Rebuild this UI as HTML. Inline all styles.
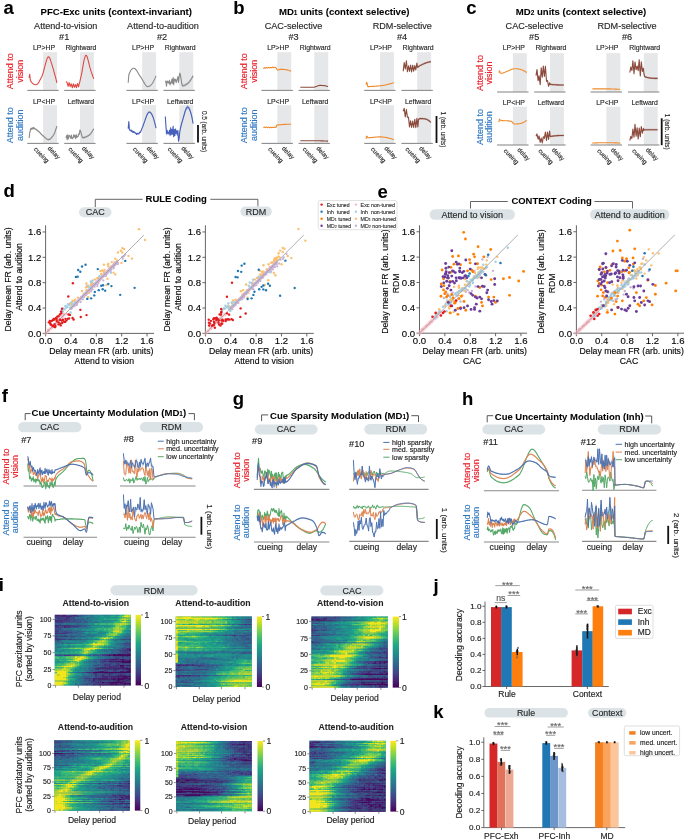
<!DOCTYPE html>
<html><head><meta charset="utf-8"><style>
html,body{margin:0;padding:0;background:#fff;width:685px;height:839px;overflow:hidden}
svg{display:block;font-family:"Liberation Sans", sans-serif;will-change:transform}

</style></head><body>
<svg width="685" height="839" viewBox="0 0 685 839">
<text x="3.6" y="13.5" font-size="18.5" font-weight="bold" fill="#000" stroke="#000" stroke-width="0.07">a</text>
<text x="116.2" y="15.2" font-size="9.6" text-anchor="middle" font-weight="bold" stroke="#1a1a1a" stroke-width="0.07">PFC-Exc units (context-invariant)</text>
<text x="65.7" y="29.3" font-size="9.1" text-anchor="middle" fill="#2a2a2a" stroke="#2a2a2a" stroke-width="0.15">Attend-to-vision</text>
<text x="64.2" y="40.2" font-size="9.2" text-anchor="middle" fill="#2a2a2a" stroke="#2a2a2a" stroke-width="0.15">#1</text>
<rect x="43.1" y="52.2" width="13.9" height="38.2" fill="#e6e7e9"/>
<line x1="27.3" y1="90.4" x2="58.7" y2="90.4" stroke="#8c8c8c" stroke-width="1.1"/>
<text x="44" y="50" font-size="6.9" text-anchor="middle" fill="#2a2a2a" stroke="#2a2a2a" stroke-width="0.15">LP&gt;HP</text>
<path d="M29.1 77.8l.6-3.4 .6 5.3 .6 1.7 .6 .8 .6 .7 .5 .5 .6 .4 .6 .4 .6 .2 .6 .2 .6 .1 .6 0 .6-.2 .6-.5 .6-.6 .6-.9 .6-.9 .5-1.1 .6-1.1 .6-1.1 .6-1.1 .6-1.3 .6-1.6 .6-2 .6-2.3 .6-2.3 .6-2.3 .6-2.3 .6-2 .5-1.8 .6-1.4 .6-.8 .6-.3 .6 .4 .6 1.1 .6 1.5 .6 1.8 .6 2.1 .6 2 .6 1.9 .6 1.8 .5 2 .6 2.1 .6 2.2 .6 2.2 .6 2.4 .6 2.5" fill="none" stroke="#e04a44" stroke-width="1.1" stroke-linejoin="round"/>
<rect x="43.1" y="105.2" width="13.9" height="38.2" fill="#e6e7e9"/>
<line x1="27.3" y1="143.4" x2="58.7" y2="143.4" stroke="#8c8c8c" stroke-width="1.1"/>
<text x="44" y="103.5" font-size="6.9" text-anchor="middle" fill="#2a2a2a" stroke="#2a2a2a" stroke-width="0.15">LP&lt;HP</text>
<path d="M29.1 137l.6-4.8 .6-2.8 .6-2.1 .6 1 .6-1.3 .6 .9 .6-1.5 .6 1.3 .6-.5 .6 .7 .7 .4 .7 .5 .6 .4 .7 .5 .7 .6 .7 .7 .7 .7 .7 .7 .6 .7 .7 .7 .7 .6 .7 .6 .7 .6 .6 .6 .7 .6 .7 .6 .7 .5 .7 .4 .6 .2 .7 .1 .7-.2 .7-.4 .7-.6 .7-.7 .6-.8 .7-.9 .7-1 .7-1.3 .7-1.5 .6-1.9 .7-2 .7-2.1 0 2 -.7 2.1 -.7 2 -.6 1.9 -.7 1.5 -.7 1.3 -.7 1 -.7 .9 -.6 .8 -.7 .7 -.7 .6 -.7 .4 -.7 .2 -.7-.1 -.6-.2 -.7-.4 -.7-.5 -.7-.6 -.7-.6 -.6-.6 -.7-.6 -.7-.6 -.7-.6 -.7-.7 -.6-.7 -.7-.7 -.7-.7 -.7-.7 -.7-.6 -.7-.5 -.6-.4 -.7-.5 -.7-.4 -.6-.7 -.6 .5 -.6-1.3 -.6 1.5 -.6-.9 -.6 1.3 -.6-1 -.6 2.1 -.6 2.8 -.6 4.8z" fill="#8a8a8a" fill-opacity="0.3"/>
<path d="M29.1 138l.6-4.8 .6-2.8 .6-2.1 .6 1 .6-1.3 .6 .9 .6-1.5 .6 1.3 .6-.5 .6 .7 .7 .4 .7 .5 .6 .4 .7 .5 .7 .6 .7 .7 .7 .7 .7 .7 .6 .7 .7 .7 .7 .6 .7 .6 .7 .6 .6 .6 .7 .6 .7 .6 .7 .5 .7 .4 .6 .2 .7 .1 .7-.2 .7-.4 .7-.6 .7-.7 .6-.8 .7-.9 .7-1 .7-1.3 .7-1.5 .6-1.9 .7-2 .7-2.1" fill="none" stroke="#8a8a8a" stroke-width="1.1" stroke-linejoin="round"/>
<text transform="translate(33.5 149.6) rotate(46)" font-size="6.3" fill="#2a2a2a" stroke="#2a2a2a" stroke-width="0.15">cueing</text>
<text transform="translate(47.2 148.7) rotate(46)" font-size="6.3" fill="#2a2a2a" stroke="#2a2a2a" stroke-width="0.15">delay</text>
<rect x="80" y="52.2" width="13.9" height="38.2" fill="#e6e7e9"/>
<line x1="64.2" y1="90.4" x2="95.6" y2="90.4" stroke="#8c8c8c" stroke-width="1.1"/>
<text x="80.9" y="50" font-size="6.9" text-anchor="middle" fill="#2a2a2a" stroke="#2a2a2a" stroke-width="0.15">Rightward</text>
<path d="M66 81.5l1 .9 1.1 3.9 1-3.8 1.1 4.2 1-3 1.1 4.1 1-4 1.1 3.5 1-2.8 1.1 3.2 1-4.2 1.1 3.4 .6-2.8 .7-2.7 .6-2.7 .7-2.9 .7-3.5 .6-3.7 .7-3.8 .6-3.4 .7-3 .7-2.1 .6-1 .7 .3 .7 1.3 .6 2.2 .7 2.6 .7 2.8 .6 2.7 .7 2.2 .6 2 .7 2 .7 1.9 .6 1.8 .7 1.8" fill="none" stroke="#e04a44" stroke-width="1.1" stroke-linejoin="round"/>
<rect x="80" y="105.2" width="13.9" height="38.2" fill="#e6e7e9"/>
<line x1="64.2" y1="143.4" x2="95.6" y2="143.4" stroke="#8c8c8c" stroke-width="1.1"/>
<text x="80.9" y="103.5" font-size="6.9" text-anchor="middle" fill="#2a2a2a" stroke="#2a2a2a" stroke-width="0.15">Leftward</text>
<path d="M66 136.8l.6-2.4 .6 4 .6-4.9 .6 4.2 .6-3.3 .6 .2 .6 .7 .6 1.7 .6-3.2 .6 3.7 .6-.5 .6-.4 .6-3.1 .6 2.2 .6-1.4 .6 3.2 .6-4 .6 2.7 .6-.8 .6-.1 .6-2.5 .6 .5 .7-4.4 .6 .9 .7 2.4 .7 2.6 .6 1.6 .7 0 .6 0 .7-.2 .7-.2 .6-.3 .7-.3 .7-.3 .6-.3 .7-.4 .7-.5 .6-.6 .7-.7 .6-.8 .7-1 .7-1 .6-1 .7-1.1 0 2.4 -.7 1.1 -.6 1 -.7 1 -.7 1 -.6 .8 -.7 .7 -.6 .6 -.7 .5 -.7 .4 -.6 .3 -.7 .3 -.7 .3 -.6 .3 -.7 .2 -.7 .2 -.6 0 -.7 0 -.6-1.6 -.7-2.6 -.7-2.4 -.6-.9 -.7 4.4 -.6-.5 -.6 2.5 -.6 .1 -.6 .8 -.6-2.7 -.6 4 -.6-3.2 -.6 1.4 -.6-2.2 -.6 3.1 -.6 .4 -.6 .5 -.6-3.7 -.6 3.2 -.6-1.7 -.6-.7 -.6-.2 -.6 3.3 -.6-4.2 -.6 4.9 -.6-4 -.6 2.4z" fill="#8a8a8a" fill-opacity="0.3"/>
<path d="M66 138l.6-2.4 .6 4 .6-4.9 .6 4.2 .6-3.3 .6 .2 .6 .7 .6 1.7 .6-3.2 .6 3.7 .6-.5 .6-.4 .6-3.1 .6 2.2 .6-1.4 .6 3.2 .6-4 .6 2.7 .6-.8 .6-.1 .6-2.5 .6 .5 .7-4.4 .6 .9 .7 2.4 .7 2.6 .6 1.6 .7 0 .6 0 .7-.2 .7-.2 .6-.3 .7-.3 .7-.3 .6-.3 .7-.4 .7-.5 .6-.6 .7-.7 .6-.8 .7-1 .7-1 .6-1 .7-1.1" fill="none" stroke="#8a8a8a" stroke-width="1.1" stroke-linejoin="round"/>
<text transform="translate(67.9 149.6) rotate(46)" font-size="6.3" fill="#2a2a2a" stroke="#2a2a2a" stroke-width="0.15">cueing</text>
<text transform="translate(81.6 148.7) rotate(46)" font-size="6.3" fill="#2a2a2a" stroke="#2a2a2a" stroke-width="0.15">delay</text>
<text x="163" y="29.3" font-size="9.1" text-anchor="middle" fill="#2a2a2a" stroke="#2a2a2a" stroke-width="0.15">Attend-to-audition</text>
<text x="162" y="40.2" font-size="9.2" text-anchor="middle" fill="#2a2a2a" stroke="#2a2a2a" stroke-width="0.15">#2</text>
<rect x="142.2" y="52.2" width="13.9" height="38.2" fill="#e6e7e9"/>
<line x1="126.4" y1="90.4" x2="157.8" y2="90.4" stroke="#8c8c8c" stroke-width="1.1"/>
<text x="143.1" y="50" font-size="6.9" text-anchor="middle" fill="#2a2a2a" stroke="#2a2a2a" stroke-width="0.15">LP&gt;HP</text>
<path d="M128.2 82.8l.6-7.8 .6-1.7 .6-1.4 .6-1.2 .6-.9 .5-.7 .6-.4 .6-.3 .6-.1 .6 0 .6 .2 .6 .5 .6 .6 .6 .8 .6 .8 .6 1 .6 1 .5 1 .6 .9 .6 1 .6 .8 .6 .8 .6 1 .6 1 .6 1.1 .6 1.1 .6 1 .6 1 .6 .9 .5 .7 .6 .6 .6 .4 .6 .1 .6-.1 .6-.1 .6-.3 .6-.3 .6-.5 .6-.6 .6-.7 .6-.8 .5-.9 .6-1 .6-1.2 .6-1.3 .6-1.4 .6-1.5" fill="none" stroke="#8a8a8a" stroke-width="1.1" stroke-linejoin="round"/>
<rect x="142.2" y="105.2" width="13.9" height="38.2" fill="#e6e7e9"/>
<line x1="126.4" y1="143.4" x2="157.8" y2="143.4" stroke="#8c8c8c" stroke-width="1.1"/>
<text x="143.1" y="103.5" font-size="6.9" text-anchor="middle" fill="#2a2a2a" stroke="#2a2a2a" stroke-width="0.15">LP&lt;HP</text>
<path d="M128.2 127.6l.6-7.1 .6 7.9 .6 1 .6 .4 .6-.7 .6 1.5 .6-.6 .6 1.5 .6-1 .6 1.1 .6-.3 .6 .9 .6 .1 .6 1.1 .6-1.1 .6 .6 .6-.3 .6 .1 .6-1.4 .6 .2 .6-1.2 .7-1.6 .6-1.6 .7-1.6 .6-1.7 .7-1.9 .7-2 .6-1.9 .7-1.8 .6-1.7 .7-1.4 .7-1.1 .6-.7 .7-.2 .7 .2 .6 .5 .7 .9 .6 1.1 .7 1.5 .7 1.8 .6 2.1 .7 2.4 .6 2.6 .7 2.9 0 2 -.7-2.9 -.6-2.6 -.7-2.4 -.6-2.1 -.7-1.8 -.7-1.5 -.6-1.1 -.7-.9 -.6-.5 -.7-.2 -.7 .2 -.6 .7 -.7 1.1 -.7 1.4 -.6 1.7 -.7 1.8 -.6 1.9 -.7 2 -.7 1.9 -.6 1.7 -.7 1.6 -.6 1.6 -.7 1.6 -.6 1.2 -.6-.2 -.6 1.4 -.6-.1 -.6 .3 -.6-.6 -.6 1.1 -.6-1.1 -.6-.1 -.6-.9 -.6 .3 -.6-1.1 -.6 1 -.6-1.5 -.6 .6 -.6-1.5 -.6 .7 -.6-.4 -.6-1 -.6-7.9 -.6 7.1z" fill="#4660bb" fill-opacity="0.3"/>
<path d="M128.2 128.6l.6-7.1 .6 7.9 .6 1 .6 .4 .6-.7 .6 1.5 .6-.6 .6 1.5 .6-1 .6 1.1 .6-.3 .6 .9 .6 .1 .6 1.1 .6-1.1 .6 .6 .6-.3 .6 .1 .6-1.4 .6 .2 .6-1.2 .7-1.6 .6-1.6 .7-1.6 .6-1.7 .7-1.9 .7-2 .6-1.9 .7-1.8 .6-1.7 .7-1.4 .7-1.1 .6-.7 .7-.2 .7 .2 .6 .5 .7 .9 .6 1.1 .7 1.5 .7 1.8 .6 2.1 .7 2.4 .6 2.6 .7 2.9" fill="none" stroke="#4660bb" stroke-width="1.1" stroke-linejoin="round"/>
<text transform="translate(132.6 149.6) rotate(46)" font-size="6.3" fill="#2a2a2a" stroke="#2a2a2a" stroke-width="0.15">cueing</text>
<text transform="translate(146.3 148.7) rotate(46)" font-size="6.3" fill="#2a2a2a" stroke="#2a2a2a" stroke-width="0.15">delay</text>
<rect x="179.3" y="52.2" width="13.9" height="38.2" fill="#e6e7e9"/>
<line x1="163.5" y1="90.4" x2="194.9" y2="90.4" stroke="#8c8c8c" stroke-width="1.1"/>
<text x="180.2" y="50" font-size="6.9" text-anchor="middle" fill="#2a2a2a" stroke="#2a2a2a" stroke-width="0.15">Rightward</text>
<path d="M165.3 80.8l.6-1.1 .6 4.9 .6-5.1 .6 1.5 .6-.7 .6 1.5 .6-2.9 .6 4.5 .6-2.7 .6 .7 .6-3.6 .6 4.1 .6-5.9 .6 7.3 .6-5.7 .6 1.5 .6-1.2 .6 3.1 .6-1.4 .6-2.3 .6-2 .6 5.6 .6-5.7 .7-3.5 .6 1.9 .7 4.1 .7 4.3 .6 2.3 .7 0 .7-.2 .6-.2 .7-.3 .7-.4 .6-.4 .7-.5 .7-.4 .6-.6 .7-.7 .7-.8 .6-.9 .7-1.1 .7-1 .6-1.2 .7-1.2 0 3 -.7 1.2 -.6 1.2 -.7 1 -.7 1.1 -.6 .9 -.7 .8 -.7 .7 -.6 .6 -.7 .4 -.7 .5 -.6 .4 -.7 .4 -.7 .3 -.6 .2 -.7 .2 -.7 0 -.6-2.3 -.7-4.3 -.7-4.1 -.6-1.9 -.7 3.5 -.6 5.7 -.6-5.6 -.6 2 -.6 2.3 -.6 1.4 -.6-3.1 -.6 1.2 -.6-1.5 -.6 5.7 -.6-7.3 -.6 5.9 -.6-4.1 -.6 3.6 -.6-.7 -.6 2.7 -.6-4.5 -.6 2.9 -.6-1.5 -.6 .7 -.6-1.5 -.6 5.1 -.6-4.9 -.6 1.1z" fill="#8a8a8a" fill-opacity="0.3"/>
<path d="M165.3 82.3l.6-1.1 .6 4.9 .6-5.1 .6 1.5 .6-.7 .6 1.5 .6-2.9 .6 4.5 .6-2.7 .6 .7 .6-3.6 .6 4.1 .6-5.9 .6 7.3 .6-5.7 .6 1.5 .6-1.2 .6 3.1 .6-1.4 .6-2.3 .6-2 .6 5.6 .6-5.7 .7-3.5 .6 1.9 .7 4.1 .7 4.3 .6 2.3 .7 0 .7-.2 .6-.2 .7-.3 .7-.4 .6-.4 .7-.5 .7-.4 .6-.6 .7-.7 .7-.8 .6-.9 .7-1.1 .7-1 .6-1.2 .7-1.2" fill="none" stroke="#8a8a8a" stroke-width="1.1" stroke-linejoin="round"/>
<rect x="179.3" y="105.2" width="13.9" height="38.2" fill="#e6e7e9"/>
<line x1="163.5" y1="143.4" x2="194.9" y2="143.4" stroke="#8c8c8c" stroke-width="1.1"/>
<text x="180.2" y="103.5" font-size="6.9" text-anchor="middle" fill="#2a2a2a" stroke="#2a2a2a" stroke-width="0.15">Leftward</text>
<path d="M165.3 114.5l.6 8.8 .6 8.7 .6-3.6 .6 3 .6-.8 .6 1.2 .6-3.6 .6 5.3 .6-7.7 .6 6.7 .6-5 .6 4.7 .6-7.8 .6 10.2 .6-7.1 .6 6.1 .6-6.6 .6 4.3 .6-2.5 .6 4.1 .6-4.3 .6 10.5 .7-3.2 .6-6.4 .7-3.4 .7-2.8 .6-2.4 .7-2.2 .6-2.3 .7-2.4 .7-2.4 .6-2.2 .7-1.9 .7-1.4 .6-.8 .7-.2 .7 .5 .6 .8 .7 1.4 .6 1.8 .7 2.3 .7 2.7 .6 3.2 .7 3.7 0 4 -.7-3.7 -.6-3.2 -.7-2.7 -.7-2.3 -.6-1.8 -.7-1.4 -.6-.8 -.7-.5 -.7 .2 -.6 .8 -.7 1.4 -.7 1.9 -.6 2.2 -.7 2.4 -.7 2.4 -.6 2.3 -.7 2.2 -.6 2.4 -.7 2.8 -.7 3.4 -.6 6.4 -.7 3.2 -.6-10.5 -.6 4.3 -.6-4.1 -.6 2.5 -.6-4.3 -.6 6.6 -.6-6.1 -.6 7.1 -.6-10.2 -.6 7.8 -.6-4.7 -.6 5 -.6-6.7 -.6 7.7 -.6-5.3 -.6 3.6 -.6-1.2 -.6 .8 -.6-3 -.6 3.6 -.6-8.7 -.6-8.8z" fill="#4660bb" fill-opacity="0.3"/>
<path d="M165.3 116.5l.6 8.8 .6 8.7 .6-3.6 .6 3 .6-.8 .6 1.2 .6-3.6 .6 5.3 .6-7.7 .6 6.7 .6-5 .6 4.7 .6-7.8 .6 10.2 .6-7.1 .6 6.1 .6-6.6 .6 4.3 .6-2.5 .6 4.1 .6-4.3 .6 10.5 .7-3.2 .6-6.4 .7-3.4 .7-2.8 .6-2.4 .7-2.2 .6-2.3 .7-2.4 .7-2.4 .6-2.2 .7-1.9 .7-1.4 .6-.8 .7-.2 .7 .5 .6 .8 .7 1.4 .6 1.8 .7 2.3 .7 2.7 .6 3.2 .7 3.7" fill="none" stroke="#4660bb" stroke-width="1.1" stroke-linejoin="round"/>
<text transform="translate(167.2 149.6) rotate(46)" font-size="6.3" fill="#2a2a2a" stroke="#2a2a2a" stroke-width="0.15">cueing</text>
<text transform="translate(180.9 148.7) rotate(46)" font-size="6.3" fill="#2a2a2a" stroke="#2a2a2a" stroke-width="0.15">delay</text>
<g fill="#e8212b" stroke="#e8212b" stroke-width="0.15" font-size="9" text-anchor="middle">
<text transform="translate(13.2 71.3) rotate(-90)"><tspan x="0" y="0">Attend to</tspan><tspan x="0" y="9.6">vision</tspan></text>
</g>
<g fill="#2f78c2" stroke="#2f78c2" stroke-width="0.15" font-size="9" text-anchor="middle">
<text transform="translate(13.2 125.3) rotate(-90)"><tspan x="0" y="0">Attend to</tspan><tspan x="0" y="9.6">audition</tspan></text>
</g>
<line x1="198" y1="125" x2="198" y2="142.6" stroke="#111" stroke-width="1.8"/>
<text transform="translate(202.4 131.5) rotate(90)" font-size="6.4" text-anchor="middle" fill="#2a2a2a" stroke="#2a2a2a" stroke-width="0.15">0.5 (arb. units)</text>
<text x="233.2" y="13.5" font-size="18.5" font-weight="bold" fill="#000" stroke="#000" stroke-width="0.07">b</text>
<text x="344.2" y="15.2" font-size="9.6" text-anchor="middle" font-weight="bold" stroke="#1a1a1a" stroke-width="0.07">MD<tspan font-size="6.5">1</tspan> units (context selective)</text>
<text x="293.5" y="29.3" font-size="9.1" text-anchor="middle" fill="#2a2a2a" stroke="#2a2a2a" stroke-width="0.15">CAC-selective</text>
<text x="293.6" y="40.2" font-size="9.2" text-anchor="middle" fill="#2a2a2a" stroke="#2a2a2a" stroke-width="0.15">#3</text>
<rect x="277.3" y="52.2" width="13.9" height="38.2" fill="#e6e7e9"/>
<line x1="261.5" y1="90.4" x2="292.9" y2="90.4" stroke="#8c8c8c" stroke-width="1.1"/>
<text x="278.2" y="50" font-size="6.9" text-anchor="middle" fill="#2a2a2a" stroke="#2a2a2a" stroke-width="0.15">LP&gt;HP</text>
<path d="M263.3 68.7l1.1-1.1 1 .7 1.1-.8 1 .4 1.1-.6 1 .6 1.1-.5 1 .3 1.1-.7 1 .9 1.1-.7 1 .6 1.1 1.6 .6 .7 .6-.2 .6-.2 .7-.2 .6-.1 .7 0 .6 0 .7 0 .6 0 .7 0 .6 .1 .6 0 .7 .1 .6 .1 .7 .1 .6 .1 .7 .2 .6 .2 .7 .2 .6 .2 .7 .3 .6 .3" fill="none" stroke="#f08a2a" stroke-width="1.1" stroke-linejoin="round"/>
<rect x="277.3" y="105.2" width="13.9" height="38.2" fill="#e6e7e9"/>
<line x1="261.5" y1="143.4" x2="292.9" y2="143.4" stroke="#8c8c8c" stroke-width="1.1"/>
<text x="278.2" y="103.5" font-size="6.9" text-anchor="middle" fill="#2a2a2a" stroke="#2a2a2a" stroke-width="0.15">LP&lt;HP</text>
<path d="M263.3 127.6l1.1-.5 1 .5 1.1-.5 1 .7 1.1-.7 1 .6 1.1-.6 1 .6 1.1-.5 1 .3 1.1-.5 1 .5 1.1-2.6 .6 .1 .6-.1 .6 0 .7-.1 .6-.1 .7 0 .6-.1 .7 0 .6-.1 .7 0 .6-.1 .6 0 .7 0 .6 0 .7-.1 .6 0 .7 0 .6 0 .7 0 .6 0 .7 0 .6 0" fill="none" stroke="#f08a2a" stroke-width="1.1" stroke-linejoin="round"/>
<text transform="translate(267.7 149.6) rotate(46)" font-size="6.3" fill="#2a2a2a" stroke="#2a2a2a" stroke-width="0.15">cueing</text>
<text transform="translate(281.4 148.7) rotate(46)" font-size="6.3" fill="#2a2a2a" stroke="#2a2a2a" stroke-width="0.15">delay</text>
<rect x="314.3" y="52.2" width="13.9" height="38.2" fill="#e6e7e9"/>
<line x1="298.5" y1="90.4" x2="329.9" y2="90.4" stroke="#8c8c8c" stroke-width="1.1"/>
<text x="315.2" y="50" font-size="6.9" text-anchor="middle" fill="#2a2a2a" stroke="#2a2a2a" stroke-width="0.15">Rightward</text>
<path d="M300.3 87.3l.6 0 .6 0 .6 0 .6 0 .6 0 .5 0 .6 0 .6 0 .6 0 .6 0 .6 0 .6 0 .6 0 .6 0 .6 0 .6 0 .6 0 .5 0 .6 0 .6 0 .6 0 .6 0 .6-.1 .6-.1 .6-.2 .6-.3 .6-.2 .6-.2 .6-.3 .5-.2 .6-.1 .6-.1 .6-.1 .6 0 .6 0 .6 .1 .6 0 .6 0 .6 .1 .6 0 .6 .1 .5 .1 .6 .1 .6 .1 .6 .2 .6 .2 .6 .2" fill="none" stroke="#8b4a3c" stroke-width="1.1" stroke-linejoin="round"/>
<rect x="314.3" y="105.2" width="13.9" height="38.2" fill="#e6e7e9"/>
<line x1="298.5" y1="143.4" x2="329.9" y2="143.4" stroke="#8c8c8c" stroke-width="1.1"/>
<text x="315.2" y="103.5" font-size="6.9" text-anchor="middle" fill="#2a2a2a" stroke="#2a2a2a" stroke-width="0.15">Leftward</text>
<path d="M300.3 140.7l.6 0 .6 0 .6 0 .6 0 .6 0 .5 0 .6 0 .6 0 .6 0 .6 0 .6 0 .6 0 .6 0 .6 0 .6 0 .6 0 .6 0 .5 0 .6 0 .6 0 .6 0 .6 0 .6 0 .6 0 .6 0 .6 0 .6 .1 .6 0 .6 0 .5 0 .6 0 .6 0 .6 0 .6 0 .6 .1 .6 0 .6 0 .6 0 .6 0 .6 .1 .6 0 .5 0 .6 0 .6 0 .6 .1 .6 0 .6 0" fill="none" stroke="#8b4a3c" stroke-width="1.1" stroke-linejoin="round"/>
<text transform="translate(302.2 149.6) rotate(46)" font-size="6.3" fill="#2a2a2a" stroke="#2a2a2a" stroke-width="0.15">cueing</text>
<text transform="translate(315.9 148.7) rotate(46)" font-size="6.3" fill="#2a2a2a" stroke="#2a2a2a" stroke-width="0.15">delay</text>
<text x="402.3" y="29.3" font-size="9.1" text-anchor="middle" fill="#2a2a2a" stroke="#2a2a2a" stroke-width="0.15">RDM-selective</text>
<text x="402" y="40.2" font-size="9.2" text-anchor="middle" fill="#2a2a2a" stroke="#2a2a2a" stroke-width="0.15">#4</text>
<rect x="380" y="52.2" width="13.9" height="38.2" fill="#e6e7e9"/>
<line x1="364.2" y1="90.4" x2="395.6" y2="90.4" stroke="#8c8c8c" stroke-width="1.1"/>
<text x="380.9" y="50" font-size="6.9" text-anchor="middle" fill="#2a2a2a" stroke="#2a2a2a" stroke-width="0.15">LP&gt;HP</text>
<path d="M366 84.7l.6-2.5 .6 1.5 .6 2.9 .6 0 .6 0 .5 0 .6-.1 .6 0 .6 0 .6 0 .6-.1 .6 0 .6 0 .6-.1 .6 0 .6-.1 .6 0 .5-.1 .6 0 .6-.1 .6 0 .6-.1 .6-.1 .6 0 .6-.1 .6-.1 .6 0 .6-.1 .6-.1 .5-.1 .6-.1 .6-.1 .6-.2 .6-.1 .6-.1 .6-.2 .6-.1 .6-.1 .6-.2 .6-.2 .6-.1 .5-.2 .6-.1 .6-.2 .6-.2 .6-.2 .6-.1" fill="none" stroke="#f08a2a" stroke-width="1.1" stroke-linejoin="round"/>
<rect x="380" y="105.2" width="13.9" height="38.2" fill="#e6e7e9"/>
<line x1="364.2" y1="143.4" x2="395.6" y2="143.4" stroke="#8c8c8c" stroke-width="1.1"/>
<text x="380.9" y="103.5" font-size="6.9" text-anchor="middle" fill="#2a2a2a" stroke="#2a2a2a" stroke-width="0.15">LP&lt;HP</text>
<path d="M366 138.8l.6-2.7 .6 .4 .6 1.2 .6 0 .6-.1 .5 0 .6 0 .6 0 .6-.1 .6 0 .6-.1 .6 0 .6-.1 .6-.1 .6 0 .6-.1 .6 0 .5-.1 .6 0 .6 0 .6-.1 .6 0 .6 0 .6 0 .6 0 .6 0 .6 .1 .6 0 .6 .1 .5 .1 .6 0 .6 .1 .6 .1 .6 .1 .6 .1 .6 .2 .6 .1 .6 .1 .6 .2 .6 .1 .6 .2 .5 .2 .6 .1 .6 .2 .6 .2 .6 .2 .6 .2" fill="none" stroke="#f08a2a" stroke-width="1.1" stroke-linejoin="round"/>
<text transform="translate(370.4 149.6) rotate(46)" font-size="6.3" fill="#2a2a2a" stroke="#2a2a2a" stroke-width="0.15">cueing</text>
<text transform="translate(384.1 148.7) rotate(46)" font-size="6.3" fill="#2a2a2a" stroke="#2a2a2a" stroke-width="0.15">delay</text>
<rect x="417.2" y="52.2" width="13.9" height="38.2" fill="#e6e7e9"/>
<line x1="401.4" y1="90.4" x2="432.8" y2="90.4" stroke="#8c8c8c" stroke-width="1.1"/>
<text x="418.1" y="50" font-size="6.9" text-anchor="middle" fill="#2a2a2a" stroke="#2a2a2a" stroke-width="0.15">Rightward</text>
<path d="M403.2 70.3l1-8.7 1.1 6.4 1.1-8.2 1 10.9 1.1-5.8 1 5.4 1.1-6.2 1 6.9 1.1-6.8 1 6 1.1-5.7 1 4.5 1.1-7 .6 4.4 .6-.4 .6-.5 .7-.6 .6-.4 .7-.3 .6-.3 .7-.3 .6-.3 .7-.3 .6-.3 .6-.3 .7-.2 .6-.3 .7-.2 .6-.2 .7-.2 .6-.1 .7-.2 .6-.1 .7-.1 .6 0 0 2 -.6 0 -.7 .1 -.6 .1 -.7 .2 -.6 .1 -.7 .2 -.6 .2 -.7 .2 -.6 .3 -.7 .2 -.6 .3 -.6 .3 -.7 .3 -.6 .3 -.7 .3 -.6 .3 -.7 .3 -.6 .4 -.7 .6 -.6 .5 -.6 .4 -.6-4.4 -1.1 7 -1-4.5 -1.1 5.7 -1-6 -1.1 6.8 -1-6.9 -1.1 6.2 -1-5.4 -1.1 5.8 -1-10.9 -1.1 8.2 -1.1-6.4 -1 8.7z" fill="#8b4a3c" fill-opacity="0.3"/>
<path d="M403.2 71.3l1-8.7 1.1 6.4 1.1-8.2 1 10.9 1.1-5.8 1 5.4 1.1-6.2 1 6.9 1.1-6.8 1 6 1.1-5.7 1 4.5 1.1-7 .6 4.4 .6-.4 .6-.5 .7-.6 .6-.4 .7-.3 .6-.3 .7-.3 .6-.3 .7-.3 .6-.3 .6-.3 .7-.2 .6-.3 .7-.2 .6-.2 .7-.2 .6-.1 .7-.2 .6-.1 .7-.1 .6 0" fill="none" stroke="#8b4a3c" stroke-width="1.1" stroke-linejoin="round"/>
<rect x="417.2" y="105.2" width="13.9" height="38.2" fill="#e6e7e9"/>
<line x1="401.4" y1="143.4" x2="432.8" y2="143.4" stroke="#8c8c8c" stroke-width="1.1"/>
<text x="418.1" y="103.5" font-size="6.9" text-anchor="middle" fill="#2a2a2a" stroke="#2a2a2a" stroke-width="0.15">Leftward</text>
<path d="M403.2 110.3l1-2.9 1.1 8.5 1.1-7.3 1 7.7 1.1 .1 1 9.5 1.1-6.1 1 6.7 1.1-6.4 1 6.4 1.1-8.2 1 8.4 1.1-9.3 1 8.5 .6-7.4 .7-.6 .6-.3 .7 0 .6 0 .7 0 .6 0 .7 .1 .7 0 .6 .1 .7 .2 .6 .1 .7 .2 .7 .3 .6 .3 .7 .4 .6 .4 .7 .5 .6 .6 .7 .6 0 2 -.7-.6 -.6-.6 -.7-.5 -.6-.4 -.7-.4 -.6-.3 -.7-.3 -.7-.2 -.6-.1 -.7-.2 -.6-.1 -.7 0 -.7-.1 -.6 0 -.7 0 -.6 0 -.7 0 -.6 .3 -.7 .6 -.6 7.4 -1-8.5 -1.1 9.3 -1-8.4 -1.1 8.2 -1-6.4 -1.1 6.4 -1-6.7 -1.1 6.1 -1-9.5 -1.1-.1 -1-7.7 -1.1 7.3 -1.1-8.5 -1 2.9z" fill="#8b4a3c" fill-opacity="0.3"/>
<path d="M403.2 111.3l1-2.9 1.1 8.5 1.1-7.3 1 7.7 1.1 .1 1 9.5 1.1-6.1 1 6.7 1.1-6.4 1 6.4 1.1-8.2 1 8.4 1.1-9.3 1 8.5 .6-7.4 .7-.6 .6-.3 .7 0 .6 0 .7 0 .6 0 .7 .1 .7 0 .6 .1 .7 .2 .6 .1 .7 .2 .7 .3 .6 .3 .7 .4 .6 .4 .7 .5 .6 .6 .7 .6" fill="none" stroke="#8b4a3c" stroke-width="1.1" stroke-linejoin="round"/>
<text transform="translate(405.1 149.6) rotate(46)" font-size="6.3" fill="#2a2a2a" stroke="#2a2a2a" stroke-width="0.15">cueing</text>
<text transform="translate(418.8 148.7) rotate(46)" font-size="6.3" fill="#2a2a2a" stroke="#2a2a2a" stroke-width="0.15">delay</text>
<g fill="#e8212b" stroke="#e8212b" stroke-width="0.15" font-size="9" text-anchor="middle">
<text transform="translate(247.2 71.3) rotate(-90)"><tspan x="0" y="0">Attend to</tspan><tspan x="0" y="9.6">vision</tspan></text>
</g>
<g fill="#2f78c2" stroke="#2f78c2" stroke-width="0.15" font-size="9" text-anchor="middle">
<text transform="translate(247.2 125.3) rotate(-90)"><tspan x="0" y="0">Attend to</tspan><tspan x="0" y="9.6">audition</tspan></text>
</g>
<line x1="436.5" y1="116" x2="436.5" y2="143" stroke="#111" stroke-width="1.8"/>
<text transform="translate(441.1 129.5) rotate(90)" font-size="6.4" text-anchor="middle" fill="#2a2a2a" stroke="#2a2a2a" stroke-width="0.15">1 (arb. units)</text>
<text x="466.3" y="13.5" font-size="18.5" font-weight="bold" fill="#000" stroke="#000" stroke-width="0.07">c</text>
<text x="581" y="15.2" font-size="9.6" text-anchor="middle" font-weight="bold" stroke="#1a1a1a" stroke-width="0.07">MD<tspan font-size="6.5">2</tspan> units (context selective)</text>
<text x="534.4" y="29.3" font-size="9.1" text-anchor="middle" fill="#2a2a2a" stroke="#2a2a2a" stroke-width="0.15">CAC-selective</text>
<text x="534.2" y="40.2" font-size="9.2" text-anchor="middle" fill="#2a2a2a" stroke="#2a2a2a" stroke-width="0.15">#5</text>
<rect x="512.9" y="53.16" width="13.9" height="38.84" fill="#e6e7e9"/>
<line x1="497.1" y1="92" x2="528.5" y2="92" stroke="#8c8c8c" stroke-width="1.1"/>
<text x="513.8" y="50" font-size="6.9" text-anchor="middle" fill="#2a2a2a" stroke="#2a2a2a" stroke-width="0.15">LP&gt;HP</text>
<path d="M498.9 72.6l.6-1.9 .6 2.2 .6 .4 .6 0 .6-.1 .5-.1 .6-.2 .6-.2 .6-.2 .6-.2 .6-.3 .6-.2 .6-.3 .6-.3 .6-.3 .6-.2 .6-.3 .5-.2 .6-.3 .6-.2 .6-.2 .6-.2 .6-.2 .6-.2 .6-.2 .6 0 .6 0 .6 0 .6 0 .5 .1 .6 0 .6 .1 .6 .1 .6 .1 .6 .1 .6 .1 .6 .2 .6 .2 .6 .2 .6 .2 .6 .3 .5 .3 .6 .3 .6 .3 .6 .4 .6 .4 .6 .5" fill="none" stroke="#f08a2a" stroke-width="1.1" stroke-linejoin="round"/>
<rect x="512.9" y="106.8" width="13.9" height="38.2" fill="#e6e7e9"/>
<line x1="497.1" y1="145" x2="528.5" y2="145" stroke="#8c8c8c" stroke-width="1.1"/>
<text x="513.8" y="105.1" font-size="6.9" text-anchor="middle" fill="#2a2a2a" stroke="#2a2a2a" stroke-width="0.15">LP&lt;HP</text>
<path d="M498.9 122.1l.6-3.1 .6 1 .6 .3 .6 .1 .6 .1 .5 .1 .6 0 .6 .1 .6 0 .6 0 .6 .1 .6 0 .6 0 .6 0 .6 .1 .6 0 .6 0 .5 .1 .6 .1 .6 .1 .6 .1 .6 .3 .6 .7 .6 .8 .6 .7 .6 .2 .6 0 .6 0 .6 0 .5 0 .6-.1 .6 0 .6-.1 .6 0 .6-.1 .6-.1 .6-.2 .6-.1 .6-.2 .6-.3 .6-.2 .5-.3 .6-.3 .6-.4 .6-.4 .6-.5 .6-.5" fill="none" stroke="#f08a2a" stroke-width="1.1" stroke-linejoin="round"/>
<text transform="translate(503.3 151.2) rotate(46)" font-size="6.3" fill="#2a2a2a" stroke="#2a2a2a" stroke-width="0.15">cueing</text>
<text transform="translate(517 150.3) rotate(46)" font-size="6.3" fill="#2a2a2a" stroke="#2a2a2a" stroke-width="0.15">delay</text>
<rect x="550" y="53.16" width="13.9" height="38.84" fill="#e6e7e9"/>
<line x1="534.2" y1="92" x2="565.6" y2="92" stroke="#8c8c8c" stroke-width="1.1"/>
<text x="550.9" y="50" font-size="6.9" text-anchor="middle" fill="#2a2a2a" stroke="#2a2a2a" stroke-width="0.15">Rightward</text>
<path d="M536 74.7l1-6.1 1.1 11 1-4.9 1.1 9 1-17 1.1 9.5 1-11.2 1.1 10.5 1-10.3 1.1 15.1 1-.8 1.1 5.8 1-3.4 .6 1.4 .7 .1 .6 .1 .7 0 .6 .1 .7 .1 .6 0 .7 .1 .6 0 .7 0 .6 .1 .6 0 .7 0 .6 0 .7 .1 .6 0 .7 0 .6 0 .7 0 .6 0 .7 0 .6 0 0 2 -.6 0 -.7 0 -.6 0 -.7 0 -.6 0 -.7 0 -.6 0 -.7-.1 -.6 0 -.7 0 -.6 0 -.6-.1 -.7 0 -.6 0 -.7-.1 -.6 0 -.7-.1 -.6-.1 -.7 0 -.6-.1 -.7-.1 -.6-1.4 -1 3.4 -1.1-5.8 -1 .8 -1.1-15.1 -1 10.3 -1.1-10.5 -1 11.2 -1.1-9.5 -1 17 -1.1-9 -1 4.9 -1.1-11 -1 6.1z" fill="#8b4a3c" fill-opacity="0.3"/>
<path d="M536 75.7l1-6.1 1.1 11 1-4.9 1.1 9 1-17 1.1 9.5 1-11.2 1.1 10.5 1-10.3 1.1 15.1 1-.8 1.1 5.8 1-3.4 .6 1.4 .7 .1 .6 .1 .7 0 .6 .1 .7 .1 .6 0 .7 .1 .6 0 .7 0 .6 .1 .6 0 .7 0 .6 0 .7 .1 .6 0 .7 0 .6 0 .7 0 .6 0 .7 0 .6 0" fill="none" stroke="#8b4a3c" stroke-width="1.1" stroke-linejoin="round"/>
<rect x="550" y="106.8" width="13.9" height="38.2" fill="#e6e7e9"/>
<line x1="534.2" y1="145" x2="565.6" y2="145" stroke="#8c8c8c" stroke-width="1.1"/>
<text x="550.9" y="105.1" font-size="6.9" text-anchor="middle" fill="#2a2a2a" stroke="#2a2a2a" stroke-width="0.15">Leftward</text>
<path d="M536 135.3l1-2.3 1.1 5.1 1-3.1 1.1 6.3 1-4.3 1.1 4.9 1-6.1 1.1 1.4 1-6.2 1.1 8.5 1-8.4 1.1 7.4 1-8.4 .6 5.4 .7-.1 .6-.1 .7-.1 .6-.1 .7-.1 .6-.1 .7 0 .6-.1 .7-.1 .6 0 .6-.1 .7 0 .6 0 .7-.1 .6 0 .7 0 .6 0 .7 0 .6 0 .7 0 .6-.1 0 2 -.6 .1 -.7 0 -.6 0 -.7 0 -.6 0 -.7 0 -.6 0 -.7 .1 -.6 0 -.7 0 -.6 .1 -.6 0 -.7 .1 -.6 .1 -.7 0 -.6 .1 -.7 .1 -.6 .1 -.7 .1 -.6 .1 -.7 .1 -.6-5.4 -1 8.4 -1.1-7.4 -1 8.4 -1.1-8.5 -1 6.2 -1.1-1.4 -1 6.1 -1.1-4.9 -1 4.3 -1.1-6.3 -1 3.1 -1.1-5.1 -1 2.3z" fill="#8b4a3c" fill-opacity="0.3"/>
<path d="M536 136.3l1-2.3 1.1 5.1 1-3.1 1.1 6.3 1-4.3 1.1 4.9 1-6.1 1.1 1.4 1-6.2 1.1 8.5 1-8.4 1.1 7.4 1-8.4 .6 5.4 .7-.1 .6-.1 .7-.1 .6-.1 .7-.1 .6-.1 .7 0 .6-.1 .7-.1 .6 0 .6-.1 .7 0 .6 0 .7-.1 .6 0 .7 0 .6 0 .7 0 .6 0 .7 0 .6-.1" fill="none" stroke="#8b4a3c" stroke-width="1.1" stroke-linejoin="round"/>
<text transform="translate(537.9 151.2) rotate(46)" font-size="6.3" fill="#2a2a2a" stroke="#2a2a2a" stroke-width="0.15">cueing</text>
<text transform="translate(551.6 150.3) rotate(46)" font-size="6.3" fill="#2a2a2a" stroke="#2a2a2a" stroke-width="0.15">delay</text>
<text x="627" y="29.3" font-size="9.1" text-anchor="middle" fill="#2a2a2a" stroke="#2a2a2a" stroke-width="0.15">RDM-selective</text>
<text x="627" y="40.2" font-size="9.2" text-anchor="middle" fill="#2a2a2a" stroke="#2a2a2a" stroke-width="0.15">#6</text>
<rect x="606.4" y="53.16" width="13.9" height="38.84" fill="#e6e7e9"/>
<line x1="590.6" y1="92" x2="622" y2="92" stroke="#8c8c8c" stroke-width="1.1"/>
<text x="607.3" y="50" font-size="6.9" text-anchor="middle" fill="#2a2a2a" stroke="#2a2a2a" stroke-width="0.15">LP&gt;HP</text>
<path d="M592.4 88.9l.6 0 .6 0 .6 0 .6 0 .6 0 .5 0 .6 0 .6 0 .6 0 .6 0 .6 0 .6 0 .6 0 .6 0 .6 0 .6 0 .6 0 .5 0 .6 0 .6 0 .6 0 .6 0 .6 0 .6 0 .6 0 .6 0 .6 0 .6 0 .6 0 .5 0 .6 0 .6 .1 .6 0 .6 0 .6 0 .6 0 .6 0 .6 .1 .6 0 .6 0 .6 0 .5 .1 .6 0 .6 0 .6 0 .6 .1 .6 0" fill="none" stroke="#f08a2a" stroke-width="1.1" stroke-linejoin="round"/>
<rect x="606.4" y="106.8" width="13.9" height="38.2" fill="#e6e7e9"/>
<line x1="590.6" y1="145" x2="622" y2="145" stroke="#8c8c8c" stroke-width="1.1"/>
<text x="607.3" y="105.1" font-size="6.9" text-anchor="middle" fill="#2a2a2a" stroke="#2a2a2a" stroke-width="0.15">LP&lt;HP</text>
<path d="M592.4 143.1l.6 0 .6-.1 .6 0 .6 0 .6-.1 .5 0 .6 0 .6 0 .6 0 .6-.1 .6 0 .6 0 .6 0 .6 0 .6 0 .6-.1 .6 0 .5 0 .6 0 .6 0 .6 0 .6 0 .6 0 .6 0 .6 0 .6 0 .6 0 .6 0 .6 0 .5 0 .6 0 .6 .1 .6 0 .6 0 .6 0 .6 0 .6 0 .6 .1 .6 0 .6 0 .6 0 .5 0 .6 .1 .6 0 .6 0 .6 .1 .6 0" fill="none" stroke="#f08a2a" stroke-width="1.1" stroke-linejoin="round"/>
<text transform="translate(596.8 151.2) rotate(46)" font-size="6.3" fill="#2a2a2a" stroke="#2a2a2a" stroke-width="0.15">cueing</text>
<text transform="translate(610.5 150.3) rotate(46)" font-size="6.3" fill="#2a2a2a" stroke="#2a2a2a" stroke-width="0.15">delay</text>
<rect x="643.8" y="53.16" width="13.9" height="38.84" fill="#e6e7e9"/>
<line x1="628" y1="92" x2="659.4" y2="92" stroke="#8c8c8c" stroke-width="1.1"/>
<text x="644.7" y="50" font-size="6.9" text-anchor="middle" fill="#2a2a2a" stroke="#2a2a2a" stroke-width="0.15">Rightward</text>
<path d="M629.8 71.5l1-5.4 1.1 3.3 1-9.7 1.1 13 1-11.6 1.1 7.6 1-3.6 1.1 4.5 1-10.7 1.1 16.1 1-14.1 1.1 9.5 1-3.2 .6 5.8 .7 2.6 .6 .3 .7 .2 .6 .2 .7 .2 .6 .1 .7 .2 .6 .1 .7 .1 .6 .1 .6 0 .7 .1 .6 .1 .7 0 .6 0 .7 .1 .6 0 .7 0 .6 0 .7 0 .6 0 0 2 -.6 0 -.7 0 -.6 0 -.7 0 -.6 0 -.7-.1 -.6 0 -.7 0 -.6-.1 -.7-.1 -.6 0 -.6-.1 -.7-.1 -.6-.1 -.7-.2 -.6-.1 -.7-.2 -.6-.2 -.7-.2 -.6-.3 -.7-2.6 -.6-5.8 -1 3.2 -1.1-9.5 -1 14.1 -1.1-16.1 -1 10.7 -1.1-4.5 -1 3.6 -1.1-7.6 -1 11.6 -1.1-13 -1 9.7 -1.1-3.3 -1 5.4z" fill="#8b4a3c" fill-opacity="0.3"/>
<path d="M629.8 72.5l1-5.4 1.1 3.3 1-9.7 1.1 13 1-11.6 1.1 7.6 1-3.6 1.1 4.5 1-10.7 1.1 16.1 1-14.1 1.1 9.5 1-3.2 .6 5.8 .7 2.6 .6 .3 .7 .2 .6 .2 .7 .2 .6 .1 .7 .2 .6 .1 .7 .1 .6 .1 .6 0 .7 .1 .6 .1 .7 0 .6 0 .7 .1 .6 0 .7 0 .6 0 .7 0 .6 0" fill="none" stroke="#8b4a3c" stroke-width="1.1" stroke-linejoin="round"/>
<rect x="643.8" y="106.8" width="13.9" height="38.2" fill="#e6e7e9"/>
<line x1="628" y1="145" x2="659.4" y2="145" stroke="#8c8c8c" stroke-width="1.1"/>
<text x="644.7" y="105.1" font-size="6.9" text-anchor="middle" fill="#2a2a2a" stroke="#2a2a2a" stroke-width="0.15">Leftward</text>
<path d="M629.8 139.5l1-3.9 1.1 1.8 1-9.4 1.1 8.1 1-12.8 1.1 11.8 1-8.4 1.1 11.3 1-10.9 1.1 8.5 1-10.1 1.1 6.7 1-4.8 .6 1.9 .7-.6 .6 0 .7 0 .6 0 .7 0 .6 0 .7 0 .6 0 .7 0 .6 0 .6 0 .7 0 .6 0 .7 0 .6 0 .7 0 .6 0 .7 0 .6 0 .7 0 .6 0 0 2 -.6 0 -.7 0 -.6 0 -.7 0 -.6 0 -.7 0 -.6 0 -.7 0 -.6 0 -.7 0 -.6 0 -.6 0 -.7 0 -.6 0 -.7 0 -.6 0 -.7 0 -.6 0 -.7 0 -.6 0 -.7 .6 -.6-1.9 -1 4.8 -1.1-6.7 -1 10.1 -1.1-8.5 -1 10.9 -1.1-11.3 -1 8.4 -1.1-11.8 -1 12.8 -1.1-8.1 -1 9.4 -1.1-1.8 -1 3.9z" fill="#8b4a3c" fill-opacity="0.3"/>
<path d="M629.8 140.5l1-3.9 1.1 1.8 1-9.4 1.1 8.1 1-12.8 1.1 11.8 1-8.4 1.1 11.3 1-10.9 1.1 8.5 1-10.1 1.1 6.7 1-4.8 .6 1.9 .7-.6 .6 0 .7 0 .6 0 .7 0 .6 0 .7 0 .6 0 .7 0 .6 0 .6 0 .7 0 .6 0 .7 0 .6 0 .7 0 .6 0 .7 0 .6 0 .7 0 .6 0" fill="none" stroke="#8b4a3c" stroke-width="1.1" stroke-linejoin="round"/>
<text transform="translate(631.7 151.2) rotate(46)" font-size="6.3" fill="#2a2a2a" stroke="#2a2a2a" stroke-width="0.15">cueing</text>
<text transform="translate(645.4 150.3) rotate(46)" font-size="6.3" fill="#2a2a2a" stroke="#2a2a2a" stroke-width="0.15">delay</text>
<g fill="#e8212b" stroke="#e8212b" stroke-width="0.15" font-size="9" text-anchor="middle">
<text transform="translate(482.8 72.9) rotate(-90)"><tspan x="0" y="0">Attend to</tspan><tspan x="0" y="9.6">vision</tspan></text>
</g>
<g fill="#2f78c2" stroke="#2f78c2" stroke-width="0.15" font-size="9" text-anchor="middle">
<text transform="translate(482.8 126.9) rotate(-90)"><tspan x="0" y="0">Attend to</tspan><tspan x="0" y="9.6">audition</tspan></text>
</g>
<line x1="661.7" y1="118.3" x2="661.7" y2="145.2" stroke="#111" stroke-width="1.8"/>
<text transform="translate(665.1 131.75) rotate(90)" font-size="6.4" text-anchor="middle" fill="#2a2a2a" stroke="#2a2a2a" stroke-width="0.15">1 (arb. units)</text>
<text x="3.4" y="196.9" font-size="18.5" font-weight="bold" fill="#000" stroke="#000" stroke-width="0.07">d</text>
<path d="M95.3 207.2V199.3H142.6M210.3 199.3H257.9V206.5" fill="none" stroke="#555" stroke-width="0.9"/>
<text x="145.5" y="202.2" font-size="9.6" font-weight="bold" stroke="#1a1a1a" stroke-width="0.07" textLength="61.4" lengthAdjust="spacingAndGlyphs">RULE Coding</text>
<rect x="79" y="207.2" width="32.5" height="10" rx="5" fill="#dce3e6"/>
<text x="95.3" y="215.4" font-size="9" text-anchor="middle" fill="#2a2a2a" stroke="#2a2a2a" stroke-width="0.15">CAC</text>
<rect x="240.4" y="206.5" width="31.4" height="10" rx="5" fill="#dce3e6"/>
<text x="256.1" y="214.7" font-size="9" text-anchor="middle" fill="#2a2a2a" stroke="#2a2a2a" stroke-width="0.15">RDM</text>
<line x1="45.6" y1="333.4" x2="45.6" y2="225.3" stroke="#555" stroke-width="0.9"/>
<line x1="45.6" y1="333.4" x2="154" y2="333.4" stroke="#555" stroke-width="0.9"/>
<line x1="42.6" y1="333.4" x2="45.6" y2="333.4" stroke="#555" stroke-width="0.9"/>
<line x1="45.6" y1="333.4" x2="45.6" y2="336.4" stroke="#555" stroke-width="0.9"/>
<text x="41.3" y="336.8" font-size="9.6" text-anchor="end" stroke="#1a1a1a" stroke-width="0.15">0.0</text>
<text x="45.6" y="344" font-size="9.6" text-anchor="middle" stroke="#1a1a1a" stroke-width="0.15">0.0</text>
<line x1="42.6" y1="308.04" x2="45.6" y2="308.04" stroke="#555" stroke-width="0.9"/>
<line x1="70.96" y1="333.4" x2="70.96" y2="336.4" stroke="#555" stroke-width="0.9"/>
<text x="41.3" y="311.44" font-size="9.6" text-anchor="end" stroke="#1a1a1a" stroke-width="0.15">0.4</text>
<text x="70.96" y="344" font-size="9.6" text-anchor="middle" stroke="#1a1a1a" stroke-width="0.15">0.4</text>
<line x1="42.6" y1="282.68" x2="45.6" y2="282.68" stroke="#555" stroke-width="0.9"/>
<line x1="96.32" y1="333.4" x2="96.32" y2="336.4" stroke="#555" stroke-width="0.9"/>
<text x="41.3" y="286.08" font-size="9.6" text-anchor="end" stroke="#1a1a1a" stroke-width="0.15">0.8</text>
<text x="96.32" y="344" font-size="9.6" text-anchor="middle" stroke="#1a1a1a" stroke-width="0.15">0.8</text>
<line x1="42.6" y1="257.32" x2="45.6" y2="257.32" stroke="#555" stroke-width="0.9"/>
<line x1="121.68" y1="333.4" x2="121.68" y2="336.4" stroke="#555" stroke-width="0.9"/>
<text x="41.3" y="260.72" font-size="9.6" text-anchor="end" stroke="#1a1a1a" stroke-width="0.15">1.2</text>
<text x="121.68" y="344" font-size="9.6" text-anchor="middle" stroke="#1a1a1a" stroke-width="0.15">1.2</text>
<line x1="42.6" y1="231.96" x2="45.6" y2="231.96" stroke="#555" stroke-width="0.9"/>
<line x1="147.04" y1="333.4" x2="147.04" y2="336.4" stroke="#555" stroke-width="0.9"/>
<text x="41.3" y="235.36" font-size="9.6" text-anchor="end" stroke="#1a1a1a" stroke-width="0.15">1.6</text>
<text x="147.04" y="344" font-size="9.6" text-anchor="middle" stroke="#1a1a1a" stroke-width="0.15">1.6</text>
<text x="101.3" y="354" font-size="8.7" text-anchor="middle" stroke="#1a1a1a" stroke-width="0.15">Delay mean FR (arb. units)</text>
<text x="104.3" y="363.6" font-size="8.7" text-anchor="middle" stroke="#1a1a1a" stroke-width="0.15">Attend to vision</text>
<text transform="translate(10.6 279.4) rotate(-90)" font-size="8.7" text-anchor="middle" stroke="#1a1a1a" stroke-width="0.15">Delay mean FR (arb. units)</text>
<text transform="translate(21.6 277) rotate(-90)" font-size="8.7" text-anchor="middle" stroke="#1a1a1a" stroke-width="0.15">Attend to audition</text>
<line x1="45.6" y1="333.4" x2="64.62" y2="314.38" stroke="#fbb4c0" stroke-width="3.5" stroke-opacity="0.5" stroke-linecap="round"/>
<g fill="#fbb4c0"><circle cx="54.37" cy="325.64" r="1"/><circle cx="51.71" cy="327.9" r="1"/><circle cx="48.7" cy="330.38" r="1"/><circle cx="60.86" cy="319.38" r="1"/><circle cx="55.35" cy="323.69" r="1"/><circle cx="66.88" cy="313.72" r="1"/><circle cx="63.95" cy="314.89" r="1"/><circle cx="61.34" cy="315.21" r="1"/><circle cx="48.31" cy="331.27" r="1"/><circle cx="57.35" cy="320.91" r="1"/><circle cx="58.92" cy="320.05" r="1"/><circle cx="47.94" cy="329.72" r="1"/><circle cx="57.28" cy="321.5" r="1"/><circle cx="54.23" cy="324.18" r="1"/><circle cx="52.88" cy="327.05" r="1"/><circle cx="62.74" cy="316.46" r="1"/><circle cx="55.61" cy="323.18" r="1"/><circle cx="48.26" cy="329.82" r="1"/><circle cx="54.61" cy="326.12" r="1"/><circle cx="63.36" cy="313.62" r="1"/></g>
<g fill="#fdbf6f"><circle cx="138.95" cy="229.19" r="1.2"/><circle cx="145.08" cy="239.88" r="1.2"/><circle cx="122.31" cy="248.11" r="1.2"/><circle cx="124.06" cy="248.98" r="1.2"/><circle cx="117.93" cy="252.49" r="1.2"/><circle cx="115.3" cy="258.62" r="1.2"/><circle cx="131.94" cy="258.62" r="1.2"/><circle cx="121.43" cy="262.99" r="1.2"/><circle cx="108.3" cy="263.87" r="1.2"/><circle cx="103.92" cy="264.75" r="1.2"/><circle cx="100.42" cy="270.88" r="1.2"/><circle cx="102.17" cy="270.53" r="1.2"/><circle cx="86.41" cy="283.49" r="1.2"/><circle cx="82.03" cy="291.02" r="1.2"/><circle cx="82.9" cy="297.15" r="1.2"/><circle cx="88.16" cy="297.15" r="1.2"/><circle cx="89.03" cy="292.77" r="1.2"/><circle cx="75.02" cy="299.77" r="1.2"/><circle cx="71.52" cy="303.28" r="1.2"/><circle cx="107.42" cy="278.76" r="1.2"/><circle cx="106.55" cy="284.89" r="1.2"/><circle cx="113.55" cy="272.63" r="1.2"/><circle cx="115.3" cy="274.38" r="1.2"/><circle cx="110.93" cy="266.5" r="1.2"/><circle cx="122.31" cy="252.49" r="1.2"/><circle cx="120.91" cy="250.73" r="1.2"/><circle cx="128.44" cy="255.99" r="1.2"/><circle cx="101.29" cy="274.38" r="1.2"/><circle cx="97.79" cy="277.88" r="1.2"/><circle cx="92.54" cy="283.14" r="1.2"/><circle cx="83.78" cy="293.64" r="1.2"/><circle cx="77.65" cy="302.4" r="1.2"/><circle cx="111.8" cy="262.12" r="1.2"/><circle cx="117.06" cy="260.37" r="1.2"/></g>
<g fill="#fdbf6f"><circle cx="86.12" cy="287.41" r="1.2"/><circle cx="91" cy="284.47" r="1.2"/><circle cx="97.67" cy="278.33" r="1.2"/><circle cx="94.93" cy="279.53" r="1.2"/><circle cx="97.56" cy="278.54" r="1.2"/><circle cx="100.74" cy="279.04" r="1.2"/><circle cx="113.98" cy="264.23" r="1.2"/><circle cx="73.76" cy="301.28" r="1.2"/><circle cx="108.94" cy="270.97" r="1.2"/><circle cx="107.94" cy="264.45" r="1.2"/><circle cx="108.03" cy="271.58" r="1.2"/><circle cx="90.84" cy="285.94" r="1.2"/><circle cx="114.65" cy="262.5" r="1.2"/><circle cx="71.17" cy="304.56" r="1.2"/><circle cx="108.4" cy="266.48" r="1.2"/><circle cx="99.17" cy="277.52" r="1.2"/><circle cx="70.06" cy="303.13" r="1.2"/><circle cx="86.57" cy="290.22" r="1.2"/><circle cx="88.23" cy="287.08" r="1.2"/><circle cx="77.94" cy="297.64" r="1.2"/><circle cx="101.24" cy="273.74" r="1.2"/><circle cx="91.53" cy="283.78" r="1.2"/><circle cx="103.87" cy="271.58" r="1.2"/><circle cx="86.83" cy="285.91" r="1.2"/><circle cx="71.55" cy="304.19" r="1.2"/><circle cx="103.61" cy="271.83" r="1.2"/><circle cx="104.49" cy="269.85" r="1.2"/><circle cx="72.45" cy="300.69" r="1.2"/><circle cx="92" cy="281.96" r="1.2"/><circle cx="92.46" cy="283.14" r="1.2"/></g>
<line x1="70.96" y1="308.04" x2="116.61" y2="262.39" stroke="#cab2d6" stroke-width="3.2" stroke-opacity="0.9" stroke-linecap="round"/>
<g fill="#cab2d6"><circle cx="110.54" cy="271.91" r="1.1"/><circle cx="105.37" cy="275.84" r="1.1"/><circle cx="74.47" cy="304.02" r="1.1"/><circle cx="77.11" cy="304.5" r="1.1"/><circle cx="104.42" cy="273.55" r="1.1"/><circle cx="117.06" cy="263.28" r="1.1"/><circle cx="81.24" cy="299.05" r="1.1"/><circle cx="82.86" cy="299.43" r="1.1"/><circle cx="109.8" cy="270.95" r="1.1"/><circle cx="97.32" cy="284.93" r="1.1"/><circle cx="94.66" cy="286.68" r="1.1"/><circle cx="91.01" cy="291.37" r="1.1"/><circle cx="74.62" cy="306.26" r="1.1"/><circle cx="94.33" cy="285.2" r="1.1"/><circle cx="86.72" cy="294.21" r="1.1"/><circle cx="91.3" cy="289.76" r="1.1"/><circle cx="99.88" cy="280" r="1.1"/><circle cx="107.54" cy="273.61" r="1.1"/><circle cx="105.75" cy="275.9" r="1.1"/><circle cx="111.44" cy="269.29" r="1.1"/><circle cx="71.03" cy="308.58" r="1.1"/><circle cx="106.12" cy="273.96" r="1.1"/><circle cx="99.2" cy="281.48" r="1.1"/><circle cx="117.1" cy="261.58" r="1.1"/><circle cx="122.39" cy="256.73" r="1.1"/><circle cx="71.52" cy="309" r="1.1"/><circle cx="115.68" cy="264.4" r="1.1"/><circle cx="85.86" cy="295.15" r="1.1"/><circle cx="104.41" cy="275.99" r="1.1"/><circle cx="113.68" cy="268.32" r="1.1"/><circle cx="117.91" cy="264.08" r="1.1"/><circle cx="122.84" cy="256.97" r="1.1"/><circle cx="106.13" cy="274.87" r="1.1"/><circle cx="117.96" cy="262.74" r="1.1"/><circle cx="97.89" cy="281.68" r="1.1"/><circle cx="84.25" cy="296.87" r="1.1"/><circle cx="78.28" cy="301.66" r="1.1"/><circle cx="98.15" cy="282.57" r="1.1"/><circle cx="110.48" cy="268.43" r="1.1"/><circle cx="97.31" cy="286.26" r="1.1"/><circle cx="108.08" cy="271.2" r="1.1"/><circle cx="77.03" cy="303.48" r="1.1"/><circle cx="124.19" cy="256.02" r="1.1"/><circle cx="96.26" cy="283.15" r="1.1"/><circle cx="114.54" cy="263.94" r="1.1"/><circle cx="110.95" cy="269.99" r="1.1"/><circle cx="113.82" cy="266.97" r="1.1"/><circle cx="92.66" cy="289.3" r="1.1"/><circle cx="76.52" cy="305.08" r="1.1"/><circle cx="94.67" cy="285.15" r="1.1"/><circle cx="87.48" cy="292.47" r="1.1"/><circle cx="91.38" cy="288.48" r="1.1"/><circle cx="125.29" cy="254.57" r="1.1"/><circle cx="85.95" cy="293.18" r="1.1"/><circle cx="114.31" cy="265.8" r="1.1"/><circle cx="80.75" cy="302.04" r="1.1"/><circle cx="102.79" cy="276.87" r="1.1"/><circle cx="90.33" cy="290.72" r="1.1"/><circle cx="84.03" cy="296.51" r="1.1"/><circle cx="91.5" cy="288.28" r="1.1"/><circle cx="122.64" cy="258.8" r="1.1"/><circle cx="103.29" cy="280.44" r="1.1"/><circle cx="98.77" cy="280.13" r="1.1"/><circle cx="115.48" cy="264.59" r="1.1"/><circle cx="98.35" cy="283.23" r="1.1"/><circle cx="76.26" cy="302.64" r="1.1"/><circle cx="76.22" cy="303.6" r="1.1"/><circle cx="108.71" cy="270.87" r="1.1"/><circle cx="95.86" cy="283.86" r="1.1"/><circle cx="81.31" cy="297.18" r="1.1"/></g>
<g fill="#a6cee3"><circle cx="62.76" cy="311.16" r="1.2"/><circle cx="66.27" cy="307.65" r="1.2"/><circle cx="68.89" cy="305.03" r="1.2"/><circle cx="70.64" cy="312.38" r="1.2"/><circle cx="64.51" cy="309.41" r="1.2"/><circle cx="67.14" cy="306.78" r="1.2"/><circle cx="91.66" cy="282.26" r="1.2"/><circle cx="110.93" cy="272.63" r="1.2"/><circle cx="89.91" cy="287.51" r="1.2"/><circle cx="75.02" cy="302.4" r="1.2"/><circle cx="72.4" cy="304.15" r="1.2"/><circle cx="99.54" cy="276.13" r="1.2"/><circle cx="63.64" cy="308.53" r="1.2"/><circle cx="65.39" cy="305.9" r="1.2"/><circle cx="68.02" cy="304.15" r="1.2"/><circle cx="69.77" cy="307.65" r="1.2"/><circle cx="71.52" cy="302.4" r="1.2"/><circle cx="61.89" cy="312.03" r="1.2"/><circle cx="90.79" cy="281.38" r="1.2"/><circle cx="92.54" cy="280.51" r="1.2"/><circle cx="88.16" cy="285.76" r="1.2"/></g>
<line x1="45.6" y1="333.4" x2="143.87" y2="235.13" stroke="#9a9a9a" stroke-width="0.8"/>
<g fill="#e31a1c"><circle cx="48.89" cy="322.33" r="1.2"/><circle cx="50.21" cy="323.21" r="1.2"/><circle cx="51.52" cy="321.02" r="1.2"/><circle cx="52.83" cy="320.14" r="1.2"/><circle cx="53.71" cy="318.83" r="1.2"/><circle cx="54.58" cy="319.44" r="1.2"/><circle cx="55.9" cy="317.95" r="1.2"/><circle cx="57.21" cy="316.64" r="1.2"/><circle cx="58.53" cy="316.2" r="1.2"/><circle cx="59.84" cy="314.45" r="1.2"/><circle cx="61.15" cy="313.14" r="1.2"/><circle cx="62.03" cy="308.76" r="1.2"/><circle cx="61.15" cy="311.39" r="1.2"/><circle cx="50.64" cy="324.52" r="1.2"/><circle cx="51.96" cy="325.4" r="1.2"/><circle cx="53.27" cy="326.27" r="1.2"/><circle cx="55.02" cy="327.15" r="1.2"/><circle cx="54.58" cy="324.52" r="1.2"/><circle cx="49.77" cy="321.02" r="1.2"/><circle cx="56.77" cy="318.83" r="1.2"/><circle cx="56.77" cy="321.02" r="1.2"/><circle cx="58.53" cy="322.33" r="1.2"/><circle cx="60.28" cy="323.64" r="1.2"/><circle cx="61.59" cy="320.58" r="1.2"/><circle cx="62.9" cy="319.7" r="1.2"/><circle cx="63.78" cy="321.46" r="1.2"/><circle cx="65.09" cy="321.89" r="1.2"/><circle cx="66.41" cy="320.58" r="1.2"/><circle cx="67.72" cy="318.83" r="1.2"/><circle cx="69.03" cy="318.39" r="1.2"/><circle cx="69.91" cy="314.89" r="1.2"/><circle cx="68.6" cy="314.45" r="1.2"/><circle cx="72.54" cy="317.95" r="1.2"/><circle cx="73.59" cy="319.44" r="1.2"/><circle cx="60.71" cy="325.4" r="1.2"/><circle cx="58.53" cy="324.35" r="1.2"/><circle cx="62.2" cy="322.94" r="1.2"/><circle cx="65.53" cy="318.83" r="1.2"/><circle cx="55.46" cy="326.1" r="1.2"/><circle cx="59.84" cy="319.7" r="1.2"/><circle cx="72.88" cy="283.18" r="1.2"/><circle cx="68.3" cy="296.44" r="1.2"/><circle cx="80.35" cy="309.86" r="1.2"/><circle cx="80.76" cy="316.93" r="1.2"/><circle cx="86.54" cy="315.08" r="1.2"/></g>
<g fill="#1f78b4"><circle cx="75.9" cy="277.01" r="1.2"/><circle cx="77.65" cy="276.66" r="1.2"/><circle cx="78.18" cy="270" r="1.2"/><circle cx="80.28" cy="271.75" r="1.2"/><circle cx="82.03" cy="266.5" r="1.2"/><circle cx="85.53" cy="264.75" r="1.2"/><circle cx="97.79" cy="269.12" r="1.2"/><circle cx="87.28" cy="298.9" r="1.2"/><circle cx="91.14" cy="298.37" r="1.2"/><circle cx="94.29" cy="295.4" r="1.2"/><circle cx="94.81" cy="291.89" r="1.2"/><circle cx="98.67" cy="290.14" r="1.2"/><circle cx="101.29" cy="285.76" r="1.2"/><circle cx="103.05" cy="285.24" r="1.2"/><circle cx="102.7" cy="289.27" r="1.2"/><circle cx="105.15" cy="290.67" r="1.2"/><circle cx="108.3" cy="284.01" r="1.2"/><circle cx="111.45" cy="286.11" r="1.2"/><circle cx="120.21" cy="294.87" r="1.2"/><circle cx="125.29" cy="260.89" r="1.2"/><circle cx="134.57" cy="287.86" r="1.2"/></g>
<line x1="205.4" y1="333.4" x2="205.4" y2="225.3" stroke="#555" stroke-width="0.9"/>
<line x1="205.4" y1="333.4" x2="313.8" y2="333.4" stroke="#555" stroke-width="0.9"/>
<line x1="202.4" y1="333.4" x2="205.4" y2="333.4" stroke="#555" stroke-width="0.9"/>
<line x1="205.4" y1="333.4" x2="205.4" y2="336.4" stroke="#555" stroke-width="0.9"/>
<text x="201.1" y="336.8" font-size="9.6" text-anchor="end" stroke="#1a1a1a" stroke-width="0.15">0.0</text>
<text x="205.4" y="344" font-size="9.6" text-anchor="middle" stroke="#1a1a1a" stroke-width="0.15">0.0</text>
<line x1="202.4" y1="308.04" x2="205.4" y2="308.04" stroke="#555" stroke-width="0.9"/>
<line x1="230.76" y1="333.4" x2="230.76" y2="336.4" stroke="#555" stroke-width="0.9"/>
<text x="201.1" y="311.44" font-size="9.6" text-anchor="end" stroke="#1a1a1a" stroke-width="0.15">0.4</text>
<text x="230.76" y="344" font-size="9.6" text-anchor="middle" stroke="#1a1a1a" stroke-width="0.15">0.4</text>
<line x1="202.4" y1="282.68" x2="205.4" y2="282.68" stroke="#555" stroke-width="0.9"/>
<line x1="256.12" y1="333.4" x2="256.12" y2="336.4" stroke="#555" stroke-width="0.9"/>
<text x="201.1" y="286.08" font-size="9.6" text-anchor="end" stroke="#1a1a1a" stroke-width="0.15">0.8</text>
<text x="256.12" y="344" font-size="9.6" text-anchor="middle" stroke="#1a1a1a" stroke-width="0.15">0.8</text>
<line x1="202.4" y1="257.32" x2="205.4" y2="257.32" stroke="#555" stroke-width="0.9"/>
<line x1="281.48" y1="333.4" x2="281.48" y2="336.4" stroke="#555" stroke-width="0.9"/>
<text x="201.1" y="260.72" font-size="9.6" text-anchor="end" stroke="#1a1a1a" stroke-width="0.15">1.2</text>
<text x="281.48" y="344" font-size="9.6" text-anchor="middle" stroke="#1a1a1a" stroke-width="0.15">1.2</text>
<line x1="202.4" y1="231.96" x2="205.4" y2="231.96" stroke="#555" stroke-width="0.9"/>
<line x1="306.84" y1="333.4" x2="306.84" y2="336.4" stroke="#555" stroke-width="0.9"/>
<text x="201.1" y="235.36" font-size="9.6" text-anchor="end" stroke="#1a1a1a" stroke-width="0.15">1.6</text>
<text x="306.84" y="344" font-size="9.6" text-anchor="middle" stroke="#1a1a1a" stroke-width="0.15">1.6</text>
<text x="261.1" y="354" font-size="8.7" text-anchor="middle" stroke="#1a1a1a" stroke-width="0.15">Delay mean FR (arb. units)</text>
<text x="264.1" y="363.6" font-size="8.7" text-anchor="middle" stroke="#1a1a1a" stroke-width="0.15">Attend to vision</text>
<text transform="translate(170.4 279.4) rotate(-90)" font-size="8.7" text-anchor="middle" stroke="#1a1a1a" stroke-width="0.15">Delay mean FR (arb. units)</text>
<text transform="translate(181.4 277) rotate(-90)" font-size="8.7" text-anchor="middle" stroke="#1a1a1a" stroke-width="0.15">Attend to audition</text>
<line x1="205.4" y1="333.4" x2="224.42" y2="314.38" stroke="#fbb4c0" stroke-width="3.5" stroke-opacity="0.5" stroke-linecap="round"/>
<g fill="#fbb4c0"><circle cx="211.1" cy="328.76" r="1"/><circle cx="217.9" cy="321.38" r="1"/><circle cx="213.87" cy="324.8" r="1"/><circle cx="213.68" cy="324.75" r="1"/><circle cx="220.29" cy="319.24" r="1"/><circle cx="227.04" cy="313.06" r="1"/><circle cx="225.71" cy="314.09" r="1"/><circle cx="219.48" cy="318.75" r="1"/><circle cx="221.41" cy="316.75" r="1"/><circle cx="216.02" cy="321.43" r="1"/><circle cx="213.41" cy="326.36" r="1"/><circle cx="216.47" cy="320.87" r="1"/><circle cx="217.82" cy="320.67" r="1"/><circle cx="225.4" cy="314.67" r="1"/><circle cx="214.57" cy="324.51" r="1"/><circle cx="218.31" cy="320.49" r="1"/><circle cx="214.4" cy="324.89" r="1"/><circle cx="210.02" cy="327.78" r="1"/><circle cx="208.35" cy="331.56" r="1"/><circle cx="211.81" cy="326.7" r="1"/></g>
<g fill="#fdbf6f"><circle cx="298.45" cy="228.99" r="1.2"/><circle cx="305.34" cy="240.62" r="1.2"/><circle cx="282.69" cy="247.91" r="1.2"/><circle cx="284.46" cy="248.78" r="1.2"/><circle cx="278.62" cy="253.2" r="1.2"/><circle cx="276.46" cy="257.7" r="1.2"/><circle cx="291.29" cy="258.11" r="1.2"/><circle cx="281.57" cy="264.32" r="1.2"/><circle cx="268.55" cy="264.32" r="1.2"/><circle cx="263.53" cy="265.2" r="1.2"/><circle cx="259.89" cy="270.82" r="1.2"/><circle cx="262.04" cy="271.71" r="1.2"/><circle cx="246" cy="284.51" r="1.2"/><circle cx="240.86" cy="291.28" r="1.2"/><circle cx="243.36" cy="296.67" r="1.2"/><circle cx="247.5" cy="297.69" r="1.2"/><circle cx="248.2" cy="292.66" r="1.2"/><circle cx="235.54" cy="299.76" r="1.2"/><circle cx="231.85" cy="303.04" r="1.2"/><circle cx="268.37" cy="280.28" r="1.2"/><circle cx="264.73" cy="285.04" r="1.2"/><circle cx="273.84" cy="272.94" r="1.2"/><circle cx="275.43" cy="275.27" r="1.2"/><circle cx="269.77" cy="267.04" r="1.2"/><circle cx="282.75" cy="251.96" r="1.2"/><circle cx="280.17" cy="250.6" r="1.2"/><circle cx="287.75" cy="255.97" r="1.2"/><circle cx="260.25" cy="274.41" r="1.2"/><circle cx="257.03" cy="277.91" r="1.2"/><circle cx="251.84" cy="283.76" r="1.2"/><circle cx="243.67" cy="293.9" r="1.2"/><circle cx="237.47" cy="302.72" r="1.2"/><circle cx="272.07" cy="262.74" r="1.2"/><circle cx="277.44" cy="259.35" r="1.2"/></g>
<g fill="#fdbf6f"><circle cx="229.05" cy="306.32" r="1.2"/><circle cx="275.07" cy="263.37" r="1.2"/><circle cx="242.53" cy="294.72" r="1.2"/><circle cx="261.87" cy="274.5" r="1.2"/><circle cx="252.61" cy="282.57" r="1.2"/><circle cx="269.99" cy="269.41" r="1.2"/><circle cx="273.63" cy="261.83" r="1.2"/><circle cx="274.6" cy="260.16" r="1.2"/><circle cx="254.84" cy="279.42" r="1.2"/><circle cx="279.45" cy="257.37" r="1.2"/><circle cx="274.72" cy="258.24" r="1.2"/><circle cx="263.52" cy="271.75" r="1.2"/><circle cx="266.77" cy="269.14" r="1.2"/><circle cx="239.04" cy="299.57" r="1.2"/><circle cx="274.1" cy="260.45" r="1.2"/><circle cx="278.28" cy="256.49" r="1.2"/><circle cx="276.78" cy="261.07" r="1.2"/><circle cx="236.45" cy="300.67" r="1.2"/><circle cx="246.89" cy="290.57" r="1.2"/><circle cx="276.03" cy="258.69" r="1.2"/><circle cx="232.96" cy="300.56" r="1.2"/><circle cx="243.15" cy="290.15" r="1.2"/><circle cx="263.24" cy="272.93" r="1.2"/><circle cx="260.79" cy="275.88" r="1.2"/><circle cx="243.85" cy="293.76" r="1.2"/><circle cx="267.22" cy="271.81" r="1.2"/><circle cx="230.64" cy="307.82" r="1.2"/><circle cx="271.07" cy="262.6" r="1.2"/><circle cx="259.48" cy="277.16" r="1.2"/><circle cx="232.75" cy="306.87" r="1.2"/></g>
<line x1="230.76" y1="308.04" x2="276.41" y2="262.39" stroke="#cab2d6" stroke-width="3.2" stroke-opacity="0.9" stroke-linecap="round"/>
<g fill="#cab2d6"><circle cx="254.33" cy="284.69" r="1.1"/><circle cx="261.77" cy="278.15" r="1.1"/><circle cx="280.41" cy="259.75" r="1.1"/><circle cx="244.13" cy="296.85" r="1.1"/><circle cx="263.17" cy="277.44" r="1.1"/><circle cx="248.48" cy="290.25" r="1.1"/><circle cx="272.75" cy="266.8" r="1.1"/><circle cx="259.13" cy="280.02" r="1.1"/><circle cx="241.85" cy="298.31" r="1.1"/><circle cx="258.17" cy="281.19" r="1.1"/><circle cx="243.27" cy="296.75" r="1.1"/><circle cx="232.56" cy="307.09" r="1.1"/><circle cx="236.17" cy="303.6" r="1.1"/><circle cx="249.1" cy="290.43" r="1.1"/><circle cx="232.45" cy="309.28" r="1.1"/><circle cx="272.29" cy="267.63" r="1.1"/><circle cx="274.16" cy="267.06" r="1.1"/><circle cx="231.41" cy="309.32" r="1.1"/><circle cx="260" cy="281.15" r="1.1"/><circle cx="254.82" cy="285.63" r="1.1"/><circle cx="251.98" cy="288.2" r="1.1"/><circle cx="233.8" cy="306.46" r="1.1"/><circle cx="282.76" cy="258.63" r="1.1"/><circle cx="246.29" cy="294.34" r="1.1"/><circle cx="282.79" cy="258.94" r="1.1"/><circle cx="252.38" cy="288.51" r="1.1"/><circle cx="241.99" cy="299.14" r="1.1"/><circle cx="243.56" cy="297.85" r="1.1"/><circle cx="242.58" cy="296.28" r="1.1"/><circle cx="275.24" cy="267.02" r="1.1"/><circle cx="276.11" cy="264.2" r="1.1"/><circle cx="277.26" cy="266.29" r="1.1"/><circle cx="244.39" cy="296.24" r="1.1"/><circle cx="247.21" cy="292.94" r="1.1"/><circle cx="259.68" cy="279.22" r="1.1"/><circle cx="271.18" cy="271.19" r="1.1"/><circle cx="269.65" cy="271.26" r="1.1"/><circle cx="276.2" cy="263.99" r="1.1"/><circle cx="272.24" cy="268.92" r="1.1"/><circle cx="258.55" cy="281.07" r="1.1"/><circle cx="267.7" cy="272.29" r="1.1"/><circle cx="271.67" cy="267.62" r="1.1"/><circle cx="240.78" cy="298.71" r="1.1"/><circle cx="283.94" cy="257.3" r="1.1"/><circle cx="260.39" cy="280.62" r="1.1"/><circle cx="266.21" cy="274.45" r="1.1"/><circle cx="265.17" cy="274.63" r="1.1"/><circle cx="269.32" cy="271.62" r="1.1"/><circle cx="233.27" cy="305.69" r="1.1"/><circle cx="235.48" cy="305.36" r="1.1"/><circle cx="246.05" cy="293.33" r="1.1"/><circle cx="238.37" cy="302.91" r="1.1"/><circle cx="272.86" cy="269.44" r="1.1"/><circle cx="258" cy="282.78" r="1.1"/><circle cx="240.7" cy="299.86" r="1.1"/><circle cx="252.51" cy="288.58" r="1.1"/><circle cx="241.89" cy="298.2" r="1.1"/><circle cx="272.14" cy="268.59" r="1.1"/><circle cx="252.44" cy="288.71" r="1.1"/><circle cx="276.73" cy="264.22" r="1.1"/><circle cx="269.78" cy="271.65" r="1.1"/><circle cx="256.53" cy="284.99" r="1.1"/><circle cx="263.06" cy="277.14" r="1.1"/><circle cx="286.56" cy="254.07" r="1.1"/><circle cx="269.72" cy="270.61" r="1.1"/><circle cx="253.1" cy="286.37" r="1.1"/><circle cx="253.37" cy="289.16" r="1.1"/><circle cx="279.16" cy="263.56" r="1.1"/><circle cx="264.04" cy="275.08" r="1.1"/><circle cx="269.41" cy="272.06" r="1.1"/></g>
<g fill="#a6cee3"><circle cx="222.36" cy="309.83" r="1.2"/><circle cx="227.61" cy="307.32" r="1.2"/><circle cx="227.66" cy="306.26" r="1.2"/><circle cx="230.31" cy="311.03" r="1.2"/><circle cx="224.75" cy="308.83" r="1.2"/><circle cx="226.75" cy="307.35" r="1.2"/><circle cx="251.74" cy="283.1" r="1.2"/><circle cx="270.58" cy="272.24" r="1.2"/><circle cx="249.74" cy="287.11" r="1.2"/><circle cx="234.48" cy="301.95" r="1.2"/><circle cx="232.5" cy="305.41" r="1.2"/><circle cx="258.55" cy="276.68" r="1.2"/><circle cx="223.94" cy="308.3" r="1.2"/><circle cx="225.41" cy="305.77" r="1.2"/><circle cx="228.3" cy="303.43" r="1.2"/><circle cx="229.15" cy="308.87" r="1.2"/><circle cx="231.83" cy="302.56" r="1.2"/><circle cx="221.72" cy="312.17" r="1.2"/><circle cx="249.74" cy="282.53" r="1.2"/><circle cx="253.07" cy="279.68" r="1.2"/><circle cx="248.67" cy="285.6" r="1.2"/></g>
<line x1="205.4" y1="333.4" x2="303.67" y2="235.13" stroke="#9a9a9a" stroke-width="0.8"/>
<g fill="#e31a1c"><circle cx="208.9" cy="322.65" r="1.2"/><circle cx="210.06" cy="323.51" r="1.2"/><circle cx="210.91" cy="320.86" r="1.2"/><circle cx="213.93" cy="321.58" r="1.2"/><circle cx="213.97" cy="318.31" r="1.2"/><circle cx="213.46" cy="319.2" r="1.2"/><circle cx="215.78" cy="318.31" r="1.2"/><circle cx="216.63" cy="317.71" r="1.2"/><circle cx="219.62" cy="314.42" r="1.2"/><circle cx="220.85" cy="314.67" r="1.2"/><circle cx="221.17" cy="312.85" r="1.2"/><circle cx="221.21" cy="308.95" r="1.2"/><circle cx="221.36" cy="311.71" r="1.2"/><circle cx="209.11" cy="325.49" r="1.2"/><circle cx="211.95" cy="325.65" r="1.2"/><circle cx="212.84" cy="325.24" r="1.2"/><circle cx="214.89" cy="327.69" r="1.2"/><circle cx="214.34" cy="322.88" r="1.2"/><circle cx="208.71" cy="319.66" r="1.2"/><circle cx="217.67" cy="318.95" r="1.2"/><circle cx="216.32" cy="319.94" r="1.2"/><circle cx="218.51" cy="322.74" r="1.2"/><circle cx="221.46" cy="323.51" r="1.2"/><circle cx="221.64" cy="320.55" r="1.2"/><circle cx="222.47" cy="319.61" r="1.2"/><circle cx="223.3" cy="321.07" r="1.2"/><circle cx="225.7" cy="321.07" r="1.2"/><circle cx="227.11" cy="319.44" r="1.2"/><circle cx="228.1" cy="319.29" r="1.2"/><circle cx="229.57" cy="319.65" r="1.2"/><circle cx="229.17" cy="314.67" r="1.2"/><circle cx="227.12" cy="313.33" r="1.2"/><circle cx="231.56" cy="319.09" r="1.2"/><circle cx="232.81" cy="320.02" r="1.2"/><circle cx="220.49" cy="325.52" r="1.2"/><circle cx="219.11" cy="324.47" r="1.2"/><circle cx="222.14" cy="323.7" r="1.2"/><circle cx="225.71" cy="319.42" r="1.2"/><circle cx="213.78" cy="325.1" r="1.2"/><circle cx="218.83" cy="320.53" r="1.2"/><circle cx="232.01" cy="282.68" r="1.2"/><circle cx="226.94" cy="296.74" r="1.2"/><circle cx="240.59" cy="308.41" r="1.2"/><circle cx="240.33" cy="316.88" r="1.2"/><circle cx="245.68" cy="313.57" r="1.2"/></g>
<g fill="#1f78b4"><circle cx="235.59" cy="277.05" r="1.2"/><circle cx="237.56" cy="277.35" r="1.2"/><circle cx="237.97" cy="270.96" r="1.2"/><circle cx="241.21" cy="271.87" r="1.2"/><circle cx="241.7" cy="265.61" r="1.2"/><circle cx="244.41" cy="263.68" r="1.2"/><circle cx="258.75" cy="269.71" r="1.2"/><circle cx="247.61" cy="298.97" r="1.2"/><circle cx="251.61" cy="298.34" r="1.2"/><circle cx="253.4" cy="294.92" r="1.2"/><circle cx="254.45" cy="291.76" r="1.2"/><circle cx="259.21" cy="289.22" r="1.2"/><circle cx="261.57" cy="286.84" r="1.2"/><circle cx="263.37" cy="285.47" r="1.2"/><circle cx="263.31" cy="289.41" r="1.2"/><circle cx="266.03" cy="290.28" r="1.2"/><circle cx="268.1" cy="283.79" r="1.2"/><circle cx="269.91" cy="285.68" r="1.2"/><circle cx="280.1" cy="295.7" r="1.2"/><circle cx="285.4" cy="260.65" r="1.2"/><circle cx="294.64" cy="287.95" r="1.2"/></g>
<text x="377.4" y="197.6" font-size="18.5" font-weight="bold" fill="#000" stroke="#000" stroke-width="0.07">e</text>
<path d="M470.5 208.5V201.5H507.8M594.4 201.5H632.5V208.5" fill="none" stroke="#555" stroke-width="0.9"/>
<text x="511.4" y="204.3" font-size="9.6" font-weight="bold" stroke="#1a1a1a" stroke-width="0.07" textLength="80.4" lengthAdjust="spacingAndGlyphs">CONTEXT Coding</text>
<rect x="429.6" y="209.2" width="85.3" height="10.5" rx="5.25" fill="#dce3e6"/>
<text x="472.3" y="217.6" font-size="9" text-anchor="middle" fill="#2a2a2a" stroke="#2a2a2a" stroke-width="0.15">Attend to vision</text>
<rect x="590" y="209.2" width="79.4" height="10.5" rx="5.25" fill="#dce3e6"/>
<text x="629.7" y="217.6" font-size="9" text-anchor="middle" fill="#2a2a2a" stroke="#2a2a2a" stroke-width="0.15">Attend to audition</text>
<line x1="419.5" y1="333.2" x2="419.5" y2="225.3" stroke="#555" stroke-width="0.9"/>
<line x1="419.5" y1="333.2" x2="527" y2="333.2" stroke="#555" stroke-width="0.9"/>
<line x1="416.5" y1="333.2" x2="419.5" y2="333.2" stroke="#555" stroke-width="0.9"/>
<line x1="419.5" y1="333.2" x2="419.5" y2="336.2" stroke="#555" stroke-width="0.9"/>
<text x="415.2" y="336.6" font-size="9.6" text-anchor="end" stroke="#1a1a1a" stroke-width="0.15">0.0</text>
<text x="419.5" y="344" font-size="9.6" text-anchor="middle" stroke="#1a1a1a" stroke-width="0.15">0.0</text>
<line x1="416.5" y1="307.84" x2="419.5" y2="307.84" stroke="#555" stroke-width="0.9"/>
<line x1="444.86" y1="333.2" x2="444.86" y2="336.2" stroke="#555" stroke-width="0.9"/>
<text x="415.2" y="311.24" font-size="9.6" text-anchor="end" stroke="#1a1a1a" stroke-width="0.15">0.4</text>
<text x="444.86" y="344" font-size="9.6" text-anchor="middle" stroke="#1a1a1a" stroke-width="0.15">0.4</text>
<line x1="416.5" y1="282.48" x2="419.5" y2="282.48" stroke="#555" stroke-width="0.9"/>
<line x1="470.22" y1="333.2" x2="470.22" y2="336.2" stroke="#555" stroke-width="0.9"/>
<text x="415.2" y="285.88" font-size="9.6" text-anchor="end" stroke="#1a1a1a" stroke-width="0.15">0.8</text>
<text x="470.22" y="344" font-size="9.6" text-anchor="middle" stroke="#1a1a1a" stroke-width="0.15">0.8</text>
<line x1="416.5" y1="257.12" x2="419.5" y2="257.12" stroke="#555" stroke-width="0.9"/>
<line x1="495.58" y1="333.2" x2="495.58" y2="336.2" stroke="#555" stroke-width="0.9"/>
<text x="415.2" y="260.52" font-size="9.6" text-anchor="end" stroke="#1a1a1a" stroke-width="0.15">1.2</text>
<text x="495.58" y="344" font-size="9.6" text-anchor="middle" stroke="#1a1a1a" stroke-width="0.15">1.2</text>
<line x1="416.5" y1="231.76" x2="419.5" y2="231.76" stroke="#555" stroke-width="0.9"/>
<line x1="520.94" y1="333.2" x2="520.94" y2="336.2" stroke="#555" stroke-width="0.9"/>
<text x="415.2" y="235.16" font-size="9.6" text-anchor="end" stroke="#1a1a1a" stroke-width="0.15">1.6</text>
<text x="520.94" y="344" font-size="9.6" text-anchor="middle" stroke="#1a1a1a" stroke-width="0.15">1.6</text>
<text x="474.75" y="354" font-size="8.7" text-anchor="middle" stroke="#1a1a1a" stroke-width="0.15">Delay mean FR (arb. units)</text>
<text x="472.05" y="363.6" font-size="8.7" text-anchor="middle" stroke="#1a1a1a" stroke-width="0.15">CAC</text>
<text transform="translate(387.6 281.6) rotate(-90)" font-size="8.7" text-anchor="middle" stroke="#1a1a1a" stroke-width="0.15">Delay mean FR (arb. units)</text>
<text transform="translate(398.6 283.4) rotate(-90)" font-size="8.7" text-anchor="middle" stroke="#1a1a1a" stroke-width="0.15">RDM</text>
<line x1="419.5" y1="333.2" x2="440.42" y2="312.28" stroke="#fbb4c0" stroke-width="4" stroke-opacity="0.6" stroke-linecap="round"/>
<g fill="#fbb4c0"><circle cx="436.11" cy="314.32" r="1.2"/><circle cx="437.19" cy="317.22" r="1.2"/><circle cx="431.74" cy="321.91" r="1.2"/><circle cx="427.18" cy="325.39" r="1.2"/><circle cx="422.99" cy="328.58" r="1.2"/><circle cx="429.42" cy="323.75" r="1.2"/><circle cx="430.28" cy="322.04" r="1.2"/><circle cx="422.02" cy="329.45" r="1.2"/><circle cx="422.67" cy="329.32" r="1.2"/><circle cx="439.26" cy="312.27" r="1.2"/><circle cx="434.22" cy="318.72" r="1.2"/><circle cx="425.9" cy="326.22" r="1.2"/></g>
<g fill="#cab2d6"><circle cx="443.9" cy="298" r="1.2"/><circle cx="447.4" cy="293.62" r="1.2"/><circle cx="450.03" cy="296.25" r="1.2"/><circle cx="455.28" cy="300.62" r="1.2"/><circle cx="460.53" cy="301.5" r="1.2"/><circle cx="465.79" cy="291.87" r="1.2"/><circle cx="467.54" cy="290.12" r="1.2"/><circle cx="474.55" cy="270.85" r="1.2"/><circle cx="482.43" cy="259.47" r="1.2"/><circle cx="492.94" cy="270.85" r="1.2"/><circle cx="487.68" cy="256.84" r="1.2"/><circle cx="448.43" cy="295.54" r="1.2"/><circle cx="452.59" cy="292.61" r="1.2"/><circle cx="458.1" cy="298.41" r="1.2"/><circle cx="469.19" cy="292.42" r="1.2"/><circle cx="471.9" cy="290.84" r="1.2"/><circle cx="475.51" cy="286.56" r="1.2"/></g>
<g fill="#fdbf6f"><circle cx="449.15" cy="308.51" r="1.2"/><circle cx="450.9" cy="312.88" r="1.2"/><circle cx="453.53" cy="312.01" r="1.2"/><circle cx="458.78" cy="286.61" r="1.2"/><circle cx="462.29" cy="288.36" r="1.2"/><circle cx="466.66" cy="281.36" r="1.2"/><circle cx="472.79" cy="278.73" r="1.2"/><circle cx="478.05" cy="267.35" r="1.2"/><circle cx="481.55" cy="267.35" r="1.2"/><circle cx="484.18" cy="269.1" r="1.2"/><circle cx="486.81" cy="260.34" r="1.2"/><circle cx="497.31" cy="256.84" r="1.2"/><circle cx="458.78" cy="295.37" r="1.2"/><circle cx="462.29" cy="295.37" r="1.2"/><circle cx="446.52" cy="302.38" r="1.2"/><circle cx="454.08" cy="286.89" r="1.2"/><circle cx="458.96" cy="285.79" r="1.2"/><circle cx="465.1" cy="279.13" r="1.2"/><circle cx="475.07" cy="273.03" r="1.2"/><circle cx="477.89" cy="269.12" r="1.2"/><circle cx="479.83" cy="267.78" r="1.2"/><circle cx="486.2" cy="264.6" r="1.2"/></g>
<g fill="#fdbf6f"><circle cx="464.89" cy="284.67" r="1.25"/><circle cx="478.81" cy="272.32" r="1.25"/><circle cx="476.65" cy="278.1" r="1.25"/><circle cx="448.54" cy="301.27" r="1.25"/><circle cx="451.12" cy="299.47" r="1.25"/><circle cx="479.62" cy="271.9" r="1.25"/><circle cx="435.96" cy="313.16" r="1.25"/><circle cx="479.35" cy="277.24" r="1.25"/><circle cx="477.31" cy="275.43" r="1.25"/><circle cx="459" cy="287.74" r="1.25"/><circle cx="453.65" cy="301.27" r="1.25"/><circle cx="451.26" cy="299.28" r="1.25"/><circle cx="449.67" cy="300.21" r="1.25"/><circle cx="458.93" cy="291.2" r="1.25"/><circle cx="464.43" cy="290.75" r="1.25"/><circle cx="464.57" cy="288.05" r="1.25"/><circle cx="485.45" cy="268.32" r="1.25"/><circle cx="474.55" cy="276.2" r="1.25"/><circle cx="469.07" cy="281.93" r="1.25"/><circle cx="482.56" cy="267.93" r="1.25"/><circle cx="449.27" cy="306.85" r="1.25"/><circle cx="444.68" cy="306.1" r="1.25"/><circle cx="469.24" cy="283.2" r="1.25"/><circle cx="439.39" cy="312.11" r="1.25"/><circle cx="439.14" cy="309.14" r="1.25"/><circle cx="461.61" cy="289.6" r="1.25"/><circle cx="460.68" cy="291.59" r="1.25"/><circle cx="481.15" cy="271.91" r="1.25"/><circle cx="467.79" cy="284.41" r="1.25"/><circle cx="464.4" cy="287.94" r="1.25"/></g>
<g fill="#a6cee3"><circle cx="436.02" cy="313.76" r="1.25"/><circle cx="439.52" cy="311.13" r="1.25"/><circle cx="443.02" cy="306.75" r="1.25"/><circle cx="445.65" cy="304.13" r="1.25"/><circle cx="447.4" cy="300.62" r="1.25"/><circle cx="450.03" cy="297.12" r="1.25"/><circle cx="452.65" cy="295.37" r="1.25"/><circle cx="457.91" cy="292.74" r="1.25"/><circle cx="461.41" cy="290.12" r="1.25"/><circle cx="465.79" cy="289.24" r="1.25"/><circle cx="469.29" cy="286.61" r="1.25"/><circle cx="472.79" cy="283.11" r="1.25"/><circle cx="476.3" cy="277.86" r="1.25"/><circle cx="481.55" cy="272.6" r="1.25"/><circle cx="483.3" cy="264.72" r="1.25"/><circle cx="486.81" cy="267.35" r="1.25"/><circle cx="495.56" cy="261.74" r="1.25"/><circle cx="507.82" cy="247.73" r="1.25"/><circle cx="459.66" cy="290.99" r="1.25"/><circle cx="450.9" cy="302.38" r="1.25"/><circle cx="446.52" cy="311.13" r="1.25"/><circle cx="452.59" cy="298.29" r="1.25"/><circle cx="455.58" cy="293.34" r="1.25"/><circle cx="457.5" cy="292.13" r="1.25"/><circle cx="462.08" cy="288.55" r="1.25"/><circle cx="465.19" cy="287.91" r="1.25"/><circle cx="466.71" cy="285.9" r="1.25"/><circle cx="472.04" cy="280.34" r="1.25"/><circle cx="473.83" cy="276.81" r="1.25"/><circle cx="479.76" cy="275.11" r="1.25"/><circle cx="480.14" cy="273.88" r="1.25"/><circle cx="486.03" cy="267.49" r="1.25"/></g>
<g fill="#a6cee3"><circle cx="477.58" cy="277.27" r="1.25"/><circle cx="449.59" cy="304.87" r="1.25"/><circle cx="461.99" cy="289.33" r="1.25"/><circle cx="470.7" cy="279.76" r="1.25"/><circle cx="469.42" cy="282.74" r="1.25"/><circle cx="478.98" cy="274.22" r="1.25"/><circle cx="476.29" cy="275.27" r="1.25"/><circle cx="478.81" cy="274.53" r="1.25"/><circle cx="435.54" cy="316.33" r="1.25"/><circle cx="455.31" cy="294.47" r="1.25"/><circle cx="457.1" cy="295.49" r="1.25"/><circle cx="438.11" cy="313.53" r="1.25"/><circle cx="435.32" cy="318.15" r="1.25"/><circle cx="473.95" cy="278.24" r="1.25"/><circle cx="483.19" cy="271.68" r="1.25"/><circle cx="472.56" cy="280.72" r="1.25"/><circle cx="450.72" cy="301.9" r="1.25"/><circle cx="467.26" cy="281.16" r="1.25"/><circle cx="449.79" cy="303.69" r="1.25"/><circle cx="469.58" cy="282.42" r="1.25"/><circle cx="448.69" cy="303.39" r="1.25"/><circle cx="472.57" cy="279.6" r="1.25"/><circle cx="480.53" cy="271.22" r="1.25"/><circle cx="481.13" cy="270.27" r="1.25"/><circle cx="477.84" cy="277" r="1.25"/><circle cx="478.57" cy="273.14" r="1.25"/><circle cx="470.04" cy="284.91" r="1.25"/><circle cx="462.34" cy="290.61" r="1.25"/></g>
<line x1="419.5" y1="333.2" x2="517.77" y2="234.93" stroke="#9a9a9a" stroke-width="0.8"/>
<g fill="#ff7f00"><circle cx="463.69" cy="232.32" r="1.4"/><circle cx="465.44" cy="238.98" r="1.4"/><circle cx="478.05" cy="246.68" r="1.4"/><circle cx="490.66" cy="249.48" r="1.4"/><circle cx="452.65" cy="256.49" r="1.4"/><circle cx="458.43" cy="255.96" r="1.4"/><circle cx="473.67" cy="254.21" r="1.4"/><circle cx="474.55" cy="256.84" r="1.4"/><circle cx="483.83" cy="256.84" r="1.4"/><circle cx="442.15" cy="269.98" r="1.4"/><circle cx="450.9" cy="267.35" r="1.4"/><circle cx="460.53" cy="264.72" r="1.4"/><circle cx="470.17" cy="262.97" r="1.4"/><circle cx="467.54" cy="270.85" r="1.4"/><circle cx="441.27" cy="283.99" r="1.4"/><circle cx="443.9" cy="285.74" r="1.4"/><circle cx="445.65" cy="291.87" r="1.4"/><circle cx="450.03" cy="281.36" r="1.4"/><circle cx="440.92" cy="296.25" r="1.4"/><circle cx="446.52" cy="297.12" r="1.4"/><circle cx="461.41" cy="296.25" r="1.4"/><circle cx="464.04" cy="301.5" r="1.4"/><circle cx="457.91" cy="308.51" r="1.4"/><circle cx="460.53" cy="307.63" r="1.4"/><circle cx="465.79" cy="310.26" r="1.4"/><circle cx="457.91" cy="314.29" r="1.4"/><circle cx="475.42" cy="296.25" r="1.4"/><circle cx="481.55" cy="302.38" r="1.4"/><circle cx="482.43" cy="305.88" r="1.4"/><circle cx="488.56" cy="297.12" r="1.4"/><circle cx="493.81" cy="297.12" r="1.4"/><circle cx="495.56" cy="302.38" r="1.4"/><circle cx="491.18" cy="279.61" r="1.4"/><circle cx="503.44" cy="278.73" r="1.4"/><circle cx="509.57" cy="277.51" r="1.4"/><circle cx="518.68" cy="281.01" r="1.4"/><circle cx="523.58" cy="271.38" r="1.4"/><circle cx="509.57" cy="295.37" r="1.4"/><circle cx="479.8" cy="287.49" r="1.4"/><circle cx="451.78" cy="294.49" r="1.4"/><circle cx="455.28" cy="302.38" r="1.4"/><circle cx="450.03" cy="312.88" r="1.4"/><circle cx="443.55" cy="278.82" r="1.4"/><circle cx="443.47" cy="289.9" r="1.4"/><circle cx="444.77" cy="293.66" r="1.4"/><circle cx="447.52" cy="295.74" r="1.4"/><circle cx="453.2" cy="297.99" r="1.4"/><circle cx="454.65" cy="303.21" r="1.4"/><circle cx="459.11" cy="298.6" r="1.4"/><circle cx="450.48" cy="272.36" r="1.4"/><circle cx="453.95" cy="264.17" r="1.4"/><circle cx="469.55" cy="259.54" r="1.4"/><circle cx="471.85" cy="270.14" r="1.4"/><circle cx="472.86" cy="271.74" r="1.4"/><circle cx="477.57" cy="263.75" r="1.4"/></g>
<g fill="#6a3d9a"><circle cx="451.78" cy="250.71" r="1.45"/><circle cx="445.65" cy="263.5" r="1.45"/><circle cx="446.17" cy="271.73" r="1.45"/><circle cx="444.77" cy="276.98" r="1.45"/><circle cx="447.4" cy="277.86" r="1.45"/><circle cx="449.15" cy="272.6" r="1.45"/><circle cx="451.78" cy="276.1" r="1.45"/><circle cx="450.03" cy="282.23" r="1.45"/><circle cx="441.27" cy="286.61" r="1.45"/><circle cx="447.4" cy="288.36" r="1.45"/><circle cx="450.9" cy="290.12" r="1.45"/><circle cx="456.16" cy="262.09" r="1.45"/><circle cx="458.78" cy="263.85" r="1.45"/><circle cx="459.66" cy="270.85" r="1.45"/><circle cx="462.29" cy="272.6" r="1.45"/><circle cx="465.79" cy="259.99" r="1.45"/><circle cx="464.91" cy="276.1" r="1.45"/><circle cx="460.53" cy="277.86" r="1.45"/><circle cx="463.16" cy="277.86" r="1.45"/><circle cx="470.17" cy="269.1" r="1.45"/><circle cx="475.42" cy="263.85" r="1.45"/><circle cx="471.04" cy="293.62" r="1.45"/><circle cx="472.79" cy="295.37" r="1.45"/><circle cx="475.42" cy="297.12" r="1.45"/><circle cx="477.17" cy="298" r="1.45"/><circle cx="479.8" cy="297.12" r="1.45"/><circle cx="481.55" cy="298.87" r="1.45"/><circle cx="478.05" cy="286.61" r="1.45"/><circle cx="482.43" cy="286.26" r="1.45"/><circle cx="484.18" cy="286.61" r="1.45"/><circle cx="486.81" cy="292.74" r="1.45"/><circle cx="488.56" cy="299.75" r="1.45"/><circle cx="491.18" cy="301.5" r="1.45"/><circle cx="493.81" cy="300.62" r="1.45"/><circle cx="497.31" cy="300.97" r="1.45"/><circle cx="494.69" cy="278.73" r="1.45"/><circle cx="494.69" cy="284.51" r="1.45"/><circle cx="467.54" cy="305.88" r="1.45"/><circle cx="471.04" cy="309.38" r="1.45"/><circle cx="474.55" cy="307.63" r="1.45"/><circle cx="476.3" cy="304.13" r="1.45"/><circle cx="474.55" cy="309.38" r="1.45"/><circle cx="479.8" cy="311.13" r="1.45"/><circle cx="464.04" cy="307.63" r="1.45"/><circle cx="460.53" cy="308.51" r="1.45"/><circle cx="455.28" cy="310.26" r="1.45"/><circle cx="451.78" cy="305.88" r="1.45"/><circle cx="448.28" cy="302.38" r="1.45"/><circle cx="487.68" cy="290.12" r="1.45"/><circle cx="492.06" cy="304.13" r="1.45"/><circle cx="485.05" cy="274.35" r="1.45"/><circle cx="481.55" cy="277.86" r="1.45"/><circle cx="455.28" cy="272.6" r="1.45"/><circle cx="452.65" cy="281.36" r="1.45"/><circle cx="456.16" cy="277.86" r="1.45"/><circle cx="445.33" cy="274.28" r="1.45"/><circle cx="443.06" cy="276.67" r="1.45"/><circle cx="445.71" cy="273.57" r="1.45"/><circle cx="446.76" cy="281.29" r="1.45"/><circle cx="447.8" cy="275.74" r="1.45"/><circle cx="448.41" cy="277.93" r="1.45"/><circle cx="452.51" cy="270.96" r="1.45"/><circle cx="453.45" cy="271.34" r="1.45"/><circle cx="448.79" cy="267.1" r="1.45"/><circle cx="445.98" cy="268.28" r="1.45"/><circle cx="457.35" cy="264.29" r="1.45"/><circle cx="459.86" cy="268.09" r="1.45"/><circle cx="459.71" cy="271.75" r="1.45"/><circle cx="463.8" cy="271.35" r="1.45"/><circle cx="465.58" cy="275.72" r="1.45"/><circle cx="459.01" cy="277.73" r="1.45"/><circle cx="459.63" cy="277.94" r="1.45"/><circle cx="461.18" cy="278.24" r="1.45"/><circle cx="466.8" cy="277.72" r="1.45"/><circle cx="443.8" cy="282.85" r="1.45"/><circle cx="449.16" cy="285.82" r="1.45"/><circle cx="454.46" cy="283.07" r="1.45"/><circle cx="456.35" cy="280.76" r="1.45"/></g>
<g fill="#1f78b4"><circle cx="488.21" cy="254.74" r="1.3"/><circle cx="500.47" cy="262.97" r="1.3"/><circle cx="468.42" cy="276.1" r="1.3"/><circle cx="469.64" cy="273.48" r="1.3"/><circle cx="485.93" cy="275.23" r="1.3"/></g>
<g fill="#e31a1c"><circle cx="432.51" cy="316.74" r="1.3"/><circle cx="435.67" cy="312.88" r="1.3"/><circle cx="440.92" cy="315.51" r="1.3"/><circle cx="443.02" cy="312.88" r="1.3"/><circle cx="444.42" cy="311.48" r="1.3"/><circle cx="450.9" cy="305.88" r="1.3"/><circle cx="456.16" cy="300.62" r="1.3"/></g>
<line x1="576.4" y1="333.2" x2="576.4" y2="225.3" stroke="#555" stroke-width="0.9"/>
<line x1="576.4" y1="333.2" x2="684" y2="333.2" stroke="#555" stroke-width="0.9"/>
<line x1="573.4" y1="333.2" x2="576.4" y2="333.2" stroke="#555" stroke-width="0.9"/>
<line x1="576.4" y1="333.2" x2="576.4" y2="336.2" stroke="#555" stroke-width="0.9"/>
<text x="572.1" y="336.6" font-size="9.6" text-anchor="end" stroke="#1a1a1a" stroke-width="0.15">0.0</text>
<text x="576.4" y="344" font-size="9.6" text-anchor="middle" stroke="#1a1a1a" stroke-width="0.15">0.0</text>
<line x1="573.4" y1="307.84" x2="576.4" y2="307.84" stroke="#555" stroke-width="0.9"/>
<line x1="601.76" y1="333.2" x2="601.76" y2="336.2" stroke="#555" stroke-width="0.9"/>
<text x="572.1" y="311.24" font-size="9.6" text-anchor="end" stroke="#1a1a1a" stroke-width="0.15">0.4</text>
<text x="601.76" y="344" font-size="9.6" text-anchor="middle" stroke="#1a1a1a" stroke-width="0.15">0.4</text>
<line x1="573.4" y1="282.48" x2="576.4" y2="282.48" stroke="#555" stroke-width="0.9"/>
<line x1="627.12" y1="333.2" x2="627.12" y2="336.2" stroke="#555" stroke-width="0.9"/>
<text x="572.1" y="285.88" font-size="9.6" text-anchor="end" stroke="#1a1a1a" stroke-width="0.15">0.8</text>
<text x="627.12" y="344" font-size="9.6" text-anchor="middle" stroke="#1a1a1a" stroke-width="0.15">0.8</text>
<line x1="573.4" y1="257.12" x2="576.4" y2="257.12" stroke="#555" stroke-width="0.9"/>
<line x1="652.48" y1="333.2" x2="652.48" y2="336.2" stroke="#555" stroke-width="0.9"/>
<text x="572.1" y="260.52" font-size="9.6" text-anchor="end" stroke="#1a1a1a" stroke-width="0.15">1.2</text>
<text x="652.48" y="344" font-size="9.6" text-anchor="middle" stroke="#1a1a1a" stroke-width="0.15">1.2</text>
<line x1="573.4" y1="231.76" x2="576.4" y2="231.76" stroke="#555" stroke-width="0.9"/>
<line x1="677.84" y1="333.2" x2="677.84" y2="336.2" stroke="#555" stroke-width="0.9"/>
<text x="572.1" y="235.16" font-size="9.6" text-anchor="end" stroke="#1a1a1a" stroke-width="0.15">1.6</text>
<text x="677.84" y="344" font-size="9.6" text-anchor="middle" stroke="#1a1a1a" stroke-width="0.15">1.6</text>
<text x="631.7" y="354" font-size="8.7" text-anchor="middle" stroke="#1a1a1a" stroke-width="0.15">Delay mean FR (arb. units)</text>
<text x="629" y="363.6" font-size="8.7" text-anchor="middle" stroke="#1a1a1a" stroke-width="0.15">CAC</text>
<text transform="translate(544.4 281.6) rotate(-90)" font-size="8.7" text-anchor="middle" stroke="#1a1a1a" stroke-width="0.15">Delay mean FR (arb. units)</text>
<text transform="translate(555.4 283.4) rotate(-90)" font-size="8.7" text-anchor="middle" stroke="#1a1a1a" stroke-width="0.15">RDM</text>
<line x1="576.4" y1="333.2" x2="597.32" y2="312.28" stroke="#fbb4c0" stroke-width="4" stroke-opacity="0.6" stroke-linecap="round"/>
<g fill="#fbb4c0"><circle cx="593.01" cy="314.32" r="1.2"/><circle cx="594.09" cy="317.22" r="1.2"/><circle cx="588.64" cy="321.91" r="1.2"/><circle cx="584.08" cy="325.39" r="1.2"/><circle cx="579.89" cy="328.58" r="1.2"/><circle cx="586.32" cy="323.75" r="1.2"/><circle cx="587.18" cy="322.04" r="1.2"/><circle cx="578.92" cy="329.45" r="1.2"/><circle cx="579.57" cy="329.32" r="1.2"/><circle cx="596.16" cy="312.27" r="1.2"/><circle cx="591.12" cy="318.72" r="1.2"/><circle cx="582.8" cy="326.22" r="1.2"/></g>
<g fill="#cab2d6"><circle cx="604.19" cy="299.19" r="1.2"/><circle cx="600.88" cy="301.67" r="1.2"/><circle cx="607.49" cy="300.01" r="1.2"/><circle cx="613.27" cy="300.84" r="1.2"/><circle cx="615.74" cy="299.19" r="1.2"/><circle cx="624.83" cy="290.93" r="1.2"/><circle cx="628.95" cy="278.55" r="1.2"/><circle cx="642.99" cy="258.74" r="1.2"/><circle cx="648.77" cy="271.12" r="1.2"/><circle cx="623.17" cy="280.2" r="1.2"/><circle cx="604.16" cy="297.05" r="1.2"/><circle cx="608.36" cy="292.21" r="1.2"/><circle cx="617.12" cy="298.73" r="1.2"/><circle cx="623.74" cy="294.61" r="1.2"/><circle cx="630.64" cy="287.17" r="1.2"/><circle cx="633.54" cy="288.18" r="1.2"/></g>
<g fill="#fdbf6f"><circle cx="648.77" cy="249.33" r="1.2"/><circle cx="652.89" cy="253.29" r="1.2"/><circle cx="658.67" cy="253.45" r="1.2"/><circle cx="643.81" cy="257.09" r="1.2"/><circle cx="646.29" cy="260.39" r="1.2"/><circle cx="641.34" cy="263.69" r="1.2"/><circle cx="651.24" cy="265.34" r="1.2"/><circle cx="644.64" cy="273.6" r="1.2"/><circle cx="636.38" cy="278.55" r="1.2"/><circle cx="628.13" cy="282.68" r="1.2"/><circle cx="621.52" cy="282.68" r="1.2"/><circle cx="617.4" cy="285.15" r="1.2"/><circle cx="612.44" cy="292.58" r="1.2"/><circle cx="607.49" cy="297.54" r="1.2"/><circle cx="606.66" cy="312.4" r="1.2"/><circle cx="601.71" cy="307.44" r="1.2"/><circle cx="607.49" cy="309.92" r="1.2"/><circle cx="614.09" cy="304.14" r="1.2"/><circle cx="612.72" cy="284.58" r="1.2"/><circle cx="617.69" cy="287.06" r="1.2"/><circle cx="622.58" cy="280.21" r="1.2"/><circle cx="630.65" cy="274.97" r="1.2"/><circle cx="634.04" cy="270.15" r="1.2"/><circle cx="637.5" cy="268.97" r="1.2"/><circle cx="642.47" cy="263.67" r="1.2"/></g>
<g fill="#fdbf6f"><circle cx="608.17" cy="302.73" r="1.25"/><circle cx="638.83" cy="270.93" r="1.25"/><circle cx="603.53" cy="304.98" r="1.25"/><circle cx="603.65" cy="305.97" r="1.25"/><circle cx="611.59" cy="293.68" r="1.25"/><circle cx="606.47" cy="303.6" r="1.25"/><circle cx="628.36" cy="281.89" r="1.25"/><circle cx="601.31" cy="306.99" r="1.25"/><circle cx="636.71" cy="274.35" r="1.25"/><circle cx="634.97" cy="271.76" r="1.25"/><circle cx="594.25" cy="312.63" r="1.25"/><circle cx="622.27" cy="288.77" r="1.25"/><circle cx="602.05" cy="305.59" r="1.25"/><circle cx="608.97" cy="299.21" r="1.25"/><circle cx="616.56" cy="289.72" r="1.25"/><circle cx="616.69" cy="291.97" r="1.25"/><circle cx="618.12" cy="292.9" r="1.25"/><circle cx="636.13" cy="271.01" r="1.25"/><circle cx="607.75" cy="300.4" r="1.25"/><circle cx="600.99" cy="307.96" r="1.25"/><circle cx="626.11" cy="282" r="1.25"/><circle cx="639.71" cy="267.34" r="1.25"/><circle cx="640.85" cy="269.26" r="1.25"/><circle cx="637.73" cy="273.63" r="1.25"/><circle cx="595.76" cy="310.07" r="1.25"/><circle cx="640.51" cy="267.72" r="1.25"/><circle cx="626.71" cy="281.28" r="1.25"/><circle cx="637.67" cy="275.21" r="1.25"/><circle cx="612.89" cy="293.33" r="1.25"/><circle cx="606.28" cy="305.8" r="1.25"/></g>
<g fill="#a6cee3"><circle cx="595.11" cy="309.92" r="1.25"/><circle cx="599.23" cy="307.44" r="1.25"/><circle cx="601.71" cy="304.97" r="1.25"/><circle cx="605.84" cy="301.67" r="1.25"/><circle cx="609.14" cy="297.54" r="1.25"/><circle cx="610.79" cy="295.06" r="1.25"/><circle cx="614.92" cy="290.93" r="1.25"/><circle cx="618.22" cy="288.46" r="1.25"/><circle cx="621.52" cy="285.15" r="1.25"/><circle cx="624.83" cy="282.68" r="1.25"/><circle cx="628.13" cy="284.33" r="1.25"/><circle cx="630.6" cy="279.38" r="1.25"/><circle cx="634.73" cy="276.07" r="1.25"/><circle cx="638.86" cy="272.77" r="1.25"/><circle cx="644.64" cy="264.52" r="1.25"/><circle cx="605.01" cy="306.62" r="1.25"/><circle cx="613.27" cy="293.41" r="1.25"/><circle cx="608.35" cy="297.45" r="1.25"/><circle cx="611.81" cy="293.84" r="1.25"/><circle cx="614.05" cy="291.84" r="1.25"/><circle cx="619.14" cy="289.63" r="1.25"/><circle cx="620.48" cy="288.87" r="1.25"/><circle cx="623.06" cy="287.46" r="1.25"/><circle cx="628.23" cy="283.64" r="1.25"/><circle cx="633.81" cy="277.82" r="1.25"/><circle cx="632.42" cy="275.76" r="1.25"/><circle cx="635.3" cy="273.44" r="1.25"/><circle cx="641.13" cy="272.5" r="1.25"/></g>
<g fill="#a6cee3"><circle cx="632.42" cy="278.58" r="1.25"/><circle cx="610.28" cy="300.21" r="1.25"/><circle cx="624.56" cy="284.01" r="1.25"/><circle cx="632.03" cy="275.33" r="1.25"/><circle cx="622.71" cy="285.91" r="1.25"/><circle cx="617.09" cy="289.48" r="1.25"/><circle cx="628.16" cy="279.59" r="1.25"/><circle cx="627.26" cy="284.51" r="1.25"/><circle cx="614.82" cy="295.74" r="1.25"/><circle cx="619.92" cy="288.54" r="1.25"/><circle cx="628.5" cy="280.68" r="1.25"/><circle cx="593.97" cy="314.1" r="1.25"/><circle cx="623.41" cy="285.38" r="1.25"/><circle cx="626.56" cy="281.72" r="1.25"/><circle cx="611.69" cy="300.08" r="1.25"/><circle cx="615.21" cy="292.74" r="1.25"/><circle cx="601.82" cy="307.84" r="1.25"/><circle cx="624.16" cy="286.12" r="1.25"/><circle cx="638.17" cy="271.05" r="1.25"/><circle cx="606" cy="303.74" r="1.25"/><circle cx="613.75" cy="294.91" r="1.25"/><circle cx="636.11" cy="275.48" r="1.25"/><circle cx="618.39" cy="291.37" r="1.25"/><circle cx="610.89" cy="297.03" r="1.25"/><circle cx="624.99" cy="286.51" r="1.25"/><circle cx="594.64" cy="316.52" r="1.25"/><circle cx="600.84" cy="308.69" r="1.25"/><circle cx="633.26" cy="278.14" r="1.25"/></g>
<line x1="576.4" y1="333.2" x2="674.67" y2="234.93" stroke="#9a9a9a" stroke-width="0.8"/>
<g fill="#ff7f00"><circle cx="629.78" cy="230.18" r="1.4"/><circle cx="617.4" cy="241.07" r="1.4"/><circle cx="612.94" cy="250.98" r="1.4"/><circle cx="620.2" cy="250.48" r="1.4"/><circle cx="634.73" cy="248.83" r="1.4"/><circle cx="622.35" cy="257.91" r="1.4"/><circle cx="626.48" cy="258.74" r="1.4"/><circle cx="633.08" cy="257.91" r="1.4"/><circle cx="599.23" cy="269.47" r="1.4"/><circle cx="600.06" cy="266.99" r="1.4"/><circle cx="605.84" cy="267.82" r="1.4"/><circle cx="609.97" cy="270.3" r="1.4"/><circle cx="599.23" cy="283.5" r="1.4"/><circle cx="601.71" cy="285.15" r="1.4"/><circle cx="607.49" cy="282.68" r="1.4"/><circle cx="603.36" cy="292.58" r="1.4"/><circle cx="597.58" cy="296.22" r="1.4"/><circle cx="614.92" cy="292.58" r="1.4"/><circle cx="621.52" cy="271.95" r="1.4"/><circle cx="624.83" cy="271.12" r="1.4"/><circle cx="628.95" cy="272.77" r="1.4"/><circle cx="622.35" cy="300.84" r="1.4"/><circle cx="617.4" cy="307.44" r="1.4"/><circle cx="614.92" cy="314.05" r="1.4"/><circle cx="638.03" cy="304.14" r="1.4"/><circle cx="639.68" cy="305.79" r="1.4"/><circle cx="643.81" cy="300.84" r="1.4"/><circle cx="646.29" cy="297.54" r="1.4"/><circle cx="652.07" cy="304.97" r="1.4"/><circle cx="655.37" cy="294.24" r="1.4"/><circle cx="655.37" cy="285.48" r="1.4"/><circle cx="666.1" cy="283.17" r="1.4"/><circle cx="676.01" cy="270.79" r="1.4"/><circle cx="677.33" cy="270.79" r="1.4"/><circle cx="675.68" cy="290.93" r="1.4"/><circle cx="647.94" cy="280.2" r="1.4"/><circle cx="636.38" cy="292.58" r="1.4"/><circle cx="607.49" cy="312.4" r="1.4"/><circle cx="597.87" cy="280.81" r="1.4"/><circle cx="601.14" cy="289.86" r="1.4"/><circle cx="602.61" cy="295.89" r="1.4"/><circle cx="605.63" cy="297.31" r="1.4"/><circle cx="611.39" cy="298.15" r="1.4"/><circle cx="616.14" cy="301.56" r="1.4"/><circle cx="617.63" cy="296.06" r="1.4"/><circle cx="604.41" cy="271.82" r="1.4"/><circle cx="612.14" cy="264.35" r="1.4"/><circle cx="624.68" cy="261.25" r="1.4"/><circle cx="628.72" cy="267.81" r="1.4"/><circle cx="629.5" cy="272.29" r="1.4"/><circle cx="633.33" cy="264.07" r="1.4"/></g>
<g fill="#6a3d9a"><circle cx="605.84" cy="253.78" r="1.45"/><circle cx="602.54" cy="263.69" r="1.45"/><circle cx="603.36" cy="263.2" r="1.45"/><circle cx="599.23" cy="269.47" r="1.45"/><circle cx="601.71" cy="272.77" r="1.45"/><circle cx="602.54" cy="276.9" r="1.45"/><circle cx="605.01" cy="274.42" r="1.45"/><circle cx="607.49" cy="271.12" r="1.45"/><circle cx="609.97" cy="274.42" r="1.45"/><circle cx="600.88" cy="279.38" r="1.45"/><circle cx="604.19" cy="281.03" r="1.45"/><circle cx="598.41" cy="285.98" r="1.45"/><circle cx="605.01" cy="287.63" r="1.45"/><circle cx="605.84" cy="290.93" r="1.45"/><circle cx="607.49" cy="291.76" r="1.45"/><circle cx="613.27" cy="263.69" r="1.45"/><circle cx="616.24" cy="264.52" r="1.45"/><circle cx="615.74" cy="272.77" r="1.45"/><circle cx="617.4" cy="276.9" r="1.45"/><circle cx="619.87" cy="277.72" r="1.45"/><circle cx="619.05" cy="271.12" r="1.45"/><circle cx="623.17" cy="270.3" r="1.45"/><circle cx="626.48" cy="270.3" r="1.45"/><circle cx="627.3" cy="261.21" r="1.45"/><circle cx="622.35" cy="260.39" r="1.45"/><circle cx="629.78" cy="265.34" r="1.45"/><circle cx="634.73" cy="262.87" r="1.45"/><circle cx="626.48" cy="294.24" r="1.45"/><circle cx="628.13" cy="296.71" r="1.45"/><circle cx="633.91" cy="297.54" r="1.45"/><circle cx="634.73" cy="300.84" r="1.45"/><circle cx="638.03" cy="285.98" r="1.45"/><circle cx="640.51" cy="285.98" r="1.45"/><circle cx="643.81" cy="290.93" r="1.45"/><circle cx="639.68" cy="297.54" r="1.45"/><circle cx="641.34" cy="302.49" r="1.45"/><circle cx="644.64" cy="304.97" r="1.45"/><circle cx="647.94" cy="300.84" r="1.45"/><circle cx="649.59" cy="301.67" r="1.45"/><circle cx="652.89" cy="284.33" r="1.45"/><circle cx="618.22" cy="307.44" r="1.45"/><circle cx="621.52" cy="309.09" r="1.45"/><circle cx="624.83" cy="309.92" r="1.45"/><circle cx="628.13" cy="308.27" r="1.45"/><circle cx="629.78" cy="305.79" r="1.45"/><circle cx="626.48" cy="310.75" r="1.45"/><circle cx="636.38" cy="311.57" r="1.45"/><circle cx="611.62" cy="309.92" r="1.45"/><circle cx="606.66" cy="295.89" r="1.45"/><circle cx="603.36" cy="305.79" r="1.45"/><circle cx="647.94" cy="279.71" r="1.45"/><circle cx="633.91" cy="286.81" r="1.45"/><circle cx="601.06" cy="274.25" r="1.45"/><circle cx="599.27" cy="279.48" r="1.45"/><circle cx="603.77" cy="276.56" r="1.45"/><circle cx="602.19" cy="281.92" r="1.45"/><circle cx="605.71" cy="275.69" r="1.45"/><circle cx="605.31" cy="277.95" r="1.45"/><circle cx="607.16" cy="273.01" r="1.45"/><circle cx="611.3" cy="274.04" r="1.45"/><circle cx="605.98" cy="267.4" r="1.45"/><circle cx="602.77" cy="268.94" r="1.45"/><circle cx="611.6" cy="265.86" r="1.45"/><circle cx="616.11" cy="267.01" r="1.45"/><circle cx="617.72" cy="270.58" r="1.45"/><circle cx="619.15" cy="273.26" r="1.45"/><circle cx="622.89" cy="274.84" r="1.45"/><circle cx="614.94" cy="273.69" r="1.45"/><circle cx="618.04" cy="280.73" r="1.45"/><circle cx="623.14" cy="278.29" r="1.45"/><circle cx="623.25" cy="276.71" r="1.45"/><circle cx="600.82" cy="283.89" r="1.45"/><circle cx="604.37" cy="286.12" r="1.45"/><circle cx="609.61" cy="282.63" r="1.45"/><circle cx="611.77" cy="281.7" r="1.45"/></g>
<g fill="#1f78b4"><circle cx="644.64" cy="253.29" r="1.3"/><circle cx="649.59" cy="269.47" r="1.3"/><circle cx="642.49" cy="276.07" r="1.3"/><circle cx="632.25" cy="270.79" r="1.3"/><circle cx="633.41" cy="266.66" r="1.3"/></g>
<g fill="#e31a1c"><circle cx="590.65" cy="315.7" r="1.3"/><circle cx="593.46" cy="312.4" r="1.3"/><circle cx="595.93" cy="309.92" r="1.3"/><circle cx="597.58" cy="309.09" r="1.3"/><circle cx="594.28" cy="319" r="1.3"/><circle cx="597.58" cy="315.7" r="1.3"/><circle cx="599.23" cy="314.05" r="1.3"/></g>
<rect x="318.2" y="200.5" width="78.8" height="29.2" rx="2" fill="#fff" stroke="#d6d6d6" stroke-width="0.7"/>
<circle cx="321.6" cy="204.6" r="1.2" fill="#e31a1c"/>
<circle cx="355.9" cy="204.6" r="1.2" fill="#fbb4c0"/>
<text x="326.7" y="206.6" font-size="5.6" fill="#333" stroke="#333" stroke-width="0.15" textLength="22.9" lengthAdjust="spacingAndGlyphs" xml:space="preserve">Exc tuned</text>
<text x="360.6" y="206.6" font-size="5.6" fill="#333" stroke="#333" stroke-width="0.15" textLength="34.3" lengthAdjust="spacingAndGlyphs" xml:space="preserve">Exc non-tuned</text>
<circle cx="321.6" cy="211.67" r="1.2" fill="#1f78b4"/>
<circle cx="355.9" cy="211.67" r="1.2" fill="#a6cee3"/>
<text x="326.7" y="213.67" font-size="5.6" fill="#333" stroke="#333" stroke-width="0.15" textLength="22.9" lengthAdjust="spacingAndGlyphs" xml:space="preserve">Inh  tuned</text>
<text x="360.6" y="213.67" font-size="5.6" fill="#333" stroke="#333" stroke-width="0.15" textLength="34.3" lengthAdjust="spacingAndGlyphs" xml:space="preserve">Inh  non-tuned</text>
<circle cx="321.6" cy="218.74" r="1.2" fill="#ff7f00"/>
<circle cx="355.9" cy="218.74" r="1.2" fill="#fdbf6f"/>
<text x="326.7" y="220.74" font-size="5.6" fill="#333" stroke="#333" stroke-width="0.15" textLength="24.3" lengthAdjust="spacingAndGlyphs" xml:space="preserve">MD<tspan font-size="4">1</tspan> tuned</text>
<text x="360.6" y="220.74" font-size="5.6" fill="#333" stroke="#333" stroke-width="0.15" textLength="35.4" lengthAdjust="spacingAndGlyphs" xml:space="preserve">MD<tspan font-size="4">1</tspan> non-tuned</text>
<circle cx="321.6" cy="225.81" r="1.2" fill="#6a3d9a"/>
<circle cx="355.9" cy="225.81" r="1.2" fill="#cab2d6"/>
<text x="326.7" y="227.81" font-size="5.6" fill="#333" stroke="#333" stroke-width="0.15" textLength="24.3" lengthAdjust="spacingAndGlyphs" xml:space="preserve">MD<tspan font-size="4">2</tspan> tuned</text>
<text x="360.6" y="227.81" font-size="5.6" fill="#333" stroke="#333" stroke-width="0.15" textLength="35.4" lengthAdjust="spacingAndGlyphs" xml:space="preserve">MD<tspan font-size="4">2</tspan> non-tuned</text>
<text x="1.8" y="401.5" font-size="18.5" font-weight="bold" fill="#000" stroke="#000" stroke-width="0.07">f</text>
<text x="31.6" y="416.2" font-size="9.6" font-weight="bold" stroke="#1a1a1a" stroke-width="0.07" textLength="154.5" lengthAdjust="spacingAndGlyphs">Cue Uncertainty Modulation (MD<tspan font-size="6.5">1</tspan>)</text>
<path d="M25.2 420.2V413.6H30.6" fill="none" stroke="#444" stroke-width="0.9"/>
<path d="M188.5 413.6H194.4V420.2" fill="none" stroke="#444" stroke-width="0.9"/>
<rect x="18.1" y="422" width="63.3" height="10.3" rx="5.15" fill="#dce3e6"/>
<text x="49.75" y="430" font-size="9" text-anchor="middle" fill="#2a2a2a" stroke="#2a2a2a" stroke-width="0.15">CAC</text>
<rect x="139.9" y="422" width="63.2" height="10.3" rx="5.15" fill="#dce3e6"/>
<text x="171.5" y="430" font-size="9" text-anchor="middle" fill="#2a2a2a" stroke="#2a2a2a" stroke-width="0.15">RDM</text>
<text x="21.2" y="443" font-size="9.2" fill="#222" stroke="#222" stroke-width="0.15">#7</text>
<text x="123.7" y="441.7" font-size="9.2" fill="#222" stroke="#222" stroke-width="0.15">#8</text>
<line x1="157.8" y1="441.2" x2="163.7" y2="441.2" stroke="#4c72b0" stroke-width="1"/>
<text x="166.2" y="443.7" font-size="7.1" fill="#222" stroke="#222" stroke-width="0.15">high uncertainty</text>
<line x1="157.8" y1="448.8" x2="163.7" y2="448.8" stroke="#dd8452" stroke-width="1"/>
<text x="166.2" y="451.3" font-size="7.1" fill="#222" stroke="#222" stroke-width="0.15">med. uncertainty</text>
<line x1="157.8" y1="456.7" x2="163.7" y2="456.7" stroke="#55a868" stroke-width="1"/>
<text x="166.2" y="459.2" font-size="7.1" fill="#222" stroke="#222" stroke-width="0.15">low uncertainty</text>
<line x1="23.5" y1="486" x2="97" y2="486" stroke="#8a8a8a" stroke-width="1.1"/>
<line x1="23.5" y1="537.2" x2="97" y2="537.2" stroke="#8a8a8a" stroke-width="1.1"/>
<line x1="120" y1="486" x2="195.6" y2="486" stroke="#8a8a8a" stroke-width="1.1"/>
<line x1="120" y1="537.2" x2="195.6" y2="537.2" stroke="#8a8a8a" stroke-width="1.1"/>
<g fill="#e8212b" stroke="#e8212b" stroke-width="0.15" font-size="9" text-anchor="middle">
<text transform="translate(8.8 466.6) rotate(-90)"><tspan x="0" y="0">Attend to</tspan><tspan x="0" y="9.6">vision</tspan></text>
</g>
<g fill="#2f78c2" stroke="#2f78c2" stroke-width="0.15" font-size="9" text-anchor="middle">
<text transform="translate(8.8 517.4) rotate(-90)"><tspan x="0" y="0">Attend to</tspan><tspan x="0" y="9.6">audition</tspan></text>
</g>
<line x1="201.4" y1="516.8" x2="201.4" y2="534.7" stroke="#111" stroke-width="1.8"/>
<text transform="translate(206.8 526.8) rotate(90)" font-size="8" text-anchor="middle" fill="#222" stroke="#222" stroke-width="0.15">1 (arb. units)</text>
<text x="26.5" y="544.8" font-size="8.6" fill="#222" stroke="#222" stroke-width="0.15">cueing</text>
<text x="62.7" y="544.8" font-size="8.6" fill="#222" stroke="#222" stroke-width="0.15">delay</text>
<text x="124" y="544.8" font-size="8.6" fill="#222" stroke="#222" stroke-width="0.15">cueing</text>
<text x="161.7" y="544.8" font-size="8.6" fill="#222" stroke="#222" stroke-width="0.15">delay</text>
<path d="M27.7 462.9l.6 7.6 .6-2.3 .7 10.2 .6-2.6 .6 1.4 .6 3.3 .6-2.8 .7 1.6 .6-3.2 .6 5.2 .6-1.4 .7-1.6 .6 3.9 .6-3.6 .6 1.5 .7-2.5 .6 2.9 .6-1.2 .6 .9 .6 3.8 .7-2.7 .6 1.7 .6 3.9 .6 0 .7-1.3 .6-1.3 .6-2.4 .6-1 .7 7.4 .6-4 .6-3.8 .6 4.8 .7 1.2 .6-1.5 .6 2.6 .6-6.4 .6 3.3 .7-.6 .6-3.8 .6 4.9 .6 1.9 .7-2.8 .6-2.7 .6 3.6 .6-5.7 .7-1.6 .6-.9 .6-.9 .6-.7 .6-.6 .7-.6 .6-.5 .6-.5 .6-.5 .7-.5 .6-.5 .6-.6 .6-.6 .7-.7 .6-.7 .6-.7 .6-.8 .6-.7 .7-.8 .6-.7 .6-.7 .6-.7 .7-.6 .6-.6 .6-.5 .6-.6 .7-.6 .6-.5 .6-.5 .6-.5 .6-.5 .7-.3 .6-.3 .6-.1 .6-.1 .7-.1 .6 0 .6 0 .6-.1 .7 0 .6 0 .6-.1 .6 0 .6 0 .7 0 .6 .2 .6 .9 .6 1.5 .7 4.7 .6 7.8 .6-1 .6-1.7 .7-.6 .6 .2 .6 .6 .6 1 .7 1.4 .6 2 .6 2.5 .6 3.2 0 1.2 -.6-3.2 -.6-2.5 -.6-2 -.7-1.4 -.6-1 -.6-.6 -.6-.2 -.7 .6 -.6 1.7 -.6 1 -.6-7.8 -.7-4.7 -.6-1.5 -.6-.9 -.6-.2 -.7 0 -.6 0 -.6 0 -.6 .1 -.6 0 -.7 0 -.6 .1 -.6 0 -.6 0 -.7 .1 -.6 .1 -.6 .1 -.6 .3 -.7 .3 -.6 .5 -.6 .5 -.6 .5 -.6 .5 -.7 .6 -.6 .6 -.6 .5 -.6 .6 -.7 .6 -.6 .7 -.6 .7 -.6 .7 -.7 .8 -.6 .7 -.6 .8 -.6 .7 -.6 .7 -.7 .7 -.6 .6 -.6 .6 -.6 .5 -.7 .5 -.6 .5 -.6 .5 -.6 .5 -.7 .6 -.6 .6 -.6 .7 -.6 .9 -.6 .9 -.7 1.6 -.6 5.7 -.6-3.6 -.6 2.7 -.7 2.8 -.6-1.9 -.6-4.9 -.6 3.8 -.7 .6 -.6-3.3 -.6 6.4 -.6-2.6 -.6 1.5 -.7-1.2 -.6-4.8 -.6 3.8 -.6 4 -.7-7.4 -.6 1 -.6 2.4 -.6 1.3 -.7 1.3 -.6 0 -.6-3.9 -.6-1.7 -.7 2.7 -.6-3.8 -.6-.9 -.6 1.2 -.6-2.9 -.7 2.5 -.6-1.5 -.6 3.6 -.6-3.9 -.7 1.6 -.6 1.4 -.6-5.2 -.6 3.2 -.7-1.6 -.6 2.8 -.6-3.3 -.6-1.4 -.6 2.6 -.7-10.2 -.6 2.3 -.6-7.6z" fill="#55a868" fill-opacity="0.35"/>
<path d="M27.7 463.5l.6 7.6 .6-2.3 .7 10.2 .6-2.6 .6 1.4 .6 3.3 .6-2.8 .7 1.6 .6-3.2 .6 5.2 .6-1.4 .7-1.6 .6 3.9 .6-3.6 .6 1.5 .7-2.5 .6 2.9 .6-1.2 .6 .9 .6 3.8 .7-2.7 .6 1.7 .6 3.9 .6 0 .7-1.3 .6-1.3 .6-2.4 .6-1 .7 7.4 .6-4 .6-3.8 .6 4.8 .7 1.2 .6-1.5 .6 2.6 .6-6.4 .6 3.3 .7-.6 .6-3.8 .6 4.9 .6 1.9 .7-2.8 .6-2.7 .6 3.6 .6-5.7 .7-1.6 .6-.9 .6-.9 .6-.7 .6-.6 .7-.6 .6-.5 .6-.5 .6-.5 .7-.5 .6-.5 .6-.6 .6-.6 .7-.7 .6-.7 .6-.7 .6-.8 .6-.7 .7-.8 .6-.7 .6-.7 .6-.7 .7-.6 .6-.6 .6-.5 .6-.6 .7-.6 .6-.5 .6-.5 .6-.5 .6-.5 .7-.3 .6-.3 .6-.1 .6-.1 .7-.1 .6 0 .6 0 .6-.1 .7 0 .6 0 .6-.1 .6 0 .6 0 .7 0 .6 .2 .6 .9 .6 1.5 .7 4.7 .6 7.8 .6-1 .6-1.7 .7-.6 .6 .2 .6 .6 .6 1 .7 1.4 .6 2 .6 2.5 .6 3.2" fill="none" stroke="#55a868" stroke-width="1.05" stroke-linejoin="round"/>
<path d="M27.7 458l.6 2.9 .6 6.8 .7-3.8 .6 6.3 .6 2.3 .6-3.4 .6-1 .7 2.1 .6 3.9 .6-.6 .6-2.6 .7 1.7 .6 2.3 .6-1.7 .6 1.6 .7 3.3 .6-2.3 .6-1.8 .6-1.5 .6 2.1 .7 2.2 .6 4.2 .6-.9 .6-3.4 .7 5.6 .6-3.8 .6 1.5 .6-5 .7 .4 .6 .5 .6 5.2 .6-1.2 .7 .9 .6-1.7 .6-1.6 .6 .6 .6 .6 .7 1.6 .6-3 .6 3.4 .6-2.1 .7 .9 .6-2.4 .6 1 .6-3.4 .7-1.1 .6-.7 .6-.7 .6-.5 .6-.5 .7-.5 .6-.4 .6-.4 .6-.4 .7-.4 .6-.4 .6-.4 .6-.5 .7-.5 .6-.6 .6-.6 .6-.6 .6-.6 .7-.6 .6-.6 .6-.6 .6-.5 .7-.5 .6-.4 .6-.3 .6-.2 .7-.1 .6-.2 .6-.1 .6-.1 .6-.1 .7-.1 .6 0 .6-.1 .6 0 .7-.1 .6 0 .6 0 .6 .2 .7 .1 .6 .3 .6 .4 .6 .4 .6 .5 .7 .5 .6 1.2 .6 2.3 .6 2.5 .7 1.8 .6 1.6 .6 1.4 .6 1.2 .7 1 .6 .9 .6 .9 .6 .8 .7 .8 .6 .6 .6 .5 .6 .3 0 1.2 -.6-.3 -.6-.5 -.6-.6 -.7-.8 -.6-.8 -.6-.9 -.6-.9 -.7-1 -.6-1.2 -.6-1.4 -.6-1.6 -.7-1.8 -.6-2.5 -.6-2.3 -.6-1.2 -.7-.5 -.6-.5 -.6-.4 -.6-.4 -.6-.3 -.7-.1 -.6-.2 -.6 0 -.6 0 -.7 .1 -.6 0 -.6 .1 -.6 0 -.7 .1 -.6 .1 -.6 .1 -.6 .1 -.6 .2 -.7 .1 -.6 .2 -.6 .3 -.6 .4 -.7 .5 -.6 .5 -.6 .6 -.6 .6 -.7 .6 -.6 .6 -.6 .6 -.6 .6 -.6 .6 -.7 .5 -.6 .5 -.6 .4 -.6 .4 -.7 .4 -.6 .4 -.6 .4 -.6 .4 -.7 .5 -.6 .5 -.6 .5 -.6 .7 -.6 .7 -.7 1.1 -.6 3.4 -.6-1 -.6 2.4 -.7-.9 -.6 2.1 -.6-3.4 -.6 3 -.7-1.6 -.6-.6 -.6-.6 -.6 1.6 -.6 1.7 -.7-.9 -.6 1.2 -.6-5.2 -.6-.5 -.7-.4 -.6 5 -.6-1.5 -.6 3.8 -.7-5.6 -.6 3.4 -.6 .9 -.6-4.2 -.7-2.2 -.6-2.1 -.6 1.5 -.6 1.8 -.6 2.3 -.7-3.3 -.6-1.6 -.6 1.7 -.6-2.3 -.7-1.7 -.6 2.6 -.6 .6 -.6-3.9 -.7-2.1 -.6 1 -.6 3.4 -.6-2.3 -.6-6.3 -.7 3.8 -.6-6.8 -.6-2.9z" fill="#dd8452" fill-opacity="0.35"/>
<path d="M27.7 458.6l.6 2.9 .6 6.8 .7-3.8 .6 6.3 .6 2.3 .6-3.4 .6-1 .7 2.1 .6 3.9 .6-.6 .6-2.6 .7 1.7 .6 2.3 .6-1.7 .6 1.6 .7 3.3 .6-2.3 .6-1.8 .6-1.5 .6 2.1 .7 2.2 .6 4.2 .6-.9 .6-3.4 .7 5.6 .6-3.8 .6 1.5 .6-5 .7 .4 .6 .5 .6 5.2 .6-1.2 .7 .9 .6-1.7 .6-1.6 .6 .6 .6 .6 .7 1.6 .6-3 .6 3.4 .6-2.1 .7 .9 .6-2.4 .6 1 .6-3.4 .7-1.1 .6-.7 .6-.7 .6-.5 .6-.5 .7-.5 .6-.4 .6-.4 .6-.4 .7-.4 .6-.4 .6-.4 .6-.5 .7-.5 .6-.6 .6-.6 .6-.6 .6-.6 .7-.6 .6-.6 .6-.6 .6-.5 .7-.5 .6-.4 .6-.3 .6-.2 .7-.1 .6-.2 .6-.1 .6-.1 .6-.1 .7-.1 .6 0 .6-.1 .6 0 .7-.1 .6 0 .6 0 .6 .2 .7 .1 .6 .3 .6 .4 .6 .4 .6 .5 .7 .5 .6 1.2 .6 2.3 .6 2.5 .7 1.8 .6 1.6 .6 1.4 .6 1.2 .7 1 .6 .9 .6 .9 .6 .8 .7 .8 .6 .6 .6 .5 .6 .3" fill="none" stroke="#dd8452" stroke-width="1.05" stroke-linejoin="round"/>
<path d="M27.7 455.8l.6 2.1 .6 6.2 .7-.3 .6-3.2 .6 4.5 .6 1.6 .6-1.3 .7 5.3 .6-3.8 .6 1.9 .6 1.3 .7-.5 .6 1.5 .6 1.7 .6 2.1 .7-6 .6 3.4 .6 .5 .6-3.2 .6-2.4 .7 7.5 .6-4.9 .6-.1 .6 4.4 .7-2.1 .6-1 .6 2 .6-5.4 .7 5.2 .6-2.7 .6-1.5 .6 3.7 .7 2.4 .6-5.7 .6 3.4 .6-2.6 .6 3.1 .7 .4 .6-4.3 .6 3.9 .6-1.3 .7-.1 .6 .6 .6-3 .6 .3 .7-.2 .6-.3 .6-.2 .6-.3 .6-.2 .7-.3 .6-.3 .6-.2 .6-.3 .7-.2 .6-.3 .6-.2 .6-.2 .7-.3 .6-.2 .6-.2 .6-.3 .6-.2 .7-.3 .6-.2 .6-.2 .6-.2 .7-.2 .6-.1 .6-.1 .6 0 .7 0 .6 0 .6 .1 .6 0 .6 .1 .7 .1 .6 .2 .6 .1 .6 .2 .7 .1 .6 .2 .6 .2 .6 .2 .7 .2 .6 .2 .6 .2 .6 .3 .6 .4 .7 .4 .6 .6 .6 1.1 .6 3.3 .7 2.6 .6-.4 .6-1.3 .6-.7 .7 0 .6 0 .6 .1 .6 .2 .7 .3 .6 .4 .6 .7 .6 .8 0 1.2 -.6-.8 -.6-.7 -.6-.4 -.7-.3 -.6-.2 -.6-.1 -.6 0 -.7 0 -.6 .7 -.6 1.3 -.6 .4 -.7-2.6 -.6-3.3 -.6-1.1 -.6-.6 -.7-.4 -.6-.4 -.6-.3 -.6-.2 -.6-.2 -.7-.2 -.6-.2 -.6-.2 -.6-.2 -.7-.1 -.6-.2 -.6-.1 -.6-.2 -.7-.1 -.6-.1 -.6 0 -.6-.1 -.6 0 -.7 0 -.6 0 -.6 .1 -.6 .1 -.7 .2 -.6 .2 -.6 .2 -.6 .2 -.7 .3 -.6 .2 -.6 .3 -.6 .2 -.6 .2 -.7 .3 -.6 .2 -.6 .2 -.6 .3 -.7 .2 -.6 .3 -.6 .2 -.6 .3 -.7 .3 -.6 .2 -.6 .3 -.6 .2 -.6 .3 -.7 .2 -.6-.3 -.6 3 -.6-.6 -.7 .1 -.6 1.3 -.6-3.9 -.6 4.3 -.7-.4 -.6-3.1 -.6 2.6 -.6-3.4 -.6 5.7 -.7-2.4 -.6-3.7 -.6 1.5 -.6 2.7 -.7-5.2 -.6 5.4 -.6-2 -.6 1 -.7 2.1 -.6-4.4 -.6 .1 -.6 4.9 -.7-7.5 -.6 2.4 -.6 3.2 -.6-.5 -.6-3.4 -.7 6 -.6-2.1 -.6-1.7 -.6-1.5 -.7 .5 -.6-1.3 -.6-1.9 -.6 3.8 -.7-5.3 -.6 1.3 -.6-1.6 -.6-4.5 -.6 3.2 -.7 .3 -.6-6.2 -.6-2.1z" fill="#4c72b0" fill-opacity="0.35"/>
<path d="M27.7 456.4l.6 2.1 .6 6.2 .7-.3 .6-3.2 .6 4.5 .6 1.6 .6-1.3 .7 5.3 .6-3.8 .6 1.9 .6 1.3 .7-.5 .6 1.5 .6 1.7 .6 2.1 .7-6 .6 3.4 .6 .5 .6-3.2 .6-2.4 .7 7.5 .6-4.9 .6-.1 .6 4.4 .7-2.1 .6-1 .6 2 .6-5.4 .7 5.2 .6-2.7 .6-1.5 .6 3.7 .7 2.4 .6-5.7 .6 3.4 .6-2.6 .6 3.1 .7 .4 .6-4.3 .6 3.9 .6-1.3 .7-.1 .6 .6 .6-3 .6 .3 .7-.2 .6-.3 .6-.2 .6-.3 .6-.2 .7-.3 .6-.3 .6-.2 .6-.3 .7-.2 .6-.3 .6-.2 .6-.2 .7-.3 .6-.2 .6-.2 .6-.3 .6-.2 .7-.3 .6-.2 .6-.2 .6-.2 .7-.2 .6-.1 .6-.1 .6 0 .7 0 .6 0 .6 .1 .6 0 .6 .1 .7 .1 .6 .2 .6 .1 .6 .2 .7 .1 .6 .2 .6 .2 .6 .2 .7 .2 .6 .2 .6 .2 .6 .3 .6 .4 .7 .4 .6 .6 .6 1.1 .6 3.3 .7 2.6 .6-.4 .6-1.3 .6-.7 .7 0 .6 0 .6 .1 .6 .2 .7 .3 .6 .4 .6 .7 .6 .8" fill="none" stroke="#4c72b0" stroke-width="1.05" stroke-linejoin="round"/>
<path d="M27.7 515.5l.6 2.3 .6 .6 .7-4.5 .6 .4 .6 5.5 .6-5.9 .6-.8 .7 7.5 .6-2.9 .6-1.7 .6 1.3 .7 1.5 .6-2.8 .6-.4 .6 4.3 .7-.3 .6-1.1 .6 2.4 .6-1.7 .6 3.3 .7-5.4 .6 2.4 .6-.5 .6-1.3 .7 2 .6-2.3 .6 4.1 .6 1.1 .7-7.2 .6 3.2 .6-1.1 .6-2.5 .7 7.2 .6-3.9 .6-2.4 .6 3.8 .6-3.9 .7 6.1 .6-6.4 .6-1.9 .6 1.9 .7 .6 .6 1.1 .6 3.3 .6-1.7 .7 .3 .6 0 .6-.1 .6-.1 .6 0 .7-.1 .6-.1 .6-.2 .6 0 .7-.1 .6-.1 .6 0 .6-.1 .7 0 .6 .1 .6 0 .6 0 .6 0 .7 0 .6 0 .6 0 .6 0 .7 0 .6 0 .6 0 .6 0 .7 0 .6 0 .6 .1 .6 0 .6 0 .7 0 .6 .1 .6 0 .6 0 .7 .1 .6 0 .6 0 .6 .1 .7 0 .6 .1 .6 0 .6 .1 .6 0 .7 .1 .6 .1 .6 .6 .6 3.7 .7 3.1 .6-.3 .6-1.6 .6-1.8 .7-1.1 .6-.1 .6 0 .6 .1 .7 .2 .6 .3 .6 .4 .6 .7 0 1.2 -.6-.7 -.6-.4 -.6-.3 -.7-.2 -.6-.1 -.6 0 -.6 .1 -.7 1.1 -.6 1.8 -.6 1.6 -.6 .3 -.7-3.1 -.6-3.7 -.6-.6 -.6-.1 -.7-.1 -.6 0 -.6-.1 -.6 0 -.6-.1 -.7 0 -.6-.1 -.6 0 -.6 0 -.7-.1 -.6 0 -.6 0 -.6-.1 -.7 0 -.6 0 -.6 0 -.6-.1 -.6 0 -.7 0 -.6 0 -.6 0 -.6 0 -.7 0 -.6 0 -.6 0 -.6 0 -.7 0 -.6 0 -.6 0 -.6 0 -.6-.1 -.7 0 -.6 .1 -.6 0 -.6 .1 -.7 .1 -.6 0 -.6 .2 -.6 .1 -.7 .1 -.6 0 -.6 .1 -.6 .1 -.6 0 -.7-.3 -.6 1.7 -.6-3.3 -.6-1.1 -.7-.6 -.6-1.9 -.6 1.9 -.6 6.4 -.7-6.1 -.6 3.9 -.6-3.8 -.6 2.4 -.6 3.9 -.7-7.2 -.6 2.5 -.6 1.1 -.6-3.2 -.7 7.2 -.6-1.1 -.6-4.1 -.6 2.3 -.7-2 -.6 1.3 -.6 .5 -.6-2.4 -.7 5.4 -.6-3.3 -.6 1.7 -.6-2.4 -.6 1.1 -.7 .3 -.6-4.3 -.6 .4 -.6 2.8 -.7-1.5 -.6-1.3 -.6 1.7 -.6 2.9 -.7-7.5 -.6 .8 -.6 5.9 -.6-5.5 -.6-.4 -.7 4.5 -.6-.6 -.6-2.3z" fill="#55a868" fill-opacity="0.35"/>
<path d="M27.7 516.1l.6 2.3 .6 .6 .7-4.5 .6 .4 .6 5.5 .6-5.9 .6-.8 .7 7.5 .6-2.9 .6-1.7 .6 1.3 .7 1.5 .6-2.8 .6-.4 .6 4.3 .7-.3 .6-1.1 .6 2.4 .6-1.7 .6 3.3 .7-5.4 .6 2.4 .6-.5 .6-1.3 .7 2 .6-2.3 .6 4.1 .6 1.1 .7-7.2 .6 3.2 .6-1.1 .6-2.5 .7 7.2 .6-3.9 .6-2.4 .6 3.8 .6-3.9 .7 6.1 .6-6.4 .6-1.9 .6 1.9 .7 .6 .6 1.1 .6 3.3 .6-1.7 .7 .3 .6 0 .6-.1 .6-.1 .6 0 .7-.1 .6-.1 .6-.2 .6 0 .7-.1 .6-.1 .6 0 .6-.1 .7 0 .6 .1 .6 0 .6 0 .6 0 .7 0 .6 0 .6 0 .6 0 .7 0 .6 0 .6 0 .6 0 .7 0 .6 0 .6 .1 .6 0 .6 0 .7 0 .6 .1 .6 0 .6 0 .7 .1 .6 0 .6 0 .6 .1 .7 0 .6 .1 .6 0 .6 .1 .6 0 .7 .1 .6 .1 .6 .6 .6 3.7 .7 3.1 .6-.3 .6-1.6 .6-1.8 .7-1.1 .6-.1 .6 0 .6 .1 .7 .2 .6 .3 .6 .4 .6 .7" fill="none" stroke="#55a868" stroke-width="1.05" stroke-linejoin="round"/>
<path d="M27.7 505.8l.6 5.8 .6-4.1 .7 1 .6 3.2 .6-.9 .6 4 .6-5 .7 6.5 .6-.4 .6-7.2 .6 4.5 .7-3.9 .6 1.8 .6 1 .6 0 .7 .1 .6 3 .6-4.6 .6-.5 .6 2.9 .7 3.1 .6-.8 .6-.9 .6-5.6 .7 6.6 .6-3 .6 2.1 .6-4.3 .7-1.2 .6 3.5 .6-.5 .6 .3 .7-4 .6-.9 .6 4.5 .6-5.4 .6 7.4 .7-7.2 .6 3.7 .6-1.6 .6-.9 .7-2 .6 5.3 .6 2.9 .6-1.2 .7 1.3 .6 .3 .6 .3 .6 .3 .6 .2 .7 .1 .6 .2 .6 .1 .6 .1 .7 .2 .6 .1 .6 .2 .6 .3 .7 .3 .6 .5 .6 .4 .6 .6 .6 .5 .7 .6 .6 .6 .6 .6 .6 .6 .7 .5 .6 .5 .6 .5 .6 .4 .7 .3 .6 .4 .6 .3 .6 .3 .6 .4 .7 .3 .6 .3 .6 .3 .6 .2 .7 .2 .6 .2 .6 .2 .6 0 .7 0 .6 0 .6-.2 .6-.1 .6-.2 .7-.2 .6-.1 .6 .2 .6 1.2 .7 1.1 .6-1 .6-3.4 .6-3.9 .7-2.5 .6-.1 .6 0 .6 0 .7 0 .6 0 .6 0 .6 0 0 1.2 -.6 0 -.6 0 -.6 0 -.7 0 -.6 0 -.6 0 -.6 .1 -.7 2.5 -.6 3.9 -.6 3.4 -.6 1 -.7-1.1 -.6-1.2 -.6-.2 -.6 .1 -.7 .2 -.6 .2 -.6 .1 -.6 .2 -.6 0 -.7 0 -.6 0 -.6-.2 -.6-.2 -.7-.2 -.6-.2 -.6-.3 -.6-.3 -.7-.3 -.6-.4 -.6-.3 -.6-.3 -.6-.4 -.7-.3 -.6-.4 -.6-.5 -.6-.5 -.7-.5 -.6-.6 -.6-.6 -.6-.6 -.7-.6 -.6-.5 -.6-.6 -.6-.4 -.6-.5 -.7-.3 -.6-.3 -.6-.2 -.6-.1 -.7-.2 -.6-.1 -.6-.1 -.6-.2 -.7-.1 -.6-.2 -.6-.3 -.6-.3 -.6-.3 -.7-1.3 -.6 1.2 -.6-2.9 -.6-5.3 -.7 2 -.6 .9 -.6 1.6 -.6-3.7 -.7 7.2 -.6-7.4 -.6 5.4 -.6-4.5 -.6 .9 -.7 4 -.6-.3 -.6 .5 -.6-3.5 -.7 1.2 -.6 4.3 -.6-2.1 -.6 3 -.7-6.6 -.6 5.6 -.6 .9 -.6 .8 -.7-3.1 -.6-2.9 -.6 .5 -.6 4.6 -.6-3 -.7-.1 -.6 0 -.6-1 -.6-1.8 -.7 3.9 -.6-4.5 -.6 7.2 -.6 .4 -.7-6.5 -.6 5 -.6-4 -.6 .9 -.6-3.2 -.7-1 -.6 4.1 -.6-5.8z" fill="#dd8452" fill-opacity="0.35"/>
<path d="M27.7 506.4l.6 5.8 .6-4.1 .7 1 .6 3.2 .6-.9 .6 4 .6-5 .7 6.5 .6-.4 .6-7.2 .6 4.5 .7-3.9 .6 1.8 .6 1 .6 0 .7 .1 .6 3 .6-4.6 .6-.5 .6 2.9 .7 3.1 .6-.8 .6-.9 .6-5.6 .7 6.6 .6-3 .6 2.1 .6-4.3 .7-1.2 .6 3.5 .6-.5 .6 .3 .7-4 .6-.9 .6 4.5 .6-5.4 .6 7.4 .7-7.2 .6 3.7 .6-1.6 .6-.9 .7-2 .6 5.3 .6 2.9 .6-1.2 .7 1.3 .6 .3 .6 .3 .6 .3 .6 .2 .7 .1 .6 .2 .6 .1 .6 .1 .7 .2 .6 .1 .6 .2 .6 .3 .7 .3 .6 .5 .6 .4 .6 .6 .6 .5 .7 .6 .6 .6 .6 .6 .6 .6 .7 .5 .6 .5 .6 .5 .6 .4 .7 .3 .6 .4 .6 .3 .6 .3 .6 .4 .7 .3 .6 .3 .6 .3 .6 .2 .7 .2 .6 .2 .6 .2 .6 0 .7 0 .6 0 .6-.2 .6-.1 .6-.2 .7-.2 .6-.1 .6 .2 .6 1.2 .7 1.1 .6-1 .6-3.4 .6-3.9 .7-2.5 .6-.1 .6 0 .6 0 .7 0 .6 0 .6 0 .6 0" fill="none" stroke="#dd8452" stroke-width="1.05" stroke-linejoin="round"/>
<path d="M27.7 506.2l.6 2.3 .6 .8 .7-3.5 .6-.6 .6 6.8 .6-3.1 .6-5.9 .7 7.7 .6-.6 .6-5.3 .6 3.7 .7-5.8 .6 2.6 .6 3 .6-3.3 .7 .6 .6-2.9 .6 5.3 .6-2.8 .6-2.6 .7 4.5 .6 1.8 .6-3.8 .6 1.4 .7 3 .6-7.8 .6 3.7 .6 2.4 .7-5.8 .6 .5 .6 2.3 .6 1.6 .7-1.7 .6-.2 .6-4 .6 5.1 .6-3.1 .7-1.7 .6 5.6 .6-1.8 .6-1.7 .7 2.2 .6-2.1 .6 .1 .6 7.1 .7 2.3 .6 .7 .6 .5 .6 .5 .6 .3 .7 .3 .6 .2 .6 .3 .6 .2 .7 .2 .6 .2 .6 .3 .6 .4 .7 .4 .6 .5 .6 .5 .6 .4 .6 .5 .7 .6 .6 .5 .6 .5 .6 .5 .7 .6 .6 .5 .6 .5 .6 .5 .7 .5 .6 .6 .6 .6 .6 .7 .6 .6 .7 .7 .6 .6 .6 .6 .6 .6 .7 .5 .6 .4 .6 .3 .6 .2 .7 0 .6-.1 .6-.3 .6-.4 .6-.3 .7-.4 .6-.1 .6 .2 .6 1.6 .7 1.4 .6-1.4 .6-4.7 .6-5.4 .7-3.3 .6-.2 .6 0 .6 0 .7 .1 .6 .2 .6 .2 .6 .3 0 1.2 -.6-.3 -.6-.2 -.6-.2 -.7-.1 -.6 0 -.6 0 -.6 .2 -.7 3.3 -.6 5.4 -.6 4.7 -.6 1.4 -.7-1.4 -.6-1.6 -.6-.2 -.6 .1 -.7 .4 -.6 .3 -.6 .4 -.6 .3 -.6 .1 -.7 0 -.6-.2 -.6-.3 -.6-.4 -.7-.5 -.6-.6 -.6-.6 -.6-.6 -.7-.7 -.6-.6 -.6-.7 -.6-.6 -.6-.6 -.7-.5 -.6-.5 -.6-.5 -.6-.5 -.7-.6 -.6-.5 -.6-.5 -.6-.5 -.7-.6 -.6-.5 -.6-.4 -.6-.5 -.6-.5 -.7-.4 -.6-.4 -.6-.3 -.6-.2 -.7-.2 -.6-.2 -.6-.3 -.6-.2 -.7-.3 -.6-.3 -.6-.5 -.6-.5 -.6-.7 -.7-2.3 -.6-7.1 -.6-.1 -.6 2.1 -.7-2.2 -.6 1.7 -.6 1.8 -.6-5.6 -.7 1.7 -.6 3.1 -.6-5.1 -.6 4 -.6 .2 -.7 1.7 -.6-1.6 -.6-2.3 -.6-.5 -.7 5.8 -.6-2.4 -.6-3.7 -.6 7.8 -.7-3 -.6-1.4 -.6 3.8 -.6-1.8 -.7-4.5 -.6 2.6 -.6 2.8 -.6-5.3 -.6 2.9 -.7-.6 -.6 3.3 -.6-3 -.6-2.6 -.7 5.8 -.6-3.7 -.6 5.3 -.6 .6 -.7-7.7 -.6 5.9 -.6 3.1 -.6-6.8 -.6 .6 -.7 3.5 -.6-.8 -.6-2.3z" fill="#4c72b0" fill-opacity="0.35"/>
<path d="M27.7 506.8l.6 2.3 .6 .8 .7-3.5 .6-.6 .6 6.8 .6-3.1 .6-5.9 .7 7.7 .6-.6 .6-5.3 .6 3.7 .7-5.8 .6 2.6 .6 3 .6-3.3 .7 .6 .6-2.9 .6 5.3 .6-2.8 .6-2.6 .7 4.5 .6 1.8 .6-3.8 .6 1.4 .7 3 .6-7.8 .6 3.7 .6 2.4 .7-5.8 .6 .5 .6 2.3 .6 1.6 .7-1.7 .6-.2 .6-4 .6 5.1 .6-3.1 .7-1.7 .6 5.6 .6-1.8 .6-1.7 .7 2.2 .6-2.1 .6 .1 .6 7.1 .7 2.3 .6 .7 .6 .5 .6 .5 .6 .3 .7 .3 .6 .2 .6 .3 .6 .2 .7 .2 .6 .2 .6 .3 .6 .4 .7 .4 .6 .5 .6 .5 .6 .4 .6 .5 .7 .6 .6 .5 .6 .5 .6 .5 .7 .6 .6 .5 .6 .5 .6 .5 .7 .5 .6 .6 .6 .6 .6 .7 .6 .6 .7 .7 .6 .6 .6 .6 .6 .6 .7 .5 .6 .4 .6 .3 .6 .2 .7 0 .6-.1 .6-.3 .6-.4 .6-.3 .7-.4 .6-.1 .6 .2 .6 1.6 .7 1.4 .6-1.4 .6-4.7 .6-5.4 .7-3.3 .6-.2 .6 0 .6 0 .7 .1 .6 .2 .6 .2 .6 .3" fill="none" stroke="#4c72b0" stroke-width="1.05" stroke-linejoin="round"/>
<path d="M123.4 476.5l.8 3.4 .8-.5 .8 0 .8-1 .8 .8 .8 .9 .8-2.5 .8 4.5 .8-3.6 .8 .4 .8 1.1 .8-3.2 .8 5.3 .8-2.4 .8-1.8 .8-2.7 .8 4.1 .8-2 .8 1.1 .8-1 .8 1.4 .8-1.7 .8 .5 .8 1.9 .8-3.1 .8 4 .8-4.9 .8 7.6 .8-1.4 .8-5.3 .8 4.2 .8-1.2 .8-1.7 .8 1 .8-1.1 .8 .9 .8 .7 0 2 -.8-.7 -.8-.9 -.8 1.1 -.8-1 -.8 1.7 -.8 1.2 -.8-4.2 -.8 5.3 -.8 1.4 -.8-7.6 -.8 4.9 -.8-4 -.8 3.1 -.8-1.9 -.8-.5 -.8 1.7 -.8-1.4 -.8 1 -.8-1.1 -.8 2 -.8-4.1 -.8 2.7 -.8 1.8 -.8 2.4 -.8-5.3 -.8 3.2 -.8-1.1 -.8-.4 -.8 3.6 -.8-4.5 -.8 2.5 -.8-.9 -.8-.8 -.8 1 -.8 0 -.8 .5 -.8-3.4z" fill="#55a868" fill-opacity="0.3"/>
<path d="M123.4 477.5l.8 3.4 .8-.5 .8 0 .8-1 .8 .8 .8 .9 .8-2.5 .8 4.5 .8-3.6 .8 .4 .8 1.1 .8-3.2 .8 5.3 .8-2.4 .8-1.8 .8-2.7 .8 4.1 .8-2 .8 1.1 .8-1 .8 1.4 .8-1.7 .8 .5 .8 1.9 .8-3.1 .8 4 .8-4.9 .8 7.6 .8-1.4 .8-5.3 .8 4.2 .8-1.2 .8-1.7 .8 1 .8-1.1 .8 .9 .8 .7 1-1.7 .6-.4 .6-.4 .6-.3 .6-.4 .6-.4 .7-.3 .6-.3 .6-.3 .6-.2 .6-.2 .6-.2 .7-.2 .6-.2 .6-.1 .6-.2 .6-.1 .6-.2 .7-.1 .6-.1 .6-.1 .6-.1 .6-.1 .7 0 .6-.1 .6 0 .6-.1 .6 0 .6 0 .7-.1 .6 0 .6 0 .6-.1 .6 0 .6 0 .7 0 .6 0 .6 0 .6 0 .6 0 .6 .1 .7 .1 .6 .2 .6 .2 .6 .2 .6 .3 .6 .2 .7 .3 .6 .3 .6 .3 .6 .5 .6 .5 .6 .6 .7 .5 .6 .2 .6 .2 .6 .2 .6 .1 .6 .1 .7 .1 .6 .1 .6 0 .6 0" fill="none" stroke="#55a868" stroke-width="1" stroke-linejoin="round"/>
<path d="M123.4 459.1l.8 12.5 .8 1.3 .8-.7 .8-11.1 .8 .3 .8 4.7 .8 5.3 .8-7.6 .8 7.7 .8-13.4 .8 11.8 .8-.7 .8 1.7 .8 .9 .8-13.7 .8 12.7 .8 4.4 .8-8.4 .8 3.3 .8-4.4 .8 2.9 .8-1.3 .8-.9 .8-.3 .8 1.2 .8 4.1 .8 2.2 .8-10 .8 4.3 .8 5.8 .8-4.8 .8 6.8 .8-8.9 .8 11.4 .8-11.8 .8 1.1 .8 9.9 0 3.6 -.8-9.9 -.8-1.1 -.8 11.8 -.8-11.4 -.8 8.9 -.8-6.8 -.8 4.8 -.8-5.8 -.8-4.3 -.8 10 -.8-2.2 -.8-4.1 -.8-1.2 -.8 .3 -.8 .9 -.8 1.3 -.8-2.9 -.8 4.4 -.8-3.3 -.8 8.4 -.8-4.4 -.8-12.7 -.8 13.7 -.8-.9 -.8-1.7 -.8 .7 -.8-11.8 -.8 13.4 -.8-7.7 -.8 7.6 -.8-5.3 -.8-4.7 -.8-.3 -.8 11.1 -.8 .7 -.8-1.3 -.8-12.5z" fill="#dd8452" fill-opacity="0.3"/>
<path d="M123.4 460.9l.8 12.5 .8 1.3 .8-.7 .8-11.1 .8 .3 .8 4.7 .8 5.3 .8-7.6 .8 7.7 .8-13.4 .8 11.8 .8-.7 .8 1.7 .8 .9 .8-13.7 .8 12.7 .8 4.4 .8-8.4 .8 3.3 .8-4.4 .8 2.9 .8-1.3 .8-.9 .8-.3 .8 1.2 .8 4.1 .8 2.2 .8-10 .8 4.3 .8 5.8 .8-4.8 .8 6.8 .8-8.9 .8 11.4 .8-11.8 .8 1.1 .8 9.9 1-1.5 .6-.3 .6-.3 .6-.2 .6-.3 .6-.3 .7-.2 .6-.3 .6-.2 .6-.2 .6-.2 .6-.1 .7-.2 .6-.2 .6-.1 .6-.2 .6-.2 .6-.1 .7-.2 .6-.1 .6-.1 .6-.1 .6 0 .7-.1 .6 0 .6 0 .6 0 .6 0 .6 0 .7 0 .6 0 .6 0 .6 0 .6 0 .6 0 .7 0 .6 0 .6 0 .6 0 .6 .1 .6 .1 .7 .2 .6 .2 .6 .3 .6 .3 .6 .3 .6 .3 .7 .3 .6 .3 .6 .3 .6 .5 .6 .5 .6 .4 .7 .4 .6 .2 .6 .2 .6 .1 .6 .1 .6 .1 .7 .1 .6 0 .6 .1 .6 0" fill="none" stroke="#dd8452" stroke-width="1" stroke-linejoin="round"/>
<path d="M123.4 451.2l.8 7.2 .8 3.6 .8-4.2 .8 3.6 .8-1.1 .8 .9 .8 2.3 .8-1.3 .8-4 .8 7.5 .8-5.1 .8 1.6 .8 .8 .8 2.2 .8-2.6 .8-4.6 .8 1 .8 5.9 .8 .8 .8-5.9 .8 5.2 .8-7.7 .8 3.5 .8 .9 .8 .4 .8-3.1 .8-2.8 .8 9 .8-3 .8-1.4 .8 3.4 .8-3.4 .8-1.4 .8-3.4 .8 8.1 .8 .1 .8-.2 0 4.4 -.8 .2 -.8-.1 -.8-8.1 -.8 3.4 -.8 1.4 -.8 3.4 -.8-3.4 -.8 1.4 -.8 3 -.8-9 -.8 2.8 -.8 3.1 -.8-.4 -.8-.9 -.8-3.5 -.8 7.7 -.8-5.2 -.8 5.9 -.8-.8 -.8-5.9 -.8-1 -.8 4.6 -.8 2.6 -.8-2.2 -.8-.8 -.8-1.6 -.8 5.1 -.8-7.5 -.8 4 -.8 1.3 -.8-2.3 -.8-.9 -.8 1.1 -.8-3.6 -.8 4.2 -.8-3.6 -.8-7.2z" fill="#4c72b0" fill-opacity="0.3"/>
<path d="M123.4 453.4l.8 7.2 .8 3.6 .8-4.2 .8 3.6 .8-1.1 .8 .9 .8 2.3 .8-1.3 .8-4 .8 7.5 .8-5.1 .8 1.6 .8 .8 .8 2.2 .8-2.6 .8-4.6 .8 1 .8 5.9 .8 .8 .8-5.9 .8 5.2 .8-7.7 .8 3.5 .8 .9 .8 .4 .8-3.1 .8-2.8 .8 9 .8-3 .8-1.4 .8 3.4 .8-3.4 .8-1.4 .8-3.4 .8 8.1 .8 .1 .8-.2 1 10.7 .6-.2 .6-.1 .6-.1 .6-.2 .6-.1 .7-.1 .6-.1 .6-.2 .6-.1 .6-.1 .6-.2 .7-.1 .6-.2 .6-.1 .6-.2 .6-.2 .6-.1 .7-.2 .6-.1 .6-.1 .6-.1 .6-.1 .7 0 .6-.1 .6 0 .6 .1 .6 0 .6 0 .7 0 .6 .1 .6 0 .6 0 .6 .1 .6 0 .7 .1 .6 .1 .6 0 .6 .1 .6 .1 .6 .2 .7 .2 .6 .2 .6 .2 .6 .3 .6 .2 .6 .3 .7 .2 .6 .2 .6 .1 .6 .1 .6 .2 .6 .1 .7 .1 .6 .1 .6 .1 .6 .2 .6 .1 .6 .1 .7 .1 .6 .2 .6 .1 .6 .1" fill="none" stroke="#4c72b0" stroke-width="1" stroke-linejoin="round"/>
<path d="M123.4 527.7l.8-.8 .8 1.1 .8-5.4 .8 7 .8-3.5 .8 2 .8-4.1 .8 2.8 .8 1.8 .8 .7 .8-4.3 .8 7.6 .8-3.2 .8-3.1 .8 1.9 .8-2.7 .8 .8 .8 5.3 .8-1.8 .8-3.8 .8 5.7 .8-10.4 .8 4.3 .8 1 .8-3.6 .8 4.3 .8 5.9 .8-6.4 .8 1.9 .8-4.6 .8 2.9 .8 6 .8 1 .8-4.6 .8-3.2 .8-1.6 .8 5.3 0 2 -.8-5.3 -.8 1.6 -.8 3.2 -.8 4.6 -.8-1 -.8-6 -.8-2.9 -.8 4.6 -.8-1.9 -.8 6.4 -.8-5.9 -.8-4.3 -.8 3.6 -.8-1 -.8-4.3 -.8 10.4 -.8-5.7 -.8 3.8 -.8 1.8 -.8-5.3 -.8-.8 -.8 2.7 -.8-1.9 -.8 3.1 -.8 3.2 -.8-7.6 -.8 4.3 -.8-.7 -.8-1.8 -.8-2.8 -.8 4.1 -.8-2 -.8 3.5 -.8-7 -.8 5.4 -.8-1.1 -.8 .8z" fill="#55a868" fill-opacity="0.3"/>
<path d="M123.4 528.7l.8-.8 .8 1.1 .8-5.4 .8 7 .8-3.5 .8 2 .8-4.1 .8 2.8 .8 1.8 .8 .7 .8-4.3 .8 7.6 .8-3.2 .8-3.1 .8 1.9 .8-2.7 .8 .8 .8 5.3 .8-1.8 .8-3.8 .8 5.7 .8-10.4 .8 4.3 .8 1 .8-3.6 .8 4.3 .8 5.9 .8-6.4 .8 1.9 .8-4.6 .8 2.9 .8 6 .8 1 .8-4.6 .8-3.2 .8-1.6 .8 5.3 1-11.2 .6-.2 .6-.2 .6-.2 .6-.2 .6-.1 .7-.2 .6-.1 .6-.2 .6-.1 .6-.2 .6-.1 .7-.1 .6-.1 .6-.1 .6-.1 .6-.2 .6-.1 .7-.1 .6 0 .6-.1 .6-.1 .6 0 .7-.1 .6 0 .6 0 .6 .1 .6 0 .6 0 .7 0 .6 .1 .6 0 .6 0 .6 .1 .6 0 .7 0 .6 .1 .6 0 .6 0 .6 0 .6 0 .7 0 .6 0 .6 0 .6 0 .6 0 .6 0 .7 0 .6 .1 .6 4.7 .6 2.8 .6 .3 .6 .3 .7 .2 .6 .2 .6 .2 .6 .1 .6 .1 .6 .1 .7 0 .6 .1 .6 0 .6 0" fill="none" stroke="#55a868" stroke-width="1" stroke-linejoin="round"/>
<path d="M123.4 512.6l.8-.7 .8 4.1 .8-4.4 .8-.5 .8 7.4 .8-15.3 .8 12.9 .8-4.6 .8 6 .8-2.5 .8 3.1 .8-11.4 .8 6.3 .8 3.1 .8 2.3 .8 .8 .8-5.1 .8-1.1 .8-.2 .8 3.7 .8-1.5 .8-2.5 .8 4.8 .8-4.1 .8 3.6 .8-4.1 .8-1.9 .8 2.3 .8 3.6 .8-3.2 .8-1.7 .8 6.3 .8-7.5 .8 8.9 .8-3.2 .8 3.4 .8 6.1 0 3.6 -.8-6.1 -.8-3.4 -.8 3.2 -.8-8.9 -.8 7.5 -.8-6.3 -.8 1.7 -.8 3.2 -.8-3.6 -.8-2.3 -.8 1.9 -.8 4.1 -.8-3.6 -.8 4.1 -.8-4.8 -.8 2.5 -.8 1.5 -.8-3.7 -.8 .2 -.8 1.1 -.8 5.1 -.8-.8 -.8-2.3 -.8-3.1 -.8-6.3 -.8 11.4 -.8-3.1 -.8 2.5 -.8-6 -.8 4.6 -.8-12.9 -.8 15.3 -.8-7.4 -.8 .5 -.8 4.4 -.8-4.1 -.8 .7z" fill="#dd8452" fill-opacity="0.3"/>
<path d="M123.4 514.4l.8-.7 .8 4.1 .8-4.4 .8-.5 .8 7.4 .8-15.3 .8 12.9 .8-4.6 .8 6 .8-2.5 .8 3.1 .8-11.4 .8 6.3 .8 3.1 .8 2.3 .8 .8 .8-5.1 .8-1.1 .8-.2 .8 3.7 .8-1.5 .8-2.5 .8 4.8 .8-4.1 .8 3.6 .8-4.1 .8-1.9 .8 2.3 .8 3.6 .8-3.2 .8-1.7 .8 6.3 .8-7.5 .8 8.9 .8-3.2 .8 3.4 .8 6.1 1-8.4 .6 0 .6-.1 .6 0 .6 0 .6 0 .7-.1 .6 0 .6-.1 .6 0 .6 0 .6-.1 .7 0 .6-.1 .6 0 .6-.1 .6-.1 .6-.1 .7 0 .6-.1 .6-.1 .6 0 .6-.1 .7 0 .6-.1 .6 0 .6-.1 .6 0 .6-.1 .7 0 .6-.1 .6 0 .6-.1 .6 0 .6 0 .7-.1 .6 0 .6 0 .6 0 .6 0 .6 0 .7 0 .6 0 .6 0 .6 0 .6 0 .6 0 .7 0 .6 .1 .6 3.2 .6 1.7 .6 0 .6 0 .7 0 .6 0 .6 0 .6-.1 .6-.1 .6-.1 .7-.2 .6-.1 .6-.3 .6-.2" fill="none" stroke="#dd8452" stroke-width="1" stroke-linejoin="round"/>
<path d="M123.4 492.3l.8 13.8 .8-4.5 .8 10.4 .8-9.2 .8 1.3 .8-5.6 .8 7.4 .8 3.9 .8-12.8 .8 12.9 .8-2.5 .8 .1 .8-2.6 .8 9.7 .8-9.4 .8 1.8 .8 .6 .8-5.8 .8 2.6 .8 3.2 .8-12.4 .8 14.3 .8-2.2 .8 1.8 .8-2.3 .8-9.3 .8 9.9 .8-4 .8 5 .8 3.6 .8-9.8 .8 2.5 .8 0 .8 7.4 .8-11.5 .8 3.1 .8 2.5 0 4.4 -.8-2.5 -.8-3.1 -.8 11.5 -.8-7.4 -.8 0 -.8-2.5 -.8 9.8 -.8-3.6 -.8-5 -.8 4 -.8-9.9 -.8 9.3 -.8 2.3 -.8-1.8 -.8 2.2 -.8-14.3 -.8 12.4 -.8-3.2 -.8-2.6 -.8 5.8 -.8-.6 -.8-1.8 -.8 9.4 -.8-9.7 -.8 2.6 -.8-.1 -.8 2.5 -.8-12.9 -.8 12.8 -.8-3.9 -.8-7.4 -.8 5.6 -.8-1.3 -.8 9.2 -.8-10.4 -.8 4.5 -.8-13.8z" fill="#4c72b0" fill-opacity="0.3"/>
<path d="M123.4 494.5l.8 13.8 .8-4.5 .8 10.4 .8-9.2 .8 1.3 .8-5.6 .8 7.4 .8 3.9 .8-12.8 .8 12.9 .8-2.5 .8 .1 .8-2.6 .8 9.7 .8-9.4 .8 1.8 .8 .6 .8-5.8 .8 2.6 .8 3.2 .8-12.4 .8 14.3 .8-2.2 .8 1.8 .8-2.3 .8-9.3 .8 9.9 .8-4 .8 5 .8 3.6 .8-9.8 .8 2.5 .8 0 .8 7.4 .8-11.5 .8 3.1 .8 2.5 1 10.4 .6 0 .6 0 .6 0 .6 0 .6 0 .7 0 .6 0 .6 0 .6 0 .6 0 .6 0 .7 0 .6 0 .6 0 .6 0 .6 0 .6-.1 .7 0 .6 0 .6 0 .6-.1 .6 0 .7-.1 .6 0 .6 0 .6-.1 .6-.1 .6-.1 .7-.1 .6-.1 .6-.1 .6-.1 .6-.1 .6-.1 .7 0 .6-.1 .6 0 .6 0 .6 0 .6 0 .7 0 .6 0 .6 .1 .6 0 .6 .1 .6 0 .7 .1 .6 .1 .6 3 .6 1.6 .6 0 .6 0 .7 0 .6 0 .6-.1 .6-.1 .6-.2 .6-.2 .7-.2 .6-.3 .6-.4 .6-.5" fill="none" stroke="#4c72b0" stroke-width="1" stroke-linejoin="round"/>
<text x="232.7" y="405.2" font-size="18.5" font-weight="bold" fill="#000" stroke="#000" stroke-width="0.07">g</text>
<text x="270.1" y="418.8" font-size="9.6" font-weight="bold" stroke="#1a1a1a" stroke-width="0.07" textLength="139.1" lengthAdjust="spacingAndGlyphs">Cue Sparsity Modulation (MD<tspan font-size="6.5">1</tspan>)</text>
<path d="M261.6 421.1V414.9H268.2" fill="none" stroke="#444" stroke-width="0.9"/>
<path d="M411.3 415.7H418.5V422" fill="none" stroke="#444" stroke-width="0.9"/>
<rect x="254.9" y="424.5" width="62.7" height="10" rx="5" fill="#dce3e6"/>
<text x="286.25" y="432.2" font-size="9" text-anchor="middle" fill="#2a2a2a" stroke="#2a2a2a" stroke-width="0.15">CAC</text>
<rect x="364.3" y="424" width="62.9" height="10.5" rx="5.25" fill="#dce3e6"/>
<text x="395.75" y="432.2" font-size="9" text-anchor="middle" fill="#2a2a2a" stroke="#2a2a2a" stroke-width="0.15">RDM</text>
<text x="252.1" y="443.8" font-size="9.2" fill="#222" stroke="#222" stroke-width="0.15">#9</text>
<text x="349.1" y="447.1" font-size="9.2" fill="#222" stroke="#222" stroke-width="0.15">#10</text>
<line x1="383.3" y1="442.4" x2="389.5" y2="442.4" stroke="#4c72b0" stroke-width="1"/>
<text x="392" y="444.9" font-size="7.1" fill="#222" stroke="#222" stroke-width="0.15">high sparsity</text>
<line x1="383.3" y1="449.3" x2="389.5" y2="449.3" stroke="#dd8452" stroke-width="1"/>
<text x="392" y="451.8" font-size="7.1" fill="#222" stroke="#222" stroke-width="0.15">med. sparsity</text>
<line x1="383.3" y1="457.2" x2="389.5" y2="457.2" stroke="#55a868" stroke-width="1"/>
<text x="392" y="459.7" font-size="7.1" fill="#222" stroke="#222" stroke-width="0.15">low sparsity</text>
<line x1="253.9" y1="489.4" x2="329.4" y2="489.4" stroke="#8a8a8a" stroke-width="1.1"/>
<line x1="253.9" y1="542" x2="329.4" y2="542" stroke="#8a8a8a" stroke-width="1.1"/>
<line x1="349.2" y1="489.4" x2="428.6" y2="489.4" stroke="#8a8a8a" stroke-width="1.1"/>
<line x1="349.2" y1="541.4" x2="428.6" y2="541.4" stroke="#8a8a8a" stroke-width="1.1"/>
<g fill="#e8212b" stroke="#e8212b" stroke-width="0.15" font-size="9" text-anchor="middle">
<text transform="translate(239.6 470.3) rotate(-90)"><tspan x="0" y="0">Attend to</tspan><tspan x="0" y="9.6">vision</tspan></text>
</g>
<g fill="#2f78c2" stroke="#2f78c2" stroke-width="0.15" font-size="9" text-anchor="middle">
<text transform="translate(239.6 522.6) rotate(-90)"><tspan x="0" y="0">Attend to</tspan><tspan x="0" y="9.6">audition</tspan></text>
</g>
<line x1="436.8" y1="519" x2="436.8" y2="539" stroke="#111" stroke-width="1.8"/>
<text transform="translate(442.4 530.2) rotate(90)" font-size="8" text-anchor="middle" fill="#222" stroke="#222" stroke-width="0.15">1 (arb. units)</text>
<text x="257.4" y="549.8" font-size="8.6" fill="#222" stroke="#222" stroke-width="0.15">cueing</text>
<text x="296.5" y="549.8" font-size="8.6" fill="#222" stroke="#222" stroke-width="0.15">delay</text>
<text x="354" y="549.8" font-size="8.6" fill="#222" stroke="#222" stroke-width="0.15">cueing</text>
<text x="396.4" y="549.8" font-size="8.6" fill="#222" stroke="#222" stroke-width="0.15">delay</text>
<path d="M257.2 474.7l.6-8.7 .7-8.7 .6 9 .6 3.6 .6-2.2 .6 3.3 .7 1.3 .6-2.5 .6 2.7 .6 1.8 .7 1.8 .6-6 .6 .5 .6 1.8 .6 4.1 .7-.9 .6-7.4 .6 7 .6-5.7 .7 1 .6 3.7 .6 3 .6-6.8 .7 8.9 .6-5.8 .6 6 .6 1 .6-7.1 .7-1.4 .6 7.7 .6-7.7 .6 7.2 .7 2.1 .6-9.9 .6 4.2 .6-2 .6 2.9 .7 2.6 .6-6.9 .6 .2 .6-1.2 .7 7.3 .6-1.7 .6 .6 .6-2.4 .6 2.4 .7-3.1 .6-.1 .6-.2 .6-.4 .7-.4 .6-.4 .6-.6 .6-.6 .6-.6 .7-.6 .6-.7 .6-.6 .6-.7 .7-.6 .6-.5 .6-.5 .6-.5 .6-.4 .7-.3 .6-.3 .6-.3 .6-.3 .7-.3 .6-.3 .6-.2 .6-.2 .6-.2 .7-.1 .6 0 .6 0 .6 .1 .7 .1 .6 .1 .6 .2 .6 .2 .6 .2 .7 .3 .6 .3 .6 .3 .6 .4 .7 .3 .6 .4 .6 .4 .6 .4 .6 .4 .7 .5 .6 .7 .6 .8 .6 .9 .7 .9 .6 1 .6 .9 .6 .9 .6 .9 .7 .9 .6 .8 .6 .8 .6 .6 .7 .6 .6 .6 .6 .5 .6 .5 .6 .4 .7 .3 0 1.8 -.7-.3 -.6-.4 -.6-.5 -.6-.5 -.6-.6 -.7-.6 -.6-.6 -.6-.8 -.6-.8 -.7-.9 -.6-.9 -.6-.9 -.6-.9 -.6-1 -.7-.9 -.6-.9 -.6-.8 -.6-.7 -.7-.5 -.6-.4 -.6-.4 -.6-.4 -.6-.4 -.7-.3 -.6-.4 -.6-.3 -.6-.3 -.7-.3 -.6-.2 -.6-.2 -.6-.2 -.6-.1 -.7-.1 -.6-.1 -.6 0 -.6 0 -.7 .1 -.6 .2 -.6 .2 -.6 .2 -.6 .3 -.7 .3 -.6 .3 -.6 .3 -.6 .3 -.7 .3 -.6 .4 -.6 .5 -.6 .5 -.6 .5 -.7 .6 -.6 .7 -.6 .6 -.6 .7 -.7 .6 -.6 .6 -.6 .6 -.6 .6 -.6 .4 -.7 .4 -.6 .4 -.6 .2 -.6 .1 -.7 3.1 -.6-2.4 -.6 2.4 -.6-.6 -.6 1.7 -.7-7.3 -.6 1.2 -.6-.2 -.6 6.9 -.7-2.6 -.6-2.9 -.6 2 -.6-4.2 -.6 9.9 -.7-2.1 -.6-7.2 -.6 7.7 -.6-7.7 -.7 1.4 -.6 7.1 -.6-1 -.6-6 -.6 5.8 -.7-8.9 -.6 6.8 -.6-3 -.6-3.7 -.7-1 -.6 5.7 -.6-7 -.6 7.4 -.7 .9 -.6-4.1 -.6-1.8 -.6-.5 -.6 6 -.7-1.8 -.6-1.8 -.6-2.7 -.6 2.5 -.7-1.3 -.6-3.3 -.6 2.2 -.6-3.6 -.6-9 -.7 8.7 -.6 8.7z" fill="#55a868" fill-opacity="0.35"/>
<path d="M257.2 475.6l.6-8.7 .7-8.7 .6 9 .6 3.6 .6-2.2 .6 3.3 .7 1.3 .6-2.5 .6 2.7 .6 1.8 .7 1.8 .6-6 .6 .5 .6 1.8 .6 4.1 .7-.9 .6-7.4 .6 7 .6-5.7 .7 1 .6 3.7 .6 3 .6-6.8 .7 8.9 .6-5.8 .6 6 .6 1 .6-7.1 .7-1.4 .6 7.7 .6-7.7 .6 7.2 .7 2.1 .6-9.9 .6 4.2 .6-2 .6 2.9 .7 2.6 .6-6.9 .6 .2 .6-1.2 .7 7.3 .6-1.7 .6 .6 .6-2.4 .6 2.4 .7-3.1 .6-.1 .6-.2 .6-.4 .7-.4 .6-.4 .6-.6 .6-.6 .6-.6 .7-.6 .6-.7 .6-.6 .6-.7 .7-.6 .6-.5 .6-.5 .6-.5 .6-.4 .7-.3 .6-.3 .6-.3 .6-.3 .7-.3 .6-.3 .6-.2 .6-.2 .6-.2 .7-.1 .6 0 .6 0 .6 .1 .7 .1 .6 .1 .6 .2 .6 .2 .6 .2 .7 .3 .6 .3 .6 .3 .6 .4 .7 .3 .6 .4 .6 .4 .6 .4 .6 .4 .7 .5 .6 .7 .6 .8 .6 .9 .7 .9 .6 1 .6 .9 .6 .9 .6 .9 .7 .9 .6 .8 .6 .8 .6 .6 .7 .6 .6 .6 .6 .5 .6 .5 .6 .4 .7 .3" fill="none" stroke="#55a868" stroke-width="1.05" stroke-linejoin="round"/>
<path d="M257.2 476.7l.6-8.6 .7 1.7 .6-.7 .6-2.4 .6 15.4 .6 .1 .7-.1 .6-7.2 .6 3.2 .6-1.4 .7 4.4 .6-2.6 .6 .7 .6-3.6 .6-2.2 .7 3 .6-3.9 .6 7.4 .6-2 .7 2.6 .6-4.3 .6 6.6 .6 .3 .7-1.5 .6-5.6 .6 4 .6-4.7 .6 2.8 .7 4.8 .6 .6 .6 3.3 .6-7.9 .7 .5 .6 .8 .6-2.8 .6-1.2 .6 3.5 .7-2.1 .6 4 .6-3.1 .6 3.4 .7-.9 .6-3.9 .6 5.1 .6-1.2 .6-4.4 .7 .9 .6-.4 .6-.4 .6-.5 .7-.6 .6-.6 .6-.6 .6-.7 .6-.6 .7-.7 .6-.7 .6-.6 .6-.7 .7-.6 .6-.6 .6-.6 .6-.5 .6-.5 .7-.4 .6-.4 .6-.5 .6-.4 .7-.5 .6-.4 .6-.5 .6-.4 .6-.3 .7-.4 .6-.3 .6-.3 .6-.2 .7-.2 .6-.1 .6-.1 .6 0 .6 0 .7 .1 .6 .1 .6 .1 .6 .2 .7 .2 .6 .2 .6 .3 .6 .3 .6 .3 .7 .4 .6 .4 .6 .5 .6 .5 .7 1.3 .6 2.9 .6 3.2 .6 2.5 .6 1.2 .7 1.1 .6 1.1 .6 .9 .6 .9 .7 .7 .6 .7 .6 .5 .6 .4 .6 .2 .7 .1 0 1.8 -.7-.1 -.6-.2 -.6-.4 -.6-.5 -.6-.7 -.7-.7 -.6-.9 -.6-.9 -.6-1.1 -.7-1.1 -.6-1.2 -.6-2.5 -.6-3.2 -.6-2.9 -.7-1.3 -.6-.5 -.6-.5 -.6-.4 -.7-.4 -.6-.3 -.6-.3 -.6-.3 -.6-.2 -.7-.2 -.6-.2 -.6-.1 -.6-.1 -.7-.1 -.6 0 -.6 0 -.6 .1 -.6 .1 -.7 .2 -.6 .2 -.6 .3 -.6 .3 -.7 .4 -.6 .3 -.6 .4 -.6 .5 -.6 .4 -.7 .5 -.6 .4 -.6 .5 -.6 .4 -.7 .4 -.6 .5 -.6 .5 -.6 .6 -.6 .6 -.7 .6 -.6 .7 -.6 .6 -.6 .7 -.7 .7 -.6 .6 -.6 .7 -.6 .6 -.6 .6 -.7 .6 -.6 .5 -.6 .4 -.6 .4 -.7-.9 -.6 4.4 -.6 1.2 -.6-5.1 -.6 3.9 -.7 .9 -.6-3.4 -.6 3.1 -.6-4 -.7 2.1 -.6-3.5 -.6 1.2 -.6 2.8 -.6-.8 -.7-.5 -.6 7.9 -.6-3.3 -.6-.6 -.7-4.8 -.6-2.8 -.6 4.7 -.6-4 -.6 5.6 -.7 1.5 -.6-.3 -.6-6.6 -.6 4.3 -.7-2.6 -.6 2 -.6-7.4 -.6 3.9 -.7-3 -.6 2.2 -.6 3.6 -.6-.7 -.6 2.6 -.7-4.4 -.6 1.4 -.6-3.2 -.6 7.2 -.7 .1 -.6-.1 -.6-15.4 -.6 2.4 -.6 .7 -.7-1.7 -.6 8.6z" fill="#dd8452" fill-opacity="0.35"/>
<path d="M257.2 477.6l.6-8.6 .7 1.7 .6-.7 .6-2.4 .6 15.4 .6 .1 .7-.1 .6-7.2 .6 3.2 .6-1.4 .7 4.4 .6-2.6 .6 .7 .6-3.6 .6-2.2 .7 3 .6-3.9 .6 7.4 .6-2 .7 2.6 .6-4.3 .6 6.6 .6 .3 .7-1.5 .6-5.6 .6 4 .6-4.7 .6 2.8 .7 4.8 .6 .6 .6 3.3 .6-7.9 .7 .5 .6 .8 .6-2.8 .6-1.2 .6 3.5 .7-2.1 .6 4 .6-3.1 .6 3.4 .7-.9 .6-3.9 .6 5.1 .6-1.2 .6-4.4 .7 .9 .6-.4 .6-.4 .6-.5 .7-.6 .6-.6 .6-.6 .6-.7 .6-.6 .7-.7 .6-.7 .6-.6 .6-.7 .7-.6 .6-.6 .6-.6 .6-.5 .6-.5 .7-.4 .6-.4 .6-.5 .6-.4 .7-.5 .6-.4 .6-.5 .6-.4 .6-.3 .7-.4 .6-.3 .6-.3 .6-.2 .7-.2 .6-.1 .6-.1 .6 0 .6 0 .7 .1 .6 .1 .6 .1 .6 .2 .7 .2 .6 .2 .6 .3 .6 .3 .6 .3 .7 .4 .6 .4 .6 .5 .6 .5 .7 1.3 .6 2.9 .6 3.2 .6 2.5 .6 1.2 .7 1.1 .6 1.1 .6 .9 .6 .9 .7 .7 .6 .7 .6 .5 .6 .4 .6 .2 .7 .1" fill="none" stroke="#dd8452" stroke-width="1.05" stroke-linejoin="round"/>
<path d="M257.2 479.1l.6-12.8 .7-4 .6 11.2 .6 1.6 .6 1 .6 9.4 .7-5.3 .6 1 .6-.1 .6 4.4 .7-1 .6-7.8 .6-.5 .6 1 .6-5.7 .7 4.2 .6 6.9 .6-.1 .6-3.4 .7 0 .6 5.4 .6-3 .6 3.7 .7 1.7 .6-7.7 .6-.4 .6 7.5 .6-5.3 .7 1.7 .6-.6 .6 2.5 .6-4.4 .7 2.9 .6 1 .6-5.8 .6 3.1 .6 1.2 .7-2 .6 .5 .6-.3 .6-2.6 .7 4.1 .6-5.6 .6 5.5 .6-5.4 .6 4.8 .7-.7 .6-.3 .6-.5 .6-.6 .7-.7 .6-.8 .6-.9 .6-.9 .6-1 .7-1 .6-1 .6-.9 .6-1 .7-.9 .6-.8 .6-.8 .6-.6 .6-.6 .7-.4 .6-.4 .6-.5 .6-.4 .7-.5 .6-.4 .6-.4 .6-.3 .6-.4 .7-.3 .6-.3 .6-.2 .6-.3 .7-.1 .6-.1 .6-.1 .6 0 .6 .1 .7 0 .6 .1 .6 0 .6 .1 .7 .2 .6 .1 .6 .2 .6 .2 .6 .3 .7 .2 .6 .3 .6 .3 .6 .4 .7 1.1 .6 2.5 .6 3 .6 2.4 .6 1.3 .7 1.3 .6 1.3 .6 1.1 .6 1.1 .7 1 .6 .8 .6 .7 .6 .5 .6 .3 .7 .1 0 1.8 -.7-.1 -.6-.3 -.6-.5 -.6-.7 -.6-.8 -.7-1 -.6-1.1 -.6-1.1 -.6-1.3 -.7-1.3 -.6-1.3 -.6-2.4 -.6-3 -.6-2.5 -.7-1.1 -.6-.4 -.6-.3 -.6-.3 -.7-.2 -.6-.3 -.6-.2 -.6-.2 -.6-.1 -.7-.2 -.6-.1 -.6 0 -.6-.1 -.7 0 -.6-.1 -.6 0 -.6 .1 -.6 .1 -.7 .1 -.6 .3 -.6 .2 -.6 .3 -.7 .3 -.6 .4 -.6 .3 -.6 .4 -.6 .4 -.7 .5 -.6 .4 -.6 .5 -.6 .4 -.7 .4 -.6 .6 -.6 .6 -.6 .8 -.6 .8 -.7 .9 -.6 1 -.6 .9 -.6 1 -.7 1 -.6 1 -.6 .9 -.6 .9 -.6 .8 -.7 .7 -.6 .6 -.6 .5 -.6 .3 -.7 .7 -.6-4.8 -.6 5.4 -.6-5.5 -.6 5.6 -.7-4.1 -.6 2.6 -.6 .3 -.6-.5 -.7 2 -.6-1.2 -.6-3.1 -.6 5.8 -.6-1 -.7-2.9 -.6 4.4 -.6-2.5 -.6 .6 -.7-1.7 -.6 5.3 -.6-7.5 -.6 .4 -.6 7.7 -.7-1.7 -.6-3.7 -.6 3 -.6-5.4 -.7 0 -.6 3.4 -.6 .1 -.6-6.9 -.7-4.2 -.6 5.7 -.6-1 -.6 .5 -.6 7.8 -.7 1 -.6-4.4 -.6 .1 -.6-1 -.7 5.3 -.6-9.4 -.6-1 -.6-1.6 -.6-11.2 -.7 4 -.6 12.8z" fill="#4c72b0" fill-opacity="0.35"/>
<path d="M257.2 480l.6-12.8 .7-4 .6 11.2 .6 1.6 .6 1 .6 9.4 .7-5.3 .6 1 .6-.1 .6 4.4 .7-1 .6-7.8 .6-.5 .6 1 .6-5.7 .7 4.2 .6 6.9 .6-.1 .6-3.4 .7 0 .6 5.4 .6-3 .6 3.7 .7 1.7 .6-7.7 .6-.4 .6 7.5 .6-5.3 .7 1.7 .6-.6 .6 2.5 .6-4.4 .7 2.9 .6 1 .6-5.8 .6 3.1 .6 1.2 .7-2 .6 .5 .6-.3 .6-2.6 .7 4.1 .6-5.6 .6 5.5 .6-5.4 .6 4.8 .7-.7 .6-.3 .6-.5 .6-.6 .7-.7 .6-.8 .6-.9 .6-.9 .6-1 .7-1 .6-1 .6-.9 .6-1 .7-.9 .6-.8 .6-.8 .6-.6 .6-.6 .7-.4 .6-.4 .6-.5 .6-.4 .7-.5 .6-.4 .6-.4 .6-.3 .6-.4 .7-.3 .6-.3 .6-.2 .6-.3 .7-.1 .6-.1 .6-.1 .6 0 .6 .1 .7 0 .6 .1 .6 0 .6 .1 .7 .2 .6 .1 .6 .2 .6 .2 .6 .3 .7 .2 .6 .3 .6 .3 .6 .4 .7 1.1 .6 2.5 .6 3 .6 2.4 .6 1.3 .7 1.3 .6 1.3 .6 1.1 .6 1.1 .7 1 .6 .8 .6 .7 .6 .5 .6 .3 .7 .1" fill="none" stroke="#4c72b0" stroke-width="1.05" stroke-linejoin="round"/>
<path d="M257.2 516.7l.6-7.1 .7-.6 .6 .4 .6 5.9 .6-4.2 .6 7.2 .7-.1 .6-3.9 .6 .8 .6 3.4 .7-1.3 .6-5.7 .6 5.1 .6-3.4 .6 4.9 .7-7.9 .6 2.2 .6 6.2 .6-4.6 .7 1.2 .6-1.8 .6-3.4 .6-2.3 .7 .9 .6 1.7 .6-2.7 .6 .7 .6 2.8 .7-1.7 .6 2.4 .6-2.1 .6 2.5 .7 1.3 .6 1.7 .6-7.5 .6 7.9 .6-4.2 .7-.5 .6-1.4 .6 4.6 .6 2.5 .7 3.4 .6-7.8 .6 6.9 .6-4 .6 3.7 .7-3.2 .6 .4 .6 .6 .6 .6 .7 .7 .6 .7 .6 .7 .6 .7 .6 .7 .7 .6 .6 .5 .6 .6 .6 .5 .7 .6 .6 .5 .6 .6 .6 .5 .6 .5 .7 .5 .6 .5 .6 .4 .6 .4 .7 .4 .6 .4 .6 .4 .6 .3 .6 .4 .7 .4 .6 .4 .6 .4 .6 .3 .7 .3 .6 .3 .6 .3 .6 .2 .6 .1 .7 .2 .6 0 .6 0 .6-.1 .7-.2 .6-.3 .6-.4 .6-.3 .6-.4 .7-.3 .6-.2 .6-.2 .6-.1 .7 .2 .6 .5 .6 .6 .6 .4 .6-.1 .7-.1 .6-.3 .6-.5 .6-.6 .7-.7 .6-.9 .6-1.1 .6-1.2 .6-1.4 .7-1.5 0 1.8 -.7 1.5 -.6 1.4 -.6 1.2 -.6 1.1 -.6 .9 -.7 .7 -.6 .6 -.6 .5 -.6 .3 -.7 .1 -.6 .1 -.6-.4 -.6-.6 -.6-.5 -.7-.2 -.6 .1 -.6 .2 -.6 .2 -.7 .3 -.6 .4 -.6 .3 -.6 .4 -.6 .3 -.7 .2 -.6 .1 -.6 0 -.6 0 -.7-.2 -.6-.1 -.6-.2 -.6-.3 -.6-.3 -.7-.3 -.6-.3 -.6-.4 -.6-.4 -.7-.4 -.6-.4 -.6-.3 -.6-.4 -.6-.4 -.7-.4 -.6-.4 -.6-.4 -.6-.5 -.7-.5 -.6-.5 -.6-.5 -.6-.6 -.6-.5 -.7-.6 -.6-.5 -.6-.6 -.6-.5 -.7-.6 -.6-.7 -.6-.7 -.6-.7 -.6-.7 -.7-.7 -.6-.6 -.6-.6 -.6-.4 -.7 3.2 -.6-3.7 -.6 4 -.6-6.9 -.6 7.8 -.7-3.4 -.6-2.5 -.6-4.6 -.6 1.4 -.7 .5 -.6 4.2 -.6-7.9 -.6 7.5 -.6-1.7 -.7-1.3 -.6-2.5 -.6 2.1 -.6-2.4 -.7 1.7 -.6-2.8 -.6-.7 -.6 2.7 -.6-1.7 -.7-.9 -.6 2.3 -.6 3.4 -.6 1.8 -.7-1.2 -.6 4.6 -.6-6.2 -.6-2.2 -.7 7.9 -.6-4.9 -.6 3.4 -.6-5.1 -.6 5.7 -.7 1.3 -.6-3.4 -.6-.8 -.6 3.9 -.7 .1 -.6-7.2 -.6 4.2 -.6-5.9 -.6-.4 -.7 .6 -.6 7.1z" fill="#55a868" fill-opacity="0.35"/>
<path d="M257.2 517.6l.6-7.1 .7-.6 .6 .4 .6 5.9 .6-4.2 .6 7.2 .7-.1 .6-3.9 .6 .8 .6 3.4 .7-1.3 .6-5.7 .6 5.1 .6-3.4 .6 4.9 .7-7.9 .6 2.2 .6 6.2 .6-4.6 .7 1.2 .6-1.8 .6-3.4 .6-2.3 .7 .9 .6 1.7 .6-2.7 .6 .7 .6 2.8 .7-1.7 .6 2.4 .6-2.1 .6 2.5 .7 1.3 .6 1.7 .6-7.5 .6 7.9 .6-4.2 .7-.5 .6-1.4 .6 4.6 .6 2.5 .7 3.4 .6-7.8 .6 6.9 .6-4 .6 3.7 .7-3.2 .6 .4 .6 .6 .6 .6 .7 .7 .6 .7 .6 .7 .6 .7 .6 .7 .7 .6 .6 .5 .6 .6 .6 .5 .7 .6 .6 .5 .6 .6 .6 .5 .6 .5 .7 .5 .6 .5 .6 .4 .6 .4 .7 .4 .6 .4 .6 .4 .6 .3 .6 .4 .7 .4 .6 .4 .6 .4 .6 .3 .7 .3 .6 .3 .6 .3 .6 .2 .6 .1 .7 .2 .6 0 .6 0 .6-.1 .7-.2 .6-.3 .6-.4 .6-.3 .6-.4 .7-.3 .6-.2 .6-.2 .6-.1 .7 .2 .6 .5 .6 .6 .6 .4 .6-.1 .7-.1 .6-.3 .6-.5 .6-.6 .7-.7 .6-.9 .6-1.1 .6-1.2 .6-1.4 .7-1.5" fill="none" stroke="#55a868" stroke-width="1.05" stroke-linejoin="round"/>
<path d="M257.2 519l.6-1.9 .7-1.4 .6-3.7 .6 6.4 .6 5.4 .6-3.5 .7-4.5 .6 2.9 .6 7.8 .6-2.2 .7-4.6 .6-4.7 .6 .4 .6 8.9 .6-9.3 .7 3.7 .6-.6 .6 3.8 .6-8.1 .7 5.2 .6 3 .6-3.6 .6 3.1 .7-1.6 .6-2.9 .6 5.3 .6-5.1 .6 3.3 .7-3.4 .6 8.8 .6-7.9 .6-.3 .7 1.4 .6-1.5 .6 3 .6-.7 .6-1.8 .7-2.9 .6-.6 .6 1.2 .6 7.8 .7-4.9 .6-.1 .6 2.4 .6-2.6 .6 2.9 .7-1.6 .6 .1 .6 .2 .6 .1 .7 .2 .6 .1 .6 .2 .6 .2 .6 .2 .7 .3 .6 .3 .6 .4 .6 .4 .7 .5 .6 .6 .6 .6 .6 .6 .6 .6 .7 .6 .6 .6 .6 .5 .6 .5 .7 .3 .6 .4 .6 .3 .6 .3 .6 .2 .7 .3 .6 .3 .6 .3 .6 .2 .7 .3 .6 .2 .6 .2 .6 .2 .6 .1 .7 .1 .6 .1 .6 .1 .6 0 .7-.1 .6-.1 .6-.2 .6-.2 .6-.3 .7-.4 .6-.4 .6-.4 .6-.5 .7-.5 .6-.6 .6-1 .6-1.2 .6-1.2 .7-.8 .6-.9 .6-.7 .6-.5 .7-.1 .6 .1 .6 .1 .6 .3 .6 .5 .7 .7 0 1.8 -.7-.7 -.6-.5 -.6-.3 -.6-.1 -.6-.1 -.7 .1 -.6 .5 -.6 .7 -.6 .9 -.7 .8 -.6 1.2 -.6 1.2 -.6 1 -.6 .6 -.7 .5 -.6 .5 -.6 .4 -.6 .4 -.7 .4 -.6 .3 -.6 .2 -.6 .2 -.6 .1 -.7 .1 -.6 0 -.6-.1 -.6-.1 -.7-.1 -.6-.1 -.6-.2 -.6-.2 -.6-.2 -.7-.3 -.6-.2 -.6-.3 -.6-.3 -.7-.3 -.6-.2 -.6-.3 -.6-.3 -.6-.4 -.7-.3 -.6-.5 -.6-.5 -.6-.6 -.7-.6 -.6-.6 -.6-.6 -.6-.6 -.6-.6 -.7-.5 -.6-.4 -.6-.4 -.6-.3 -.7-.3 -.6-.2 -.6-.2 -.6-.2 -.6-.1 -.7-.2 -.6-.1 -.6-.2 -.6-.1 -.7 1.6 -.6-2.9 -.6 2.6 -.6-2.4 -.6 .1 -.7 4.9 -.6-7.8 -.6-1.2 -.6 .6 -.7 2.9 -.6 1.8 -.6 .7 -.6-3 -.6 1.5 -.7-1.4 -.6 .3 -.6 7.9 -.6-8.8 -.7 3.4 -.6-3.3 -.6 5.1 -.6-5.3 -.6 2.9 -.7 1.6 -.6-3.1 -.6 3.6 -.6-3 -.7-5.2 -.6 8.1 -.6-3.8 -.6 .6 -.7-3.7 -.6 9.3 -.6-8.9 -.6-.4 -.6 4.7 -.7 4.6 -.6 2.2 -.6-7.8 -.6-2.9 -.7 4.5 -.6 3.5 -.6-5.4 -.6-6.4 -.6 3.7 -.7 1.4 -.6 1.9z" fill="#dd8452" fill-opacity="0.35"/>
<path d="M257.2 519.9l.6-1.9 .7-1.4 .6-3.7 .6 6.4 .6 5.4 .6-3.5 .7-4.5 .6 2.9 .6 7.8 .6-2.2 .7-4.6 .6-4.7 .6 .4 .6 8.9 .6-9.3 .7 3.7 .6-.6 .6 3.8 .6-8.1 .7 5.2 .6 3 .6-3.6 .6 3.1 .7-1.6 .6-2.9 .6 5.3 .6-5.1 .6 3.3 .7-3.4 .6 8.8 .6-7.9 .6-.3 .7 1.4 .6-1.5 .6 3 .6-.7 .6-1.8 .7-2.9 .6-.6 .6 1.2 .6 7.8 .7-4.9 .6-.1 .6 2.4 .6-2.6 .6 2.9 .7-1.6 .6 .1 .6 .2 .6 .1 .7 .2 .6 .1 .6 .2 .6 .2 .6 .2 .7 .3 .6 .3 .6 .4 .6 .4 .7 .5 .6 .6 .6 .6 .6 .6 .6 .6 .7 .6 .6 .6 .6 .5 .6 .5 .7 .3 .6 .4 .6 .3 .6 .3 .6 .2 .7 .3 .6 .3 .6 .3 .6 .2 .7 .3 .6 .2 .6 .2 .6 .2 .6 .1 .7 .1 .6 .1 .6 .1 .6 0 .7-.1 .6-.1 .6-.2 .6-.2 .6-.3 .7-.4 .6-.4 .6-.4 .6-.5 .7-.5 .6-.6 .6-1 .6-1.2 .6-1.2 .7-.8 .6-.9 .6-.7 .6-.5 .7-.1 .6 .1 .6 .1 .6 .3 .6 .5 .7 .7" fill="none" stroke="#dd8452" stroke-width="1.05" stroke-linejoin="round"/>
<path d="M257.2 515.5l.6 4.3 .7-5.5 .6 6.5 .6-5.2 .6 9 .6 3.1 .7-.5 .6 3.7 .6-3.7 .6-4.7 .7 1 .6 2.6 .6 .6 .6-4 .6 6 .7 .5 .6-1.5 .6-7.1 .6 8 .7-3.7 .6-2.9 .6-.3 .6 6.4 .7 2.4 .6-.7 .6-2.8 .6 4.7 .6 1.7 .7-7.9 .6-2.6 .6 7.7 .6-3.6 .7 5.6 .6-3.5 .6-6.1 .6 6.8 .6-1.8 .7-1.7 .6 2 .6-1 .6-1 .7-.7 .6-4 .6 .5 .6 7.8 .6-4.8 .7-.5 .6-.4 .6-.3 .6-.4 .7-.4 .6-.3 .6-.4 .6-.4 .6-.3 .7-.4 .6-.3 .6-.3 .6-.4 .7-.3 .6-.3 .6-.4 .6-.3 .6-.4 .7-.3 .6-.2 .6-.3 .6-.2 .7-.2 .6-.2 .6 0 .6-.1 .6 0 .7 0 .6 .1 .6 .1 .6 0 .7 .1 .6 .2 .6 .1 .6 .2 .6 .2 .7 .2 .6 .2 .6 .2 .6 .3 .7 .2 .6 .3 .6 .3 .6 .6 .6 .7 .7 .9 .6 1.1 .6 1.3 .6 1.3 .7 1.5 .6 1.9 .6 3.3 .6 2.2 .6-.1 .7-.6 .6-.9 .6-.9 .6-.6 .7-.1 .6 .1 .6 .1 .6 .3 .6 .5 .7 .7 0 1.8 -.7-.7 -.6-.5 -.6-.3 -.6-.1 -.6-.1 -.7 .1 -.6 .6 -.6 .9 -.6 .9 -.7 .6 -.6 .1 -.6-2.2 -.6-3.3 -.6-1.9 -.7-1.5 -.6-1.3 -.6-1.3 -.6-1.1 -.7-.9 -.6-.7 -.6-.6 -.6-.3 -.6-.3 -.7-.2 -.6-.3 -.6-.2 -.6-.2 -.7-.2 -.6-.2 -.6-.2 -.6-.1 -.6-.2 -.7-.1 -.6 0 -.6-.1 -.6-.1 -.7 0 -.6 0 -.6 .1 -.6 0 -.6 .2 -.7 .2 -.6 .2 -.6 .3 -.6 .2 -.7 .3 -.6 .4 -.6 .3 -.6 .4 -.6 .3 -.7 .3 -.6 .4 -.6 .3 -.6 .3 -.7 .4 -.6 .3 -.6 .4 -.6 .4 -.6 .3 -.7 .4 -.6 .4 -.6 .3 -.6 .4 -.7 .5 -.6 4.8 -.6-7.8 -.6-.5 -.6 4 -.7 .7 -.6 1 -.6 1 -.6-2 -.7 1.7 -.6 1.8 -.6-6.8 -.6 6.1 -.6 3.5 -.7-5.6 -.6 3.6 -.6-7.7 -.6 2.6 -.7 7.9 -.6-1.7 -.6-4.7 -.6 2.8 -.6 .7 -.7-2.4 -.6-6.4 -.6 .3 -.6 2.9 -.7 3.7 -.6-8 -.6 7.1 -.6 1.5 -.7-.5 -.6-6 -.6 4 -.6-.6 -.6-2.6 -.7-1 -.6 4.7 -.6 3.7 -.6-3.7 -.7 .5 -.6-3.1 -.6-9 -.6 5.2 -.6-6.5 -.7 5.5 -.6-4.3z" fill="#4c72b0" fill-opacity="0.35"/>
<path d="M257.2 516.4l.6 4.3 .7-5.5 .6 6.5 .6-5.2 .6 9 .6 3.1 .7-.5 .6 3.7 .6-3.7 .6-4.7 .7 1 .6 2.6 .6 .6 .6-4 .6 6 .7 .5 .6-1.5 .6-7.1 .6 8 .7-3.7 .6-2.9 .6-.3 .6 6.4 .7 2.4 .6-.7 .6-2.8 .6 4.7 .6 1.7 .7-7.9 .6-2.6 .6 7.7 .6-3.6 .7 5.6 .6-3.5 .6-6.1 .6 6.8 .6-1.8 .7-1.7 .6 2 .6-1 .6-1 .7-.7 .6-4 .6 .5 .6 7.8 .6-4.8 .7-.5 .6-.4 .6-.3 .6-.4 .7-.4 .6-.3 .6-.4 .6-.4 .6-.3 .7-.4 .6-.3 .6-.3 .6-.4 .7-.3 .6-.3 .6-.4 .6-.3 .6-.4 .7-.3 .6-.2 .6-.3 .6-.2 .7-.2 .6-.2 .6 0 .6-.1 .6 0 .7 0 .6 .1 .6 .1 .6 0 .7 .1 .6 .2 .6 .1 .6 .2 .6 .2 .7 .2 .6 .2 .6 .2 .6 .3 .7 .2 .6 .3 .6 .3 .6 .6 .6 .7 .7 .9 .6 1.1 .6 1.3 .6 1.3 .7 1.5 .6 1.9 .6 3.3 .6 2.2 .6-.1 .7-.6 .6-.9 .6-.9 .6-.6 .7-.1 .6 .1 .6 .1 .6 .3 .6 .5 .7 .7" fill="none" stroke="#4c72b0" stroke-width="1.05" stroke-linejoin="round"/>
<path d="M353.4 473l.8-.3 .8-.9 .8 .2 .8 1.3 .8-3.3 .8 2.5 .8 .6 .8-1.5 .8 .6 .8 1.1 .8-.7 .8 1.3 .8-2.9 .8 3 .8-.3 .8-1.5 .8 2.5 .8-3.2 .8-.6 .8 1 .8-.2 .8 0 .8-.6 .8 3 .8-2.9 .8-1.1 .8 2.2 .8 1.9 .8-3.1 .8 4.6 .8-2.8 .8-.5 .8 .5 .8-1.1 .8 .8 .8 .3 .8 .2 .8-.4 0 1 -.8 .6 -.8-.1 -.8-.1 -.8-.8 -.8 1.3 -.8-.4 -.8 .6 -.8 2.9 -.8-4.6 -.8 3.1 -.8-1.9 -.8-2.2 -.8 1.1 -.8 2.9 -.8-3 -.8 .6 -.8 0 -.8 .2 -.8-1 -.8 .6 -.8 3.2 -.8-2.5 -.8 1.5 -.8 .3 -.8-3 -.8 2.9 -.8-1.3 -.8 .7 -.8-1.1 -.8-.6 -.8 1.5 -.8-.6 -.8-2.5 -.8 3.3 -.8-1.3 -.8-.2 -.8 .9 -.8 .3z" fill="#55a868" fill-opacity="0.3"/>
<path d="M353.4 474l.8-.3 .8-.9 .8 .2 .8 1.3 .8-3.3 .8 2.5 .8 .6 .8-1.5 .8 .6 .8 1.1 .8-.7 .8 1.3 .8-2.9 .8 3 .8-.3 .8-1.5 .8 2.5 .8-3.2 .8-.6 .8 1 .8-.2 .8 0 .8-.6 .8 3 .8-2.9 .8-1.1 .8 2.2 .8 1.9 .8-3.1 .8 4.6 .8-2.8 .8-.6 .8 .4 .8-1.1 .8 .7 .8 .2 .8 .2 .8-.5 .7 .3 .6-.4 .6-.4 .6-.3 .6-.4 .7-.3 .6-.3 .6-.2 .6-.1 .6-.1 .7 0 .6 0 .6 0 .6 0 .6 .1 .7 0 .6 0 .6 .1 .6 0 .6 .1 .7 0 .6 .1 .6 0 .6 .1 .6 0 .7 .1 .6 .1 .6 0 .6 .1 .6 .1 .6 .1 .7 .1 .6 .1 .6 .1 .6 .1 .6 .1 .7 .1 .6 .1 .6 .2 .6 .1 .6 .2 .7 .1 .6 .2 .6 .3 .6 .3 .6 .5 .7 .5 .6 .5 .6 .6 .6 .5 .6 .4 .7 .3 .6 .3 .6 0 .6 0 .6 0 .7 0 .6 0 .6-.1 .6 0 .6-.1 .7 0 .6-.2 .6-.1 .6-.1 .6-.2" fill="none" stroke="#55a868" stroke-width="1" stroke-linejoin="round"/>
<path d="M353.4 479.9l.8-7.5 .8 .5 .8 3.1 .8-3.8 .8 1.5 .8-5.3 .8 6.2 .8-7.4 .8 7.9 .8 2.4 .8-5.2 .8-3.7 .8 6.5 .8-1.5 .8 4.2 .8-7.9 .8 8 .8-.5 .8-2.3 .8 2.3 .8-.6 .8-8 .8 4.7 .8 1.5 .8-2.5 .8 1.1 .8-.8 .8 1.1 .8 4.1 .8-.7 .8 2.5 .8-5.3 .8-4.6 .8 2.4 .8 2.4 .8-.6 .8-.3 .8-.2 0 1.7 -.8 .4 -.8 .5 -.8 .8 -.8-2.2 -.8-2.2 -.8 4.8 -.8 5.5 -.8-2.4 -.8 .7 -.8-4.1 -.8-1.1 -.8 .8 -.8-1.1 -.8 2.5 -.8-1.5 -.8-4.7 -.8 8 -.8 .6 -.8-2.3 -.8 2.3 -.8 .5 -.8-8 -.8 7.9 -.8-4.2 -.8 1.5 -.8-6.5 -.8 3.7 -.8 5.2 -.8-2.4 -.8-7.9 -.8 7.4 -.8-6.2 -.8 5.3 -.8-1.5 -.8 3.8 -.8-3.1 -.8-.5 -.8 7.5z" fill="#dd8452" fill-opacity="0.3"/>
<path d="M353.4 481.5l.8-7.5 .8 .5 .8 3.1 .8-3.8 .8 1.5 .8-5.3 .8 6.2 .8-7.4 .8 7.9 .8 2.4 .8-5.2 .8-3.7 .8 6.5 .8-1.5 .8 4.2 .8-7.9 .8 8 .8-.5 .8-2.3 .8 2.3 .8-.6 .8-8 .8 4.7 .8 1.5 .8-2.5 .8 1.1 .8-.8 .8 1.1 .8 4.1 .8-.7 .8 2.5 .8-5.4 .8-4.7 .8 2.2 .8 2.4 .8-.8 .8-.4 .8-.2 .7-.2 .6 0 .6 0 .6-.1 .6-.1 .7-.1 .6-.1 .6-.1 .6-.1 .6-.1 .7-.2 .6-.1 .6-.2 .6-.3 .6-.2 .7-.3 .6-.3 .6-.3 .6-.3 .6-.3 .7-.2 .6-.3 .6-.2 .6-.2 .6-.2 .7-.2 .6-.2 .6-.2 .6-.2 .6-.2 .6-.2 .7-.2 .6-.1 .6-.1 .6-.1 .6-.1 .7-.1 .6 0 .6 .1 .6 0 .6 .1 .7 0 .6 .1 .6 .2 .6 .1 .6 .2 .7 .1 .6 .2 .6 .3 .6 .6 .6 .8 .7 .9 .6 1 .6 .9 .6 .9 .6 1.1 .7 1 .6 1 .6 .7 .6 .6 .6 .5 .7 .4 .6 .5 .6 .3 .6 .2 .6 .2" fill="none" stroke="#dd8452" stroke-width="1" stroke-linejoin="round"/>
<path d="M353.4 458.1l.8 14 .8 5.6 .8-7.4 .8 6.4 .8 5.6 .8-6.3 .8 .4 .8-3 .8-.8 .8 .6 .8-9.1 .8 8.8 .8 1.3 .8 1.8 .8 3.9 .8-4.8 .8 2.8 .8-.8 .8 2 .8-15 .8 11.5 .8 2.6 .8-4.2 .8 3 .8 .4 .8 3.7 .8 4.5 .8-10.4 .8-.3 .8-3.3 .8 1.8 .8 3.1 .8-9.5 .8 6.1 .8 4.3 .8-3.5 .8 1.4 .8-.9 0 2.2 -.8 1.1 -.8-1.1 -.8 3.7 -.8-4.1 -.8-5.8 -.8 9.7 -.8-2.8 -.8-1.7 -.8 3.3 -.8 .3 -.8 10.4 -.8-4.5 -.8-3.7 -.8-.4 -.8-3 -.8 4.2 -.8-2.6 -.8-11.5 -.8 15 -.8-2 -.8 .8 -.8-2.8 -.8 4.8 -.8-3.9 -.8-1.8 -.8-1.3 -.8-8.8 -.8 9.1 -.8-.6 -.8 .8 -.8 3 -.8-.4 -.8 6.3 -.8-5.6 -.8-6.4 -.8 7.4 -.8-5.6 -.8-14z" fill="#4c72b0" fill-opacity="0.3"/>
<path d="M353.4 460.1l.8 14 .8 5.6 .8-7.4 .8 6.4 .8 5.6 .8-6.3 .8 .4 .8-3 .8-.8 .8 .6 .8-9.1 .8 8.8 .8 1.3 .8 1.8 .8 3.9 .8-4.8 .8 2.8 .8-.8 .8 2 .8-15 .8 11.5 .8 2.6 .8-4.2 .8 3 .8 .4 .8 3.7 .8 4.5 .8-10.4 .8-.3 .8-3.3 .8 1.7 .8 3 .8-9.6 .8 5.9 .8 4.3 .8-3.7 .8 1.3 .8-1 .7-1.2 .6 0 .6 0 .6-.1 .6-.1 .7-.1 .6-.1 .6-.1 .6-.1 .6-.1 .7-.2 .6-.1 .6-.2 .6-.3 .6-.2 .7-.3 .6-.3 .6-.2 .6-.3 .6-.3 .7-.3 .6-.3 .6-.2 .6-.2 .6-.3 .7-.2 .6-.2 .6-.3 .6-.2 .6-.3 .6-.2 .7-.2 .6-.2 .6-.2 .6-.1 .6-.1 .7-.1 .6 0 .6 .1 .6 0 .6 .1 .7 0 .6 .1 .6 .2 .6 .1 .6 .2 .7 .1 .6 .2 .6 .3 .6 .7 .6 .9 .7 1 .6 1.1 .6 1 .6 1 .6 1 .7 1.1 .6 .9 .6 .7 .6 .6 .6 .5 .7 .4 .6 .5 .6 .3 .6 .2 .6 .2" fill="none" stroke="#4c72b0" stroke-width="1" stroke-linejoin="round"/>
<path d="M353.4 505.1l.8 2.2 .8-1.1 .8 1.4 .8-2.3 .8-.7 .8 2.6 .8-2.2 .8 1 .8 .5 .8-.7 .8 2 .8-2.7 .8 .7 .8-.3 .8 .3 .8 .7 .8 .5 .8-1.5 .8-.4 .8 2.1 .8-.5 .8 0 .8-.2 .8-2.6 .8 2.8 .8-1.1 .8 .6 .8 2 .8-3.2 .8-.9 .8 2 .8 .1 .8 .5 .8-.2 .8 0 .8-.8 .8 .9 .8-.3 0 1.1 -.8 .4 -.8-.8 -.8 1 -.8 .1 -.8 .3 -.8-.4 -.8 0 -.8-1.9 -.8 .9 -.8 3.2 -.8-2 -.8-.6 -.8 1.1 -.8-2.8 -.8 2.6 -.8 .2 -.8 0 -.8 .5 -.8-2.1 -.8 .4 -.8 1.5 -.8-.5 -.8-.7 -.8-.3 -.8 .3 -.8-.7 -.8 2.7 -.8-2 -.8 .7 -.8-.5 -.8-1 -.8 2.2 -.8-2.6 -.8 .7 -.8 2.3 -.8-1.4 -.8 1.1 -.8-2.2z" fill="#55a868" fill-opacity="0.3"/>
<path d="M353.4 506.1l.8 2.2 .8-1.1 .8 1.4 .8-2.3 .8-.7 .8 2.6 .8-2.2 .8 1 .8 .5 .8-.7 .8 2 .8-2.7 .8 .7 .8-.3 .8 .3 .8 .7 .8 .5 .8-1.5 .8-.4 .8 2.1 .8-.5 .8 0 .8-.2 .8-2.6 .8 2.8 .8-1.1 .8 .6 .8 2 .8-3.2 .8-.9 .8 2 .8 0 .8 .4 .8-.2 .8 0 .8-.9 .8 .8 .8-.3 .7 .2 .6 0 .6-.1 .6 0 .6 0 .7-.1 .6 0 .6-.1 .6 0 .6 0 .7-.1 .6 0 .6 0 .6-.1 .6 0 .7-.1 .6 0 .6-.1 .6 0 .6-.1 .7 0 .6 0 .6 0 .6 0 .6 0 .7 0 .6 0 .6 0 .6 0 .6 0 .6 0 .7 .1 .6 0 .6 0 .6 .1 .6 0 .7 0 .6 .1 .6 0 .6 0 .6 .1 .7 0 .6 .1 .6 0 .6 0 .6 .1 .7 0 .6 0 .6 .1 .6 .1 .6 .1 .7 .2 .6 2.3 .6 8.1 .6 1 .6 0 .7 0 .6 0 .6-.1 .6 0 .6-.2 .7-.1 .6-.2 .6-.3 .6-.3 .6-.4" fill="none" stroke="#55a868" stroke-width="1" stroke-linejoin="round"/>
<path d="M353.4 510.4l.8 4.3 .8 .9 .8-2 .8-.6 .8 .6 .8 4.5 .8-.2 .8-5.2 .8 .9 .8 .4 .8-4 .8 5.1 .8-7.2 .8 3.9 .8-4.3 .8 4.8 .8-1.3 .8 .9 .8-.4 .8-1.2 .8-3.9 .8 8.1 .8-1.4 .8 1.3 .8-3.6 .8 5.2 .8 1.9 .8-6.8 .8 3.5 .8-.6 .8-.9 .8-3 .8 .9 .8-1.2 .8 1.4 .8-.5 .8-2.9 .8 0 0 1.7 -.8 .3 -.8 3.1 -.8 .6 -.8-1.2 -.8 1.4 -.8-.7 -.8 3.2 -.8 1 -.8 .6 -.8-3.5 -.8 6.8 -.8-1.9 -.8-5.2 -.8 3.6 -.8-1.3 -.8 1.4 -.8-8.1 -.8 3.9 -.8 1.2 -.8 .4 -.8-.9 -.8 1.3 -.8-4.8 -.8 4.3 -.8-3.9 -.8 7.2 -.8-5.1 -.8 4 -.8-.4 -.8-.9 -.8 5.2 -.8 .2 -.8-4.5 -.8-.6 -.8 .6 -.8 2 -.8-.9 -.8-4.3z" fill="#dd8452" fill-opacity="0.3"/>
<path d="M353.4 512l.8 4.3 .8 .9 .8-2 .8-.6 .8 .6 .8 4.5 .8-.2 .8-5.2 .8 .9 .8 .4 .8-4 .8 5.1 .8-7.2 .8 3.9 .8-4.3 .8 4.8 .8-1.3 .8 .9 .8-.4 .8-1.2 .8-3.9 .8 8.1 .8-1.4 .8 1.3 .8-3.6 .8 5.2 .8 1.9 .8-6.8 .8 3.5 .8-.6 .8-1 .8-3 .8 .8 .8-1.4 .8 1.4 .8-.6 .8-3 .8-.2 .7-.7 .6 0 .6-.1 .6-.1 .6 0 .7-.1 .6-.1 .6-.1 .6-.1 .6-.1 .7-.2 .6-.1 .6-.2 .6-.2 .6-.2 .7-.2 .6-.2 .6-.2 .6-.2 .6-.3 .7-.1 .6-.2 .6-.2 .6-.1 .6-.1 .7-.2 .6-.1 .6-.1 .6-.1 .6-.1 .6-.1 .7-.1 .6-.1 .6-.1 .6 0 .6-.1 .7 0 .6 0 .6 0 .6 0 .6 .1 .7 0 .6 .1 .6 .1 .6 .1 .6 .2 .7 .1 .6 .2 .6 .3 .6 .3 .6 .3 .7 .4 .6 3.2 .6 10.3 .6 1.7 .6 .3 .7 .2 .6 .3 .6 .1 .6 .2 .6 .1 .7 .1 .6 0 .6 .1 .6 0 .6 0" fill="none" stroke="#dd8452" stroke-width="1" stroke-linejoin="round"/>
<path d="M353.4 520.4l.8 5.1 .8 8.4 .8-6.4 .8 4.1 .8-3.6 .8-9.1 .8 9.4 .8-9.9 .8 3.5 .8-6.7 .8 10.4 .8 1.6 .8-3.2 .8-.7 .8-1.6 .8-5.7 .8 7.6 .8 .5 .8 5 .8-11.9 .8-1.5 .8 8.9 .8-3.9 .8 9.9 .8 .6 .8 3.8 .8-5.4 .8 .4 .8-9.9 .8 6.4 .8-.4 .8-9.4 .8 9.8 .8-16 .8 14.9 .8-7.8 .8 7.3 .8-15.9 .8 4.9 .8-2.2 .8 .9 .8-1.6 .8-.6 .8-.4 .8-1.3 .8-1.6 0 2 -.8 1.7 -.8 1.5 -.8 .5 -.8 .8 -.8 1.6 -.8-.7 -.8 2.3 -.8-4.7 -.8 16 -.8-7.2 -.8 7.9 -.8-14.7 -.8 16.1 -.8-9.7 -.8 9.5 -.8 .5 -.8-6.4 -.8 9.9 -.8-.4 -.8 5.4 -.8-3.8 -.8-.6 -.8-9.9 -.8 3.9 -.8-8.9 -.8 1.5 -.8 11.9 -.8-5 -.8-.5 -.8-7.6 -.8 5.7 -.8 1.6 -.8 .7 -.8 3.2 -.8-1.6 -.8-10.4 -.8 6.7 -.8-3.5 -.8 9.9 -.8-9.4 -.8 9.1 -.8 3.6 -.8-4.1 -.8 6.4 -.8-8.4 -.8-5.1z" fill="#4c72b0" fill-opacity="0.3"/>
<path d="M353.4 522.4l.8 5.1 .8 8.4 .8-6.4 .8 4.1 .8-3.6 .8-9.1 .8 9.4 .8-9.9 .8 3.5 .8-6.7 .8 10.4 .8 1.6 .8-3.2 .8-.7 .8-1.6 .8-5.7 .8 7.6 .8 .5 .8 5 .8-11.9 .8-1.5 .8 8.9 .8-3.9 .8 9.9 .8 .6 .8 3.8 .8-5.4 .8 .4 .8-9.9 .8 6.4 .8-.4 .8-9.5 .8 9.8 .8-16.1 .8 14.8 .8-7.9 .8 7.3 .8-16 .8 4.9 .8-2.3 .8 .8 .8-1.6 .8-.7 .8-.4 .8-1.5 .8-1.6 .1-.2 .6-.3 .7-.4 .6-.4 .6-.3 .6-.4 .6-.3 .6-.3 .6-.3 .7-.3 .6-.2 .6-.2 .6-.2 .6-.1 .6-.2 .6-.1 .7-.1 .6-.1 .6-.1 .6-.1 .6-.1 .6-.1 .6 0 .7-.1 .6-.1 .6 0 .6 0 .6 0 .6 0 .6 0 .7 0 .6 0 .6 .1 .6 .1 .6 .1 .6 .1 .6 .1 .7 .2 .6 .2 .6 .3 .6 .3 .6 .3 .6 .4 .6 4.3 .7 10.1 .6 1.1 .6 .4 .6 .3 .6 .3 .6 .2 .6 .2 .7 .1 .6 .1 .6 .1 .6 0 .6 0 .6 0" fill="none" stroke="#4c72b0" stroke-width="1" stroke-linejoin="round"/>
<text x="462" y="404.6" font-size="18.5" font-weight="bold" fill="#000" stroke="#000" stroke-width="0.07">h</text>
<text x="494.8" y="419.6" font-size="9.6" font-weight="bold" stroke="#1a1a1a" stroke-width="0.07" textLength="148.8" lengthAdjust="spacingAndGlyphs">Cue Uncertainty Modulation (Inh)</text>
<path d="M487.2 422.3V415.7H493.2" fill="none" stroke="#444" stroke-width="0.9"/>
<path d="M645.2 416H651.7V423.3" fill="none" stroke="#444" stroke-width="0.9"/>
<rect x="482.3" y="424.5" width="62.8" height="10" rx="5" fill="#dce3e6"/>
<text x="513.7" y="432.2" font-size="9" text-anchor="middle" fill="#2a2a2a" stroke="#2a2a2a" stroke-width="0.15">CAC</text>
<rect x="597.7" y="424.5" width="63.4" height="10" rx="5" fill="#dce3e6"/>
<text x="629.4" y="432.2" font-size="9" text-anchor="middle" fill="#2a2a2a" stroke="#2a2a2a" stroke-width="0.15">RDM</text>
<text x="483.3" y="445.1" font-size="9.2" fill="#222" stroke="#222" stroke-width="0.15">#11</text>
<text x="580.8" y="444.6" font-size="9.2" fill="#222" stroke="#222" stroke-width="0.15">#12</text>
<line x1="615.6" y1="444.3" x2="622" y2="444.3" stroke="#4c72b0" stroke-width="1"/>
<text x="624.5" y="446.8" font-size="7.1" fill="#222" stroke="#222" stroke-width="0.15">high uncertainty</text>
<line x1="615.6" y1="452.1" x2="622" y2="452.1" stroke="#dd8452" stroke-width="1"/>
<text x="624.5" y="454.6" font-size="7.1" fill="#222" stroke="#222" stroke-width="0.15">med. uncertainty</text>
<line x1="615.6" y1="459.7" x2="622" y2="459.7" stroke="#55a868" stroke-width="1"/>
<text x="624.5" y="462.2" font-size="7.1" fill="#222" stroke="#222" stroke-width="0.15">low uncertainty</text>
<line x1="483.9" y1="490.8" x2="559" y2="490.8" stroke="#8a8a8a" stroke-width="1.1"/>
<line x1="483.9" y1="542" x2="559" y2="542" stroke="#8a8a8a" stroke-width="1.1"/>
<line x1="582.1" y1="490.3" x2="656.4" y2="490.3" stroke="#8a8a8a" stroke-width="1.1"/>
<line x1="582.1" y1="541.4" x2="656.4" y2="541.4" stroke="#8a8a8a" stroke-width="1.1"/>
<g fill="#e8212b" stroke="#e8212b" stroke-width="0.15" font-size="9" text-anchor="middle">
<text transform="translate(469.5 470.8) rotate(-90)"><tspan x="0" y="0">Attend to</tspan><tspan x="0" y="9.6">vision</tspan></text>
</g>
<g fill="#2f78c2" stroke="#2f78c2" stroke-width="0.15" font-size="9" text-anchor="middle">
<text transform="translate(469.5 522.6) rotate(-90)"><tspan x="0" y="0">Attend to</tspan><tspan x="0" y="9.6">audition</tspan></text>
</g>
<line x1="668.2" y1="525.8" x2="668.2" y2="544" stroke="#111" stroke-width="1.8"/>
<text transform="translate(673.6 535.5) rotate(90)" font-size="8" text-anchor="middle" fill="#222" stroke="#222" stroke-width="0.15">2 (arb. units)</text>
<text x="489.6" y="549.8" font-size="8.6" fill="#222" stroke="#222" stroke-width="0.15">cueing</text>
<text x="526.5" y="549.8" font-size="8.6" fill="#222" stroke="#222" stroke-width="0.15">delay</text>
<text x="586.8" y="549.8" font-size="8.6" fill="#222" stroke="#222" stroke-width="0.15">cueing</text>
<text x="622.6" y="549.8" font-size="8.6" fill="#222" stroke="#222" stroke-width="0.15">delay</text>
<path d="M487.2 471.1l.6-1.7 .7-.8 .6 .8 .6 2.2 .6 2.6 .6 1.8 .7 .6 .6 .6 .6 .5 .6 .5 .7 .5 .6 .4 .6 .4 .6 .4 .6 .3 .7 .3 .6 .3 .6 .3 .6 .2 .7 .2 .6 .1 .6 .2 .6 .1 .7 .1 .6 0 .6 0 .6 0 .6 0 .7-.1 .6-.1 .6-.1 .6-.2 .7-.2 .6-.2 .6-.2 .6-.3 .6-.3 .7-.3 .6-.4 .6-.3 .6-.4 .7-.4 .6-.4 .6-.4 .6-.5 .6-.4 .7-.5 .6-.5 .6-.5 .6-.5 .7-.5 .6-.7 .6-.9 .6-1.1 .6-1.2 .7-1.4 .6-1.5 .6-1.6 .6-1.6 .7-1.7 .6-1.7 .6-1.7 .6-1.6 .6-1.6 .7-1.5 .6-1.4 .6-1.2 .6-1.1 .7-.9 .6-.8 .6-.4 .6-.2 .6 0 .7 .3 .6 .4 .6 .6 .6 .7 .7 .9 .6 .9 .6 1 .6 1.1 .6 1 .7 1.1 .6 1.1 .6 1 .6 1 .7 1 .6 1 .6 .9 .6 1.1 .6 1 .7 1.1 .6 1.2 .6 1.3 .6 1.4 .7 1.5 .6 1.6 .6 2.3 .6 2.5 .6 1.4 .7 1.4 .6 1.2 .6 1.2 .6 1.1 .7 .9 .6 .8 .6 .7 .6 .5 .6 .3 .7 .1 0 1.4 -.7-.1 -.6-.3 -.6-.5 -.6-.7 -.6-.8 -.7-.9 -.6-1.1 -.6-1.2 -.6-1.2 -.7-1.4 -.6-1.4 -.6-2.5 -.6-2.3 -.6-1.6 -.7-1.5 -.6-1.4 -.6-1.3 -.6-1.2 -.7-1.1 -.6-1 -.6-1.1 -.6-.9 -.6-1 -.7-1 -.6-1 -.6-1 -.6-1.1 -.7-1.1 -.6-1 -.6-1.1 -.6-1 -.6-.9 -.7-.9 -.6-.7 -.6-.6 -.6-.4 -.7-.3 -.6 0 -.6 .2 -.6 .4 -.6 .8 -.7 .9 -.6 1.1 -.6 1.2 -.6 1.4 -.7 1.5 -.6 1.6 -.6 1.6 -.6 1.7 -.6 1.7 -.7 1.7 -.6 1.6 -.6 1.6 -.6 1.5 -.7 1.4 -.6 1.2 -.6 1.1 -.6 .9 -.6 .7 -.7 .5 -.6 .5 -.6 .5 -.6 .5 -.7 .5 -.6 .4 -.6 .5 -.6 .4 -.6 .4 -.7 .4 -.6 .4 -.6 .3 -.6 .4 -.7 .3 -.6 .3 -.6 .3 -.6 .2 -.6 .2 -.7 .2 -.6 .2 -.6 .1 -.6 .1 -.7 .1 -.6 0 -.6 0 -.6 0 -.6 0 -.7-.1 -.6-.1 -.6-.2 -.6-.1 -.7-.2 -.6-.2 -.6-.3 -.6-.3 -.7-.3 -.6-.3 -.6-.4 -.6-.4 -.6-.4 -.7-.5 -.6-.5 -.6-.5 -.6-.6 -.7-.6 -.6-1.8 -.6-2.6 -.6-2.2 -.6-.8 -.7 .8 -.6 1.7z" fill="#55a868" fill-opacity="0.35"/>
<path d="M487.2 471.8l.6-1.7 .7-.8 .6 .8 .6 2.2 .6 2.6 .6 1.8 .7 .6 .6 .6 .6 .5 .6 .5 .7 .5 .6 .4 .6 .4 .6 .4 .6 .3 .7 .3 .6 .3 .6 .3 .6 .2 .7 .2 .6 .1 .6 .2 .6 .1 .7 .1 .6 0 .6 0 .6 0 .6 0 .7-.1 .6-.1 .6-.1 .6-.2 .7-.2 .6-.2 .6-.2 .6-.3 .6-.3 .7-.3 .6-.4 .6-.3 .6-.4 .7-.4 .6-.4 .6-.4 .6-.5 .6-.4 .7-.5 .6-.5 .6-.5 .6-.5 .7-.5 .6-.7 .6-.9 .6-1.1 .6-1.2 .7-1.4 .6-1.5 .6-1.6 .6-1.6 .7-1.7 .6-1.7 .6-1.7 .6-1.6 .6-1.6 .7-1.5 .6-1.4 .6-1.2 .6-1.1 .7-.9 .6-.8 .6-.4 .6-.2 .6 0 .7 .3 .6 .4 .6 .6 .6 .7 .7 .9 .6 .9 .6 1 .6 1.1 .6 1 .7 1.1 .6 1.1 .6 1 .6 1 .7 1 .6 1 .6 .9 .6 1.1 .6 1 .7 1.1 .6 1.2 .6 1.3 .6 1.4 .7 1.5 .6 1.6 .6 2.3 .6 2.5 .6 1.4 .7 1.4 .6 1.2 .6 1.2 .6 1.1 .7 .9 .6 .8 .6 .7 .6 .5 .6 .3 .7 .1" fill="none" stroke="#55a868" stroke-width="1.05" stroke-linejoin="round"/>
<path d="M487.2 470.3l.6-1.7 .7-.8 .6 .5 .6 1.4 .6 1.8 .6 1.2 .7 .5 .6 .5 .6 .4 .6 .4 .7 .4 .6 .4 .6 .3 .6 .3 .6 .3 .7 .3 .6 .2 .6 .3 .6 .2 .7 .1 .6 .2 .6 .1 .6 .1 .7 .1 .6 0 .6 0 .6 0 .6 0 .7-.1 .6-.1 .6-.2 .6-.2 .7-.2 .6-.3 .6-.3 .6-.3 .6-.3 .7-.4 .6-.4 .6-.4 .6-.5 .7-.4 .6-.5 .6-.4 .6-.5 .6-.5 .7-.5 .6-.5 .6-.5 .6-.5 .7-.5 .6-.6 .6-.8 .6-.9 .6-1 .7-1 .6-1.1 .6-1.2 .6-1.1 .7-1.2 .6-1.1 .6-1.1 .6-1 .6-.9 .7-.9 .6-.7 .6-.6 .6-.4 .7-.2 .6 0 .6 .1 .6 .2 .6 .3 .7 .3 .6 .4 .6 .5 .6 .5 .7 .6 .6 .6 .6 .6 .6 .6 .6 .6 .7 .6 .6 .5 .6 .6 .6 .6 .7 .5 .6 .7 .6 .6 .6 .7 .6 .8 .7 .9 .6 .9 .6 1 .6 1.2 .7 1.2 .6 1.4 .6 2.6 .6 3 .6 1.4 .7 1.2 .6 1.1 .6 1.1 .6 .8 .7 .8 .6 .7 .6 .5 .6 .4 .6 .2 .7 .1 0 1.4 -.7-.1 -.6-.2 -.6-.4 -.6-.5 -.6-.7 -.7-.8 -.6-.8 -.6-1.1 -.6-1.1 -.7-1.2 -.6-1.4 -.6-3 -.6-2.6 -.6-1.4 -.7-1.2 -.6-1.2 -.6-1 -.6-.9 -.7-.9 -.6-.8 -.6-.7 -.6-.6 -.6-.7 -.7-.5 -.6-.6 -.6-.6 -.6-.5 -.7-.6 -.6-.6 -.6-.6 -.6-.6 -.6-.6 -.7-.6 -.6-.5 -.6-.5 -.6-.4 -.7-.3 -.6-.3 -.6-.2 -.6-.1 -.6 0 -.7 .2 -.6 .4 -.6 .6 -.6 .7 -.7 .9 -.6 .9 -.6 1 -.6 1.1 -.6 1.1 -.7 1.2 -.6 1.1 -.6 1.2 -.6 1.1 -.7 1 -.6 1 -.6 .9 -.6 .8 -.6 .6 -.7 .5 -.6 .5 -.6 .5 -.6 .5 -.7 .5 -.6 .5 -.6 .5 -.6 .4 -.6 .5 -.7 .4 -.6 .5 -.6 .4 -.6 .4 -.7 .4 -.6 .3 -.6 .3 -.6 .3 -.6 .3 -.7 .2 -.6 .2 -.6 .2 -.6 .1 -.7 .1 -.6 0 -.6 0 -.6 0 -.6 0 -.7-.1 -.6-.1 -.6-.1 -.6-.2 -.7-.1 -.6-.2 -.6-.3 -.6-.2 -.7-.3 -.6-.3 -.6-.3 -.6-.3 -.6-.4 -.7-.4 -.6-.4 -.6-.4 -.6-.5 -.7-.5 -.6-1.2 -.6-1.8 -.6-1.4 -.6-.5 -.7 .8 -.6 1.7z" fill="#dd8452" fill-opacity="0.35"/>
<path d="M487.2 471l.6-1.7 .7-.8 .6 .5 .6 1.4 .6 1.8 .6 1.2 .7 .5 .6 .5 .6 .4 .6 .4 .7 .4 .6 .4 .6 .3 .6 .3 .6 .3 .7 .3 .6 .2 .6 .3 .6 .2 .7 .1 .6 .2 .6 .1 .6 .1 .7 .1 .6 0 .6 0 .6 0 .6 0 .7-.1 .6-.1 .6-.2 .6-.2 .7-.2 .6-.3 .6-.3 .6-.3 .6-.3 .7-.4 .6-.4 .6-.4 .6-.5 .7-.4 .6-.5 .6-.4 .6-.5 .6-.5 .7-.5 .6-.5 .6-.5 .6-.5 .7-.5 .6-.6 .6-.8 .6-.9 .6-1 .7-1 .6-1.1 .6-1.2 .6-1.1 .7-1.2 .6-1.1 .6-1.1 .6-1 .6-.9 .7-.9 .6-.7 .6-.6 .6-.4 .7-.2 .6 0 .6 .1 .6 .2 .6 .3 .7 .3 .6 .4 .6 .5 .6 .5 .7 .6 .6 .6 .6 .6 .6 .6 .6 .6 .7 .6 .6 .5 .6 .6 .6 .6 .7 .5 .6 .7 .6 .6 .6 .7 .6 .8 .7 .9 .6 .9 .6 1 .6 1.2 .7 1.2 .6 1.4 .6 2.6 .6 3 .6 1.4 .7 1.2 .6 1.1 .6 1.1 .6 .8 .7 .8 .6 .7 .6 .5 .6 .4 .6 .2 .7 .1" fill="none" stroke="#dd8452" stroke-width="1.05" stroke-linejoin="round"/>
<path d="M487.2 469.5l.6-2.8 .7-1.4 .6 .5 .6 1.5 .6 1.7 .6 1.2 .7 .3 .6 .3 .6 .3 .6 .3 .7 .2 .6 .3 .6 .2 .6 .2 .6 .2 .7 .1 .6 .2 .6 .1 .6 .2 .7 .1 .6 .1 .6 .1 .6 0 .7 .1 .6 .1 .6 0 .6 0 .6 0 .7 0 .6 0 .6 0 .6-.1 .7-.2 .6-.1 .6-.2 .6-.2 .6-.3 .7-.3 .6-.3 .6-.3 .6-.3 .7-.4 .6-.3 .6-.4 .6-.3 .6-.4 .7-.4 .6-.4 .6-.3 .6-.4 .7-.3 .6-.5 .6-.4 .6-.6 .6-.6 .7-.6 .6-.6 .6-.6 .6-.6 .7-.6 .6-.6 .6-.5 .6-.4 .6-.4 .7-.3 .6-.1 .6-.1 .6 0 .7 .1 .6 .1 .6 .1 .6 .2 .6 .2 .7 .2 .6 .2 .6 .2 .6 .2 .7 .3 .6 .3 .6 .5 .6 .5 .6 .5 .7 .6 .6 .7 .6 .6 .6 .7 .7 .6 .6 .5 .6 .5 .6 .5 .6 .4 .7 .3 .6 .4 .6 .4 .6 .6 .7 .6 .6 .7 .6 1.6 .6 1.2 .6 .5 .7 .5 .6 .3 .6 .1 .6 .1 .7 .1 .6 .1 .6 0 .6 .1 .6 0 .7 0 0 1.4 -.7 0 -.6 0 -.6-.1 -.6 0 -.6-.1 -.7-.1 -.6-.1 -.6-.1 -.6-.3 -.7-.5 -.6-.5 -.6-1.2 -.6-1.6 -.6-.7 -.7-.6 -.6-.6 -.6-.4 -.6-.4 -.7-.3 -.6-.4 -.6-.5 -.6-.5 -.6-.5 -.7-.6 -.6-.7 -.6-.6 -.6-.7 -.7-.6 -.6-.5 -.6-.5 -.6-.5 -.6-.3 -.7-.3 -.6-.2 -.6-.2 -.6-.2 -.7-.2 -.6-.2 -.6-.2 -.6-.1 -.6-.1 -.7-.1 -.6 0 -.6 .1 -.6 .1 -.7 .3 -.6 .4 -.6 .4 -.6 .5 -.6 .6 -.7 .6 -.6 .6 -.6 .6 -.6 .6 -.7 .6 -.6 .6 -.6 .6 -.6 .4 -.6 .5 -.7 .3 -.6 .4 -.6 .3 -.6 .4 -.7 .4 -.6 .4 -.6 .3 -.6 .4 -.6 .3 -.7 .4 -.6 .3 -.6 .3 -.6 .3 -.7 .3 -.6 .3 -.6 .2 -.6 .2 -.6 .1 -.7 .2 -.6 .1 -.6 0 -.6 0 -.7 0 -.6 0 -.6 0 -.6 0 -.6-.1 -.7-.1 -.6 0 -.6-.1 -.6-.1 -.7-.1 -.6-.2 -.6-.1 -.6-.2 -.7-.1 -.6-.2 -.6-.2 -.6-.2 -.6-.3 -.7-.2 -.6-.3 -.6-.3 -.6-.3 -.7-.3 -.6-1.2 -.6-1.7 -.6-1.5 -.6-.5 -.7 1.4 -.6 2.8z" fill="#4c72b0" fill-opacity="0.35"/>
<path d="M487.2 470.2l.6-2.8 .7-1.4 .6 .5 .6 1.5 .6 1.7 .6 1.2 .7 .3 .6 .3 .6 .3 .6 .3 .7 .2 .6 .3 .6 .2 .6 .2 .6 .2 .7 .1 .6 .2 .6 .1 .6 .2 .7 .1 .6 .1 .6 .1 .6 0 .7 .1 .6 .1 .6 0 .6 0 .6 0 .7 0 .6 0 .6 0 .6-.1 .7-.2 .6-.1 .6-.2 .6-.2 .6-.3 .7-.3 .6-.3 .6-.3 .6-.3 .7-.4 .6-.3 .6-.4 .6-.3 .6-.4 .7-.4 .6-.4 .6-.3 .6-.4 .7-.3 .6-.5 .6-.4 .6-.6 .6-.6 .7-.6 .6-.6 .6-.6 .6-.6 .7-.6 .6-.6 .6-.5 .6-.4 .6-.4 .7-.3 .6-.1 .6-.1 .6 0 .7 .1 .6 .1 .6 .1 .6 .2 .6 .2 .7 .2 .6 .2 .6 .2 .6 .2 .7 .3 .6 .3 .6 .5 .6 .5 .6 .5 .7 .6 .6 .7 .6 .6 .6 .7 .7 .6 .6 .5 .6 .5 .6 .5 .6 .4 .7 .3 .6 .4 .6 .4 .6 .6 .7 .6 .6 .7 .6 1.6 .6 1.2 .6 .5 .7 .5 .6 .3 .6 .1 .6 .1 .7 .1 .6 .1 .6 0 .6 .1 .6 0 .7 0" fill="none" stroke="#4c72b0" stroke-width="1.05" stroke-linejoin="round"/>
<path d="M487.2 529.4l.6-3.3 .7 3.9 .6-1.5 .6 .4 .6 1.8 .6 .6 .7-1.9 .6 .8 .6-1.3 .6 5.4 .7-1.3 .6-2.2 .6 3 .6-3.6 .6 2.1 .7 .3 .6-3.4 .6 1.5 .6-1.6 .7 1.2 .6 .1 .6-2.1 .6 4.5 .7 .2 .6-5.9 .6 6.4 .6-5.7 .6 4.7 .7-4.1 .6 2.7 .6-3.5 .6 5.1 .7-4.6 .6-.8 .6 .3 .6 4.1 .6-5.8 .7 .2 .6 .4 .6-2.2 .6 4.3 .7 1 .6-2 .6 .2 .6-5.5 .6 .6 .7 .9 .6-1.1 .6-1.6 .6-1.9 .7-2.1 .6-2.4 .6-2.3 .6-2.3 .6-2.1 .7-1.7 .6-1.4 .6-.8 .6-.2 .7 .1 .6 .1 .6 .3 .6 .3 .6 .4 .7 .4 .6 .5 .6 .5 .6 .6 .7 1 .6 1.1 .6 1.3 .6 1.4 .6 1.5 .7 1.5 .6 1.5 .6 1.4 .6 1.3 .7 1.1 .6 1.2 .6 1.2 .6 1.3 .6 1.2 .7 1.3 .6 1.2 .6 1.1 .6 1.1 .7 .9 .6 .9 .6 .7 .6 .6 .6 .3 .7 .3 .6 .2 .6 .2 .6 .1 .7 .1 .6-.3 .6-2.1 .6-1.7 .6-.1 .7 0 .6 .2 .6 .2 .6 .4 .7 .6 .6 .9 .6 1.2 .6 1.5 .6 1.9 .7 2.3 0 1.4 -.7-2.3 -.6-1.9 -.6-1.5 -.6-1.2 -.6-.9 -.7-.6 -.6-.4 -.6-.2 -.6-.2 -.7 0 -.6 .1 -.6 1.7 -.6 2.1 -.6 .3 -.7-.1 -.6-.1 -.6-.2 -.6-.2 -.7-.3 -.6-.3 -.6-.6 -.6-.7 -.6-.9 -.7-.9 -.6-1.1 -.6-1.1 -.6-1.2 -.7-1.3 -.6-1.2 -.6-1.3 -.6-1.2 -.6-1.2 -.7-1.1 -.6-1.3 -.6-1.4 -.6-1.5 -.7-1.5 -.6-1.5 -.6-1.4 -.6-1.3 -.6-1.1 -.7-1 -.6-.6 -.6-.5 -.6-.5 -.7-.4 -.6-.4 -.6-.3 -.6-.3 -.6-.1 -.7-.1 -.6 .2 -.6 .8 -.6 1.4 -.7 1.7 -.6 2.1 -.6 2.3 -.6 2.3 -.6 2.4 -.7 2.1 -.6 1.9 -.6 1.6 -.6 1.1 -.7-.9 -.6-.6 -.6 5.5 -.6-.2 -.6 2 -.7-1 -.6-4.3 -.6 2.2 -.6-.4 -.7-.2 -.6 5.8 -.6-4.1 -.6-.3 -.6 .8 -.7 4.6 -.6-5.1 -.6 3.5 -.6-2.7 -.7 4.1 -.6-4.7 -.6 5.7 -.6-6.4 -.6 5.9 -.7-.2 -.6-4.5 -.6 2.1 -.6-.1 -.7-1.2 -.6 1.6 -.6-1.5 -.6 3.4 -.7-.3 -.6-2.1 -.6 3.6 -.6-3 -.6 2.2 -.7 1.3 -.6-5.4 -.6 1.3 -.6-.8 -.7 1.9 -.6-.6 -.6-1.8 -.6-.4 -.6 1.5 -.7-3.9 -.6 3.3z" fill="#55a868" fill-opacity="0.35"/>
<path d="M487.2 530.1l.6-3.3 .7 3.9 .6-1.5 .6 .4 .6 1.8 .6 .6 .7-1.9 .6 .8 .6-1.3 .6 5.4 .7-1.3 .6-2.2 .6 3 .6-3.6 .6 2.1 .7 .3 .6-3.4 .6 1.5 .6-1.6 .7 1.2 .6 .1 .6-2.1 .6 4.5 .7 .2 .6-5.9 .6 6.4 .6-5.7 .6 4.7 .7-4.1 .6 2.7 .6-3.5 .6 5.1 .7-4.6 .6-.8 .6 .3 .6 4.1 .6-5.8 .7 .2 .6 .4 .6-2.2 .6 4.3 .7 1 .6-2 .6 .2 .6-5.5 .6 .6 .7 .9 .6-1.1 .6-1.6 .6-1.9 .7-2.1 .6-2.4 .6-2.3 .6-2.3 .6-2.1 .7-1.7 .6-1.4 .6-.8 .6-.2 .7 .1 .6 .1 .6 .3 .6 .3 .6 .4 .7 .4 .6 .5 .6 .5 .6 .6 .7 1 .6 1.1 .6 1.3 .6 1.4 .6 1.5 .7 1.5 .6 1.5 .6 1.4 .6 1.3 .7 1.1 .6 1.2 .6 1.2 .6 1.3 .6 1.2 .7 1.3 .6 1.2 .6 1.1 .6 1.1 .7 .9 .6 .9 .6 .7 .6 .6 .6 .3 .7 .3 .6 .2 .6 .2 .6 .1 .7 .1 .6-.3 .6-2.1 .6-1.7 .6-.1 .7 0 .6 .2 .6 .2 .6 .4 .7 .6 .6 .9 .6 1.2 .6 1.5 .6 1.9 .7 2.3" fill="none" stroke="#55a868" stroke-width="1.05" stroke-linejoin="round"/>
<path d="M487.2 524l.6-1.4 .7-4.7 .6 6 .6-2.7 .6 4.4 .6-3.5 .7 .5 .6 4.3 .6-4.7 .6 1.9 .7-1.2 .6 3.5 .6-4.7 .6-.5 .6 2.7 .7 1.4 .6-3.9 .6 3 .6-1.2 .7 2.2 .6-2 .6-1.5 .6 1.7 .7 1.5 .6-2.8 .6 2.6 .6-.4 .6-1.8 .7 1.4 .6-3.6 .6 4.4 .6-5.5 .7 1.6 .6 2.2 .6-3.3 .6 .8 .6 3.2 .7-1.9 .6-2.8 .6 2.6 .6 1.1 .7-4 .6 4.7 .6-5.4 .6 1.9 .6 .4 .7-.8 .6-.5 .6-.8 .6-.9 .7-1 .6-1 .6-1.1 .6-1 .6-.9 .7-.8 .6-.6 .6-.4 .6-.1 .7 .1 .6 .1 .6 .3 .6 .3 .6 .5 .7 .4 .6 .5 .6 .6 .6 .6 .7 .5 .6 .6 .6 .6 .6 .6 .6 .6 .7 .7 .6 .8 .6 .8 .6 .9 .7 .9 .6 1 .6 .9 .6 1 .6 .9 .7 1 .6 .9 .6 .8 .6 .8 .7 .7 .6 .7 .6 .5 .6 .6 .6 .5 .7 .6 .6 .5 .6 .4 .6 .3 .7 .1 .6-.4 .6-2.4 .6-2.1 .6-.1 .7 .1 .6 .1 .6 .2 .6 .4 .7 .7 .6 .8 .6 1.2 .6 1.5 .6 1.9 .7 2.4 0 1.4 -.7-2.4 -.6-1.9 -.6-1.5 -.6-1.2 -.6-.8 -.7-.7 -.6-.4 -.6-.2 -.6-.1 -.7-.1 -.6 .1 -.6 2.1 -.6 2.4 -.6 .4 -.7-.1 -.6-.3 -.6-.4 -.6-.5 -.7-.6 -.6-.5 -.6-.6 -.6-.5 -.6-.7 -.7-.7 -.6-.8 -.6-.8 -.6-.9 -.7-1 -.6-.9 -.6-1 -.6-.9 -.6-1 -.7-.9 -.6-.9 -.6-.8 -.6-.8 -.7-.7 -.6-.6 -.6-.6 -.6-.6 -.6-.6 -.7-.5 -.6-.6 -.6-.6 -.6-.5 -.7-.4 -.6-.5 -.6-.3 -.6-.3 -.6-.1 -.7-.1 -.6 .1 -.6 .4 -.6 .6 -.7 .8 -.6 .9 -.6 1 -.6 1.1 -.6 1 -.7 1 -.6 .9 -.6 .8 -.6 .5 -.7 .8 -.6-.4 -.6-1.9 -.6 5.4 -.6-4.7 -.7 4 -.6-1.1 -.6-2.6 -.6 2.8 -.7 1.9 -.6-3.2 -.6-.8 -.6 3.3 -.6-2.2 -.7-1.6 -.6 5.5 -.6-4.4 -.6 3.6 -.7-1.4 -.6 1.8 -.6 .4 -.6-2.6 -.6 2.8 -.7-1.5 -.6-1.7 -.6 1.5 -.6 2 -.7-2.2 -.6 1.2 -.6-3 -.6 3.9 -.7-1.4 -.6-2.7 -.6 .5 -.6 4.7 -.6-3.5 -.7 1.2 -.6-1.9 -.6 4.7 -.6-4.3 -.7-.5 -.6 3.5 -.6-4.4 -.6 2.7 -.6-6 -.7 4.7 -.6 1.4z" fill="#dd8452" fill-opacity="0.35"/>
<path d="M487.2 524.7l.6-1.4 .7-4.7 .6 6 .6-2.7 .6 4.4 .6-3.5 .7 .5 .6 4.3 .6-4.7 .6 1.9 .7-1.2 .6 3.5 .6-4.7 .6-.5 .6 2.7 .7 1.4 .6-3.9 .6 3 .6-1.2 .7 2.2 .6-2 .6-1.5 .6 1.7 .7 1.5 .6-2.8 .6 2.6 .6-.4 .6-1.8 .7 1.4 .6-3.6 .6 4.4 .6-5.5 .7 1.6 .6 2.2 .6-3.3 .6 .8 .6 3.2 .7-1.9 .6-2.8 .6 2.6 .6 1.1 .7-4 .6 4.7 .6-5.4 .6 1.9 .6 .4 .7-.8 .6-.5 .6-.8 .6-.9 .7-1 .6-1 .6-1.1 .6-1 .6-.9 .7-.8 .6-.6 .6-.4 .6-.1 .7 .1 .6 .1 .6 .3 .6 .3 .6 .5 .7 .4 .6 .5 .6 .6 .6 .6 .7 .5 .6 .6 .6 .6 .6 .6 .6 .6 .7 .7 .6 .8 .6 .8 .6 .9 .7 .9 .6 1 .6 .9 .6 1 .6 .9 .7 1 .6 .9 .6 .8 .6 .8 .7 .7 .6 .7 .6 .5 .6 .6 .6 .5 .7 .6 .6 .5 .6 .4 .6 .3 .7 .1 .6-.4 .6-2.4 .6-2.1 .6-.1 .7 .1 .6 .1 .6 .2 .6 .4 .7 .7 .6 .8 .6 1.2 .6 1.5 .6 1.9 .7 2.4" fill="none" stroke="#dd8452" stroke-width="1.05" stroke-linejoin="round"/>
<path d="M487.2 517.2l.6-5.8 .7 2.6 .6-1.6 .6 2.5 .6 1.9 .6 5.4 .7-2.9 .6-.3 .6 1.4 .6-.6 .7 .5 .6 .6 .6-1.6 .6 .7 .6-.7 .7 1.4 .6 1 .6-1.6 .6 3.2 .7-1.6 .6-4.1 .6 1.8 .6-2.9 .7 2.1 .6 1.1 .6-1.1 .6 2.4 .6-.9 .7-2.1 .6 2 .6 1.6 .6 .2 .7-3.9 .6 4.9 .6-5.3 .6 .3 .6 3.6 .7-3.4 .6 .9 .6 3.9 .6 1.5 .7-1.8 .6 .1 .6-.8 .6-1.5 .6-.8 .7 2 .6 0 .6-.1 .6 0 .7-.1 .6-.1 .6-.1 .6-.1 .6-.1 .7-.2 .6-.1 .6-.1 .6-.2 .7-.1 .6-.2 .6-.1 .6-.2 .6-.1 .7-.1 .6-.1 .6-.1 .6-.1 .7-.1 .6-.1 .6 0 .6 0 .6 0 .7 .1 .6 .1 .6 .1 .6 .2 .7 .2 .6 .2 .6 .3 .6 .3 .6 .3 .7 .3 .6 .3 .6 .3 .6 .3 .7 .3 .6 .3 .6 .3 .6 .2 .6 .3 .7 .2 .6 .1 .6 .2 .6 .1 .7 0 .6-.7 .6-4.1 .6-3.4 .6-.1 .7 .1 .6 .1 .6 .2 .6 .2 .7 .3 .6 .2 .6 .3 .6 .3 .6 .4 .7 .3 0 1.4 -.7-.3 -.6-.4 -.6-.3 -.6-.3 -.6-.2 -.7-.3 -.6-.2 -.6-.2 -.6-.1 -.7-.1 -.6 .1 -.6 3.4 -.6 4.1 -.6 .7 -.7 0 -.6-.1 -.6-.2 -.6-.1 -.7-.2 -.6-.3 -.6-.2 -.6-.3 -.6-.3 -.7-.3 -.6-.3 -.6-.3 -.6-.3 -.7-.3 -.6-.3 -.6-.3 -.6-.3 -.6-.2 -.7-.2 -.6-.2 -.6-.1 -.6-.1 -.7-.1 -.6 0 -.6 0 -.6 0 -.6 .1 -.7 .1 -.6 .1 -.6 .1 -.6 .1 -.7 .1 -.6 .1 -.6 .2 -.6 .1 -.6 .2 -.7 .1 -.6 .2 -.6 .1 -.6 .1 -.7 .2 -.6 .1 -.6 .1 -.6 .1 -.6 .1 -.7 .1 -.6 0 -.6 .1 -.6 0 -.7-2 -.6 .8 -.6 1.5 -.6 .8 -.6-.1 -.7 1.8 -.6-1.5 -.6-3.9 -.6-.9 -.7 3.4 -.6-3.6 -.6-.3 -.6 5.3 -.6-4.9 -.7 3.9 -.6-.2 -.6-1.6 -.6-2 -.7 2.1 -.6 .9 -.6-2.4 -.6 1.1 -.6-1.1 -.7-2.1 -.6 2.9 -.6-1.8 -.6 4.1 -.7 1.6 -.6-3.2 -.6 1.6 -.6-1 -.7-1.4 -.6 .7 -.6-.7 -.6 1.6 -.6-.6 -.7-.5 -.6 .6 -.6-1.4 -.6 .3 -.7 2.9 -.6-5.4 -.6-1.9 -.6-2.5 -.6 1.6 -.7-2.6 -.6 5.8z" fill="#4c72b0" fill-opacity="0.35"/>
<path d="M487.2 517.9l.6-5.8 .7 2.6 .6-1.6 .6 2.5 .6 1.9 .6 5.4 .7-2.9 .6-.3 .6 1.4 .6-.6 .7 .5 .6 .6 .6-1.6 .6 .7 .6-.7 .7 1.4 .6 1 .6-1.6 .6 3.2 .7-1.6 .6-4.1 .6 1.8 .6-2.9 .7 2.1 .6 1.1 .6-1.1 .6 2.4 .6-.9 .7-2.1 .6 2 .6 1.6 .6 .2 .7-3.9 .6 4.9 .6-5.3 .6 .3 .6 3.6 .7-3.4 .6 .9 .6 3.9 .6 1.5 .7-1.8 .6 .1 .6-.8 .6-1.5 .6-.8 .7 2 .6 0 .6-.1 .6 0 .7-.1 .6-.1 .6-.1 .6-.1 .6-.1 .7-.2 .6-.1 .6-.1 .6-.2 .7-.1 .6-.2 .6-.1 .6-.2 .6-.1 .7-.1 .6-.1 .6-.1 .6-.1 .7-.1 .6-.1 .6 0 .6 0 .6 0 .7 .1 .6 .1 .6 .1 .6 .2 .7 .2 .6 .2 .6 .3 .6 .3 .6 .3 .7 .3 .6 .3 .6 .3 .6 .3 .7 .3 .6 .3 .6 .3 .6 .2 .6 .3 .7 .2 .6 .1 .6 .2 .6 .1 .7 0 .6-.7 .6-4.1 .6-3.4 .6-.1 .7 .1 .6 .1 .6 .2 .6 .2 .7 .3 .6 .2 .6 .3 .6 .3 .6 .4 .7 .3" fill="none" stroke="#4c72b0" stroke-width="1.05" stroke-linejoin="round"/>
<path d="M585.1 474.9l.8 2 .8-6.8 .8 5 .8 5.5 .8-.3 .8-1.3 .8-2.3 .8 3.2 .8-1.6 .8 11 .8-16.3 .8 12.4 .8-8.9 .8 10.8 .8-9.1 .8-3.4 .8 3.4 .8-7.9 .8 7.8 .8 3.5 .8-6.7 .8 5.3 .8-4.2 .8 10.2 .8-12.8 .8 5.5 .8 7.3 .8-9.6 .8-.9 .8 .8 .8 3.1 .8-8.9 .8 4.6 .8 4.1 .8-1.4 .8 10.1 .8-5.8 0 3 -.8 5.8 -.8-10.1 -.8 1.4 -.8-4.1 -.8-4.6 -.8 8.9 -.8-3.1 -.8-.8 -.8 .9 -.8 9.6 -.8-7.3 -.8-5.5 -.8 12.8 -.8-10.2 -.8 4.2 -.8-5.3 -.8 6.7 -.8-3.5 -.8-7.8 -.8 7.9 -.8-3.4 -.8 3.4 -.8 9.1 -.8-10.8 -.8 8.9 -.8-12.4 -.8 16.3 -.8-11 -.8 1.6 -.8-3.2 -.8 2.3 -.8 1.3 -.8 .3 -.8-5.5 -.8-5 -.8 6.8 -.8-2z" fill="#55a868" fill-opacity="0.3"/>
<path d="M585.1 476.4l.8 2 .8-6.8 .8 5 .8 5.5 .8-.3 .8-1.3 .8-2.3 .8 3.2 .8-1.6 .8 11 .8-16.3 .8 12.4 .8-8.9 .8 10.8 .8-9.1 .8-3.4 .8 3.4 .8-7.9 .8 7.8 .8 3.5 .8-6.7 .8 5.3 .8-4.2 .8 10.2 .8-12.8 .8 5.5 .8 7.3 .8-9.6 .8-.9 .8 .8 .8 3.1 .8-8.9 .8 4.6 .8 4.1 .8-1.4 .8 10.1 .8-5.8 .3 1.5 .6-.1 .6-.1 .6-.1 .6-.1 .6-.1 .7-.1 .6 0 .6-.1 .6 0 .6-.1 .6 0 .7 0 .6 0 .6-.1 .6 0 .6 0 .6 0 .7 0 .6 .1 .6 0 .6 0 .6 .1 .6 .1 .7 .1 .6 .1 .6 0 .6 .2 .6 .1 .6 .1 .7 .1 .6 .1 .6 .1 .6 .2 .6 .1 .6 .1 .6 .1 .7 .1 .6 .2 .6 .2 .6 .2 .6 .2 .6 .2 .7 .2 .6 .2 .6 .1 .6 .1 .6-.1 .6-2.5 .7-3.4 .6-.7 .6 0 .6 0 .6 .1 .6 .2 .7 .2 .6 .4 .6 .5 .6 .6 .6 .8 .6 1 .7 1.2" fill="none" stroke="#55a868" stroke-width="1" stroke-linejoin="round"/>
<path d="M585.1 470.8l.8-11.9 .8 10.3 .8-9.3 .8-10.7 .8 13.9 .8 10.1 .8-7.6 .8-1.5 .8 1.6 .8-7.7 .8 4.5 .8-4.8 .8 6.6 .8 .1 .8 .6 .8 2.3 .8 2.8 .8-1.4 .8 5.1 .8-6.2 .8-8.8 .8 10 .8-10.7 .8 3.9 .8-1.4 .8 8.6 .8-8.7 .8 6.8 .8-11.4 .8 13 .8 6.7 .8-.9 .8-11.3 .8 .4 .8-14.6 .8 15.2 .8 0 0 4.6 -.8 0 -.8-15.2 -.8 14.6 -.8-.4 -.8 11.3 -.8 .9 -.8-6.7 -.8-13 -.8 11.4 -.8-6.8 -.8 8.7 -.8-8.6 -.8 1.4 -.8-3.9 -.8 10.7 -.8-10 -.8 8.8 -.8 6.2 -.8-5.1 -.8 1.4 -.8-2.8 -.8-2.3 -.8-.6 -.8-.1 -.8-6.6 -.8 4.8 -.8-4.5 -.8 7.7 -.8-1.6 -.8 1.5 -.8 7.6 -.8-10.1 -.8-13.9 -.8 10.7 -.8 9.3 -.8-10.3 -.8 11.9z" fill="#dd8452" fill-opacity="0.3"/>
<path d="M585.1 473.1l.8-11.9 .8 10.3 .8-9.3 .8-10.7 .8 13.9 .8 10.1 .8-7.6 .8-1.5 .8 1.6 .8-7.7 .8 4.5 .8-4.8 .8 6.6 .8 .1 .8 .6 .8 2.3 .8 2.8 .8-1.4 .8 5.1 .8-6.2 .8-8.8 .8 10 .8-10.7 .8 3.9 .8-1.4 .8 8.6 .8-8.7 .8 6.8 .8-11.4 .8 13 .8 6.7 .8-.9 .8-11.3 .8 .4 .8-14.6 .8 15.2 .8 0 .3 18.6 .6-.1 .6-.1 .6-.1 .6-.1 .6-.1 .7-.1 .6 0 .6-.1 .6 0 .6-.1 .6 0 .7 0 .6 0 .6-.1 .6 0 .6 0 .6 0 .7 0 .6 .1 .6 0 .6 0 .6 .1 .6 .1 .7 .1 .6 .1 .6 0 .6 .2 .6 .1 .6 .1 .7 .1 .6 .1 .6 .1 .6 .2 .6 .1 .6 .1 .6 .1 .7 .1 .6 .2 .6 .2 .6 .2 .6 .2 .6 .2 .7 .2 .6 .2 .6 .1 .6 .1 .6-.1 .6-2.5 .7-3.4 .6-.7 .6 0 .6 0 .6 0 .6 .1 .7 .1 .6 .2 .6 .3 .6 .3 .6 .4 .6 .5 .7 .6" fill="none" stroke="#dd8452" stroke-width="1" stroke-linejoin="round"/>
<path d="M585.1 458.2l.8-1 .8 6.3 .8 .7 .8-10.1 .8 9.5 .8-7.1 .8 3.2 .8-5.6 .8 9.6 .8-5.5 .8-3.6 .8 3.2 .8 .2 .8-.8 .8 2.4 .8-13.4 .8 15.7 .8-15.7 .8 11.4 .8 4 .8-10.3 .8 13.5 .8-5.8 .8 7.6 .8-14 .8 10.6 .8-10.5 .8 10.2 .8-5.8 .8 1.4 .8 4.1 .8-1.1 .8-2.4 .8 .8 .8 4.6 .8-8.2 .8-1.2 0 5.2 -.8 1.2 -.8 8.2 -.8-4.6 -.8-.8 -.8 2.4 -.8 1.1 -.8-4.1 -.8-1.4 -.8 5.8 -.8-10.2 -.8 10.5 -.8-10.6 -.8 14 -.8-7.6 -.8 5.8 -.8-13.5 -.8 10.3 -.8-4 -.8-11.4 -.8 15.7 -.8-15.7 -.8 13.4 -.8-2.4 -.8 .8 -.8-.2 -.8-3.2 -.8 3.6 -.8 5.5 -.8-9.6 -.8 5.6 -.8-3.2 -.8 7.1 -.8-9.5 -.8 10.1 -.8-.7 -.8-6.3 -.8 1z" fill="#4c72b0" fill-opacity="0.3"/>
<path d="M585.1 460.8l.8-1 .8 6.3 .8 .7 .8-10.1 .8 9.5 .8-7.1 .8 3.2 .8-5.6 .8 9.6 .8-5.5 .8-3.6 .8 3.2 .8 .2 .8-.8 .8 2.4 .8-13.4 .8 15.7 .8-15.7 .8 11.4 .8 4 .8-10.3 .8 13.5 .8-5.8 .8 7.6 .8-14 .8 10.6 .8-10.5 .8 10.2 .8-5.8 .8 1.4 .8 4.1 .8-1.1 .8-2.4 .8 .8 .8 4.6 .8-8.2 .8-1.2 .3 27.6 .6-.1 .6-.1 .6-.1 .6-.1 .6-.1 .7-.1 .6 0 .6-.1 .6 0 .6-.1 .6 0 .7 0 .6 0 .6-.1 .6 0 .6 0 .6 0 .7 0 .6 .1 .6 0 .6 0 .6 .1 .6 .1 .7 .1 .6 .1 .6 0 .6 .2 .6 .1 .6 .1 .7 .1 .6 .1 .6 .1 .6 .2 .6 .1 .6 .1 .6 .1 .7 .1 .6 .2 .6 .2 .6 .2 .6 .2 .6 .2 .7 .2 .6 .2 .6 .1 .6 .1 .6-.1 .6-2.5 .7-3.4 .6-.7 .6 0 .6 0 .6 0 .6 0 .7 0 .6 0 .6 0 .6 0 .6 0 .6 0 .7 0" fill="none" stroke="#4c72b0" stroke-width="1" stroke-linejoin="round"/>
<path d="M585.1 522.8l.8-6.2 .8 6.2 .8-.7 .8 4.5 .8-12.1 .8 2.3 .8-3 .8 14.5 .8-7.9 .8-.7 .8-.3 .8-8.5 .8 4 .8 18.7 .8-18.3 .8 21.1 .8-9.8 .8-10.2 .8 8.1 .8-21.3 .8 19.8 .8 3.2 .8-4.1 .8-2 .8 8.3 .8-13.5 .8 6.4 .8-5.2 .8 2.6 .8 5.6 .8-13.1 .8-5.9 .8 17.4 .8-3.3 .8 3 .8-4.9 .8 12.8 0 3 -.8-12.8 -.8 4.9 -.8-3 -.8 3.3 -.8-17.4 -.8 5.9 -.8 13.1 -.8-5.6 -.8-2.6 -.8 5.2 -.8-6.4 -.8 13.5 -.8-8.3 -.8 2 -.8 4.1 -.8-3.2 -.8-19.8 -.8 21.3 -.8-8.1 -.8 10.2 -.8 9.8 -.8-21.1 -.8 18.3 -.8-18.7 -.8-4 -.8 8.5 -.8 .3 -.8 .7 -.8 7.9 -.8-14.5 -.8 3 -.8-2.3 -.8 12.1 -.8-4.5 -.8 .7 -.8-6.2 -.8 6.2z" fill="#55a868" fill-opacity="0.3"/>
<path d="M585.1 524.3l.8-6.2 .8 6.2 .8-.7 .8 4.5 .8-12.1 .8 2.3 .8-3 .8 14.5 .8-7.9 .8-.7 .8-.3 .8-8.5 .8 4 .8 18.7 .8-18.3 .8 21.1 .8-9.8 .8-10.2 .8 8.1 .8-21.3 .8 19.8 .8 3.2 .8-4.1 .8-2 .8 8.3 .8-13.5 .8 6.4 .8-5.2 .8 2.6 .8 5.6 .8-13.1 .8-5.9 .8 17.4 .8-3.3 .8 3 .8-4.9 .8 12.8 .3 4.7 .6 0 .6 0 .6 .1 .6 0 .6 0 .7 0 .6 .1 .6 0 .6 0 .6 .1 .6 0 .7 .1 .6 0 .6 0 .6 .1 .6 0 .6 .1 .7 0 .6 .1 .6 0 .6 .1 .6 0 .6 .1 .7 0 .6 .1 .6 .1 .6 0 .6 .1 .6 .1 .7 .1 .6 .1 .6 .1 .6 .1 .6 .1 .6 0 .6 .1 .7 .1 .6 .1 .6 .1 .6 0 .6 .1 .6 .1 .7 0 .6 .1 .6 0 .6 0 .6-.1 .6-2.7 .7-4.1 .6-2.2 .6-1.4 .6-1.4 .6-1.3 .6-1.1 .7-1.1 .6-.9 .6-.7 .6-.7 .6-.4 .6-.3 .7-.1" fill="none" stroke="#55a868" stroke-width="1" stroke-linejoin="round"/>
<path d="M585.1 516.4l.8 4.6 .8 6.5 .8-5 .8-15.8 .8 9.5 .8-.6 .8-4.3 .8 2.9 .8-.8 .8 13.5 .8-15.1 .8 10.4 .8-13.2 .8 7.1 .8 9.7 .8-11.4 .8-7.7 .8 9.5 .8 12.8 .8-12.9 .8-5.4 .8-1.1 .8 7.3 .8 8.1 .8-5.4 .8-8.7 .8 2.9 .8 4.5 .8-2 .8-4.1 .8 9.5 .8-8.3 .8 6.6 .8-7.3 .8 3.8 .8-4 .8-17.3 0 4.6 -.8 17.3 -.8 4 -.8-3.8 -.8 7.3 -.8-6.6 -.8 8.3 -.8-9.5 -.8 4.1 -.8 2 -.8-4.5 -.8-2.9 -.8 8.7 -.8 5.4 -.8-8.1 -.8-7.3 -.8 1.1 -.8 5.4 -.8 12.9 -.8-12.8 -.8-9.5 -.8 7.7 -.8 11.4 -.8-9.7 -.8-7.1 -.8 13.2 -.8-10.4 -.8 15.1 -.8-13.5 -.8 .8 -.8-2.9 -.8 4.3 -.8 .6 -.8-9.5 -.8 15.8 -.8 5 -.8-6.5 -.8-4.6z" fill="#dd8452" fill-opacity="0.3"/>
<path d="M585.1 518.7l.8 4.6 .8 6.5 .8-5 .8-15.8 .8 9.5 .8-.6 .8-4.3 .8 2.9 .8-.8 .8 13.5 .8-15.1 .8 10.4 .8-13.2 .8 7.1 .8 9.7 .8-11.4 .8-7.7 .8 9.5 .8 12.8 .8-12.9 .8-5.4 .8-1.1 .8 7.3 .8 8.1 .8-5.4 .8-8.7 .8 2.9 .8 4.5 .8-2 .8-4.1 .8 9.5 .8-8.3 .8 6.6 .8-7.3 .8 3.8 .8-4 .8-17.3 .3 39 .6 0 .6 .1 .6 0 .6 .1 .6 0 .7 .1 .6 0 .6 .1 .6 .1 .6 0 .6 .1 .7 0 .6 .1 .6 0 .6 .1 .6 0 .6 .1 .7 0 .6 .1 .6 0 .6 .1 .6 0 .6 .1 .7 .1 .6 0 .6 .1 .6 0 .6 .1 .6 .1 .7 .1 .6 0 .6 .1 .6 .1 .6 .1 .6 0 .6 .1 .7 .1 .6 0 .6 .1 .6 0 .6 .1 .6 0 .7 0 .6 .1 .6 0 .6 0 .6-.1 .6-2.8 .7-3.8 .6-.9 .6-.2 .6-.1 .6-.1 .6-.1 .7-.1 .6-.1 .6 0 .6-.1 .6 0 .6 0 .7 0" fill="none" stroke="#dd8452" stroke-width="1" stroke-linejoin="round"/>
<path d="M585.1 514.9l.8-4.6 .8-1.3 .8-12.6 .8 27.1 .8-18.2 .8 4.7 .8 3.2 .8-13.4 .8 5.4 .8 6 .8 1.2 .8 11.3 .8-19.1 .8-1.4 .8 13.5 .8 7.6 .8-18.7 .8 17.8 .8-8.5 .8-17.4 .8 15.9 .8-1.4 .8 .1 .8-.8 .8-4.6 .8 5.5 .8-7.5 .8 11.7 .8-7.1 .8-.5 .8-14 .8 12.8 .8 10 .8-11.3 .8 4.9 .8 5.4 .8-13 0 5.2 -.8 13 -.8-5.4 -.8-4.9 -.8 11.3 -.8-10 -.8-12.8 -.8 14 -.8 .5 -.8 7.1 -.8-11.7 -.8 7.5 -.8-5.5 -.8 4.6 -.8 .8 -.8-.1 -.8 1.4 -.8-15.9 -.8 17.4 -.8 8.5 -.8-17.8 -.8 18.7 -.8-7.6 -.8-13.5 -.8 1.4 -.8 19.1 -.8-11.3 -.8-1.2 -.8-6 -.8-5.4 -.8 13.4 -.8-3.2 -.8-4.7 -.8 18.2 -.8-27.1 -.8 12.6 -.8 1.3 -.8 4.6z" fill="#4c72b0" fill-opacity="0.3"/>
<path d="M585.1 517.5l.8-4.6 .8-1.3 .8-12.6 .8 27.1 .8-18.2 .8 4.7 .8 3.2 .8-13.4 .8 5.4 .8 6 .8 1.2 .8 11.3 .8-19.1 .8-1.4 .8 13.5 .8 7.6 .8-18.7 .8 17.8 .8-8.5 .8-17.4 .8 15.9 .8-1.4 .8 .1 .8-.8 .8-4.6 .8 5.5 .8-7.5 .8 11.7 .8-7.1 .8-.5 .8-14 .8 12.8 .8 10 .8-11.3 .8 4.9 .8 5.4 .8-13 .3 30.3 .6 0 .6 .1 .6 0 .6 .1 .6 0 .7 .1 .6 0 .6 .1 .6 .1 .6 0 .6 .1 .7 0 .6 .1 .6 0 .6 .1 .6 0 .6 .1 .7 0 .6 .1 .6 0 .6 .1 .6 0 .6 .1 .7 .1 .6 0 .6 .1 .6 0 .6 .1 .6 .1 .7 .1 .6 0 .6 .1 .6 .1 .6 .1 .6 0 .6 .1 .7 .1 .6 0 .6 .1 .6 0 .6 .1 .6 0 .7 0 .6 .1 .6 0 .6 0 .6-.1 .6-2.6 .7-3.5 .6-.9 .6-.1 .6-.1 .6 0 .6-.1 .7 0 .6-.1 .6 0 .6 0 .6 0 .6-.1 .7 0" fill="none" stroke="#4c72b0" stroke-width="1" stroke-linejoin="round"/>
<defs><linearGradient id="vir" x1="0" y1="1" x2="0" y2="0"><stop offset="0" stop-color="#440154"/><stop offset="0.1" stop-color="#482475"/><stop offset="0.2" stop-color="#414487"/><stop offset="0.3" stop-color="#355f8d"/><stop offset="0.4" stop-color="#2a788e"/><stop offset="0.5" stop-color="#21918c"/><stop offset="0.6" stop-color="#22a884"/><stop offset="0.7" stop-color="#44bf70"/><stop offset="0.8" stop-color="#7ad151"/><stop offset="0.9" stop-color="#bddf26"/><stop offset="1" stop-color="#fde725"/></linearGradient></defs>
<text x="-1.2" y="590.8" font-size="18.5" font-weight="bold" fill="#000" stroke="#000" stroke-width="0.07">i</text>
<rect x="110.4" y="585.2" width="87.2" height="10.2" rx="5.1" fill="#dce3e6"/>
<text x="154" y="593.5" font-size="9" text-anchor="middle" fill="#2a2a2a" stroke="#2a2a2a" stroke-width="0.15">RDM</text>
<rect x="320.3" y="585.5" width="63.1" height="10.1" rx="5.05" fill="#dce3e6"/>
<text x="351.9" y="593.7" font-size="9" text-anchor="middle" fill="#2a2a2a" stroke="#2a2a2a" stroke-width="0.15">CAC</text>
<rect x="54.8" y="614.9" width="76" height="70.5" fill="#1f958b"/>
<path d="M92.8 684.8h2.2m2.3 0h29m2.3 0h2.2m-20.1-1.2h2.2m2.3 0h2.2m6.7 0h6.7m-29.1-1.2h2.3m4.4 0h13.5m-4.5-1.3h2.2m4.5 0h2.2m-29-1.2h26.8m4.5 0h2.2m-35.8-1.2h2.3m15.6 0h2.3m2.2 0h13.4m-13.4-1.2h2.2m4.5 0h2.2m-8.9-1.2h2.2m2.3 0h8.9m-29.1-1.2h2.3m-11.2-2.5h38m-4.5-1.2h4.5m-2.2-1.2h2.2m-24.6-1.2h2.2m4.5 0h4.5m6.7 0h6.7m-31.3-1.2h6.7m13.4 0h2.3m4.4 0h2.3m-9-2.5h4.5m-2.2-2.4h8.9m-22.4-1.2h4.5m2.3 0h15.6m-8.9-1.2h2.2m4.5 0h2.2m-15.6-1.2h2.2m2.2 0h2.3m-13.5-3.7h2.3m2.2 0h17.9m-17.9-1.2h2.3m2.2 0h6.7m2.2 0h4.5m-2.2-3.6h2.2m-2.2-1.3h2.2m-60.4-9.7h2.3m55.9 0h2.2m-67.1-3.6h4.5m-8.9-11h2.2" stroke="#46085c" stroke-width="1.34"/>
<path d="M126.3 684.8h2.3m-20.2-1.2h2.3m2.2 0h2.3m4.4 0h4.5m-26.8-1.2h2.2m6.7 0h2.2m13.5 0h4.4m-35.7-1.3h4.4m4.5 0h2.2m11.2 0h4.5m2.2 0h4.5m2.2 0h4.5m-38-1.2h2.2m29.1 0h4.5m-40.3-1.2h2.3m2.2 0h2.2m2.3 0h11.1m2.3 0h2.2m2.3 0h2.2m-6.7-1.2h2.2m9 0h2.2m2.2 0h2.3m-22.4-1.2h2.2m4.5 0h4.5m2.2 0h2.3m-4.5-1.2h8.9m2.3 0h2.2m-20.1-1.2h2.2m-24.6-1.3h2.3m8.9-1.2h4.5m15.6 0h4.5m-29.1-2.4h4.5m2.2 0h2.3m4.4 0h4.5m4.5 0h6.7m-26.8-1.2h2.2m6.7 0h4.5m2.2 0h6.7m2.3 0h4.4m2.3 0h2.2m-11.2-1.2h4.5m2.2-1.3h4.5m-15.6-2.4h2.2m2.2 0h2.3m-17.9-1.2h2.2m6.7 0h2.3m11.1-1.2h2.3m-20.2-1.2h6.8m6.7 0h2.2m-8.9-1.2h2.2m4.5-1.3h2.2m2.2 0h2.3m-22.4-1.2h2.2m2.3 0h2.2m-4.5-1.2h2.3m4.5 0h2.2m6.7 0h2.2m0-3.6h2.3m-73.8-11h11.2m2.2 0h2.2m51.5 0h2.2m-69.3-3.6h8.9m-8.9-2.5h2.2m9-8.5h2.2m-4.5-6h2.3m-4.5-2.5h2.2m-6.7-1.2h2.3m2.2 0h4.5m6.7 0h2.2" stroke="#481a6c" stroke-width="1.34"/>
<path d="M86.1 684.8h2.2m2.3 0h2.2m2.2 0h2.3m4.4-1.2h2.3m2.2 0h2.2m9 0h2.2m-20.1-1.2h2.2m2.3 0h2.2m-8.9-1.3h2.2m8.9 0h2.3m-15.7-1.2h2.3m-11.2-1.2h2.2m2.3 0h2.2m15.6 0h2.3m-9-1.2h6.7m4.5 0h4.5m2.2 0h2.3m6.7 0h2.2m-29.1-1.2h4.5m2.2 0h4.5m-17.9-1.2h2.3m2.2 0h2.2m6.7 0h2.3m4.5 0h2.2m8.9 0h2.3m-33.6-1.2h2.3m6.7 0h6.7m8.9 0h2.3m-35.8-1.3h2.2m2.3 0h2.2m4.5-1.2h2.2m6.7 0h2.2m15.7 0h2.2m-11.1-1.2h2.2m8.9 0h2.3m-29.1-1.2h2.2m2.3 0h2.2m4.5-1.2h2.2m-4.5-1.2h4.5m2.3 0h2.2m-9-1.3h2.3m4.5 0h4.4m4.5 0h2.2m-17.9-1.2h2.3m6.7 0h2.2m-8.9-1.2h2.2m4.5 0h2.2m-6.7-2.4h2.3m8.9 0h2.2m-22.3-1.2h4.4m9 0h2.2m4.5 0h2.2m2.3 0h2.2m-13.4-1.2h2.2m-8.9-3.7h2.2m13.4-1.2h4.5m-11.2-2.4h6.7m0-1.3h2.3m-2.3-1.2h4.5m-2.2-2.4h2.2m-58.1-6.1h4.5m2.2 0h2.2m42.5 0h4.5m-55.9-3.6h2.2m-20.1-4.9h2.2m0-1.2h2.3m4.4-2.4h2.3m-11.2-1.3h2.2m6.7 0h2.3m2.2 0h2.2m2.3 0h2.2m-20.1-1.2h2.2m4.5 0h4.5m2.2 0h2.2m6.8 0h2.2m-24.6-3.6h2.2m-2.2-1.2h8.9m4.5 0h2.2m-4.4-1.2h2.2m2.2 0h2.3m-6.7-1.3h4.4m-11.1-1.2h2.2m2.2 0h9m-17.9-1.2h2.2m2.3 0h2.2m8.9 0h2.3m2.2 0h2.3" stroke="#482979" stroke-width="1.34"/>
<path d="M88.3 683.6h2.3m4.4 0h6.7m2.3 0h2.2m-11.2-1.2h2.3m29 0h4.5m-42.5-1.3h2.3m4.4 0h2.3m4.4 0h6.7m2.3 0h2.2m-24.6-1.2h2.3m-6.7-1.2h2.2m13.4-1.2h2.2m6.7 0h2.3m-15.7-1.2h2.3m0-1.2h2.2m4.5 0h2.2m4.5 0h2.2m-20.1-1.2h2.2m6.7 0h2.3m8.9 0h6.7m2.3 0h4.4m2.3 0h2.2m-26.8-2.5h2.2m6.7 0h4.5m-13.4-1.2h2.2m2.2 0h2.3m2.2 0h2.3m2.2 0h2.2m2.3 0h4.4m-33.5-2.4h4.5m15.6-1.2h2.3m2.2 0h2.2m9 0h2.2m-26.8-1.3h4.4m4.5 0h2.3m-11.2-1.2h4.4m2.3 0h2.2m9 0h2.2m4.5 0h2.2m-29.1-1.2h2.3m4.4 0h2.3m2.2 0h2.3m-13.5-1.2h2.3m2.2 0h2.2m0-1.2h4.5m2.3 0h6.7m4.4-1.2h2.3m-6.7-1.2h2.2m4.5 0h2.2m-17.9-1.3h9m2.2 0h2.2m2.3 0h2.2m-71.5-1.2h2.2m2.2 0h6.7m31.3 0h4.5m-2.2-1.2h4.4m15.7-1.2h2.2m-2.2-1.2h4.5m-11.2-1.2h2.2m4.5-1.3h2.2m-2.2-2.4h2.2m2.3-3.6h2.2m-64.8-3.7h2.2m9 0h2.2m40.2 0h2.3m-67.1-1.2h4.5m11.1-2.4h2.3m2.2 0h2.3m-20.2-2.5h9m0-1.2h2.2m-11.2-1.2h2.3m-4.5-1.2h2.2m-2.2-1.2h2.2m0-1.2h2.3m6.7 0h4.4m-13.4-1.3h2.3m2.2 0h2.2m2.3 0h2.2m2.2 0h2.3m-15.7-1.2h2.3m11.1 0h4.5m4.5 0h2.2m-26.8-2.4h11.2m2.2 0h6.7m2.3 0h2.2m-22.4-1.2h6.7m2.3 0h2.2m-4.5-1.2h4.5m4.5 0h2.2m-17.9-1.2h6.7m4.5 0h2.2m-15.6-1.3h11.2m-11.2-1.2h4.5m17.9 0h2.2m-11.2-1.2h2.2" stroke="#453781" stroke-width="1.34"/>
<path d="M81.6 684.8h4.5m2.2 0h2.3m2.2-1.2h2.2m-4.4-1.2h4.4m-8.9-1.3h2.2m2.3-1.2h2.2m2.2-2.4h4.5m-8.9-1.2h2.2m4.5 0h4.4m-8.9-1.2h2.2m11.2 0h2.2m4.5 0h2.3m-24.6-1.2h2.2m4.5 0h4.4m-20.1-1.3h4.5m8.9-1.2h2.3m20.1 0h2.2m-22.3-1.2h2.2m6.7 0h2.2m2.3 0h2.2m-8.9-3.6h4.4m15.7 0h4.5m-35.8-1.3h6.7m2.2-1.2h2.3m8.9 0h4.5m2.2 0h2.3m2.2 0h4.5m-33.6-1.2h2.3m2.2 0h2.2m2.3 0h4.4m-8.9-1.2h2.2m-2.2-1.2h8.9m-8.9-1.2h4.5m6.7-1.2h4.5m8.9 0h2.2m-55.9-2.5h2.3m20.1 0h2.2m6.7-1.2h2.3m13.4-1.2h2.2m2.3 0h2.2m-4.5-1.2h4.5m4.5 0h2.2m-8.9-2.5h2.2m-2.2-1.2h2.2m4.5-1.2h2.2m-2.2-2.4h2.2m-6.7-1.2h4.5m-2.3-1.3h2.3m-71.6-1.2h2.3m22.3-1.2h4.5m29.1 0h4.4m-60.3-1.2h2.2m-6.7-1.2h2.2m11.2-1.2h2.2m-15.6-1.2h2.2m9-1.3h2.2m-13.4-1.2h4.5m2.2 0h4.5m2.2 0h4.5m-9-1.2h2.3m-6.7-1.2h4.4m4.5 0h4.5m-15.7-1.2h4.5m-6.7-1.2h2.2m2.3 0h4.4m6.7 0h2.3m2.2 0h2.3m-17.9-1.3h2.2m13.4 0h6.7m-6.7-1.2h2.3m4.4 0h2.3m-2.3-2.4h2.3m2.2 0h2.2m-24.6-1.2h2.3m2.2 0h2.2m4.5 0h2.3m2.2 0h2.2m-26.8-2.4h2.2m15.7 0h8.9m-11.2-1.3h4.5m-2.2-1.2h4.5m-11.2-1.2h2.2m9 0h2.2" stroke="#404588" stroke-width="1.34"/>
<path d="M77.2 684.8h4.4m4.5-1.2h2.2m2.3 0h2.2m-4.5-1.2h2.3m-9-1.3h4.5m-2.2-1.2h4.4m-8.9-1.2h2.2m11.2-1.2h2.2m-11.1-1.2h6.7m0-1.2h2.2m-4.5-1.2h2.3m35.7 0h2.3m-20.2-2.5h4.5m-17.9-1.2h2.3m2.2 0h2.2m17.9 0h2.3m-31.3-1.2h4.4m6.7-2.4h2.3m-4.5-1.3h4.5m6.7 0h2.2m-15.6-1.2h4.4m-8.9-2.4h4.5m11.1-3.6h2.3m8.9 0h2.3m4.4 0h2.3m-20.2-1.3h2.3m-55.9-1.2h4.5m2.2 0h2.2m9 0h2.2m2.3 0h2.2m8.9 0h2.3m4.4 0h6.7m-2.2-1.2h2.2m13.5-1.2h2.2m2.2 0h2.3m-9-2.4h4.5m0-1.3h4.5m2.2-1.2h2.2m-69.3-1.2h4.5m62.6-1.2h4.5m-4.5-1.2h4.5m-6.7-1.2h2.2m4.5-1.3h2.2m-44.7-2.4h2.2m-26.8-1.2h2.2m6.7-1.2h2.3m4.5-1.2h4.4m11.2 0h2.2m29.1 0h6.7m-67.1-1.2h2.3m4.4 0h2.3m-4.5-1.3h2.2m-11.1-1.2h2.2m13.4 0h2.3m-17.9-1.2h4.4m2.3 0h2.2m9 0h2.2m-13.4-1.2h2.2m4.5-2.4h2.2m2.3 0h2.2m4.5-1.3h2.2m-2.2-1.2h2.2m-26.8-1.2h2.2m4.5-1.2h2.2m6.7 0h2.3m2.2 0h2.2m2.3 0h2.2m-15.7-1.2h4.5m2.3 0h2.2m4.5 0h2.2m-15.7-1.2h2.3m2.2 0h4.5m0-3.7h2.2m-2.2-1.2h4.5" stroke="#3b528b" stroke-width="1.34"/>
<path d="M74.9 684.8h2.3m4.4-1.2h4.5m-2.2-1.2h2.2m-6.7-1.3h2.2m0-2.4h2.3m0-1.2h6.7m-9-1.2h2.3m8.9 0h2.2m-6.7-1.2h2.3m-13.4-2.5h4.4m9-1.2h4.4m-6.7-1.2h6.7m6.7 0h2.3m-15.7-1.2h2.3m-2.3-1.2h4.5m2.2-1.2h2.3m2.2 0h2.2m-6.7-2.5h2.3m-9-1.2h2.3m2.2 0h2.2m-4.4-1.2h2.2m4.5 0h2.2m-2.2-1.2h2.2m-4.5-1.2h4.5m6.7-1.2h2.2m-4.4-1.3h4.4m2.3 0h2.2m-53.6-2.4h2.2m6.7 0h2.2m2.3 0h2.2m20.1 0h2.3m13.4-1.2h2.2m-6.7-1.2h2.2m2.3 0h4.5m2.2 0h2.2m-64.8-1.2h2.2m2.3 0h2.2m44.7 0h2.2m2.3 0h2.2m-4.5-1.3h4.5m2.3 0h2.2m2.2-1.2h2.3m-13.5-1.2h2.3m2.2 0h2.3m6.7 0h2.2m2.2 0h2.3m-9-1.2h2.3m-4.5-1.2h2.2m2.3 0h2.2m-62.6-1.2h2.2m4.5 0h2.2m49.2 0h2.3m-64.9-1.3h6.7m60.4 0h2.2m-71.5-1.2h2.2m38-1.2h2.3m15.6 0h2.3m-51.5-1.2h2.3m62.6 0h2.2m-69.3-1.2h2.2m4.5 0h2.2m2.3 0h2.2m6.7-1.2h4.5m35.8 0h2.2m-67.1-1.2h6.7m6.7-1.3h4.5m4.5 0h2.2m-8.9-1.2h2.2m2.3 0h2.2m-11.2-1.2h4.5m6.7 0h6.7m-22.4-1.2h2.3m8.9 0h2.3m-15.7-1.2h2.2m17.9-2.5h2.3m2.2-1.2h4.5m-35.8-1.2h4.5m26.8-2.4h2.2m-8.9-1.2h6.7m-4.5-1.2h2.3m2.2 0h2.2m-6.7-1.3h2.3m2.2 0h2.2m-4.4-2.4h2.2m4.5 0h2.2" stroke="#355e8d" stroke-width="1.34"/>
<path d="M74.9 683.6h2.3m2.2 0h2.2m4.5-1.2h2.2m-6.7-2.5h2.3m-6.7-1.2h2.2m2.2-1.2h2.3m6.7 0h2.2m-8.9-2.4h4.4m-13.4-2.5h2.3m11.1-1.2h2.3m-4.5-1.2h2.2m-4.4-2.4h4.4m9-1.2h2.2m-11.2-1.3h2.3m-4.5-2.4h2.2m2.3 0h2.2m4.5 0h2.2m-11.2-1.2h2.3m2.2-1.2h4.5m-4.5-1.2h2.2m6.7-1.2h4.5m-6.7-1.3h2.2m-26.8-1.2h2.3m13.4 0h2.2m-38-1.2h4.5m2.2 0h4.5m8.9 0h2.3m15.6 0h2.2m2.3 0h2.2m13.4-1.2h2.3m0-1.2h2.2m-13.4-1.2h2.2m2.2 0h2.3m-6.7-1.3h2.2m6.7 0h2.3m-60.4-2.4h2.2m53.7 0h2.2m2.3 0h6.7m0-1.2h2.2m-69.3-2.4h2.2m9 0h2.2m2.2 0h2.3m44.7 0h2.2m-64.8-1.3h2.2m2.3-1.2h2.2m26.8-1.2h2.3m20.1 0h2.2m-46.9-1.2h6.7m51.4 0h4.5m-71.6-1.2h4.5m2.2 0h2.3m13.4 0h2.2m42.5 0h6.7m-44.7-1.2h6.7m-26.8-1.2h4.4m4.5 0h6.7m4.5 0h4.5m-15.7-1.3h4.5m2.2 0h2.3m42.4 0h2.3m-49.2-1.2h2.2m-8.9-1.2h4.5m8.9 0h4.5m-17.9-1.2h2.2m-11.2-1.2h6.7m9-1.2h6.7m0-1.3h4.5m0-1.2h4.4m2.3 0h2.2m-33.5-1.2h2.2m6.7 0h4.5m8.9-1.2h9m-2.3-1.2h2.3m-13.4-2.4h2.2m2.2 0h2.3m-15.7-1.3h6.7m6.7 0h2.3m-9-1.2h2.3m2.2-1.2h2.2" stroke="#306a8e" stroke-width="1.34"/>
<path d="M70.4 684.8h2.3m6.7-2.4h4.5m-9-1.3h2.3m0-1.2h4.4m-2.2-2.4h2.2m-4.4-1.2h4.4m0-1.2h2.3m-2.3-1.2h6.7m-15.6-1.3h2.2m11.2-1.2h2.2m-4.4-1.2h2.2m-2.2-1.2h2.2m-6.7-1.2h2.2m6.7-1.2h6.7m-11.1-1.3h2.2m4.5 0h2.2m-2.2-1.2h4.4m-11.1-1.2h2.2m-2.2-1.2h2.2m2.2-1.2h2.3m6.7-2.4h2.2m-2.2-1.3h2.2m2.2 0h2.3m-17.9-1.2h2.2m-22.3-1.2h2.2m2.2 0h2.3m17.9 0h2.2m15.6-1.2h2.3m-6.7-1.2h2.2m-6.7-1.2h4.5m8.9-2.5h6.7m-58.1-1.2h8.9m33.6 0h2.2m-38-1.2h2.2m-15.6-1.2h2.2m58.2 0h2.2m2.2 0h2.3m-64.9-1.2h4.5m11.2 0h2.2m40.3 0h2.2m-53.7-1.3h4.5m49.2 0h2.2m-4.4-1.2h2.2m4.5 0h8.9m-40.2-1.2h4.4m2.3 0h2.2m8.9 0h2.3m-38-1.2h2.2m2.3 0h2.2m40.2 0h4.5m-58.1-1.2h2.2m9 0h2.2m2.2 0h4.5m8.9-1.2h9m11.2 0h2.2m-44.7-1.2h2.2m6.7 0h2.3m6.7 0h4.4m31.3 0h4.5m-46.9-1.3h2.2m2.2 0h2.3m38 0h2.2m-49.2-1.2h2.3m8.9-1.2h2.2m33.6 0h2.2m-53.6-1.2h4.4m-11.2-1.2h4.5m2.3 0h6.7m2.2 0h2.2m-2.2-1.2h2.2m2.3 0h2.2m-31.3-3.7h2.2m4.5 0h2.2m9 0h4.5m13.4-1.2h4.4m-20.1-1.2h2.3m4.4 0h4.5m-6.7-1.2h6.7m-2.2-2.5h4.4m-11.1-1.2h2.2m4.5 0h2.2m-4.5-1.2h2.3m15.6 0h2.2" stroke="#2b748e" stroke-width="1.34"/>
<path d="M72.7 684.8h2.2m2.3-2.4h2.2m-9-1.3h2.3m4.5 0h2.2m-4.5-1.2h2.3m-4.5-2.4h2.2m2.3 0h2.2m-4.5-1.2h2.3m6.7-4.9h2.2m-8.9-1.2h6.7m-4.5-1.2h2.2m4.5 0h2.2m-6.7-1.2h2.3m2.2-2.5h2.2m0-1.2h2.3m-31.3-2.4h2.2m24.6-1.2h2.2m2.3 0h2.2m-4.5-1.2h2.3m8.9-1.2h2.2m-22.3-2.5h2.2m-4.4-1.2h2.2m8.9 0h2.3m-31.3-2.4h2.2m4.5 0h2.2m29.1 0h2.2m2.2 0h2.3m4.4 0h2.3m-53.7-1.2h2.3m2.2 0h4.5m-11.2-1.3h2.2m4.5 0h2.2m2.3 0h2.2m33.5 0h2.3m2.2 0h2.2m-53.6-1.2h2.2m13.4-1.2h4.5m31.3 0h2.2m-53.6-1.2h6.7m53.7 0h4.4m-62.6-1.2h2.3m53.6 0h2.3m-51.5-1.2h2.3m8.9 0h6.7m29.1 0h2.2m-44.7-1.3h4.5m2.2 0h2.3m2.2 0h4.5m35.7 0h4.5m-51.4-1.2h4.5m2.2 0h2.2m2.3 0h2.2m26.8 0h2.3m4.4 0h2.3m-47-2.4h2.3m2.2 0h2.2m4.5 0h2.2m-13.4-1.2h2.3m13.4 0h2.2m29.1 0h2.2m-6.7-1.2h4.5m-38-1.2h2.2m8.9 0h2.3m26.8 0h2.2m-29-1.3h6.7m-4.5-1.2h2.2m2.3 0h2.2m-15.6-1.2h2.2m2.2 0h2.3m31.3-1.2h2.2m-46.9-1.2h2.2m2.2 0h2.3m-2.3-1.2h2.3m4.4-2.5h2.3m31.3 0h2.2m-67.1-1.2h2.3m4.4 0h4.5m9 0h4.4m4.5-2.4h2.2m2.3 0h2.2m2.2 0h2.3m0-1.2h2.2m-15.6-1.2h8.9m-15.6-1.3h2.2m8.9 0h2.3m15.6 0h2.3m-29.1-1.2h4.5m2.2 0h2.2m2.3 0h2.2m-6.7-1.2h4.5m4.4 0h4.5" stroke="#27808e" stroke-width="1.34"/>
<path d="M72.7 682.4h2.2m0-4.9h2.3m-2.3-2.4h4.5m-9-2.5h2.3m4.5-1.2h2.2m-4.5-1.2h2.3m-2.3-1.2h2.3m4.4 0h2.3m2.2-2.4h2.2m-6.7-1.3h2.3m-29.1-3.6h4.5m2.2 0h2.2m2.3 0h2.2m17.9 0h2.2m-33.5-2.4h2.2m33.6 0h2.2m2.2-2.5h2.3m-15.7-2.4h2.3m20.1-1.2h4.4m-53.6-1.2h2.2m4.5 0h2.2m4.5 0h2.2m29.1 0h2.2m-4.4-1.2h2.2m-42.5-1.3h2.3m4.4 0h2.3m15.6-2.4h2.3m17.8 0h2.3m-42.5-1.2h2.2m2.3 0h2.2m42.5 0h4.5m-53.7-1.2h2.2m9-2.5h2.2m2.3 0h2.2m4.5 0h4.4m26.9 0h2.2m-55.9-1.2h8.9m6.8 0h2.2m2.2 0h2.3m33.5 0h2.2m-35.7-2.4h2.2m2.2 0h4.5m24.6 0h2.2m-33.5-1.2h2.2m31.3 0h2.3m-17.9-1.2h2.2m-8.9-1.2h4.4m20.2 0h2.2m-38-1.3h2.2m2.3 0h6.7m-9-1.2h2.3m6.7 0h2.2m2.2 0h2.3m-4.5-1.2h2.2m22.4 0h4.5m-44.7-1.2h2.2m-11.2-1.2h2.3m15.6-1.2h4.5m2.2 0h2.2m26.9 0h2.2m-26.8-1.3h4.4m-6.7-1.2h4.5m-4.5-2.4h6.7m-4.4-1.2h6.7m-17.9-1.2h4.5m4.4 0h2.3m2.2 0h4.5m2.2 0h4.5m-20.1-2.5h2.2m6.7 0h6.7m2.3 0h2.2m-13.4-1.2h2.2m-8.9-1.2h4.4m6.7 0h4.5m2.3 0h4.4" stroke="#228b8d" stroke-width="1.34"/>
<path d="M72.7 683.6h2.2m2.3 0h2.2m-4.5-1.2h2.3m-4.5-1.3h2.2m0-2.4h2.3m-6.8-1.2h2.3m0-1.2h2.2m4.5-1.2h2.2m-2.2-1.2h2.2m-2.2-2.5h4.5m-6.7-2.4h2.2m-2.2-1.2h2.2m0-1.2h6.7m0-2.5h2.2m-31.3-1.2h2.3m22.3 0h2.3m-2.3-1.2h2.3m-26.9-2.4h4.5m33.5-1.2h2.3m-4.5-1.3h2.2m-11.1-1.2h2.2m-6.7-1.2h2.2m17.9-1.2h4.5m-47-1.2h2.3m4.4 0h2.3m6.7 0h2.2m-6.7-1.2h4.5m-4.5-1.3h4.5m24.6 0h4.4m-44.7-1.2h4.5m2.2-2.4h2.3m4.4 0h9m4.5 0h2.2m22.3 0h2.3m-51.4-1.2h2.2m20.1-1.2h2.3m29 0h2.3m-24.6-1.3h2.2m20.1 0h2.3m-44.8-1.2h2.3m33.5-1.2h2.2m-26.8-1.2h2.3m11.1 0h2.3m-9-1.2h2.3m26.8 0h2.2m-8.9-1.2h2.2m-8.9-2.5h2.2m15.7 0h4.4m-42.4-1.2h2.2m4.5 0h2.2m33.5 0h4.5m-29.1-1.2h2.3m-22.4-1.2h2.3m6.7 0h2.2m33.5 0h2.3m-38-1.2h4.4m2.3-1.2h2.2m6.7 0h2.2m-17.8-1.3h6.7m2.2 0h4.5m4.4 0h2.3m17.9 0h2.2m-31.3-1.2h2.2m6.7 0h2.3m-22.4-1.2h4.5m15.6-1.2h2.3m17.9 0h2.2m-31.3-1.2h2.2m9 0h2.2m-15.6-1.2h4.4m9 0h2.2m-13.4-1.2h4.5m-4.5-1.3h6.7m11.2 0h2.2m-24.6-1.2h2.3m2.2 0h2.2m4.5 0h4.5m2.2-1.2h2.3" stroke="#1f958b" stroke-width="1.34"/>
<path d="M68.2 684.8h2.2m0-1.2h2.3m-2.3-1.2h2.3m0-3.7h2.2m2.3-4.8h2.2m-6.7-2.5h4.5m-4.5-1.2h2.2m-17.9-2.4h2.3m15.6 0h2.3m2.2-2.5h2.2m2.3-1.2h2.2m-31.3-1.2h2.2m2.3 0h2.2m2.2-1.2h2.3m2.2 0h2.2m-13.4-1.2h2.3m2.2-1.2h4.5m26.8-1.2h2.2m-4.4-1.3h2.2m-11.2-1.2h2.3m-26.9-2.4h4.5m31.3 0h6.7m-33.5-2.4h2.2m4.5 0h4.5m15.6 0h4.5m-38-1.3h2.2m11.2 0h6.7m29-1.2h2.3m-35.8-1.2h6.7m17.9 0h2.2m-22.3-1.2h4.5m-15.7-1.2h2.2m40.3 0h2.2m-26.8-1.2h2.2m20.1 0h2.3m-22.4-1.3h2.3m-4.5-1.2h2.2m22.4 0h2.2m-13.4-1.2h2.2m-8.9-1.2h2.2m20.2 0h2.2m-24.6-1.2h2.2m20.2 0h2.2m-11.2-1.2h4.5m-9-1.2h4.5m13.4 0h2.3m-35.8-2.5h2.2m4.5 0h4.5m8.9 0h2.2m15.7 0h2.2m-29-1.2h2.2m4.5 0h2.2m-20.1-1.2h4.5m2.2 0h2.2m4.5 0h2.2m24.6-1.2h2.3m-24.6-1.2h2.2m20.1 0h2.3m-31.3-1.3h2.2m11.2 0h2.2m13.4 0h2.3m-22.4-1.2h2.2m-15.6-1.2h2.2m15.7-1.2h4.5m-9-3.6h2.2m-6.7-2.5h2.3m11.2 0h2.2" stroke="#1fa188" stroke-width="1.34"/>
<path d="M68.2 683.6h2.2m-2.2-1.2h2.2m0-2.5h4.5m-6.7-2.4h2.2m0-1.2h2.3m0-1.2h2.2m0-1.2h2.3m-9-1.3h2.2m-15.6-4.8h2.2m2.3 0h4.4m13.5-1.2h2.2m-24.6-1.3h2.2m-2.2-1.2h2.2m24.6 0h2.3m-22.4-1.2h2.2m15.7 0h2.2m-26.8-2.4h2.2m6.7 0h2.3m15.6 0h4.5m-20.1-1.2h6.7m13.4 0h2.2m-31.3-2.5h4.5m26.8 0h2.3m-6.7-2.4h4.4m-33.5-1.2h2.2m6.7 0h2.3m2.2 0h4.5m4.5-1.2h2.2m15.6 0h2.3m-20.1-1.2h4.4m-2.2-1.3h2.2m13.4 0h2.3m-35.8-1.2h2.2m42.5 0h2.2m2.3 0h2.2m-24.6-2.4h2.3m13.4 0h2.2m-42.5-1.2h4.5m4.5 0h2.2m6.7 0h2.3m0-1.2h2.2m24.6-1.3h2.2m-24.6-1.2h4.5m8.9-1.2h2.3m-6.7-1.2h2.2m13.4 0h2.3m-2.3-2.4h2.3m-9-2.5h2.2m11.2 0h2.3m-11.2-1.2h2.2m-6.7-1.2h2.2m-11.1-1.2h2.2m24.6 0h2.2m-31.3-1.2h2.3m4.4 0h2.3m-2.3-1.2h2.3m4.4 0h2.3m2.2-1.3h2.3m-4.5-1.2h2.2m13.4 0h2.3m-31.3-1.2h2.2m26.8-1.2h2.3m-15.7-1.2h4.5m11.2-1.2h2.2m-22.4-1.2h2.3m0-2.5h4.5" stroke="#25ac82" stroke-width="1.34"/>
<path d="M63.7 684.8h4.5m-2.2-3.7h4.4m-2.2-1.2h2.2m0-1.2h2.3m-4.5-2.4h2.2m0-6.1h2.3m0-1.2h2.2m-2.2-1.2h2.2m-17.9-2.5h4.5m0-1.2h2.2m15.7 0h2.2m-17.9-1.2h2.3m4.4-1.2h6.8m2.2 0h2.2m-20.1-1.2h2.2m20.2-1.2h2.2m-26.8-1.2h6.7m24.6 0h2.2m-31.3-1.3h4.5m-4.5-3.6h2.2m2.3 0h2.2m4.5 0h6.7m11.2 0h2.2m-22.4-1.2h2.3m2.2 0h2.3m15.6 0h2.2m-4.4-1.2h2.2m-29.1-2.5h4.5m35.8 0h2.2m-22.3-1.2h2.2m0-1.2h2.2m17.9 0h2.2m-38-1.2h2.3m2.2 0h2.3m2.2 0h2.2m2.3 0h2.2m22.3 0h2.3m-22.4-1.2h2.3m2.2-1.3h4.5m11.1 0h2.3m-2.3-1.2h2.3m-15.7-3.6h4.5m13.4 0h2.3m2.2-3.7h2.2m2.3-1.2h2.2m-15.7-1.2h2.3m11.2 0h2.2m-29.1-1.2h2.3m4.4 0h2.3m2.2 0h2.2m13.5 0h2.2m4.5-1.2h2.2m-20.1-1.2h2.2m0-2.5h2.3m-9-1.2h2.2m9-2.4h2.2m-2.2-1.2h2.2m2.3 0h2.2m2.2 0h2.3m-24.6-1.2h2.2m4.5 0h6.7m2.2-1.3h4.5m-6.7-1.2h2.2m0-1.2h4.5" stroke="#32b67a" stroke-width="1.34"/>
<path d="M68.2 678.7h2.2m0-3.6h2.3m-2.3-1.2h4.5m-20.1-1.3h2.2m13.4-3.6h2.3m-15.7-4.9h2.3m8.9-1.2h2.2m6.8 0h2.2m-20.1-2.4h2.2m4.5 0h2.2m-13.4-2.4h2.2m31.3 0h2.3m-35.8-1.3h2.2m22.4-3.6h2.2m0-1.2h2.3m-15.7-3.7h2.2m31.3 0h2.3m-17.9-1.2h2.2m6.7 0h4.5m-8.9-1.2h2.2m-15.6-1.2h2.2m26.8-2.5h2.2m-15.6-1.2h2.2m9-1.2h2.2m4.5-1.2h2.2m-13.4-1.2h2.2m15.7-2.4h2.2m-11.2-2.5h2.3m-6.7-2.4h2.2m4.5 0h2.2m-15.6-1.2h4.4m2.3 0h4.4m2.3 0h2.2m11.2 0h2.2m-4.4-1.2h4.4m-6.7-1.3h6.7m-2.2-1.2h2.2m-31.3-1.2h2.3m2.2 0h6.7m4.5 0h2.2m4.5-1.2h4.5m2.2 0h2.2m-8.9-3.6h2.2m4.5-1.3h2.2m-6.7-1.2h2.3" stroke="#46c06f" stroke-width="1.34"/>
<path d="M66 682.4h2.2m-4.5-1.3h2.3m0-2.4h2.2m-2.2-1.2h2.2m-2.2-9.7h2.2m-13.4-1.2h2.2m17.9 0h2.3m-15.7-1.3h4.5m11.2 0h2.2m-20.1-1.2h2.2m4.5-1.2h2.2m6.7 0h2.3m-11.2-4.8h4.4m-4.4-1.3h4.4m15.7 0h2.2m0-3.6h2.3m-11.2-1.2h2.2m9 0h2.2m-11.2-1.2h2.3m4.4 0h2.3m-9-1.3h2.3m-11.2-1.2h2.2m13.4-1.2h2.3m8.9-1.2h4.5m-17.9-1.2h2.2m17.9 0h2.2m-17.8-1.2h2.2m11.2-6.1h2.2m2.2 0h2.3m-4.5-2.4h2.2m0-1.3h2.3m2.2 0h2.3m-4.5-2.4h2.2m-4.5-1.2h2.3m-2.3-1.2h2.3m2.2-1.2h2.3m6.7-2.5h2.2m-15.7-1.2h2.3m4.5-1.2h2.2m8.9-4.9h4.5" stroke="#5ec962" stroke-width="1.34"/>
<path d="M66 683.6h2.2m0-8.5h2.2m-2.2-3.7h4.5m-17.9-2.4h6.7m6.7-1.2h4.5m2.2-2.5h2.3m-13.5-1.2h2.3m8.9 0h2.3m-4.5-1.2h2.2m-6.7-2.4h4.5m6.7 0h2.2m-8.9-1.2h2.2m-17.9-1.2h2.3m11.1-1.3h4.5m13.4-4.8h2.3m0-2.5h2.2m-22.4-1.2h2.3m4.5 0h6.7m6.7-1.2h2.2m4.5-1.2h2.2m4.5-1.2h2.2m-11.2-1.2h2.3m6.7 0h4.4m-4.4-1.3h2.2m-11.2-1.2h4.5m6.7 0h2.2m-8.9-2.4h2.2m0-1.2h2.3m6.7-3.7h2.2m0-1.2h2.3m4.4-4.8h2.3m-6.7-1.3h2.2m-4.5-2.4h2.3m13.4 0h2.2m-8.9-1.2h2.2m-4.5-1.2h2.3m6.7 0h2.2m-11.2-1.2h2.3" stroke="#77d153" stroke-width="1.34"/>
<path d="M66 672.6h2.2m-13.4-2.4h2.2m11.2-1.2h2.2m-13.4-2.4h2.3m6.7-1.3h2.2m-2.2-1.2h2.2m9 0h2.2m-2.2-2.4h2.2m2.2-2.4h2.3m-13.5-1.2h2.3m13.4-4.9h2.2m-4.4-1.2h2.2m0-1.2h2.2m-13.4-2.5h2.3m6.7 0h2.2m13.4 0h2.2m-13.4-3.6h2.3m11.1-2.5h2.3m-2.3-3.6h2.3m4.4 0h2.3m-2.3-3.6h4.5m2.3 0h2.2m-2.2-2.5h6.7m-2.3-1.2h2.3m-9-1.2h2.3m2.2-3.7h2.2m-4.4-1.2h4.4m6.7-3.6h2.3m-9-2.4h2.3m6.7 0h2.2m-8.9-2.5h2.2m0-1.2h2.2" stroke="#95d840" stroke-width="1.34"/>
<path d="M63.7 682.4h2.3m-11.2-1.3h8.9m0-3.6h2.3m0-1.2h2.2m-2.2-4.9h2.2m-2.2-1.2h4.4m-4.4-1.2h2.2m-8.9-2.4h2.2m11.2 0h2.2m-6.7-1.3h2.2m0-2.4h2.3m0-2.4h2.2m0-1.2h2.3m-4.5-1.2h2.2m11.2 0h2.2m-4.4-1.3h2.2m-4.5-3.6h2.3m0-2.4h2.2m-2.2-1.3h2.2m6.7 0h2.2m-8.9-1.2h2.2m9 0h2.2m-6.7-1.2h2.2m-2.2-1.2h2.2m-4.4-1.2h2.2m6.7-1.2h4.5m-6.7-1.3h4.4m-2.2-1.2h2.2m2.3 0h2.2m0-2.4h2.2m2.3-1.2h2.2m2.3-3.7h2.2m2.2-3.6h2.3m-9-1.2h2.3m2.2 0h2.2m2.3 0h2.2m-8.9-1.2h4.4m-4.4-3.7h4.4m6.7 0h2.3m-4.5-3.6h2.2m2.3-4.9h2.2" stroke="#b2dd2d" stroke-width="1.34"/>
<path d="M61.5 684.8h2.2m0-1.2h2.3m-9-8.5h2.3m6.7 0h2.2m0-1.2h2.2m-15.6-2.5h2.2m0-1.2h4.5m2.2 0h2.3m-4.5-1.2h2.2m0-1.2h2.3m-4.5-1.2h2.2m9-1.3h2.2m-4.5-1.2h2.3m4.5-7.3h2.2m15.6-10.9h2.3m4.4-1.2h2.3m2.2-7.3h2.2m4.5-2.4h2.3m-2.3-3.7h6.7m-4.4-2.4h2.2m2.2 0h2.3m-2.3-3.7h2.3m0-1.2h2.2m2.2-4.8h2.3m0-2.5h2.2m-4.5-1.2h2.3" stroke="#d2e21b" stroke-width="1.34"/>
<path d="M54.8 684.8h6.7m-6.7-1.2h8.9m-8.9-1.2h8.9m-8.9-2.5h13.4m-13.4-1.2h11.2m-11.2-1.2h8.9m-8.9-1.2h11.2m-11.2-1.2h2.2m2.3 0h6.7m-11.2-1.2h13.4m-11.2-1.3h9m-9-1.2h9m-4.5-1.2h2.2m0-1.2h2.3m-2.3-2.4h9m-2.3-1.3h2.3m-4.5-1.2h2.2m2.3 0h2.2m0-3.6h4.5m-2.2-1.2h4.4m-6.7-1.2h11.2m-11.2-1.3h2.3m2.2 0h4.5m0-3.6h2.2m0-1.2h2.2m-2.2-2.5h4.5m-2.3-1.2h9m-4.5-3.6h8.9m-8.9-1.2h2.2m2.3 0h2.2m2.2-2.5h2.3m0-2.4h2.2m9-8.5h4.4m0-6.1h2.3m2.2 0h2.2m-4.4-2.4h4.4m-4.4-2.4h4.4m-2.2-2.5h4.5" stroke="#f1e51d" stroke-width="1.34"/>
<line x1="52.6" y1="685.4" x2="54.8" y2="685.4" stroke="#444" stroke-width="0.6"/>
<text x="51.4" y="687.8" font-size="7" text-anchor="end" fill="#222" stroke="#222" stroke-width="0.15">0</text>
<line x1="52.6" y1="669.5" x2="54.8" y2="669.5" stroke="#444" stroke-width="0.6"/>
<text x="51.4" y="671.9" font-size="7" text-anchor="end" fill="#222" stroke="#222" stroke-width="0.15">25</text>
<line x1="52.6" y1="652.7" x2="54.8" y2="652.7" stroke="#444" stroke-width="0.6"/>
<text x="51.4" y="655.1" font-size="7" text-anchor="end" fill="#222" stroke="#222" stroke-width="0.15">50</text>
<line x1="52.6" y1="635.9" x2="54.8" y2="635.9" stroke="#444" stroke-width="0.6"/>
<text x="51.4" y="638.3" font-size="7" text-anchor="end" fill="#222" stroke="#222" stroke-width="0.15">75</text>
<line x1="52.6" y1="619.4" x2="54.8" y2="619.4" stroke="#444" stroke-width="0.6"/>
<text x="51.4" y="621.8" font-size="7" text-anchor="end" fill="#222" stroke="#222" stroke-width="0.15">100</text>
<line x1="55.56" y1="685.4" x2="55.56" y2="687.6" stroke="#444" stroke-width="0.6"/>
<line x1="78.36" y1="685.4" x2="78.36" y2="687.6" stroke="#444" stroke-width="0.6"/>
<line x1="100.4" y1="685.4" x2="100.4" y2="687.6" stroke="#444" stroke-width="0.6"/>
<line x1="123.96" y1="685.4" x2="123.96" y2="687.6" stroke="#444" stroke-width="0.6"/>
<text x="95.8" y="605.7" font-size="8.7" text-anchor="middle" font-weight="bold" fill="#222" stroke="#222" stroke-width="0.07">Attend-to-vision</text>
<text x="96.8" y="700" font-size="8.6" text-anchor="middle" fill="#222" stroke="#222" stroke-width="0.15">Delay period</text>
<rect x="135.6" y="614.9" width="5.4" height="70.5" fill="url(#vir)"/>
<line x1="141" y1="614.9" x2="143" y2="614.9" stroke="#444" stroke-width="0.6"/>
<line x1="141" y1="685.4" x2="143" y2="685.4" stroke="#444" stroke-width="0.6"/>
<text x="144.4" y="618.1" font-size="8.6" fill="#222" stroke="#222" stroke-width="0.15">1</text>
<text x="144.4" y="688.6" font-size="8.6" fill="#222" stroke="#222" stroke-width="0.15">0</text>
<rect x="175.7" y="616.5" width="76.1" height="70.5" fill="#1f958b"/>
<path d="M177.9 665.7h2.3" stroke="#46085c" stroke-width="1.34"/>
<path d="M177.9 675.5h2.3m2.2-9.8h2.3" stroke="#481a6c" stroke-width="1.34"/>
<path d="M175.7 676.7h2.2m2.3-1.2h11.2m-13.5-4.9h2.3m-4.5-1.2h2.2m2.3-3.7h2.2m2.3 0h4.4m2.3 0h4.4m-4.4-1.2h2.2m40.3-29.2h2.2m9-10.9h2.2" stroke="#482979" stroke-width="1.34"/>
<path d="M177.9 685.2h2.3m2.2 0h4.5m-2.2-2.5h2.2m-9-4.8h2.3m-2.3-1.2h2.3m2.2 0h2.3m-9-1.2h2.2m13.5 0h4.4m2.3 0h2.2m-6.7-2.5h2.2m-15.6-2.4h2.2m17.9-1.2h2.3m-4.5-2.5h2.2m-24.6-1.2h2.2m11.2 0h2.3m4.4 0h6.8m-24.7-1.2h4.5m2.3 0h4.4m56-20.7h2.2m-6.7-6h2.2m-17.9-2.5h2.3m4.5 0h2.2m13.4 0h2.3m-2.3-10.9h4.5m-4.5-2.4h2.3" stroke="#453781" stroke-width="1.34"/>
<path d="M175.7 685.2h2.2m2.3 0h2.2m4.5 0h2.2m-2.2-2.5h6.7m-13.4-1.2h4.5m-9-3.6h2.2m11.2-1.2h2.3m4.4-1.2h2.3m4.5 0h2.2m-26.9-2.5h2.3m4.5 0h4.4m6.7 0h2.3m4.5 0h2.2m-29.1-2.4h2.2m4.5 0h2.3m2.2 0h2.2m-8.9-1.2h2.2m13.4 0h4.5m2.3 0h4.4m-29.1-1.2h2.3m-2.3-1.3h4.5m2.3 0h2.2m13.4 0h4.5m2.2 0h2.3m-6.7-1.2h2.2m6.7 0h2.3m-38.1-1.2h2.2m4.5 0h2.3m4.4 0h2.3m8.9 0h2.3m40.2-10.9h2.3m-2.3-9.8h2.3m4.5 0h2.2m-4.5-1.2h2.3m-6.8-2.4h2.3m2.2 0h4.5m-6.7-1.2h4.5m-2.3-1.2h2.3m-6.8-1.2h2.3m-15.7-1.3h2.3m6.7 0h4.4m2.3 0h2.2m2.3-2.4h2.2m-13.4-4.9h4.4m-4.4-3.6h6.7m2.2-4.9h4.5" stroke="#404588" stroke-width="1.34"/>
<path d="M189.1 685.2h2.3m-15.7-2.5h2.2m2.3 0h4.5m11.1 0h6.8m-26.9-1.2h2.2m4.5-1.2h2.3m4.4 0h4.5m-8.9-1.2h2.2m2.2 0h2.3m6.7 0h2.2m-17.9-1.2h2.3m2.2 0h2.2m-8.9-1.2h2.2m2.3 0h4.4m2.3 0h8.9m0-1.2h2.3m2.2 0h4.5m-29.1-2.5h4.5m6.7 0h2.2m4.5 0h2.2m-15.6-2.4h2.2m2.2 0h2.3m2.2 0h4.5m-20.2-1.2h2.3m2.2 0h4.5m4.5 0h4.4m-20.1-1.2h2.2m4.5 0h2.3m11.1 0h2.3m8.9 0h2.3m-33.6-1.3h2.2m31.4 0h2.2m-6.7-1.2h6.7m4.5 0h2.2m-24.6-1.2h4.5m4.5 0h2.2m-20.1-2.4h2.2m0-1.2h2.2m20.2-2.5h4.5m31.3-4.8h2.2m-53.7-1.2h2.2m44.8 0h2.2m4.5 0h4.5m-17.9-3.7h2.2m2.3 0h2.2m2.2 0h2.3m2.2 0h2.3m-4.5-2.4h4.5m-11.2-1.2h2.2m6.7-1.3h2.3m0-1.2h2.2m-22.4-2.4h2.3m4.4 0h6.7m2.3 0h2.2m-11.2-1.2h2.3m4.4-1.2h4.5m-24.6-2.5h2.2m2.3 0h2.2m6.7 0h2.3m4.4 0h2.3m4.5 0h2.2m-6.7-1.2h2.2m2.3 0h2.2m-13.4-1.2h2.2m6.7 0h2.3m-4.5-2.4h4.5m-4.5-2.5h2.2m-2.2-6h2.2m2.3-1.2h2.2m-13.4-1.3h2.2m4.5 0h2.2" stroke="#3b528b" stroke-width="1.34"/>
<path d="M175.7 686.4h2.2m11.2 0h2.3m0-1.2h2.2m-15.7-2.5h2.3m13.4 0h2.2m-11.1-1.2h2.2m-11.2-1.2h2.2m2.3 0h2.2m2.3 0h4.4m-11.2-1.2h2.3m13.4 0h4.5m2.2 0h2.3m-22.4-1.2h2.2m9 0h2.2m15.7-2.4h2.2m2.3 0h4.4m-29.1-2.5h2.3m8.9 0h2.3m2.2 0h2.2m-31.3-1.2h4.5m17.9-1.2h4.5m2.2 0h4.5m2.2 0h2.3m-26.9-1.2h4.5m15.6 0h2.3m-24.6-1.2h4.4m4.5 0h2.2m2.3 0h2.2m4.5 0h2.2m4.5 0h4.5m-33.6-1.3h2.3m8.9 0h4.5m6.7 0h2.2m4.5 0h2.3m0-1.2h2.2m4.5 0h2.2m-24.6-1.2h2.2m4.5 0h4.5m2.2 0h2.3m-18-1.2h2.3m2.2 0h4.5m-15.7-1.2h9m-2.3-1.2h4.5m2.3-1.2h2.2m9 0h2.2m-15.7-1.3h2.3m2.2-1.2h2.2m2.3-3.6h2.2m20.2 0h2.2m4.5 0h4.4m4.5 0h4.5m-49.2-1.2h2.2m29.1 0h2.2m6.7 0h4.5m-26.8-1.3h2.2m20.1 0h2.3m-13.4-2.4h2.2m11.2 0h2.2m2.3-2.4h2.2m-11.2-1.2h6.7m-6.7-1.3h2.2m0-1.2h2.3m4.5-1.2h2.2m-11.2-2.4h4.5m4.5 0h2.2m-17.9-1.2h2.2m13.5 0h2.2m-17.9-1.2h2.2m4.5 0h2.2m2.3 0h2.2m-4.5-2.5h2.3m2.2 0h2.3m-6.8-1.2h4.5m-13.4-4.9h4.5m4.4 0h2.3m2.2 0h4.5m-11.2-1.2h2.2m2.3 0h6.7m-20.1-2.4h2.2m15.7-2.4h2.2m-4.5-1.2h2.3m-6.8-1.3h2.3m4.5-2.4h2.2" stroke="#355e8d" stroke-width="1.34"/>
<path d="M184.7 686.4h2.2m6.7 0h6.7m-6.7-1.2h2.2m-20.1-1.2h2.2m9 0h2.2m4.5 0h2.2m2.3 0h2.2m-22.4-2.5h2.3m6.7 0h2.2m2.3 0h2.2m0-1.2h2.2m2.3 0h2.2m-20.1-1.2h4.5m2.2 0h2.2m13.5 0h2.2m-15.7-1.2h2.3m2.2 0h2.2m2.3 0h2.2m2.3-1.2h4.4m4.5-1.2h2.3m-35.9-1.3h4.5m9 0h2.2m13.4-1.2h2.3m4.5 0h2.2m-33.6-1.2h2.3m4.4 0h6.7m2.3 0h6.7m-13.4-1.2h2.2m20.2 0h2.2m-6.7-1.2h2.2m-31.3-1.2h2.2m9 0h2.2m6.7 0h4.5m4.5 0h2.2m4.5 0h2.2m-31.3-1.3h6.7m22.4 0h2.2m0-1.2h2.3m-11.2-1.2h2.2m2.3 0h4.4m2.3 0h2.2m-42.5-1.2h2.2m4.5 0h2.2m2.3 0h4.4m2.3 0h2.2m-17.9-1.2h2.3m2.2 0h2.2m11.2 0h4.5m2.2 0h2.3m-26.9-1.2h2.3m4.4 0h4.5m-8.9-1.2h4.4m2.3 0h2.2m4.5 0h2.2m4.5 0h4.5m2.2 0h2.3m2.2 0h2.2m2.3 0h2.2m4.5 0h2.2m-44.7-1.3h2.2m2.2 0h2.3m11.2 0h6.7m-9-1.2h4.5m31.3 0h2.3m-44.8-3.6h4.5m6.7 0h2.2m-26.8-1.2h2.2m4.5 0h6.7m2.2 0h4.5m6.7 0h2.3m4.5 0h4.4m2.3 0h4.4m2.3 0h2.2m2.3 0h2.2m2.2 0h2.3m-15.7-1.3h2.2m4.5 0h2.3m4.4 0h4.5m4.5 0h6.7m-24.6-2.4h2.2m6.7 0h2.3m2.2 0h2.2m6.8 0h2.2m-4.5-1.2h2.3m-15.7-1.2h4.5m2.2 0h4.5m-15.7-1.2h6.7m-2.2-1.3h6.7m-2.2-1.2h4.4m2.3 0h2.2m-15.6-1.2h2.2m2.2 0h13.5m-17.9-1.2h4.4m-4.4-1.2h4.4m-6.7-1.2h2.3m4.4 0h4.5m-2.2-1.2h2.2m6.7 0h2.3m-33.6-1.3h6.7m4.5-1.2h13.4m-6.7-1.2h4.5m2.2 0h2.2m-6.7-2.4h2.3m2.2 0h4.5m4.5 0h2.2m-9-3.7h2.3m0-1.2h2.2m-13.4-1.2h4.5m8.9-1.2h4.5m-11.2-1.2h2.2m2.3-1.2h2.2m-13.4-1.3h2.2m4.5 0h2.2m2.3-2.4h2.2" stroke="#306a8e" stroke-width="1.34"/>
<path d="M182.4 686.4h2.3m2.2 0h2.2m2.3 0h2.2m6.7-1.2h2.3m2.2 0h2.2m-29.1-1.2h2.3m2.2 0h4.5m8.9 0h2.3m4.5-1.3h4.4m-17.9-1.2h2.3m-13.5-1.2h2.3m15.6 0h2.3m-22.4-1.2h2.2m13.5 0h2.2m11.2 0h4.5m-24.6-1.2h2.2m8.9 0h2.3m2.2 0h2.3m-2.3-1.2h2.3m4.4 0h2.3m8.9-1.2h4.5m-47-1.3h2.2m9 0h2.2m4.5 0h11.2m-29.1-1.2h2.2m31.4 0h4.5m-33.6-1.2h2.2m13.4 0h2.3m6.7 0h2.2m2.3 0h2.2m-8.9-1.2h2.2m4.5 0h2.2m4.5 0h2.2m-6.7-1.2h2.3m4.4 0h2.3m-31.4-1.2h2.3m22.4-1.3h2.2m2.2 0h2.3m6.7-1.2h2.2m-11.2-1.2h2.3m8.9 0h2.3m-42.6-1.2h2.3m13.4 0h4.5m11.2 0h2.2m-44.8-1.2h2.3m17.9 0h2.2m4.5 0h2.2m4.5 0h4.5m-31.3-1.2h2.2m13.4 0h4.5m2.2 0h4.5m6.7 0h2.3m2.2 0h2.2m2.3 0h4.5m-51.5-1.2h2.2m6.7 0h2.3m2.2 0h4.5m2.2 0h2.3m6.7 0h2.2m11.2 0h2.2m-47-1.3h6.8m2.2 0h2.2m2.3 0h8.9m13.5 0h8.9m9 0h2.2m2.2 0h2.3m-40.3-1.2h2.2m11.2 0h4.5m15.7 0h2.2m-56-1.2h2.3m51.5 0h2.2m2.2 0h4.5m0-1.2h2.2m-55.9-1.2h6.7m4.5 0h6.7m6.7 0h4.5m11.2 0h2.2m-51.5-1.2h2.3m2.2 0h4.5m13.4 0h2.3m2.2 0h2.2m2.3 0h2.2m13.4 0h2.3m2.2 0h2.3m6.7 0h2.2m-26.8-1.3h6.7m4.4 0h4.5m-6.7-2.4h2.2m4.5 0h2.3m13.4-1.2h2.2m2.3 0h2.2m-24.6-1.2h2.2m6.7-1.2h2.3m8.9 0h2.3m-20.2-1.3h2.3m-9-1.2h4.5m4.5 0h6.7m-11.2-1.2h2.2m4.5 0h2.2m-13.4-1.2h6.7m-4.5-1.2h4.5m9 0h2.2m-15.7-1.2h2.3m4.5 0h2.2m-2.2-1.2h2.2m2.2 0h2.3m11.2 0h2.2m-42.5-1.3h2.2m2.3 0h2.2m-4.5-1.2h2.3m2.2 0h2.2m4.5 0h4.5m13.4 0h2.2m-8.9-2.4h4.5m8.9 0h2.3m-15.7-1.2h2.2m2.3 0h2.2m-13.4-2.5h6.7m0-1.2h6.7m2.2-1.2h2.3m2.2 0h4.5m-24.6-1.2h2.2m13.4-1.2h4.5m-4.5-1.2h2.3m-4.5-1.2h4.5m-9-1.3h2.3m8.9-1.2h2.3m-13.5-1.2h2.3m2.2 0h4.5m2.2 0h2.3" stroke="#2b748e" stroke-width="1.34"/>
<path d="M177.9 686.4h4.5m17.9 0h6.7m-11.2-1.2h4.5m2.3 0h2.2m6.7 0h2.3m4.4 0h2.3m-40.3-1.2h2.2m6.7 0h4.5m6.7 0h6.7m0-1.3h4.5m4.5 0h2.2m4.5 0h2.2m-31.3-1.2h2.2m6.8-3.6h4.4m-24.6-3.7h2.3m4.4 0h2.3m13.4 0h2.2m-22.3-2.4h4.4m17.9 0h2.3m8.9-1.2h4.5m-8.9-1.2h2.2m2.2-1.2h4.5m0-1.3h2.2m-2.2-1.2h2.2m9 0h4.5m-15.7-1.2h2.2m-49.2-1.2h2.2m6.8 0h2.2m22.4 0h2.2m2.3 0h2.2m13.4 0h4.5m-53.7-1.2h2.2m26.9 0h2.2m4.5 0h4.5m-42.6-1.2h4.5m11.2 0h2.2m18 0h2.2m8.9 0h2.3m4.5 0h2.2m-56-1.2h2.3m38 0h2.3m4.4 0h2.3m15.6-1.3h2.3m2.2 0h4.5m-73.9-1.2h4.5m13.4 0h2.3m8.9 0h4.5m9 0h2.2m4.5 0h4.5m2.2 0h2.2m2.3 0h2.2m2.2 0h2.3m2.2 0h4.5m-69.4-1.2h2.3m15.6 0h2.3m15.6 0h2.3m4.4 0h2.3m2.2 0h2.3m2.2 0h2.2m4.5 0h2.2m-49.2-1.2h2.2m6.8 0h2.2m31.3 0h2.3m6.7 0h2.2m-40.3-1.2h2.3m13.4 0h2.2m4.5 0h2.3m2.2 0h4.5m-26.9-1.2h2.3m4.4 0h2.3m-42.6-1.3h2.3m29.1 0h4.5m17.9 0h4.4m4.5 0h2.2m2.3-1.2h2.2m-29.1-1.2h2.3m22.3-1.2h2.3m-20.2-1.2h2.3m2.2 0h4.5m4.5 0h2.2m-15.7-1.2h2.3m22.4 0h2.2m-31.3-1.3h8.9m2.3 0h2.2m-17.9-1.2h4.5m6.7 0h4.5m-2.3-1.2h2.3m-13.5-1.2h2.3m8.9-1.2h2.3m-22.4-4.9h2.2m2.3 0h2.2m2.2 0h2.3m0-1.2h2.2m2.2 0h2.3m2.2 0h2.3m-6.8-1.2h2.3m4.5 0h2.2m4.5 0h6.7m-13.4-1.2h2.2m-2.2-3.7h2.2m6.7-1.2h2.2m-13.4-1.2h2.3m8.9-1.2h2.2m-4.4-1.2h2.2m-11.2-2.5h4.5m11.2-1.2h2.2m-15.6-1.2h2.2" stroke="#27808e" stroke-width="1.34"/>
<path d="M207 686.4h6.8m-4.5-1.2h2.2m-4.5-1.2h2.3m4.5-1.3h2.2m2.2 0h2.3m-24.7-1.2h2.3m2.2 0h2.3m2.2 0h2.2m-6.7-1.2h2.3m6.7-1.2h2.2m-4.5-1.2h2.3m2.2-1.2h4.5m2.2 0h2.3m2.2-1.2h2.2m-40.2-1.3h2.2m20.1 0h2.3m2.2-2.4h2.3m8.9-1.2h2.2m-4.4-1.2h4.4m2.3 0h2.2m-4.5-3.7h2.3m2.2 0h4.5m-9-1.2h4.5m6.7 0h2.3m-56-1.2h2.3m26.8 0h2.3m2.2 0h4.5m2.2 0h6.7m-6.7-1.2h2.2m9 0h2.2m-31.3-1.2h2.2m4.5 0h2.3m2.2 0h2.2m2.3 0h2.2m11.2 0h2.2m-53.7-1.2h2.3m44.7 0h2.3m4.4 0h2.3m-15.7-1.3h9m6.7 0h4.4m2.3 0h2.2m-62.6-1.2h8.9m22.4 0h4.5m2.2 0h4.5m13.4 0h2.2m2.3 0h2.2m-67.1-1.2h2.2m2.3 0h13.4m15.7 0h4.4m9 0h2.2m13.4 0h2.3m2.2 0h4.5m-71.6-1.2h2.2m4.5 0h2.2m6.7 0h6.8m4.4 0h2.3m24.6 0h2.2m2.3 0h2.2m9 0h2.2m-73.9-1.2h9m29.1 0h6.7m2.2 0h2.3m-47-2.5h4.5m2.2 0h2.2m9 0h2.2m2.3 0h6.7m17.9-1.2h2.2m11.2 0h2.2m4.5 0h4.5m-42.5-1.2h2.2m2.3 0h2.2m8.9 0h2.3m4.5-1.2h4.4m2.3 0h4.4m-38-1.2h2.2m13.5 0h2.2m-6.7-1.2h2.2m-11.2-1.3h2.3m8.9 0h2.3m-11.2-1.2h2.2m2.3 0h2.2m4.5 0h2.2m2.2-1.2h2.3m-40.3-1.2h4.5m8.9 0h2.3m-17.9-1.2h2.2m24.6 0h2.3m6.7 0h4.4m-13.4-1.2h13.4m2.3 0h2.2m-4.5-1.2h6.8m-24.7-1.3h2.3m2.2 0h2.3m-9-1.2h4.5m11.2 0h2.2m-8.9-1.2h2.2m11.2 0h2.2m-2.2-1.2h4.5m17.9 0h2.2m-22.4-1.2h2.3m-6.8-2.5h2.3m2.2-1.2h2.3m-9-2.4h2.2m11.2-2.4h2.3m0-3.7h6.7m4.5 0h2.2m-17.9-1.2h2.2m2.3 0h2.2" stroke="#228b8d" stroke-width="1.34"/>
<path d="M213.8 686.4h2.2m-9-1.2h2.3m4.5 0h2.2m-6.7-1.2h4.5m-2.3-1.3h2.3m6.7 0h2.2m-24.6-1.2h2.2m2.3 0h2.2m2.2 0h2.3m-6.7-1.2h4.4m4.5-1.2h2.3m-4.5-1.2h2.2m-2.2-1.2h2.2m4.5 0h2.2m6.7-1.2h2.3m-17.9-1.3h4.5m2.2-1.2h4.5m-6.7-1.2h2.2m8.9-1.2h4.5m-4.5-1.2h2.3m-4.5-1.2h2.2m4.5 0h2.3m-11.2-1.3h2.2m15.7-1.2h2.2m4.5 0h4.5m-17.9-1.2h4.4m2.3 0h2.2m6.7 0h2.3m-71.7-1.2h2.3m53.7 0h2.2m-15.6-1.2h2.2m2.2 0h2.3m4.5-2.4h4.4m9 0h6.7m-17.9-1.3h2.2m-53.7-1.2h2.3m8.9 0h2.2m6.8-1.2h2.2m15.7 0h4.4m20.2 0h2.2m-64.9-1.2h2.3m4.4 0h2.3m13.4 0h2.2m6.8 0h2.2m2.2 0h6.7m4.5 0h4.5m8.9 0h2.3m2.2 0h2.3m-60.5-3.7h6.7m4.5 0h2.3m20.1-1.2h4.5m2.2 0h6.7m-44.7-1.2h2.2m4.5 0h2.2m2.3 0h6.7m6.7 0h2.2m2.3 0h2.2m6.7-1.2h2.3m4.4 0h2.3m-35.8-1.2h2.2m9 0h2.2m6.7 0h2.2m-13.4-1.2h4.5m6.7 0h2.2m-38-1.3h2.2m6.7 0h2.3m17.9 0h2.2m-38-1.2h2.2m29.1 0h2.3m8.9-1.2h2.2m-31.3-1.2h4.5m6.7 0h4.5m2.2 0h2.3m2.2 0h2.2m2.3 0h2.2m-40.3-1.2h2.3m6.7 0h2.2m9 0h2.2m9 0h2.2m-9-1.2h4.5m-2.2-1.2h2.2m9 0h4.4m-24.6-1.3h6.7m-6.7-1.2h4.5m0-1.2h2.2m9 0h2.2m4.5 0h2.2m6.8 0h2.2m11.2-1.2h2.2m-24.6-1.2h2.2m2.3 0h2.2m4.5-1.2h4.5m2.2 0h11.2m-13.4-3.7h2.2m-15.7-1.2h2.3m6.7-1.2h6.7m-6.7-1.2h2.2m-4.4-1.2h2.2m2.2 0h4.5m-15.7-1.3h4.5m6.7-1.2h2.3" stroke="#1f958b" stroke-width="1.34"/>
<path d="M216 685.2h2.2m2.3 0h2.2m-8.9-1.2h2.2m8.9-1.3h2.3m-17.9-1.2h2.2m2.3 0h2.2m-9-1.2h9m0-1.2h2.2m-6.7-1.2h9m4.4-1.2h2.3m0-1.2h2.2m-15.6-1.3h2.2m0-2.4h2.2m-2.2-2.4h2.2m11.2 0h4.5m-9-1.2h2.3m-2.3-1.3h6.8m8.9-1.2h4.5m-4.5-1.2h2.2m2.3 0h2.2m-11.2-1.2h2.3m-11.2-1.2h2.2m17.9 0h2.3m-13.5-1.2h4.5m-2.2-1.2h4.4m-44.7-3.7h2.2m4.5 0h9m-29.1-1.2h2.2m4.5 0h2.2m15.7 0h4.5m2.2 0h2.2m6.7 0h4.5m-44.7-3.7h2.2m8.9 0h2.3m4.5-1.2h2.2m4.5 0h2.2m9 0h2.2m13.4 0h4.5m2.2 0h2.3m-56-1.2h2.3m2.2 0h4.5m2.2 0h2.3m8.9 0h2.3m-18-2.4h2.3m11.2 0h4.5m2.2 0h4.5m-17.9-1.2h4.4m2.3 0h2.2m6.7 0h4.5m4.5 0h2.2m-49.2-1.3h2.2m11.2 0h2.2m4.5 0h4.5m4.5 0h4.5m-35.9-1.2h2.3m22.4 0h2.2m6.7-1.2h2.3m4.4 0h2.3m-35.8-1.2h2.2m4.5 0h2.2m4.5 0h2.2m2.3 0h2.2m4.5 0h2.2m2.3 0h2.2m-29.1-1.2h4.5m2.2 0h2.2m2.3 0h2.2m4.5 0h2.2m2.3 0h2.2m4.5 0h4.5m-35.8-1.2h2.2m17.9 0h2.2m6.8-1.2h6.7m-42.6-1.3h6.8m2.2 0h2.2m6.7 0h4.5m2.3-2.4h2.2m2.2 0h2.3m2.2 0h2.3m4.4 0h2.3m2.2-1.2h2.2m-8.9-1.2h4.5m8.9-1.2h2.3m6.7 0h2.2m-35.8-1.3h2.2m4.5 0h11.2m4.5-1.2h2.2m2.3-1.2h2.2m2.2 0h2.3m-49.3-1.2h2.3m8.9 0h4.5m2.2 0h2.3m6.7 0h2.2m15.7-3.6h2.2m-13.4-1.3h2.2m6.8-1.2h2.2m-4.5-1.2h2.3" stroke="#1fa188" stroke-width="1.34"/>
<path d="M216 686.4h2.2m4.5-1.2h4.5m-11.2-1.2h2.2m9-1.3h6.7m2.2 0h2.3m-26.9-1.2h2.3m2.2 0h2.2m0-1.2h2.3m0-2.4h4.4m-4.4-1.2h4.4m4.5-1.2h6.7m6.7 0h4.5m-26.8-2.5h2.2m4.5 0h2.2m-11.2-1.2h2.3m8.9-1.2h2.3m13.4 0h2.2m-13.4-1.2h2.2m-8.9-1.2h2.2m2.3 0h2.2m-2.2-1.3h4.4m13.5-1.2h2.2m-9-1.2h2.3m4.5 0h2.2m-20.1-2.4h2.2m2.2 0h4.5m0-1.2h2.2m4.5 0h2.3m-6.8-1.2h2.3m-67.2-4.9h2.3m33.6-4.9h4.4m-40.3-1.2h2.3m26.8-1.2h2.3m2.2 0h9m4.4 0h4.5m-38-1.2h4.4m2.3 0h4.5m4.4 0h2.3m-31.4-1.2h2.3m4.5 0h2.2m13.4 0h2.3m4.4 0h2.3m-24.6-1.3h2.2m2.2 0h4.5m11.2 0h2.2m-24.6-1.2h2.3m15.6 0h2.3m4.4 0h2.3m-15.7-1.2h2.2m11.2 0h2.3m4.5 0h2.2m4.5 0h2.2m-42.5-1.2h2.2m-4.5-1.2h4.5m13.4 0h2.3m2.2 0h2.3m4.4 0h2.3m-31.4-1.2h2.3m22.4 0h2.2m2.2-1.2h2.3m2.2 0h2.3m-29.1-1.3h2.2m2.2 0h2.3m-6.7-1.2h4.4m2.3 0h8.9m17.9-2.4h2.3m0-1.2h2.2m2.2 0h2.3m0-1.2h2.2m2.3 0h2.2m-26.9-1.3h4.5m11.2 0h2.2m0-1.2h2.3m6.7-1.2h2.2m-53.7-1.2h2.3m8.9 0h2.2m9 0h2.2m11.2 0h4.5m4.5-1.2h6.7m-6.7-1.2h6.7m-9-4.9h4.5" stroke="#25ac82" stroke-width="1.34"/>
<path d="M227.2 685.2h2.2m-11.2-1.2h2.3m13.4-1.3h2.2m4.5 0h2.2m2.3 0h4.5m-35.8-3.6h2.2m2.2 0h2.3m8.9-1.2h2.3m0-1.2h2.2m2.2-1.2h4.5m6.7 0h4.5m-26.9-2.5h2.3m-6.7-1.2h8.9m2.3-1.2h2.2m15.7 0h2.2m-15.7-1.2h6.7m-6.7-2.5h2.3m0-3.6h2.2m-11.2-1.2h2.3m8.9 0h2.2m2.3 0h2.2m2.3 0h2.2m-9-1.2h2.3m-69.4-8.5h2.2m29.1-2.5h2.3m2.2 0h2.3m4.4 0h2.3m-40.3-1.2h2.2m2.3 0h4.4m15.7-1.2h2.2m2.3 0h2.2m9 0h2.2m-40.3-1.2h2.3m2.2 0h4.5m-9-1.2h2.3m2.2 0h2.2m9 0h2.2m-22.4-1.3h2.3m17.9 0h2.2m13.5 0h2.2m-31.3-1.2h8.9m4.5 0h2.2m4.5 0h2.2m-11.2-1.2h11.2m2.3 0h2.2m-33.6-1.2h2.3m2.2 0h2.3m-4.5-2.4h4.5m2.2 0h2.2m9 0h4.5m-11.2-2.5h4.4m-6.7-1.2h2.3m6.7-1.2h4.5m6.7 0h2.2m9-1.2h2.2m-11.2-1.2h4.5m-40.3-2.5h6.7m2.3 0h2.2m13.4 0h4.5m17.9-1.2h2.2m-38-2.4h2.2m2.3 0h2.2m2.2 0h4.5m9 0h6.7m11.2-3.6h4.5m2.2-2.5h2.2" stroke="#32b67a" stroke-width="1.34"/>
<path d="M218.2 686.4h2.3m8.9-1.2h2.3m17.9 0h2.2m-13.4-2.5h2.2m2.2 0h2.3m4.5 0h2.2m-35.8-2.4h2.2m2.3 0h2.2m-2.2-1.2h4.4m0-1.2h4.5m-2.2-1.2h4.5m2.2 0h4.5m4.4 0h2.3m-4.5-1.2h2.2m-26.8-1.3h2.2m4.5-1.2h2.2m9-1.2h4.5m-4.5-1.2h6.7m6.7 0h2.3m-15.7-2.4h2.2m2.3-1.3h2.2m2.2 0h2.3m-4.5-3.6h2.2m0-1.2h2.3m4.5-1.2h2.2m-71.6-11h2.2m4.5 0h4.5m2.2 0h2.2m2.3 0h4.5m2.2 0h2.2m-24.6-1.2h2.3m8.9-1.2h2.2m6.8 0h2.2m17.9 0h2.2m-44.7-1.2h2.2m-2.2-1.2h2.2m6.7 0h2.3m2.2 0h4.5m-15.7-1.3h2.3m11.1-1.2h2.3m-11.2-1.2h2.2m2.3 0h2.2m22.4 0h2.2m-29.1-3.6h4.5m2.2 0h2.3m-17.9-1.2h2.2m17.9 0h6.7m-29.1-2.5h2.3m6.7-1.2h2.2m4.5 0h4.5m15.7-1.2h4.4m-40.3-1.2h9m17.9 0h4.5m15.6-1.2h2.3m-44.8-1.3h2.3m2.2 0h2.2m2.3 0h8.9m20.2-1.2h2.2m6.7-1.2h2.3m-53.8-1.2h2.3m4.5 0h2.2m24.6-2.4h2.3m8.9 0h2.2m-6.7-2.5h4.5m4.5-1.2h2.2m-15.6-1.2h2.2m2.2 0h6.7" stroke="#46c06f" stroke-width="1.34"/>
<path d="M220.5 686.4h2.2m24.6-1.2h2.3m-24.7-1.2h2.3m-9-2.5h2.3m2.2-1.2h4.5m-2.3-1.2h2.3m6.7-1.2h4.5m4.4 0h2.3m-6.7-1.2h4.4m-22.3-2.5h2.2m2.2 0h2.3m2.2-1.2h9m-6.7-1.2h2.2m2.2-3.6h2.3m2.2-1.3h2.2m2.3 0h4.5m-6.8-3.6h4.5m2.3 0h2.2m-6.7-2.4h2.2m-71.6-9.8h2.2m0-1.2h2.3m2.2 0h2.3m6.7 0h2.2m2.2 0h2.3m-9-2.4h2.3m-6.7-1.2h2.2m4.5-1.2h2.2m0-2.5h2.2m-13.4-1.2h2.3m4.4 0h2.3m2.2-3.6h2.2m-17.9-1.2h2.3m17.9 0h2.2m-24.6-1.3h2.2m2.3-1.2h4.5m-4.5-1.2h4.5m4.4 0h4.5m9-2.4h2.2m4.5 0h2.2m-22.4-2.5h2.3m20.1-1.2h2.3m4.4 0h2.3m4.4-1.2h2.3m-47-1.2h2.2m40.3-1.2h2.2m-4.4-1.2h2.2m-11.2-1.2h2.3m2.2 0h2.2m2.3 0h6.7m-49.3-1.3h2.3m2.2 0h2.3m4.4 0h2.3m24.6 0h2.2m11.2-1.2h2.3m-20.2-1.2h2.3m2.2 0h2.2" stroke="#5ec962" stroke-width="1.34"/>
<path d="M222.7 686.4h4.5m17.9 0h2.2m2.3 0h2.2m-20.1-1.2h2.2m-13.4-1.2h2.2m26.9 0h2.2m-24.6-4.9h2.2m2.3-1.2h2.2m4.5 0h2.2m6.7-1.2h2.3m-31.4-2.5h2.3m6.7 0h2.2m11.2-1.2h4.5m2.2 0h2.3m-20.2-1.2h2.3m8.9-1.2h4.5m0-1.2h4.5m-9-1.2h4.5m4.5 0h2.2m-2.2-1.3h2.2m-4.5-3.6h2.3m-73.9-9.7h2.2m0-6.1h6.8m6.7 0h2.2m6.7 0h2.3m-24.7-1.2h2.3m-2.3-4.9h4.5m2.3 0h2.2m-4.5-4.8h2.3m4.4 0h2.3m4.4 0h2.3m-13.4-3.7h2.2m4.5-1.2h2.2m2.2 0h2.3m13.4 0h2.3m-24.7-1.2h2.3m2.2 0h2.2m2.3 0h2.2m20.2-1.2h4.4m-11.1-2.5h4.4m9-1.2h2.2m-53.7-1.2h2.2m33.6-1.2h9m-15.7-1.2h2.2m9 0h4.5m4.4 0h2.3m-20.2-1.2h4.5m2.3 0h2.2m2.2 0h2.3m-40.3-1.3h2.2m40.3-1.2h2.2m-22.3-1.2h2.2" stroke="#77d153" stroke-width="1.34"/>
<path d="M227.2 686.4h6.7m6.7 0h2.2m-8.9-1.2h2.2m2.3 0h2.2m2.2 0h4.5m-20.1-1.2h2.2m2.3 0h2.2m2.2 0h2.3m2.2 0h4.5m2.2 0h2.3m-29.1-2.5h4.4m2.3-1.2h4.5m0-1.2h4.4m9 0h2.2m-6.7-1.2h2.2m2.3 0h2.2m-2.2-1.2h2.2m2.3 0h2.2m-29.1-2.5h2.2m4.5 0h2.3m2.2 0h4.5m6.7-1.2h2.2m2.3 0h2.2m-13.4-1.2h2.2m2.2 0h2.3m2.2 0h2.3m-6.8-2.4h2.3m4.5 0h2.2m-13.4-1.2h2.2m4.5 0h2.2m-62.6-18.3h2.2m0-2.4h2.2m6.7 0h4.5m-24.6-7.3h2.2m-2.2-1.2h2.2m6.8-2.4h4.4m-11.2-3.7h2.3m-2.3-1.2h4.5m6.7 0h2.3m2.2 0h2.2m2.3 0h2.2m2.3 0h8.9m-24.6-1.2h2.2m2.3 0h2.2m2.2 0h2.3m2.2 0h2.3m6.7-3.7h2.2m6.7-1.2h2.3m-22.4-2.4h4.5m2.2 0h2.2m2.3 0h2.2m9 0h2.2m2.2 0h2.3m-29.1-1.2h2.2m6.7 0h2.3m4.5 0h2.2m-29.1-1.2h2.2m11.2 0h6.7m-31.3-1.3h2.2m13.5 0h2.2m6.7 0h2.3m6.7 0h6.7m8.9-1.2h2.3m-22.4-1.2h6.7" stroke="#95d840" stroke-width="1.34"/>
<path d="M238.4 686.4h2.2m2.2 0h2.3m2.2 0h2.3m-9-1.2h2.2m-20.1-1.2h2.2m4.5 0h2.3m2.2 0h2.2m2.3 0h2.2m4.5 0h2.2m-22.4-2.5h2.3m4.5-1.2h2.2m-4.5-1.2h2.3m4.4 0h9m2.2 0h4.5m-4.5-1.2h4.5m-11.2-3.7h2.2m-4.4-1.2h2.2m0-1.2h2.2m4.5-3.6h2.3m-73.9-30.4h2.2m13.5-1.2h4.4m-13.4-4.9h6.7m11.2 0h2.3m0-2.4h2.2m2.2 0h2.3m8.9 0h2.3m-42.6-2.5h4.5m2.3 0h2.2m6.7 0h2.2m6.8 0h2.2m4.5-1.2h2.2m4.5 0h2.2m4.5 0h2.2m-35.8-2.4h2.3m11.2 0h2.2m2.2 0h2.3m-29.1-1.2h4.5m2.2 0h2.2m2.3 0h2.2m2.2 0h2.3m2.2 0h4.5m-20.1-1.2h2.2m2.2 0h2.3m2.2 0h2.2m2.3 0h2.2m-15.6-1.3h4.4m13.5 0h2.2m2.2 0h2.3m8.9-1.2h4.5m-31.3-1.2h2.2m2.2 0h6.8" stroke="#b2dd2d" stroke-width="1.34"/>
<path d="M236.1 686.4h2.3m-2.3-1.2h2.3m-11.2-3.7h2.2m13.4-1.2h2.3m2.2 0h4.5m-20.1-6.1h2.2m11.2-2.4h2.2m2.3 0h2.2m-76.1-13.4h2.2m-2.2-1.2h2.2m6.8-9.7h2.2m-11.2-2.4h2.2m-2.2-2.5h2.2m-2.2-8.5h2.2m-2.2-3.6h2.2m35.9-1.2h4.4m-35.8-2.5h2.3m2.2 0h6.7m11.2 0h2.2m-2.2-1.2h4.5m2.2 0h4.5m4.5 0h2.2m-31.3-2.4h2.2m-15.7-1.2h2.3m4.5 0h2.2m2.2 0h2.3m2.2 0h2.2m13.5 0h2.2m-31.3-1.2h2.2m9 0h2.2m2.2 0h2.3m-4.5-1.3h6.7m4.5 0h2.2m-29.1-2.4h4.5m11.2 0h2.2" stroke="#d2e21b" stroke-width="1.34"/>
<path d="M233.9 686.4h2.2m-6.7-4.9h22.4m-17.9-1.2h8.9m2.3 0h2.2m-8.9-6.1h2.2m2.2 0h9m-76.1-12.1h2.2m-2.2-1.2h2.2m-2.2-1.2h2.2m-2.2-3.7h2.2m-2.2-1.2h2.2m-2.2-4.9h2.2m-2.2-1.2h2.2m-2.2-1.2h2.2m-2.2-1.2h2.2m-2.2-2.5h2.2m-2.2-2.4h2.2m-2.2-4.8h2.2m-2.2-3.7h2.2m-2.2-1.2h2.2m-2.2-2.4h26.9m2.2 0h2.2m2.3 0h4.5m-38.1-2.5h2.2m17.9 0h6.8m4.4 0h2.3m-33.6-1.2h29.1m-29.1-2.4h13.4m4.5 0h4.5m-22.4-1.2h2.2m-2.2-1.2h4.5m2.2 0h2.3m-9-2.5h42.5m-42.5-1.2h2.2m4.5 0h9" stroke="#f1e51d" stroke-width="1.34"/>
<line x1="173.5" y1="687" x2="175.7" y2="687" stroke="#444" stroke-width="0.6"/>
<text x="172.3" y="689.4" font-size="7" text-anchor="end" fill="#222" stroke="#222" stroke-width="0.15">0</text>
<line x1="173.5" y1="670.6" x2="175.7" y2="670.6" stroke="#444" stroke-width="0.6"/>
<text x="172.3" y="673" font-size="7" text-anchor="end" fill="#222" stroke="#222" stroke-width="0.15">25</text>
<line x1="173.5" y1="654.3" x2="175.7" y2="654.3" stroke="#444" stroke-width="0.6"/>
<text x="172.3" y="656.7" font-size="7" text-anchor="end" fill="#222" stroke="#222" stroke-width="0.15">50</text>
<line x1="173.5" y1="637.9" x2="175.7" y2="637.9" stroke="#444" stroke-width="0.6"/>
<text x="172.3" y="640.3" font-size="7" text-anchor="end" fill="#222" stroke="#222" stroke-width="0.15">75</text>
<line x1="173.5" y1="621.6" x2="175.7" y2="621.6" stroke="#444" stroke-width="0.6"/>
<text x="172.3" y="624" font-size="7" text-anchor="end" fill="#222" stroke="#222" stroke-width="0.15">100</text>
<line x1="176.46" y1="687" x2="176.46" y2="689.2" stroke="#444" stroke-width="0.6"/>
<line x1="199.29" y1="687" x2="199.29" y2="689.2" stroke="#444" stroke-width="0.6"/>
<line x1="221.36" y1="687" x2="221.36" y2="689.2" stroke="#444" stroke-width="0.6"/>
<line x1="244.95" y1="687" x2="244.95" y2="689.2" stroke="#444" stroke-width="0.6"/>
<text x="213" y="605.7" font-size="8.7" text-anchor="middle" font-weight="bold" fill="#222" stroke="#222" stroke-width="0.07">Attend-to-audition</text>
<text x="216.5" y="701.8" font-size="8.6" text-anchor="middle" fill="#222" stroke="#222" stroke-width="0.15">Delay period</text>
<rect x="256.9" y="616.5" width="5.1" height="70.5" fill="url(#vir)"/>
<line x1="262" y1="616.5" x2="264" y2="616.5" stroke="#444" stroke-width="0.6"/>
<line x1="262" y1="687" x2="264" y2="687" stroke="#444" stroke-width="0.6"/>
<text x="265.6" y="619.7" font-size="8.6" fill="#222" stroke="#222" stroke-width="0.15">1</text>
<text x="265.6" y="690.2" font-size="8.6" fill="#222" stroke="#222" stroke-width="0.15">0</text>
<rect x="311.4" y="616.6" width="76.4" height="71" fill="#1f958b"/>
<path d="M385.6 685.8h2.2m-24.7-1.3h24.7m-6.7-1.2h2.2m-22.5-1.2h18m2.3 0h6.7m-36-2.5h36m-11.2-1.2h2.2m4.5-1.2h2.3m-22.5-2.5h24.7m-2.2-1.2h2.2m-18-2.4h2.3m11.2 0h2.3m-11.3-2.5h6.8m2.2 0h4.5m-9-2.4h2.3m2.2 0h4.5m-13.5-3.7h2.3m6.7 0h2.3m0-1.2h2.2m-76.4-18.4h2.2m2.3-22h9m-13.5-1.2h2.2" stroke="#46085c" stroke-width="1.34"/>
<path d="M378.8 687h4.5m-9-1.2h2.3m2.2 0h2.3m2.2 0h2.3m-24.8-1.3h2.3m0-1.2h2.2m18 0h2.3m-27-1.2h2.2m18 0h2.3m-31.5-2.5h2.2m9-1.2h2.3m2.2 0h11.3m4.5 0h2.2m2.3 0h2.2m-27-3.7h2.3m2.2-1.2h4.5m11.3 0h2.2m0-1.2h2.3m0-1.2h2.2m-15.7-2.5h2.2m6.8 0h2.2m-11.2-2.4h6.7m2.3 0h2.2m-11.2-2.5h4.5m2.2 0h2.3m2.2 0h2.3m-6.8-1.2h2.3m4.5 0h2.2m-11.2-1.2h4.5m2.2 0h2.3m-6.8-3.7h2.3m2.2-4.9h2.3m-72-22h2.3m-4.5-4.9h2.2m-2.2-4.9h4.5m9 0h9m-18-1.2h4.5m2.2 0h2.3m0-1.3h2.2" stroke="#481a6c" stroke-width="1.34"/>
<path d="M376.6 687h2.2m4.5 0h2.3m-36-1.2h2.2m4.5 0h2.3m9 0h4.5m9 0h2.2m-29.2-1.3h6.7m0-1.2h2.3m4.5 0h2.2m6.8 0h4.5m0-2.4h2.2m2.3 0h2.2m-31.5-2.5h4.5m2.3 0h2.2m13.5 0h2.3m2.2 0h2.3m-4.5-1.2h2.2m2.3 0h2.2m-29.2-2.5h2.2m0-1.2h2.3m6.7 0h2.3m2.2 0h2.3m2.2 0h2.3m-13.5-1.2h2.2m9 0h2.3m4.5 0h2.2m-29.2-1.2h2.2m2.3 0h6.7m2.3 0h6.7m2.3 0h2.2m-27-2.5h2.3m6.7 0h2.3m2.2 0h2.3m-11.3-2.4h2.3m2.2 0h2.3m0-2.5h2.2m6.8 0h2.2m2.3-1.2h2.2m-9-1.2h2.3m4.5 0h2.2m2.3-2.5h2.2m-2.2-1.2h2.2m-9-8.6h4.5m2.3 0h2.2m-74.2-6.1h6.8m13.5 0h2.2m-24.7-7.3h2.2m2.3 0h2.2m-6.7-2.5h2.2m-2.2-2.4h2.2m2.3 0h2.2m15.8-9.8h2.2m-22.5-1.2h2.3m4.5 0h2.2m-11.2-1.3h2.2m2.3 0h2.2m4.5 0h2.3m2.2-1.2h2.3m4.5 0h2.2" stroke="#482979" stroke-width="1.34"/>
<path d="M369.8 687h2.3m2.2 0h2.3m9 0h2.2m-36-1.2h2.3m9 0h4.5m-18-1.3h4.5m-2.3-1.2h2.3m2.2 0h2.3m6.7 0h2.3m2.2 0h4.5m11.3 0h2.2m-31.5-1.2h2.3m2.2-1.2h2.3m15.7 0h2.3m2.2 0h2.3m-31.5-2.5h2.2m2.3-1.2h2.2m11.3 0h9m-11.3-1.2h2.3m-18-1.3h4.5m-2.3-1.2h4.5m2.3 0h2.2m6.8 0h2.2m2.3 0h2.2m4.5 0h2.3m-22.5-1.2h2.2m15.8 0h2.2m-4.5-1.2h2.3m-9-1.3h9m-22.5-1.2h2.2m2.3 0h2.2m-2.2-1.2h2.2m13.5 0h2.3m4.5 0h2.2m-29.2-1.2h2.2m2.3 0h2.2m4.5 0h2.3m6.7-1.2h2.3m0-1.3h2.2m-18-2.4h2.3m2.2 0h4.5m6.8-3.7h4.5m0-1.2h2.2m-2.2-1.2h2.2m-9-1.3h2.3m2.2 0h4.5m-13.5-1.2h9m2.3 0h2.2m-4.5-1.2h4.5m-4.5-2.5h2.3m-2.3-1.2h2.3m-56.2-4.9h4.5m49.4 0h2.3m-74.2-1.2h2.2m0-6.1h2.3m2.2 0h2.3m-6.8-2.5h2.3m-4.5-1.2h2.2m9-1.2h2.3m-13.5-1.2h2.2m-2.2-1.3h2.2m0-2.4h2.3m20.2-4.9h2.3m4.5 0h2.2m-20.2-1.2h2.2m2.3 0h2.2m-18-1.3h2.3m4.5 0h2.2m-11.2-1.2h9m4.5 0h2.2m2.3 0h2.2m4.5 0h4.5" stroke="#453781" stroke-width="1.34"/>
<path d="M345.1 685.8h2.3m6.7 0h2.2m2.3 0h4.5m9 0h2.2m2.3 0h2.2m-35.9-1.3h6.7m4.5-1.2h2.2m2.3 0h2.2m13.5 0h2.3m-24.8-1.2h4.5m2.3-1.2h2.2m2.3 0h2.2m4.5 0h6.8m-31.5-1.3h4.5m0-1.2h4.5m2.2-1.2h2.3m9 0h2.2m-2.2-1.2h2.2m13.5 0h2.3m-33.8-2.5h2.3m6.7-1.2h2.3m2.2 0h2.3m2.2 0h2.3m4.5 0h2.2m-22.5-1.2h2.3m2.2 0h2.3m18-1.3h4.5m-31.5-1.2h2.2m4.5 0h2.3m4.5 0h2.2m-11.2-1.2h2.2m4.5 0h2.3m2.2 0h6.8m6.7 0h2.3m-29.3-1.2h2.3m9 0h2.2m6.8-1.2h2.2m2.3 0h6.7m-18-1.3h2.3m13.5 0h2.2m-22.5-1.2h9m2.3 0h2.2m-11.2-1.2h2.2m11.3-2.5h4.5m-11.3-1.2h4.5m0-1.2h2.3m2.2-1.2h2.3m-18-1.3h2.2m4.5 0h4.5m2.3 0h2.2m-11.2-1.2h2.2m-62.9-3.7h2.2m2.3 0h4.5m53.9 0h4.5m2.3-1.2h2.2m2.3 0h2.2m-67.4-4.9h2.2m2.3 0h4.5m6.7 0h2.3m47.2 0h2.2m-74.2-3.7h2.3m0-6.1h4.5m0-2.4h2.2m2.3 0h2.2m-13.5-2.5h2.3m-2.3-1.2h2.3m0-1.2h6.7m-11.2-2.5h2.2m2.3 0h2.2m20.3-2.4h2.2m4.5 0h2.3m2.2 0h2.2m-24.7-1.2h2.3m-11.3-1.3h2.3m9 0h6.7m-15.7-1.2h4.5m6.7 0h2.3m6.7 0h2.3" stroke="#404588" stroke-width="1.34"/>
<path d="M360.8 687h2.3m2.2 0h4.5m2.3 0h2.2m-33.7-1.2h4.5m2.3 0h2.2m-9-1.3h2.3m4.5-1.2h4.4m-4.4-1.2h4.4m0-1.2h6.8m6.7 0h4.5m6.8 0h2.2m-35.9-1.3h2.2m9-2.4h2.2m4.5 0h6.8m2.2 0h2.3m0-1.2h2.2m2.3 0h4.5m4.5 0h2.2m-38.2-1.3h4.5m4.5-2.4h2.2m11.3 0h4.5m-22.5-1.2h2.2m9-1.3h6.8m13.5 0h2.2m-36-1.2h2.3m6.7-1.2h2.3m4.5 0h2.2m6.8 0h2.2m2.3 0h2.2m-9-2.4h2.3m-13.5-1.3h2.2m-2.2-1.2h2.2m-2.2-1.2h2.2m15.8-1.2h6.7m-13.5-1.3h4.5m-9-1.2h4.5m2.3-1.2h2.2m2.3 0h2.2m-13.5-1.2h2.3m6.7 0h4.5m-18-1.3h2.3m4.5 0h2.2m-4.5-1.2h2.3m0-1.2h2.2m2.3 0h2.2m2.3 0h2.2m2.3-1.2h2.2m-18-1.3h4.5m4.5-1.2h2.3m2.2-1.2h2.3m0-1.2h2.2m-65.2-2.5h2.3m13.5 0h4.5m29.2 0h2.2m2.3 0h2.2m2.3 0h2.2m-69.7-1.2h4.5m-2.2-2.5h6.7m-11.2-1.2h2.2m2.3 0h2.2m2.3-2.4h6.7m-9-1.2h2.3m11.2 0h2.3m-13.5-1.3h6.7m-13.5-1.2h2.3m2.2-1.2h2.3m-6.8-1.2h2.3m9 0h2.2m-4.5-1.3h2.3m-9-1.2h4.5m2.2 0h2.3m-2.3-1.2h2.3m-11.3-2.5h2.3m38.2-2.4h2.2m-22.4-1.2h2.2m2.3 0h2.2m-13.5-1.3h2.3m6.7 0h4.5m2.3-1.2h4.5" stroke="#3b528b" stroke-width="1.34"/>
<path d="M349.6 687h9m4.5 0h2.2m-20.2-3.7h2.3m-11.3-3.7h6.8m8.9-2.4h2.3m20.2-1.2h2.3m4.5 0h2.2m-29.2-2.5h2.2m0-1.2h2.3m-6.8-1.2h2.3m9-1.3h2.2m-9-2.4h2.3m-4.5-1.2h2.2m9-1.2h2.3m4.5 0h2.2m-9-1.3h2.3m-6.8-1.2h2.3m-4.5-1.2h2.2m18-1.2h2.3m-11.3-1.3h4.5m4.5 0h2.3m-11.3-2.4h6.8m6.7 0h2.3m-9-1.2h2.2m-9-1.3h2.3m-6.8-1.2h4.5m0-1.2h2.3m2.2 0h2.3m2.2-1.2h6.8m-72-1.3h2.3m6.7 0h2.3m51.7-1.2h2.2m6.8-1.2h2.2m-4.5-1.2h2.3m-2.3-1.3h2.3m-42.7-1.2h4.5m26.9 0h2.3m2.2 0h2.3m-60.7-1.2h2.2m-9-1.2h2.3m2.2 0h4.5m-11.2-1.3h2.2m9 0h2.3m-11.3-1.2h2.3m-4.5-1.2h2.2m13.5-1.2h2.3m-9-1.2h11.2m2.3 0h2.2m2.3 0h2.2m-13.5-3.7h4.5m-15.7-1.2h9m-9-1.3h2.2m2.3 0h2.2m2.3 0h6.7m-20.2-1.2h2.2m6.8 0h2.2m2.3 0h2.2m-2.2-1.2h6.7m-9-1.2h2.3m-6.8-1.3h6.8m-13.5-1.2h4.5m2.2 0h2.3m20.2-1.2h2.3m4.5 0h2.2m2.2 0h2.3m-22.5-1.2h2.3m2.2 0h2.3m9-2.5h4.4" stroke="#355e8d" stroke-width="1.34"/>
<path d="M345.1 682.1h2.3m-2.3-1.2h2.3m2.2 0h2.2m-17.9-1.3h2.2m11.3-1.2h2.2m-2.2-1.2h4.4m6.8-1.2h4.5m2.2 0h2.3m-18-2.5h2.2m-2.2-1.2h2.2m2.3 0h2.2m-8.9-1.2h4.4m6.8-1.3h4.5m-13.5-1.2h2.2m-2.2-2.4h2.2m15.8-1.2h4.5m-13.5-2.5h2.2m0-1.2h2.3m4.5-1.2h2.2m4.5 0h4.5m-15.7-1.3h2.2m2.3 0h2.2m-4.5-2.4h2.3m4.5-1.2h4.5m-11.3-3.7h2.3m11.2 0h2.3m-4.5-1.2h2.2m-58.4-1.3h2.2m2.3 0h2.2m40.5 0h2.2m-58.4-1.2h2.2m65.2-1.2h2.3m-67.5-1.2h4.5m63 0h2.2m-71.9-1.3h9m65.2 0h2.2m-20.2-1.2h2.2m-51.7-1.2h2.3m2.2 0h4.5m56.2 0h4.5m-76.4-1.2h2.2m2.3 0h2.2m4.5 0h6.8m-11.3-2.5h2.3m-6.8-1.2h6.8m9-1.2h4.5m-22.5-1.2h6.7m9-1.3h4.5m-15.7-1.2h4.5m2.2 0h2.3m2.2-2.4h4.5m4.5 0h2.3m-20.3-1.3h2.3m11.2 0h2.3m0-2.4h2.2m2.3 0h2.2m-29.2-1.2h2.2m15.8 0h2.2m-15.7-2.5h2.2m2.3 0h2.2m4.5 0h2.3m26.9-1.2h4.5m-20.2-1.2h2.3m4.5 0h2.2m-6.7-1.3h4.5m2.2 0h2.2m0-1.2h6.8" stroke="#306a8e" stroke-width="1.34"/>
<path d="M345.1 687h2.3m11.2 0h2.2m-22.4-2.5h2.2m2.3-1.2h2.2m-2.2-1.2h2.2m2.3-1.2h2.2m-6.7-2.5h2.2m0-1.2h2.3m15.7-1.2h2.2m-22.4-1.3h6.7m2.2-2.4h2.3m-2.3-6.1h2.3m9-1.2h2.2m-6.7-1.3h4.5m-6.8-1.2h2.3m-2.3-1.2h2.3m2.2-2.5h2.3m2.2 0h2.3m0-1.2h2.2m-6.7-1.2h2.2m2.3 0h2.2m-2.2-1.2h2.2m-58.4-2.5h2.2m49.5 0h2.2m9-2.4h2.3m-47.2-1.3h2.2m33.7 0h2.3m-54-1.2h2.3m58.4 0h2.3m-65.2-1.2h2.2m2.3 0h2.2m2.3 0h2.2m58.5 0h2.2m-71.9-1.2h2.2m6.8 0h4.5m53.9 0h2.3m-60.7-1.3h2.2m24.8-1.2h8.9m6.8 0h4.5m2.2 0h2.3m-45-1.2h4.5m-2.2-1.2h4.5m2.2 0h2.3m4.5 0h4.5m-22.5-1.3h4.5m53.9 0h4.5m-67.4-1.2h2.2m13.5-2.4h2.3m6.7 0h2.3m-11.3-1.2h2.3m2.2 0h2.3m-11.3-1.3h4.5m-15.7-1.2h2.2m4.5 0h2.3m2.2 0h6.8m-6.8-1.2h4.5m-2.2-1.2h2.2m2.3 0h2.2m-4.5-1.3h9m2.3 0h2.2m-22.5-1.2h6.8m-2.3-1.2h2.3m2.2 0h2.3m6.7 0h4.5m-31.5-1.2h4.5m4.5 0h2.3m4.5 0h4.5m-9-1.3h2.2m-9-1.2h4.5m2.3 0h4.5m9-2.4h4.5m-6.8-1.3h2.3m4.5 0h2.2" stroke="#2b748e" stroke-width="1.34"/>
<path d="M342.9 687h2.2m2.3 0h2.2m-15.7-1.2h6.7m0-3.7h2.3m-13.5-2.5h2.2m9-1.2h2.3m2.2 0h2.3m6.7-2.4h4.5m-11.2-2.5h2.2m-2.2-1.2h2.2m-4.5-1.2h2.3m6.7-1.3h2.2m-8.9-1.2h2.2m4.5-1.2h2.2m6.8-7.3h4.5m4.5 0h2.2m-15.7-1.3h2.2m-49.4-4.9h2.2m47.2 0h4.5m-51.7-1.2h2.3m2.2 0h2.3m40.4 0h2.3m4.5-1.2h2.2m0-1.2h4.5m-47.2-1.3h2.3m2.2 0h2.3m29.2 0h2.2m6.8-1.2h2.2m-60.7-1.2h2.3m2.2 0h2.3m56.2 0h2.2m-60.7-1.2h2.3m4.5 0h4.5m51.7-1.3h2.2m-51.7-2.4h2.3m2.2 0h4.5m-6.7-1.2h2.2m2.3 0h2.2m42.7 0h4.5m-58.4-1.3h2.2m2.3 0h2.2m-6.7-1.2h4.5m6.7 0h2.3m-22.5-1.2h4.5m2.2 0h2.3m4.5 0h2.2m4.5-1.2h2.3m4.5 0h2.2m-4.5-1.2h2.3m-22.5-2.5h2.2m11.3 0h6.7m-9-1.2h2.3m2.2 0h4.5m-13.5-1.2h2.3m0-1.3h2.2m15.7 0h2.3m-20.2-1.2h2.2m4.5-1.2h4.5m4.5 0h2.2m-35.9-1.2h2.2m6.8 0h2.2m4.5 0h2.3m-9-1.3h4.5m4.5-1.2h4.5m22.4-1.2h4.5m-15.7-1.2h2.2m2.3 0h2.2m2.3 0h2.2m0-2.5h2.3" stroke="#27808e" stroke-width="1.34"/>
<path d="M338.4 682.1h2.2m-13.5-2.5h2.3m2.2 0h2.3m9-6.1h4.5m8.9-3.7h2.3m-13.5-1.2h2.3m0-2.4h2.2m6.7-2.5h2.3m-4.5-2.4h2.2m0-1.2h4.5m9 0h2.3m-13.5-2.5h2.2m4.5 0h2.3m-51.7-3.7h2.2m2.3 0h4.5m33.7 0h2.2m-44.9-1.2h2.2m2.3 0h6.7m31.5 0h2.2m-44.9-1.2h2.2m2.3 0h4.5m-13.5-1.2h2.2m2.3-2.5h4.5m49.4 0h2.3m-47.2-1.2h2.2m2.3-1.2h2.2m2.3 0h2.2m-13.5-1.3h2.3m53.9 0h2.3m-47.2-2.4h2.2m42.7 0h4.5m-42.7-1.2h2.3m38.2 0h2.2m-51.7-1.3h2.3m11.2 0h4.5m31.5 0h2.2m-60.7-1.2h6.8m-4.5-1.2h2.2m11.3 0h2.2m2.3 0h2.2m-11.2-1.2h2.2m2.3 0h2.2m2.3 0h2.2m-2.2-1.2h2.2m4.5 0h2.2m-13.4-1.3h6.7m-15.7-1.2h2.2m13.5 0h2.3m-9-1.2h2.2m4.5 0h4.5m-9-1.2h2.3m2.2-1.3h2.3m2.2 0h2.2m2.3 0h4.5m-20.2-1.2h2.2m-2.2-2.4h6.7m-13.5-1.3h2.3m4.5 0h2.2m-2.2-1.2h2.2m11.2-2.4h2.3m2.2 0h2.3m2.2 0h2.3m-11.3-1.3h2.3m6.7 0h2.3m-4.5-1.2h2.2m2.3 0h4.5" stroke="#228b8d" stroke-width="1.34"/>
<path d="M340.6 687h2.3m-11.3-1.2h2.3m2.2-1.3h2.3m0-1.2h4.5m0-2.4h2.2m-22.5-1.3h2.3m22.5-3.6h2.2m2.2 0h2.3m-9-3.7h2.3m0-2.5h6.7m-2.3-2.4h2.3m6.7-2.4h2.3m-9-1.3h2.2m-4.5-1.2h4.5m4.5-2.4h2.3m-9-1.3h4.5m2.2-1.2h4.5m0-2.4h2.3m-54-1.3h2.3m11.2 0h4.5m-4.5-1.2h4.5m-20.2-1.2h4.5m2.2 0h2.3m4.5 0h2.2m33.7 0h4.5m-51.7-1.2h2.3m2.2 0h2.3m9 0h2.2m36 0h2.2m-35.9-1.3h2.2m-15.7-1.2h2.2m2.3 0h2.2m2.3 0h2.2m36 0h2.2m-47.2-1.2h2.3m2.2 0h4.5m40.5 0h4.5m-2.3-1.2h4.5m-22.5-2.5h4.5m-20.2-1.2h6.8m-11.3-2.5h2.3m4.5 0h2.2m4.5 0h2.2m-17.9-1.2h2.2m6.8 0h2.2m-15.7-1.2h4.5m2.2 0h2.3m2.2 0h2.3m4.5 0h2.2m36-1.2h2.2m-40.4-1.2h2.2m-13.5-1.3h2.3m9 0h6.7m-6.7-1.2h2.2m36 0h2.2m-38.2-1.2h2.2m-8.9-1.2h8.9m-15.7-2.5h2.3m9 0h4.4m0-1.2h6.8m-45-1.2h2.3m29.2 0h4.5m-15.7-1.3h2.2m6.8 0h2.2m2.3 0h2.2m-9-1.2h4.5m20.2-1.2h2.3m-4.5-1.2h4.5m-13.5-1.3h2.2m18-1.2h2.3" stroke="#1f958b" stroke-width="1.34"/>
<path d="M333.9 684.5h2.2m0-1.2h2.3m-2.3-1.2h2.3m2.2-1.2h2.3m-24.8-1.3h2.3m20.2-2.4h4.5m-4.5-2.5h2.3m0-2.4h2.2m-2.2-1.2h2.2m4.5-3.7h2.2m-38.2-1.2h2.3m40.4-1.2h2.3m-6.8-1.3h2.3m-40.5-1.2h2.3m-4.5-4.9h4.5m44.9-1.2h2.3m0-1.2h2.2m-40.4-1.3h2.2m4.5-1.2h2.3m-6.8-1.2h2.3m-13.5-1.2h2.2m4.5 0h4.5m38.2 0h2.3m-6.8-1.3h2.3m-36-1.2h2.3m2.2 0h2.3m-2.3-1.2h2.3m4.5 0h2.2m-9-1.2h2.3m-9-1.3h2.2m4.5 0h2.3m4.5 0h2.2m33.7 0h4.5m-31.4-3.6h4.4m24.8 0h4.5m-42.7-1.3h4.5m8.9 0h4.5m22.5 0h2.3m-45-1.2h2.3m6.7 0h4.5m-4.5-1.2h2.3m2.2 0h2.2m2.3-1.2h2.2m-4.5-1.2h4.5m24.8 0h6.7m-42.7-1.3h2.3m11.2 0h2.2m-11.2-1.2h4.5m-2.3-1.2h4.5m-15.7-3.7h2.3m2.2 0h2.3m4.4 0h4.5m2.3-1.2h2.2m-11.2-1.2h2.2m-15.7-1.3h2.3m2.2 0h2.3m2.2 0h2.3m2.2 0h2.2m2.3 0h4.5m-13.5-1.2h2.3m20.2-1.2h2.2m-13.5-2.5h2.3m4.5 0h2.2m2.3-1.2h6.7m11.3 0h2.2" stroke="#1fa188" stroke-width="1.34"/>
<path d="M338.4 687h2.2m-29.2-7.4h2.2m2.3 0h2.2m6.8 0h2.2m6.8-1.2h2.2m2.3 0h2.2m9-2.4h2.2m-13.4-1.3h2.2m2.3-4.9h2.2m-33.7-1.2h4.5m-4.5-2.4h2.2m4.5 0h2.3m24.7 0h2.3m11.2-1.2h2.2m-49.4-1.3h2.2m36 0h2.2m-40.4-1.2h2.2m2.3 0h2.2m31.5 0h2.2m-40.4-1.2h2.2m6.8 0h2.2m-6.7-2.5h4.5m2.2 0h2.3m31.4-1.2h2.3m-47.2-1.2h2.2m42.7 0h2.3m-40.5-2.5h2.3m11.2 0h2.3m22.4 0h2.3m-2.3-1.2h2.3m0-1.2h2.2m-40.4-1.2h2.2m4.5 0h2.3m2.2 0h2.3m29.2 0h2.2m-29.2-1.3h2.3m2.2 0h2.3m13.4 0h4.5m-38.2-1.2h2.3m13.5 0h2.2m-6.7-1.2h2.2m29.2 0h2.3m2.2 0h2.3m-33.7-1.2h2.2m31.5 0h2.2m-47.2-1.3h4.5m29.2-1.2h2.3m13.5-1.2h2.2m-27-1.2h4.5m20.3-1.3h2.2m-40.4-1.2h2.2m45-1.2h2.2m-38.2-1.2h4.5m2.2 0h2.3m11.2 0h2.3m9 0h4.5m-29.3-1.2h4.5m20.3-1.3h2.2m2.3 0h2.2m-36-3.6h2.3m-11.2-2.5h2.2m11.2 0h2.3m4.5-1.2h2.2m-13.5-2.5h2.3m-6.7-1.2h2.2m20.2-1.2h2.3m13.5 0h2.2m-29.2-2.5h2.2m4.5 0h6.8m9-1.2h2.2" stroke="#25ac82" stroke-width="1.34"/>
<path d="M329.4 685.8h2.2m0-1.3h2.3m-2.3-2.4h2.3m4.5-1.2h2.2m-27-1.3h2.3m4.5 0h2.2m13.5-1.2h2.3m6.7-2.4h2.3m-6.8-2.5h2.3m-2.3-1.2h2.3m-31.5-1.2h2.2m24.8 0h4.5m2.2-1.3h2.3m-29.3-1.2h4.5m15.8 0h2.2m2.3 0h2.2m2.3-1.2h2.2m-33.7-1.2h2.2m2.3 0h2.2m20.3 0h2.2m6.7-1.2h4.5m-35.9-2.5h2.2m-9-1.2h2.3m35.9 0h2.3m0-1.2h2.2m-44.9-1.3h4.5m4.5 0h2.2m2.3 0h2.2m22.5 0h4.5m-38.2-1.2h2.2m4.5 0h4.5m31.5-1.2h2.2m0-1.2h2.3m-9-1.3h2.2m-22.4-1.2h2.2m-6.7-1.2h4.5m4.5-2.5h2.2m-6.7-1.2h4.5m2.2 0h2.3m-6.8-1.2h2.3m24.7 0h2.2m2.3 0h2.2m-29.2-1.2h2.3m26.9 0h2.3m-38.2-1.3h4.5m9-2.4h2.2m2.2 0h2.3m18 0h4.5m-13.5-1.2h2.2m9-1.3h2.3m-27-1.2h4.5m29.2 0h4.5m-36-1.2h2.3m6.7-1.2h2.3m2.2 0h2.3m11.2 0h2.3m-15.8-1.2h2.3m11.2 0h2.3m-27-1.3h2.2m22.5 0h2.3m2.2 0h2.3m-29.3-1.2h2.3m-2.3-1.2h2.3m-4.5-1.2h2.2m2.3-1.3h4.5m-4.5-1.2h2.2m0-1.2h2.3m22.5 0h2.2m-29.2-2.5h2.2m-11.2-1.2h2.2m31.5-1.2h2.3m-18-1.2h6.7m2.3 0h2.2m0-2.5h2.3m2.2 0h2.3" stroke="#32b67a" stroke-width="1.34"/>
<path d="M331.6 683.3h2.3m0-1.2h2.2m0-1.2h2.3m-6.8-2.5h2.3m4.5-1.2h2.2m-6.7-2.5h4.5m-2.3-1.2h2.3m2.2-3.7h2.3m-27-1.2h2.2m6.8 0h2.2m9 0h2.3m2.2 0h2.3m-29.3-4.9h4.5m0-1.2h2.3m2.2 0h2.3m-9-1.2h4.5m-6.8-1.2h2.3m38.2-2.5h2.2m-42.7-1.2h4.5m36 0h2.2m-35.9-1.2h2.2m36 0h2.2m-26.9-1.3h2.2m13.5 0h4.5m-18-1.2h2.3m17.9-1.2h2.3m-24.7-1.2h4.5m4.5-1.3h2.2m20.2-1.2h2.3m-31.5-2.4h2.3m2.2-1.3h4.5m27 0h2.2m-24.7-2.4h2.2m18 0h2.3m-15.8-1.2h2.3m15.7 0h2.3m-6.8-1.3h4.5m-20.2-1.2h2.2m24.8-1.2h4.5m-27-1.2h2.2m0-1.2h2.3m9 0h6.7m-22.5-1.3h2.3m2.2 0h2.3m13.5 0h2.2m-24.7-1.2h2.2m27 0h2.3m-27-1.2h2.2m-4.5-1.2h2.3m2.2-2.5h2.3m-11.3-2.4h2.3m-2.3-2.5h4.5m15.8-1.2h4.5m9-1.2h2.2m-11.2-2.5h2.2" stroke="#46c06f" stroke-width="1.34"/>
<path d="M324.9 685.8h4.5m4.5-2.5h2.2m-6.7-4.9h2.2m4.5-1.2h2.3m4.5-1.2h2.2m-33.7-1.3h2.2m2.3 0h4.5m11.2 0h2.3m4.5-2.4h2.2m-27-1.2h2.3m2.2 0h2.3m15.7 0h2.3m-15.8-2.5h2.3m6.7 0h2.3m-18-1.2h2.2m4.5-1.2h2.3m2.2 0h2.3m20.2-1.2h2.2m-31.4-1.3h4.5m15.7 0h2.3m4.5 0h2.2m-2.2-1.2h2.2m-27-1.2h2.3m24.7 0h2.2m-35.9-1.2h4.5m31.4 0h2.3m-27-1.3h2.3m-11.3-1.2h4.5m6.8 0h4.5m17.9 0h2.3m-36-1.2h2.3m-9-1.2h9m2.2 0h2.3m29.2-2.5h2.2m-2.2-1.2h2.2m0-1.2h2.3m2.2 0h2.3m-22.5-3.7h6.8m-4.5-1.2h2.2m2.3 0h2.2m2.2 0h2.3m13.5 0h2.2m0-1.3h2.3m-18-2.4h2.2m2.3-1.2h2.2m4.5 0h6.8m-15.8-1.3h2.3m-2.3-1.2h4.5m-6.7-1.2h2.2m18-1.2h4.5m-15.7-1.2h2.2m4.5 0h2.3m-13.5-2.5h4.5m22.5-1.2h2.2m-27-1.2h2.3m2.2-1.3h4.5m6.8 0h2.2m6.8 0h2.2m-33.7-3.6h6.7m0-1.3h2.3m-6.8-1.2h2.3m2.2 0h2.3m18-1.2h2.2m-9-1.2h2.3m6.7 0h2.3" stroke="#5ec962" stroke-width="1.34"/>
<path d="M336.1 687h2.3m-27-1.2h2.2m15.8-1.3h2.2m-2.2-1.2h2.2m2.3-2.4h2.2m-20.2-2.5h2.2m13.5-1.2h2.3m-20.3-2.5h2.3m4.5 0h4.5m4.5 0h2.2m-20.2-1.2h2.2m6.8 0h2.2m4.5 0h2.3m4.5 0h2.2m2.3 0h2.2m-29.2-1.2h4.5m2.2 0h2.3m13.5 0h4.5m-22.5-1.2h2.2m13.5 0h2.3m4.5-1.3h2.2m-13.5-1.2h2.3m4.5 0h2.2m-24.7-1.2h2.2m31.5 0h2.3m-22.5-1.2h2.2m2.3 0h2.2m13.5-1.2h2.3m-29.3-1.3h2.3m9 0h2.2m4.5 0h2.3m4.5 0h4.5m-11.3-1.2h9m-20.2-1.2h2.2m20.3 0h2.2m-38.2-1.2h2.2m15.8-1.3h4.5m-6.8-1.2h2.3m18 0h4.4m-31.4-1.2h2.2m33.7-1.2h2.3m-22.5-1.3h4.5m6.8 0h2.2m2.2-1.2h2.3m-18-1.2h2.3m0-1.2h4.5m11.2 0h2.2m-11.2-1.3h2.3m6.7 0h2.2m-13.4-1.2h2.2m18 0h2.2m-6.7-1.2h2.2m-15.7-1.2h2.3m8.9 0h4.5m4.5 0h2.3m-20.2-1.3h4.4m13.5-2.4h4.5m2.3-1.2h2.2m-13.5-1.3h4.5m13.5-1.2h4.5m-20.2-4.9h2.2m2.3 0h2.2m4.5 0h2.3m4.5-2.4h2.2m0-1.2h2.3m-22.5-1.3h2.2m4.5 0h2.3m13.5-1.2h2.2m-22.5-1.2h4.5m-9-1.2h6.8m-4.5-1.3h2.2m-6.7-1.2h2.2m15.8-1.2h4.5m-9-2.5h4.5" stroke="#77d153" stroke-width="1.34"/>
<path d="M333.9 687h2.2m-22.5-1.2h11.3m0-1.3h4.5m-9-1.2h2.2m-11.2-1.2h2.2m15.8 0h2.2m-9-3.7h2.3m4.5-1.2h2.2m9-1.2h2.3m-29.3-2.5h6.8m4.5-2.4h2.2m-15.7-1.3h2.2m2.3 0h2.2m13.5 0h2.3m-4.5-1.2h2.2m-18-1.2h2.3m2.2 0h2.3m18-1.2h4.5m-31.5-1.2h2.2m33.8 0h2.2m-24.7-1.3h2.2m11.3 0h2.2m-11.2-1.2h4.5m11.2 0h2.3m-20.3-1.2h4.5m-11.2-1.2h2.2m24.8 0h2.2m-13.5-1.3h2.3m6.7 0h4.5m-13.5-1.2h2.3m-15.8-1.2h6.8m22.4 0h2.3m-29.2-1.2h2.2m11.3-2.5h2.2m9 0h2.2m-17.9-1.2h2.2m6.8-1.2h2.2m2.3 0h4.4m6.8 0h2.2m-13.4-1.3h2.2m2.2 0h2.3m2.2-2.4h2.3m2.2-1.2h4.5m-20.2-1.3h2.3m20.2 0h2.2m-9-2.4h2.3m-2.3-1.2h2.3m-4.5-1.3h2.2m0-1.2h2.3m-6.8-1.2h2.3m4.5-1.2h2.2m2.3 0h2.2m2.3 0h2.2m-6.7-1.2h2.2m9-2.5h2.3m-20.3-1.2h2.3m2.2 0h2.3m-9-1.2h2.2m20.3 0h2.2m2.3 0h2.2m-13.5-1.3h2.3m6.7 0h2.3m-22.5-1.2h2.2m18 0h2.3m-4.5-2.4h2.2m2.3 0h2.2m-24.7-2.5h2.2m13.5-2.4h4.5m0-1.3h2.3" stroke="#95d840" stroke-width="1.34"/>
<path d="M313.6 682.1h2.3m11.2 0h2.3m-18-3.7h2.2m6.8 0h2.2m2.3 0h4.5m-18-1.2h2.2m11.3 0h4.5m4.5 0h2.2m-11.2-2.5h4.5m2.2-1.2h2.3m-18-1.2h2.2m4.5-1.2h2.3m9 0h2.2m-22.5-1.3h2.3m2.2 0h2.3m13.5 0h2.2m-6.7-2.4h2.2m6.8 0h6.7m-13.5-3.7h4.5m-11.2-1.2h4.5m4.5-1.2h2.2m9 0h2.3m-24.8-1.2h2.3m24.7 0h2.2m-17.9-2.5h2.2m9 0h2.3m-20.3-2.4h2.3m11.2-2.5h4.5m2.3 0h2.2m2.2-1.2h2.3m-4.5-2.5h2.2m9-1.2h2.3m-15.7-1.2h2.2m2.2 0h4.5m4.5 0h2.3m-13.5-1.2h2.2m2.3 0h2.2m9-6.2h4.5m6.8-1.2h2.2m-2.2-1.2h4.5m-15.8-3.7h2.3m2.2 0h4.5m-6.7-1.2h2.2m6.8 0h2.2m2.3 0h2.2m-20.2-1.2h2.2m18 0h2.3m-22.5-1.2h2.2m2.3 0h2.2m2.3-1.3h2.2m6.8 0h2.2m-11.2-2.4h4.5m-9-1.2h2.2m13.5 0h2.3m-20.3-1.3h2.3m18 0h2.2m-6.7-1.2h2.2m-6.7-3.7h4.5m4.5 0h2.2" stroke="#b2dd2d" stroke-width="1.34"/>
<path d="M311.4 684.5h2.2m-2.2-1.2h4.5m2.2 0h2.3m4.5 0h2.2m-11.2-1.2h9m6.7-1.2h2.3m-20.3-2.5h2.3m2.2-1.2h2.3m2.2 0h2.3m0-3.7h2.2m2.3 0h2.2m-11.2-1.2h4.5m4.5 0h2.2m-11.2-1.2h2.2m4.5 0h4.5m-11.2-1.3h2.2m4.5 0h2.3m6.7 0h2.3m-18-2.4h4.5m2.2 0h2.3m6.7 0h2.3m-6.8-1.2h2.3m2.2 0h2.3m4.5-1.2h2.2m-18-1.3h2.3m-4.5-3.6h2.2m18 0h2.3m-9-1.3h6.7m-4.5-4.9h4.5m-6.7-2.4h4.5m2.2 0h4.5m-4.5-1.2h2.3m-2.3-2.5h2.3m2.2-1.2h2.2m2.3-2.5h2.2m9 0h2.3m-11.3-2.4h2.3m4.5 0h2.2m9-3.7h2.3m-18-1.2h6.7m-2.2-4.9h4.5m0-1.2h2.2m-4.5-1.2h2.3m4.5 0h2.2m-9-2.5h2.3m2.2-1.2h2.3m4.5 0h2.2m2.3 0h4.5m-15.8-1.2h4.5m2.3 0h4.5m-15.8-2.5h4.5m4.5 0h2.3m6.7 0h2.3" stroke="#d2e21b" stroke-width="1.34"/>
<path d="M311.4 687h22.5m-20.3-2.5h11.3m-9-1.2h2.2m4.5 0h2.3m2.2 0h2.3m-4.5-1.2h2.2m-15.7-1.2h20.2m-13.5-2.5h2.3m-6.8-1.2h4.5m2.3 0h2.2m-11.2-1.2h29.2m-18-2.5h2.3m0-1.2h4.5m2.2 0h2.3m-11.3-2.5h4.5m2.3 0h2.2m-6.7-2.4h2.2m4.5 0h4.5m-2.2-1.2h2.2m-22.5-1.2h29.3m-9-2.5h2.2m-4.5-1.2h2.3m2.2 0h9m-18-1.2h18m-11.2-1.3h2.2m2.3-1.2h6.7m-15.7-1.2h22.4m-22.4-1.2h26.9m-11.2-1.3h2.3m-2.3-1.2h2.3m-4.5-1.2h2.2m4.5 0h2.2m0-1.2h2.3m-6.7-2.5h13.4m-9-3.7h2.3m2.2 0h9m-6.7-2.4h2.2m2.3-3.7h11.2m-9-1.2h11.3m-6.8-4.9h6.8m-6.8-1.2h11.3m-11.3-1.2h2.3m2.2 0h6.8m-2.3-1.3h2.3m-13.5-1.2h15.7m-4.5-1.2h2.3m-6.8-1.2h2.3m-9-1.3h18m-15.8-1.2h4.5m2.3 0h4.5m4.5 0h2.2m-6.7-3.7h2.2" stroke="#f1e51d" stroke-width="1.34"/>
<line x1="309.2" y1="687.6" x2="311.4" y2="687.6" stroke="#444" stroke-width="0.6"/>
<text x="308" y="690" font-size="7" text-anchor="end" fill="#222" stroke="#222" stroke-width="0.15">0</text>
<line x1="309.2" y1="670.8" x2="311.4" y2="670.8" stroke="#444" stroke-width="0.6"/>
<text x="308" y="673.2" font-size="7" text-anchor="end" fill="#222" stroke="#222" stroke-width="0.15">25</text>
<line x1="309.2" y1="654.4" x2="311.4" y2="654.4" stroke="#444" stroke-width="0.6"/>
<text x="308" y="656.8" font-size="7" text-anchor="end" fill="#222" stroke="#222" stroke-width="0.15">50</text>
<line x1="309.2" y1="638.1" x2="311.4" y2="638.1" stroke="#444" stroke-width="0.6"/>
<text x="308" y="640.5" font-size="7" text-anchor="end" fill="#222" stroke="#222" stroke-width="0.15">75</text>
<line x1="309.2" y1="621.3" x2="311.4" y2="621.3" stroke="#444" stroke-width="0.6"/>
<text x="308" y="623.7" font-size="7" text-anchor="end" fill="#222" stroke="#222" stroke-width="0.15">100</text>
<line x1="312.16" y1="687.6" x2="312.16" y2="689.8" stroke="#444" stroke-width="0.6"/>
<line x1="335.08" y1="687.6" x2="335.08" y2="689.8" stroke="#444" stroke-width="0.6"/>
<line x1="357.24" y1="687.6" x2="357.24" y2="689.8" stroke="#444" stroke-width="0.6"/>
<line x1="380.92" y1="687.6" x2="380.92" y2="689.8" stroke="#444" stroke-width="0.6"/>
<text x="350.2" y="605.8" font-size="8.7" text-anchor="middle" font-weight="bold" fill="#222" stroke="#222" stroke-width="0.07">Attend-to-vision</text>
<text x="354.6" y="700.7" font-size="8.6" text-anchor="middle" fill="#222" stroke="#222" stroke-width="0.15">Delay period</text>
<rect x="392.7" y="616.6" width="6.3" height="71" fill="url(#vir)"/>
<line x1="399" y1="616.6" x2="401" y2="616.6" stroke="#444" stroke-width="0.6"/>
<line x1="399" y1="687.6" x2="401" y2="687.6" stroke="#444" stroke-width="0.6"/>
<text x="402" y="619.8" font-size="8.6" fill="#222" stroke="#222" stroke-width="0.15">1</text>
<text x="402" y="690.8" font-size="8.6" fill="#222" stroke="#222" stroke-width="0.15">0</text>
<rect x="54.2" y="740.3" width="75.7" height="70.3" fill="#1f958b"/>
<path d="M121 803.7h2.2m2.2 0h4.5m-11.1-4.3h2.2m0-2.1h2.2m2.2-1.1h2.3m-15.6-1h2.2m4.5 0h2.2m2.2 0h2.2m-71.2-41.6h6.7" stroke="#46085c" stroke-width="1.19"/>
<path d="M109.9 810.1h4.4m13.4-2.2h2.2m-2.2-1h2.2m-11.1-3.2h2.2m2.2 0h2.2m-15.5-2.2h2.2m8.9 0h2.2m2.2-3.1h2.3m-2.3-1.1h4.5m-6.7-1.1h2.2m2.3 0h2.2m-13.4-1h2.3m6.6-4.3h4.5m-11.1-5.3h2.2m6.7-2.2h2.2m-2.2-2.1h2.2m-69-27.7h2.2m-8.9-2.1h2.2" stroke="#481a6c" stroke-width="1.19"/>
<path d="M105.4 810.1h2.2m17.8 0h4.5m-6.7-2.2h4.5m-22.3-1h4.5m13.3 0h4.5m-15.6-3.2h6.7m-6.7-2.2h2.2m0-2.1h2.2m4.5 0h4.4m2.3 0h2.2m-2.2-1h2.2m-22.3-1.1h2.3m4.4 0h2.2m6.7 0h2.2m-11.1-1.1h2.2m2.3 0h4.4m-8.9-1h2.2m4.5 0h2.2m4.5 0h2.2m-11.1-4.3h2.2m2.2 0h2.2m0-4.3h2.3m-8.9-3.2h2.2m4.4-2.1h2.3m-73.5-21.3h2.2m-2.2-4.3h2.2m-2.2-1h2.2m6.7-1.1h6.7m2.2 0h2.2m-17.8-2.1h2.3m4.4-4.3h2.2m6.7 0h2.2m-20-4.2h2.2m2.3 0h2.2m0-1.1h2.2" stroke="#482979" stroke-width="1.19"/>
<path d="M107.6 810.1h2.3m4.4 0h4.5m2.2 0h4.4m-22.2-3.2h2.2m11.1 0h6.7m-15.6-2.2h2.3m2.2 0h2.2m4.5 0h2.2m-17.8-3.2h2.2m2.2 0h2.3m8.9 0h2.2m2.2 0h2.2m-8.9-2.1h2.3m2.2-1h4.4m-22.2-1.1h2.2m4.5 0h2.2m4.4 0h4.5m-11.1-2.1h2.2m13.3 0h2.3m-11.2-2.2h2.3m2.2 0h2.2m-20-4.2h2.2m20 0h4.5m-2.2-1.1h2.2m-8.9-1.1h4.4m2.3 0h2.2m-13.4-1h2.3m4.4 0h2.2m2.3 0h2.2m-4.5-1.1h2.3m-29-1.1h2.3m2.2 0h2.2m17.8 0h4.5m-66.8-18.1h6.7m-8.9-9.6h2.2m2.2 0h2.2m-4.4-1h2.2m6.7-1.1h2.2m-13.3-2.1h6.6m6.7-1.1h2.2m-20-3.2h2.2m2.3 0h4.4m2.2 0h4.5m-13.4-4.2h2.3m-4.5-1.1h6.7m4.4 0h2.3" stroke="#453781" stroke-width="1.19"/>
<path d="M98.7 810.1h6.7m13.4 0h2.2m-8.9-2.2h2.2m4.5 0h4.4m-24.5-1h4.5m8.9 0h2.2m11.1-1.1h2.3m-2.3-1.1h2.3m-33.4-1h2.2m4.5 0h2.2m6.7 0h2.2m2.2-2.2h4.5m6.6 0h4.5m-17.8-2.1h2.2m11.1 0h2.3m-31.2-2.1h6.7m8.9 0h2.2m-2.2-1.1h2.2m2.2 0h2.3m-40.1-1h2.2m22.3 0h2.2m2.2 0h2.3m17.8-1.1h2.2m-15.6-1.1h2.2m2.3 0h2.2m2.2 0h4.5m-6.7-2.1h2.2m-13.3-2.1h2.2m11.1 0h2.2m-2.2-1.1h4.5m-11.2-1.1h4.5m-8.9-1h4.4m4.5 0h2.2m2.2 0h2.3m0-1.1h2.2m-22.3-1.1h2.3m4.4 0h2.2m4.5 0h2.2m0-2.1h2.2m-6.6-2.1h4.4m-69-13.9h4.5m-4.5-8.5h2.2m4.5 0h2.2m2.2 0h2.3m4.4 0h2.2m-17.8-1.1h2.3m2.2 0h2.2m-4.4-1h2.2m2.2 0h2.2m11.2-1.1h6.6m15.6 0h2.3m-33.4-2.1h2.2m-13.4-1.1h2.3m2.2 0h8.9m6.7 0h4.4m-24.5-3.2h2.3m-4.5-1h2.2m2.3 0h2.2m-2.2-1.1h2.2m6.7 0h2.2m-8.9-2.1h2.2m2.2 0h4.5m-6.7-1.1h2.2m-11.1-1.1h2.2" stroke="#404588" stroke-width="1.19"/>
<path d="M127.7 809h2.2m-13.4-1.1h2.3m-8.9-1h2.2m6.7-1.1h2.2m-20-1.1h6.6m2.3 0h2.2m2.2 0h4.5m2.2 0h2.2m4.5 0h2.2m-33.4-1h4.5m2.2 0h6.7m11.1-1.1h4.4m-24.4-1.1h2.2m2.2 0h2.2m6.7-1h2.2m2.3 0h2.2m2.2 0h2.2m-17.8-1.1h4.5m4.4-1h2.3m-24.5-1.1h2.2m-6.7-1.1h4.5m2.2 0h2.2m4.5 0h8.9m-6.7-1h2.2m11.2-1.1h4.4m-15.6-1.1h6.7m13.4 0h2.2m-33.4-2.1h2.2m4.5 0h4.4m4.5 0h2.2m-4.4-1.1h2.2m6.7 0h2.2m6.7 0h2.2m-28.9-1h2.2m8.9 0h2.2m4.5 0h4.4m-24.5-1.1h2.3m2.2 0h2.2m8.9 0h2.2m4.5 0h2.2m-15.6-1.1h2.3m2.2 0h2.2m-6.7-1h4.5m-15.6-2.2h2.2m13.4 0h2.2m2.2 0h2.3m6.6-1h2.3m-20.1-1.1h2.3m8.9 0h4.4m4.5-2.1h2.2m-8.9-1.1h2.2m4.5 0h2.2m-4.5-2.1h4.5m-71.2-10.7h2.2m6.7 0h2.2m-13.4-3.2h2.3m-2.3-2.1h6.7m-4.4-1.1h2.2m-6.7-1h4.5m6.6 0h4.5m-13.4-1.1h2.3m4.4 0h2.2m2.3 0h4.4m-4.4-1.1h6.6m2.3 0h2.2m-22.3-1h2.3m11.1 0h4.4m0-1.1h2.3m6.6 0h2.3m6.7 0h2.2m-29-2.1h2.3m-13.4-1.1h2.2m2.3 0h2.2m13.3 0h2.3m6.6 0h4.5m2.2 0h2.3m2.2 0h2.2m-26.7-3.2h2.2m-15.6-1h2.3m6.6 0h2.3m-11.2-1.1h2.3m2.2 0h6.7m-13.4-1.1h2.2m2.3 0h2.2m22.2-1h2.3m-17.8-1.1h2.2m4.4 0h2.3m-20.1-1.1h4.5" stroke="#3b528b" stroke-width="1.19"/>
<path d="M89.8 810.1h2.3m2.2 0h2.2m6.7-1.1h2.2m4.5 0h4.4m2.2 0h2.3m2.2 0h2.2m2.2 0h2.3m-17.8-1.1h2.2m2.2 0h2.2m-20-1h2.2m15.6 0h2.2m-4.4-1.1h6.7m2.2 0h2.2m-24.5-1.1h2.3m22.2 0h2.2m-42.3-1h11.2m20-1.1h2.2m2.3 0h2.2m-44.5-1.1h2.2m17.8 0h4.5m4.4-1h8.9m2.2 0h2.3m-31.2-1.1h2.2m8.9 0h2.3m2.2 0h4.4m2.3-1h2.2m2.2 0h2.2m2.3 0h2.2m-28.9-1.1h2.2m11.1 0h2.2m-13.3-1.1h2.2m2.2 0h4.5m-20.1-1h2.3m2.2 0h15.6m2.2-1.1h2.2m4.5 0h2.2m2.2 0h2.3m4.4 0h2.2m-22.2-1.1h4.4m15.6-1h2.2m2.3 0h2.2m-40.1-1.1h4.5m6.7 0h2.2m4.4 0h4.5m2.2 0h4.5m-6.7-1.1h2.2m6.7 0h2.2m-26.7-1h4.5m6.6 0h2.3m6.6 0h2.3m-8.9-1.1h4.4m2.2 0h4.5m-22.3-1.1h2.3m4.4 0h2.2m2.3 0h2.2m2.2 0h2.2m-13.3-1h2.2m0-1.1h2.2m13.4 0h4.4m-33.3-1.1h4.4m4.5 0h2.2m2.2 0h2.2m2.3-1h2.2m6.7 0h2.2m2.2 0h2.2m2.3 0h2.2m-33.4-1.1h2.2m13.4 0h2.2m-4.4-2.1h2.2m11.1 0h4.5m-8.9-1.1h2.2m2.2 0h2.2m-2.2-2.1h2.2m-55.6-10.7h4.4m-20-2.1h2.2m-2.2-1.1h2.2m2.3 0h2.2m2.2-2.1h2.2m-11.1-1.1h2.2m4.5 0h2.2m2.2 0h4.5m-11.1-1h6.6m6.7 0h2.2m0-1.1h4.5m-13.4-1.1h2.3m6.6 0h2.3m4.4 0h2.2m2.3 0h2.2m-20-1h2.2m13.3 0h2.3m0-1.1h6.7m2.2 0h4.4m4.5 0h2.2m-51.2-1.1h2.2m15.6 0h2.2m-4.4-2.1h2.2m8.9 0h2.2m4.5 0h2.2m8.9 0h2.3m-42.3-1h2.2m15.6-2.2h2.2m-17.8-1h2.2m4.5 0h2.2m8.9 0h2.2m-26.7-1.1h2.2m13.4 0h2.2m-15.6-1.1h2.3m2.2 0h2.2m0-1h2.2m4.5 0h4.4m-4.4-1.1h2.2m4.5 0h4.4m-20-1.1h11.1" stroke="#355e8d" stroke-width="1.19"/>
<path d="M92.1 810.1h2.2m2.2 0h2.2m6.7-1.1h2.2m6.7 0h2.2m2.3 0h2.2m2.2 0h2.2m-28.9-1.1h2.2m2.3 0h2.2m4.4 0h2.3m-17.8-1h4.4m13.4-1.1h2.2m11.1 0h2.2m2.3 0h2.2m-33.4-1.1h2.2m8.9-2.1h2.3m2.2 0h2.2m2.2 0h2.3m6.6 0h4.5m-49-1.1h4.5m2.2 0h4.5m2.2 0h2.2m4.5-1h4.4m22.3 0h2.2m-17.8-2.1h2.2m-26.7-1.1h4.5m-13.4-1.1h2.2m-4.4-1h2.2m2.2 0h2.2m2.3 0h2.2m26.7-1.1h2.2m8.9 0h2.3m-29-1.1h2.3m-13.4-2.1h2.2m4.5 0h2.2m2.2 0h2.3m4.4-1.1h2.2m6.7 0h4.5m4.4 0h4.5m-22.3-1h2.2m6.7 0h2.2m-11.1-1.1h4.5m-17.8-1.1h2.2m2.2 0h2.2m2.3 0h4.4m-4.4-1h2.2m2.2 0h2.2m11.2-1.1h2.2m-33.4-1.1h4.5m17.8 0h2.2m-4.5-1h2.3m2.2 0h6.7m-24.5-1.1h2.2m6.7 0h4.4m20.1-1.1h2.2m-15.6-2.1h2.2m8.9 0h2.3m-11.2-2.1h4.5m2.2-1.1h2.2m2.3 0h2.2m-4.5-1h4.5m-75.7-6.4h2.2m2.3 0h2.2m15.6-2.2h2.2m13.4 0h2.2m28.9 0h2.2m2.3 0h2.2m-75.7-1h2.2m0-1.1h4.5m2.2 0h4.5m-4.5-1.1h11.1m2.3 0h2.2m-22.3-1h2.3m6.6 0h4.5m8.9 0h2.2m-15.6-1.1h8.9m2.3 0h2.2m-22.3-1.1h2.3m4.4 0h2.2m6.7 0h2.2m2.3 0h2.2m-8.9-1h2.2m-13.3-1.1h2.2m31.2-1.1h2.2m-29-1h2.3m6.6 0h2.3m2.2 0h4.4m9 0h2.2m6.7-1.1h2.2m-46.8-1.1h2.3m11.1 0h2.2m4.5 0h2.2m-8.9-1h6.7m4.4 0h2.2m2.3 0h2.2m8.9-1.1h2.2m-44.5-2.1h6.7m2.2 0h2.2m4.5 0h2.2m-8.9-2.1h2.2m8.9 0h2.3m-13.4-2.2h2.2m8.9-1h6.7m4.5 0h4.4m6.7 0h4.5m-29-1.1h2.2m8.9 0h2.3m6.7 0h2.2m6.7 0h2.2" stroke="#306a8e" stroke-width="1.19"/>
<path d="M85.4 810.1h2.2m11.1-1.1h2.3m6.6 0h2.3m-11.2-1.1h2.3m2.2 0h4.4m-17.8-1h2.3m13.3-1.1h4.5m-20.1-1.1h2.3m2.2 0h2.2m8.9-2.1h2.2m-22.2-1.1h2.2m4.5 0h2.2m26.7-1h2.2m2.2 0h2.3m-44.6-1.1h4.5m4.5 0h6.6m4.5-1h4.4m-22.2-1.1h2.2m-6.7-1.1h8.9m11.2-2.1h2.2m4.4 0h4.5m-33.4-1.1h2.2m15.6 0h2.2m20.1-1h2.2m4.4 0h2.3m-44.6-1.1h4.5m8.9-3.2h2.2m2.3 0h2.2m-20.1-1.1h2.3m2.2 0h2.2m4.5 0h2.2m-11.1-1h2.2m6.7 0h2.2m2.2-1.1h2.3m8.9 0h4.4m2.2 0h2.3m-33.4-1.1h2.2m17.8-1h2.2m13.4 0h2.2m-33.4-1.1h4.5m4.4 0h4.5m6.7 0h2.2m2.2 0h4.5m4.4-1.1h4.5m-37.9-1h2.3m2.2 0h4.4m8.9 0h2.3m2.2 0h6.7m-2.3-1.1h2.3m2.2-1.1h2.2m2.2 0h2.3m-6.7-1h2.2m-2.2-2.1h4.4m-69-4.3h4.5m60.1 0h2.2m-69-1.1h2.2m4.5-1h2.2m15.6-2.2h4.4m2.3 0h2.2m2.2 0h2.3m2.2 0h4.4m26.7 0h2.3m-71.3-1h2.3m6.6 0h2.3m-6.7-1.1h2.2m6.7 0h2.2m2.2 0h2.3m4.4 0h2.2m-22.2-1.1h2.2m11.1 0h2.3m4.4 0h4.5m-31.2-1h2.2m4.5 0h4.4m4.5 0h8.9m2.2 0h2.2m-4.4-1.1h2.2m6.7 0h2.2m-20-1.1h2.2m2.2 0h2.3m4.4 0h2.2m-8.9-1h4.5m0-1.1h6.7m2.2 0h2.2m-11.1-1.1h2.2m2.2 0h2.3m2.2 0h2.2m6.7 0h4.5m2.2 0h2.2m-28.9-1h2.2m6.7 0h2.2m8.9 0h4.5m2.2 0h2.2m0-1.1h6.7m-51.2-1.1h2.2m4.5 0h2.2m4.4 0h2.3m0-1h2.2m8.9 0h2.2m4.5 0h4.4m-6.6-1.1h2.2m6.7 0h2.2m-49-1h4.5m2.2 0h2.2m-2.2-1.1h2.2m4.5 0h2.2m6.7 0h2.2m2.2 0h2.2m-8.9-1.1h2.3m2.2 0h4.4m2.3 0h2.2m-17.8-1h2.2m4.5 0h2.2m2.2 0h6.7m-15.6-1.1h4.5m-11.2-1.1h2.3m13.3 0h2.2m-2.2-1h2.2m6.7 0h6.7m-15.6-1.1h2.2m4.5 0h2.2m4.5 0h4.4m-26.7-1.1h2.2" stroke="#2b748e" stroke-width="1.19"/>
<path d="M78.7 810.1h2.2m6.7 0h2.2m6.7-1.1h2.2m2.3 0h2.2m-13.4-1.1h2.3m2.2 0h2.2m-13.4-1h6.7m-2.2-1.1h2.2m2.3 0h2.2m6.7 0h4.4m-13.3-1.1h2.2m6.7-2.1h4.4m4.5 0h2.2m-33.4-1.1h2.2m0-2.1h2.2m6.7 0h2.3m8.9 0h2.2m-11.1-1h2.2m13.3 0h2.3m-37.9-3.2h4.5m20-1.1h4.5m2.2 0h2.2m-13.3-1.1h2.2m6.7 0h2.2m13.3-1h2.3m2.2 0h2.2m-42.3-1.1h2.2m20.1-1.1h2.2m2.2 0h2.3m-22.3-1h4.5m2.2 0h2.2m-11.1-1.1h2.2m2.2 0h6.7m-11.1-1.1h2.2m0-1h4.5m4.4 0h4.5m-4.5-1.1h2.2m4.5 0h2.2m2.2 0h2.3m-55.7-1.1h2.2m24.5 0h4.5m35.6-3.2h2.2m-57.9-1h2.3m20 0h2.2m8.9 0h4.5m8.9-1.1h2.2m13.4-1.1h2.2m-37.8-1h2.2m15.6 0h4.4m4.5-1.1h4.4m2.2 0h2.3m-11.2-1h2.3m8.9-1.1h2.2m-75.7-3.2h2.2m4.5 0h4.4m57.9 0h6.7m-73.5-2.1h2.3m8.9 0h6.6m51.2 0h2.3m-73.5-1.1h2.2m2.3 0h2.2m13.3-1.1h2.3m44.5 0h2.2m-64.5-1h4.4m4.5 0h2.2m-2.2-1.1h2.2m2.2 0h2.2m2.3 0h4.4m2.2 0h2.3m2.2 0h2.2m2.3 0h2.2m2.2 0h2.2m-20-1.1h2.2m6.7 0h2.2m-6.7-1h2.3m-11.2-1.1h2.3m4.4 0h6.7m2.2 0h6.7m-17.8-2.1h2.2m4.5-1.1h2.2m2.2-1.1h2.3m2.2 0h2.2m4.5 0h2.2m4.4 0h2.3m-22.3-1h4.5m2.2 0h2.2m8.9 0h2.2m-48.9-2.2h2.2m2.2 0h4.5m11.1 0h2.2m4.5 0h2.2m-8.9-1h2.2m2.2 0h2.3m4.4 0h4.5m4.4 0h2.3m2.2-1.1h2.2m-42.3-1h2.2m2.3 0h2.2m2.2-1.1h4.5m2.2 0h2.2m2.2 0h4.5m6.7 0h2.2m-13.4-1.1h2.3m4.4 0h2.3m2.2 0h2.2m-24.5-1h2.2m13.4 0h4.5m-9-1.1h2.3m6.7 0h2.2m-26.7-1.1h4.4m4.5 0h4.4m2.2 0h2.3m0-2.1h2.2m2.2 0h2.3m6.6 0h2.3m4.4 0h2.2m-33.4-1.1h6.7m2.2 0h2.3" stroke="#27808e" stroke-width="1.19"/>
<path d="M80.9 810.1h4.5m4.4-1.1h2.3m2.2 0h2.2m-11.1-1.1h4.4m2.3 0h2.2m-17.8-1h2.2m4.4-1.1h2.3m8.9 0h4.4m-15.6-1.1h4.5m-11.1-1h2.2m2.2 0h2.2m15.6-1.1h2.3m-29-1.1h4.5m20-1h4.5m-22.3-1.1h2.2m8.9-1h2.3m6.6 0h2.3m-17.9-1.1h2.3m-8.9-1.1h2.2m-8.9-1h2.2m22.3-1.1h2.2m-20-1.1h2.2m2.2 0h4.5m2.2 0h2.2m4.5 0h2.2m15.6-1h4.4m-28.9-2.2h2.2m4.5 0h8.9m-20.1-1h4.5m4.5 0h2.2m-6.7-1.1h2.2m-8.9-2.1h4.5m6.7 0h2.2m-4.5-1.1h2.3m8.9 0h2.2m11.1 0h2.2m-55.6-1.1h2.2m15.6 0h2.2m17.8-1h6.7m-37.8-3.2h4.4m13.4 0h2.2m15.6 0h4.4m-2.2-1.1h2.2m2.3 0h2.2m0-1.1h8.9m2.2 0h2.2m-22.2-1h6.7m4.4 0h2.2m-4.4-1.1h4.4m2.3-1h2.2m-64.6-3.2h2.3m22.2 0h2.2m42.3 0h4.5m-44.5-1.1h2.2m26.7 0h2.2m2.3 0h2.2m-62.3-1.1h2.2m2.2-1h4.5m6.6 0h2.3m44.5 0h4.4m2.3 0h2.2m-73.5-1.1h2.3m2.2 0h2.2m20-1.1h2.3m2.2 0h2.2m-26.7-1h2.2m6.7 0h2.2m2.3 0h2.2m6.7-1.1h2.2m2.2 0h2.3m2.2 0h2.2m2.2 0h2.3m-15.6-1.1h2.2m-28.9-1h2.2m24.5 0h6.7m2.2 0h2.2m2.2-1.1h2.3m-22.3-1.1h2.2m2.2 0h2.3m-2.3-1h2.3m4.4-1.1h2.3m2.2 0h4.4m6.7 0h2.2m-2.2-1.1h2.2m-6.6-1h2.2m4.4 0h2.3m4.4-1.1h2.2m-35.6-1.1h4.5m2.2 0h2.2m15.6-2.1h2.2m2.3 0h4.4m-49-1h2.3m6.6 0h2.3m-11.2-1.1h2.3m20 0h4.5m-4.5-1.1h2.2m2.3 0h2.2m2.2 0h4.5m-8.9-1h2.2m-6.7-1.1h4.5m-20.1-1.1h4.5m8.9 0h4.4m11.2-1h2.2m2.2 0h4.5m-6.7-1.1h2.2m4.5 0h2.2m-31.2-1.1h2.2m2.3 0h2.2m2.2 0h2.3" stroke="#228b8d" stroke-width="1.19"/>
<path d="M85.4 809h2.2m4.5 0h2.2m-15.6-2.1h2.2m4.5-1.1h2.2m2.2 0h2.3m6.6 0h2.3m-24.5-1.1h6.6m4.5 0h2.2m-11.1-1h2.2m-11.1-2.2h2.2m22.3-1h2.2m-20-1.1h2.2m8.9-1h2.2m4.5 0h4.4m2.3 0h2.2m-22.3-1.1h2.2m-13.3-1.1h6.7m-6.7-3.2h2.2m2.2 0h2.3m8.9 0h2.2m2.2 0h2.3m-17.9-2.1h6.7m4.5-1.1h2.2m4.5 0h2.2m-13.4-2.1h2.2m-2.2-1.1h2.2m6.7 0h2.3m-13.4-1h2.2m-24.5-2.2h4.5m4.4-2.1h2.3m17.8 0h4.4m24.5-1.1h6.7m-64.6-1h2.3m15.5 0h2.3m6.6 0h2.3m6.7 0h2.2m8.9-1.1h2.2m2.2 0h2.3m-2.3-1.1h4.5m-57.9-1h6.7m33.4 0h8.9m13.3-1.1h2.3m-64.6-1h4.5m51.2 0h4.4m-60.1-1.1h2.2m64.6 0h4.4m-6.6-1.1h2.2m4.4 0h2.3m-73.5-1h2.2m13.4 0h2.2m11.1 0h2.3m28.9 0h2.2m4.5 0h4.4m-60.1-1.1h4.5m2.2 0h2.2m4.5 0h6.7m2.2 0h2.2m-28.9-1.1h2.2m22.3 0h2.2m40.1 0h2.2m-53.4-1h2.2m-15.6-1.1h6.7m28.9-1.1h4.5m11.1 0h6.7m-51.2-1h2.2m17.8-2.2h2.3m2.2 0h2.2m2.2 0h2.3m24.4 0h4.5m-37.8-1h2.2m-8.9-2.2h2.2m-6.7-1h2.2m22.3 0h2.2m-15.5-1.1h2.2m4.4 0h4.5m4.4 0h4.5m-2.2-1.1h2.2m-2.2-1h2.2m0-1.1h2.2m-13.3-2.1h2.2m4.4-1.1h2.3m6.6 0h2.3m-49-1h4.4m17.9-1.1h2.2m6.7-1.1h8.9m2.2 0h2.2m2.2 0h2.3m-24.5-1h4.4m2.3 0h2.2m-26.7-1.1h6.6m2.3 0h2.2m6.7 0h2.2m-4.4-1.1h2.2m8.9-1h2.2m4.5 0h2.2m-4.5-1.1h2.3m-22.3-1.1h2.2m6.7 0h2.2" stroke="#1f958b" stroke-width="1.19"/>
<path d="M69.8 810.1h8.9m0-1.1h2.2m2.2 0h2.3m-4.5-1.1h4.5m-13.4-1h4.5m4.4 0h2.2m-6.6-1.1h6.6m-11.1-1.1h4.5m-2.3-1h2.3m17.8-1.1h4.4m-31.1-1.1h2.2m13.3-1h2.3m6.7 0h2.2m-22.3-3.2h4.5m2.2 0h2.2m11.2-3.2h2.2m15.6-2.1h2.2m-35.6-2.2h8.9m4.4 0h2.3m-13.4-1h4.4m-4.4-1.1h2.2m-2.2-1.1h2.2m-4.4-1h2.2m8.9-1.1h2.2m2.3 0h4.4m-22.3-1.1h2.3m13.3-1h2.3m4.4 0h2.2m-40-1.1h6.6m2.3 0h2.2m11.1 0h2.2m15.6-1.1h2.3m-42.3-1h2.2m2.2 0h2.2m6.7 0h2.2m-13.3-1.1h2.2m8.9 0h2.2m17.9 0h2.2m2.2 0h6.7m-2.2-1.1h2.2m2.2 0h2.2m-46.7-1h2.2m2.2 0h4.5m20 0h2.3m-33.4-1.1h2.2m42.3 0h2.2m2.2 0h4.5m-53.4-1h2.2m42.3 0h6.7m4.4 0h2.2m-2.2-1.1h2.2m8.9 0h2.3m-69-1.1h2.2m60.1 0h2.2m4.5 0h2.2m-69-1h8.9m2.2 0h8.9m4.5 0h2.2m17.8 0h2.2m11.2 0h2.2m-51.2-1.1h2.2m4.5 0h2.2m37.8 0h2.3m-62.4-1.1h2.3m6.6 0h6.7m4.5 0h2.2m2.2 0h4.5m33.4 0h2.2m4.4 0h2.3m-49-1h2.2m35.6 0h4.5m-51.2-1.1h2.2m4.5 0h2.2m0-2.1h2.2m2.2 0h2.3m2.2 0h4.5m2.2 0h6.7m26.7 0h2.2m-8.9-1.1h8.9m-37.8-1.1h2.2m2.2 0h2.2m2.3 0h4.4m-8.9-1h2.2m26.7 0h2.3m-31.2-1.1h2.2m2.3 0h2.2m22.2 0h2.3m-40.1-1.1h2.2m-4.4-1h11.1m4.5 0h2.2m8.9-1.1h2.2m-2.2-2.1h4.4m0-1.1h2.3m-29-1.1h2.3m11.1-1h2.2m2.2 0h2.3m4.4-1.1h2.2m-40-1h2.2m4.4 0h2.3m4.4 0h2.3m17.8-2.2h2.2m2.2 0h2.2m-17.8-1h2.3m-4.5-1.1h4.5m-11.2-1.1h2.3m2.2 0h4.4m13.4-2.1h2.2m-22.2-1.1h4.4m2.2 0h6.7" stroke="#1fa188" stroke-width="1.19"/>
<path d="M67.6 810.1h2.2m6.7-1.1h2.2m2.2 0h2.2m4.5 0h2.2m-11.1-1.1h2.2m-11.1-3.2h2.2m-4.4-1h2.2m2.2 0h2.2m17.9-1.1h2.2m-8.9-2.1h4.4m-15.6-1.1h2.3m0-1h11.1m-11.1-1.1h2.2m8.9-3.2h4.5m-20.1-1.1h2.2m20.1-1h2.2m8.9 0h4.5m-37.9-1.1h2.2m0-1.1h2.3m-20.1-1h2.3m17.8 0h2.2m4.4-1.1h2.3m-31.2-2.1h6.7m24.5-1.1h2.2m-24.5-1.1h2.2m4.5 0h2.2m13.4-1h4.4m2.3 0h4.4m-13.4-1.1h2.3m11.1-1.1h2.2m2.3 0h2.2m4.4 0h2.3m-55.7-1h2.2m-2.2-1.1h2.2m2.3 0h2.2m2.2 0h6.7m20 0h2.3m2.2 0h2.2m6.7-1.1h2.2m-42.3-1h2.2m4.5 0h2.2m2.2 0h2.3m2.2 0h2.2m4.5 0h2.2m-33.4-1.1h4.5m2.2-1h8.9m6.7 0h2.2m-22.3-1.1h4.5m37.8 0h2.3m6.6 0h4.5m-57.9-1.1h2.2m60.1 0h2.3m4.4 0h2.2m-66.7-1h2.2m42.3 0h2.2m2.2 0h6.7m2.2 0h2.3m-44.6-1.1h2.3m13.3 0h2.3m13.3 0h4.5m2.2 0h2.2m-51.2-1.1h2.2m6.7 0h2.2m4.5 0h2.2m6.7 0h2.2m26.7 0h2.3m2.2 0h4.4m-44.5-1h8.9m22.3 0h4.4m-42.3-1.1h2.3m2.2 0h2.2m4.5 0h2.2m6.7 0h2.2m6.7-1.1h2.2m6.7 0h2.2m-40.1-1h2.3m4.4 0h2.2m2.3 0h2.2m13.4 0h2.2m20 0h2.2m-24.4-1.1h2.2m-4.5-2.1h2.3m26.7 0h2.2m-6.7-1.1h2.2m2.3 0h2.2m-40.1-1.1h2.3m11.1 0h2.2m-2.2-1h2.2m2.2 0h2.3m-6.7-1.1h2.2m6.7-1.1h2.2m13.4 0h2.2m-35.6-3.2h2.2m2.2 0h2.3m6.6 0h2.3m2.2 0h2.2m-8.9-1h2.2m11.2-1.1h4.4m-42.3-1h2.2m15.6 0h2.3m-4.5-1.1h4.5m2.2-2.1h2.2m6.7 0h2.2m-11.1-1.1h2.2m6.7-2.1h4.4m2.3-1.1h2.2m-15.6-1.1h2.2m2.3 0h4.4" stroke="#25ac82" stroke-width="1.19"/>
<path d="M74.2 809h2.3m-6.7-2.1h2.2m0-1.1h4.5m-6.7-2.1h2.2m8.9-3.2h2.2m6.7 0h2.3m-20.1-1.1h2.2m-4.4-2.1h2.2m11.1-3.2h4.5m-20-1.1h2.2m22.3-1h2.2m2.2 0h8.9m-31.2-4.3h4.5m4.4-3.2h2.3m-20.1-1.1h2.3m8.9 0h2.2m-24.5-1h2.2m24.5 0h4.5m-31.2-1.1h4.5m35.6-1.1h2.2m6.7 0h4.4m2.3 0h4.4m-53.4-1h2.2m13.4 0h2.2m-8.9-1.1h2.2m15.6 0h2.2m8.9-1.1h2.3m-29-1h2.2m2.3 0h2.2m4.4 0h2.3m-24.5-1.1h4.4m4.5 0h2.2m33.4 0h2.2m-33.4-1h2.3m2.2 0h4.4m13.4 0h6.7m-24.5-1.1h2.2m20.1 0h6.6m4.5 0h2.2m2.2 0h4.5m-64.6-1.1h2.3m2.2 0h2.2m49 0h4.4m-28.9-1h2.2m20.1-1.1h2.2m-37.9-1.1h2.3m13.3 0h2.3m20 0h4.4m-26.7-1h2.3m17.8 0h2.2m-40.1-1.1h2.2m8.9 0h2.3m2.2 0h6.7m28.9 0h2.2m-33.3-2.1h2.2m8.9-1.1h2.2m11.1 0h2.3m-13.4-1.1h4.5m13.3 0h2.2m-24.4-1h6.6m15.6 0h2.2m-22.2-1.1h6.7m-13.4-2.1h4.5m11.1 0h2.2m11.1 0h2.3m0-1.1h2.2m-15.6-1.1h2.2m0-1h2.3m8.9-1.1h2.2m-37.8-1.1h2.2m2.2 0h2.2m2.3 0h4.4m4.5 0h2.2m2.2 0h2.2m-6.6-1h2.2m-33.4-2.1h2.2m6.7 0h2.2m11.2 0h2.2m-2.2-1.1h4.4m8.9-2.1h4.5m-17.8-1.1h2.2m2.2 0h2.2m-6.6-1.1h2.2m11.1-2.1h2.2m-8.9-1.1h2.3m4.4 0h2.2" stroke="#32b67a" stroke-width="1.19"/>
<path d="M72 809h2.2m0-1.1h4.5m-13.4-1h4.5m0-1.1h2.2m-6.7-2.1h2.3m11.1-1.1h2.2m2.2 0h9m-29-1.1h4.5m6.6-1h2.3m-6.7-1.1h2.2m0-1h4.5m-11.2-1.1h4.5m-2.2-1.1h2.2m-2.2-1h2.2m17.8-3.2h4.5m-20.1-2.2h2.2m-2.2-1h4.5m-20.1-2.2h4.5m15.6 0h2.2m-17.8-1h2.2m8.9-2.2h2.2m-13.3-1h2.2m2.2 0h2.3m11.1 0h2.2m-11.1-1.1h2.2m20.1-1.1h2.2m-13.4-1h2.2m-26.7-1.1h2.3m-4.5-1.1h2.2m2.3 0h4.4m29 0h6.6m-11.1-1h2.2m-22.2-1.1h2.2m2.2 0h2.2m22.3 0h6.7m-33.4-1h4.4m20.1 0h2.2m-35.6-1.1h17.8m2.2 0h2.2m11.2 0h2.2m-33.4-1.1h4.5m40 0h2.3m-20.1-1h2.3m8.9 0h2.2m-11.1-1.1h2.2m-2.2-1.1h2.2m15.6 0h2.2m-20-1h2.2m-13.4-1.1h2.2m37.9 0h2.2m2.2 0h4.5m-11.1-2.1h2.2m4.4 0h2.3m-22.3-1.1h2.2m11.2 0h2.2m-11.1-1.1h2.2m4.4 0h6.7m-2.2-2.1h2.2m-31.1-1.1h2.2m6.7 0h2.2m2.2 0h4.5m0-1h2.2m2.2 0h2.2m0-2.2h2.3m0-1h2.2m-2.2-1.1h4.4m2.2 0h2.3m-22.3-1.1h2.2m8.9 0h2.3m-6.7-1h4.4m-31.1-2.1h2.2m4.5 0h6.6m6.7-1.1h4.5m8.9-1.1h2.2m-15.6-1h6.7m6.7 0h2.2m-11.1-1.1h2.2m4.4-2.1h2.3m-2.3-1.1h2.3m-2.3-1.1h2.3" stroke="#46c06f" stroke-width="1.19"/>
<path d="M72 807.9h2.2m-6.6-3.2h2.2m11.1-2.1h2.2m-6.6-2.1h4.4m-11.1-2.1h2.2m-6.7-2.2h2.3m-13.4-1h2.2m8.9 0h2.3m13.3-1.1h2.2m-2.2-2.1h6.7m-20-1.1h4.4m-17.8-2.1h2.2m2.3 0h4.4m-6.7-1.1h2.3m11.1 0h2.2m-11.1-1.1h4.4m8.9 0h2.3m-4.5-1h4.5m2.2-1.1h4.4m-24.4-2.1h2.2m2.2 0h2.2m11.2 0h2.2m0-1.1h2.2m8.9-1.1h2.3m-13.4-1h2.2m-6.7-1.1h2.3m2.2 0h2.2m4.5 0h2.2m-31.2-1.1h2.3m4.4 0h6.7m-4.5-2.1h2.3m6.6 0h4.5m4.4-1h2.3m11.1-1.1h2.2m-28.9-1.1h2.2m4.5 0h2.2m2.2 0h2.2m20.1 0h2.2m4.5 0h2.2m-15.6-1h4.5m0-1.1h4.4m2.2-1.1h2.3m-13.4-2.1h2.2m15.6 0h6.7m-15.6-1.1h2.2m2.3 0h2.2m-8.9-1h2.2m11.1 0h2.3m2.2 0h2.2m-4.4-3.2h4.4m-28.9-2.2h6.7m26.7-1h2.2m-15.6-1.1h4.5m0-1.1h2.2m2.2-2.1h2.2m-8.9-2.1h2.3m4.4-1.1h2.2m-22.2-1h2.2m2.2 0h2.3m2.2 0h2.2m-4.4-1.1h8.9m2.2-1.1h2.2m-15.6-2.1h2.3m2.2 0h4.4m2.3 0h2.2m-22.3-1.1h2.3m2.2 0h4.4m6.7 0h2.2m2.3-1h2.2m-2.2-2.2h4.4" stroke="#5ec962" stroke-width="1.19"/>
<path d="M63.1 810.1h4.5m0-4.3h2.2m-4.5-1.1h2.3m6.6-2.1h4.5m-6.7-2.1h2.2m-6.6-1.1h2.2m-13.4-4.2h2.3m6.6-2.2h2.3m-13.4-2.1h2.2m13.4-2.1h2.2m-17.8-1.1h2.2m2.3 0h2.2m-6.7-1.1h2.2m6.7-1h2.2m11.2-1.1h2.2m-11.1-1.1h2.2m-13.4-1h2.3m8.9 0h2.2m2.2-1.1h4.5m-11.2-1.1h4.5m15.6 0h4.4m-20-3.2h4.4m15.6 0h2.3m-11.2-1h2.2m9-1.1h2.2m-11.2-2.1h2.3m-17.8-1.1h2.2m4.4 0h2.3m2.2 0h2.2m13.4-1h2.2m8.9-2.2h2.2m0-1h2.3m2.2-1.1h2.2m0-2.1h2.2m-8.9-1.1h2.3m4.4-1.1h2.2m-8.9-1h2.3m0-1.1h2.2m-2.2-1.1h2.2m13.3 0h4.5m-13.4-1h2.3m6.6-2.2h2.3m-6.7-1h2.2m4.5 0h2.2m-2.2-3.2h2.2m-4.5-1.1h2.3m-17.8-1h2.2m2.2 0h2.2m-6.6-5.4h4.4m4.5 0h2.2m0-1h2.2m-2.2-1.1h2.2m2.2-1.1h2.3" stroke="#77d153" stroke-width="1.19"/>
<path d="M69.8 809h2.2m-8.9-5.3h2.2m4.5-3.2h2.2m-6.7-1.1h2.3m0-1h2.2m-6.7-1.1h2.2m-2.2-2.1h2.2m6.7-1.1h2.2m4.5 0h2.2m-26.7-1.1h2.2m4.5 0h4.4m-11.1-3.2h4.5m11.1 0h2.2m-8.9-2.1h2.2m6.7 0h2.2m-17.8-3.2h2.3m17.8-3.2h2.2m-24.5-1.1h2.2m4.5 0h2.2m13.4-2.1h2.2m4.4 0h2.3m-11.2-1.1h2.3m11.1 0h2.2m-11.1-2.1h2.2m13.4 0h2.2m-4.4-1h2.2m-2.2-1.1h2.2m-11.2-1.1h2.3m20 0h2.2m-15.5-1h2.2m0-2.2h4.4m-4.4-1h4.4m11.2-1.1h2.2m-4.5-1.1h2.3m-4.5-1h2.2m4.5 0h2.2m-4.4-1.1h2.2m2.2 0h2.2m-4.4-1.1h2.2m-4.4-1h2.2m4.4 0h2.3m-6.7-1.1h2.2m6.7-2.1h4.4m0-1.1h2.3m-8.9-4.3h2.2m2.2 0h2.2m-6.6-1h4.4m-17.8-2.1h2.2m13.4-3.2h2.2m-6.7-1.1h2.3m-2.3-1.1h2.3m2.2 0h2.2m0-1h2.2m-2.2-1.1h4.5m-4.5-1.1h2.2" stroke="#95d840" stroke-width="1.19"/>
<path d="M67.6 809h2.2m-8.9-5.3h2.2m6.7-1.1h4.4m2.3-8.5h2.2m-22.3-1.1h2.3m17.8-1h4.4m-22.2-2.2h2.2m6.7-1h2.2m-8.9-1.1h2.2m2.2-1.1h2.3m-13.4-2.1h2.2m2.3 0h2.2m2.2 0h2.2m4.5-2.1h2.2m-15.6-2.2h4.5m2.2 0h2.2m4.5 0h2.2m13.4-6.3h2.2m-15.6-2.2h2.2m11.2 0h2.2m13.4 0h2.2m-6.7-2.1h2.2m4.5-1.1h2.2m-6.7-2.1h2.3m6.6-2.1h2.3m2.2-1.1h2.2m0-3.2h2.2m2.3 0h2.2m-8.9-1.1h4.4m2.3-2.1h2.2m2.2 0h2.2m-2.2-1.1h2.2m-2.2-1h2.2m2.3-4.3h2.2m-13.4-1h4.5m-2.2-1.1h2.2m2.2-1.1h2.2m2.3 0h2.2m-6.7-1h2.2m-4.4-1.1h2.2m-15.6-1.1h2.3m15.5-1h2.3" stroke="#b2dd2d" stroke-width="1.19"/>
<path d="M58.7 810.1h2.2m4.4-1.1h2.3m2.2-1.1h2.2m-6.7-2.1h2.3m-4.5-1.1h2.2m-8.9-1h4.5m-6.7-2.2h2.2m4.5 0h2.2m4.5-1h2.2m-4.5-2.1h2.3m-13.4-1.1h2.2m4.5 0h2.2m-2.2-2.1h2.2m11.1-1.1h2.3m-17.8-1.1h2.2m13.3-1h2.3m-20.1-1.1h2.3m4.4 0h2.2m-2.2-2.1h2.2m0-1.1h4.5m2.2-1.1h2.2m-8.9-1h2.3m2.2 0h2.2m-11.1-1.1h2.2m8.9-2.1h2.2m6.7-2.2h4.5m-4.5-2.1h2.2m-2.2-3.2h2.2m6.7 0h2.3m-2.3-1h2.3m-6.7-1.1h4.4m-2.2-1.1h2.2m6.7 0h4.5m-6.7-2.1h2.2m2.2 0h2.3m-2.3-1.1h2.3m-2.3-1h4.5m2.2 0h2.2m-6.6-1.1h2.2m8.9-5.3h2.2m2.2-1.1h2.3m2.2-1.1h4.4m0-4.2h2.3m-6.7-6.4h2.2m0-3.2h2.2m2.3-3.2h2.2" stroke="#d2e21b" stroke-width="1.19"/>
<path d="M54.2 810.1h4.5m2.2 0h2.2m-8.9-1.1h11.1m-11.1-1.1h15.6m-15.6-1h11.1m-11.1-1.1h11.1m-11.1-1.1h8.9m-8.9-1h2.2m-2.2-1.1h15.6m-13.4-1.1h4.5m-6.7-1h13.4m-13.4-1.1h11.1m-11.1-1h11.1m-8.9-1.1h4.5m-6.7-1.1h11.1m-6.6-1h2.2m-6.7-1.1h17.8m-17.8-2.1h20m-15.5-1.1h4.4m2.2 0h2.3m-6.7-1.1h8.9m-4.5-1h2.3m0-2.2h4.4m-4.4-1h2.2m-4.5-1.1h11.2m-2.3-2.1h2.3m-4.5-2.2h8.9m-4.4-3.2h11.1m-4.5-2.1h6.7m-2.2-1h2.2m0-1.1h2.3m-2.3-1.1h6.7m4.5-3.2h2.2m0-1h2.2m-2.2-1.1h6.7m0-2.1h2.2m2.2-3.2h2.2m0-2.2h4.5m-2.2-1h2.2m0-1.1h2.2m-2.2-1.1h2.2m-2.2-3.2h2.2m2.2 0h4.5m-6.7-1h4.5m-6.7-2.1h8.9m-6.7-1.1h6.7m-4.5-1.1h2.3m-2.3-1h4.5m-4.5-1.1h4.5m-6.7-1.1h6.7m-2.2-1h2.2m-2.2-2.2h2.2" stroke="#f1e51d" stroke-width="1.19"/>
<line x1="52" y1="810.6" x2="54.2" y2="810.6" stroke="#444" stroke-width="0.6"/>
<text x="50.8" y="813" font-size="7" text-anchor="end" fill="#222" stroke="#222" stroke-width="0.15">0</text>
<line x1="52" y1="796.3" x2="54.2" y2="796.3" stroke="#444" stroke-width="0.6"/>
<text x="50.8" y="798.7" font-size="7" text-anchor="end" fill="#222" stroke="#222" stroke-width="0.15">25</text>
<line x1="52" y1="782" x2="54.2" y2="782" stroke="#444" stroke-width="0.6"/>
<text x="50.8" y="784.4" font-size="7" text-anchor="end" fill="#222" stroke="#222" stroke-width="0.15">50</text>
<line x1="52" y1="767.7" x2="54.2" y2="767.7" stroke="#444" stroke-width="0.6"/>
<text x="50.8" y="770.1" font-size="7" text-anchor="end" fill="#222" stroke="#222" stroke-width="0.15">75</text>
<line x1="52" y1="753.4" x2="54.2" y2="753.4" stroke="#444" stroke-width="0.6"/>
<text x="50.8" y="755.8" font-size="7" text-anchor="end" fill="#222" stroke="#222" stroke-width="0.15">100</text>
<line x1="54.96" y1="810.6" x2="54.96" y2="812.8" stroke="#444" stroke-width="0.6"/>
<line x1="77.67" y1="810.6" x2="77.67" y2="812.8" stroke="#444" stroke-width="0.6"/>
<line x1="99.62" y1="810.6" x2="99.62" y2="812.8" stroke="#444" stroke-width="0.6"/>
<line x1="123.09" y1="810.6" x2="123.09" y2="812.8" stroke="#444" stroke-width="0.6"/>
<text x="95.5" y="730" font-size="8.7" text-anchor="middle" font-weight="bold" fill="#222" stroke="#222" stroke-width="0.07">Attend-to-audition</text>
<text x="92" y="822.5" font-size="8.6" text-anchor="middle" fill="#222" stroke="#222" stroke-width="0.15">Delay period</text>
<rect x="134.8" y="740.3" width="5.5" height="70.3" fill="url(#vir)"/>
<line x1="140.3" y1="740.3" x2="142.3" y2="740.3" stroke="#444" stroke-width="0.6"/>
<line x1="140.3" y1="810.6" x2="142.3" y2="810.6" stroke="#444" stroke-width="0.6"/>
<text x="144.4" y="743.5" font-size="8.6" fill="#222" stroke="#222" stroke-width="0.15">1</text>
<text x="144.4" y="813.8" font-size="8.6" fill="#222" stroke="#222" stroke-width="0.15">0</text>
<rect x="176.1" y="741" width="75.7" height="70.2" fill="#1f958b"/>
<path d="M185 795.8h15.6m-24.5-1.1h6.7m2.2 0h22.3m2.2 0h2.2m-35.6-2.1h6.7m8.9 0h2.2m4.5 0h13.3m-35.6-1.1h24.5m-24.5-2.1h6.7m2.2 0h15.6m-11.1-1.1h4.4m-15.6-2.1h2.3m11.1 0h2.2m6.7 0h2.2m2.2-1.1h2.3m-29-2.1h13.4m6.7 0h2.2m-24.5-1h2.2m2.3 0h4.4m31.2 0h4.4m-44.5-1.1h4.5m4.4 0h29m-29-1.1h4.5m-8.9-1h4.4m4.5 0h4.4m46.8-14.9h6.6m2.3 0h2.2m-8.9-3.2h8.9m-17.8-1.1h2.2m8.9 0h2.2m0-4.2h2.3m0-1.1h2.2m-8.9-2.1h2.2m2.2 0h4.5m-4.5-3.2h4.5m-17.8-1.1h4.4m8.9-2.1h2.3m-11.2-1.1h6.7" stroke="#46085c" stroke-width="1.18"/>
<path d="M182.8 795.8h2.2m-2.2-1.1h2.2m22.3 0h2.2m2.2 0h2.3m-31.2-2.1h4.4m6.7 0h4.5m13.3 0h6.7m-17.8-1.1h4.4m2.3 0h2.2m6.7 0h2.2m-40.1-1h4.5m0-1.1h2.2m15.6 0h2.2m2.2 0h2.3m4.4 0h2.3m-31.2-1.1h6.7m6.6 0h6.7m-24.5-1h2.3m2.2 0h4.4m2.3 0h2.2m2.2 0h2.2m-15.5-1.1h2.2m15.6 0h2.2m2.2 0h2.2m11.2 0h2.2m-24.5-1.1h2.2m4.5 0h4.4m-28.9-2.1h2.2m13.4 0h6.7m6.6 0h2.3m8.9 0h2.2m-40.1-1h2.3m4.4 0h4.5m4.4 0h4.5m2.2 0h2.2m2.2 0h2.3m6.7 0h2.2m8.9 0h2.2m-46.7-1.1h2.2m31.2 0h2.2m6.7 0h2.2m-49-1.1h4.5m2.2 0h2.2m4.5 0h8.9m-22.3-1h4.5m4.4 0h4.5m4.4 0h2.2m11.2 0h2.2m4.5 0h4.4m31.2-4.3h2.2m-11.1-1.1h2.2m-4.5-6.3h2.3m6.6 0h2.3m-2.3-3.2h2.3m-8.9-3.2h2.2m-15.6-1.1h2.2m8.9 0h6.7m-11.1-1h2.2m13.4 0h2.2m-8.9-1.1h2.2m0-3.2h2.2m-8.9-2.1h2.3m4.4 0h2.2m-8.9-2.2h2.3m4.4 0h2.2m2.3 0h2.2m-13.4-1h2.3m2.2 0h2.2m-13.3-1.1h2.2m8.9 0h2.2m2.2 0h2.3m-17.8-3.2h2.2m2.2 0h2.2m8.9 0h2.3m-4.5-3.2h2.2m2.3 0h2.2" stroke="#481a6c" stroke-width="1.18"/>
<path d="M176.1 795.8h4.5m20 0h6.7m8.9-1.1h4.4m-17.8-1h2.2m2.3 0h2.2m-20-1.1h2.2m13.3-1.1h2.3m13.3 0h2.3m-31.2-1h2.2m4.5 0h6.6m4.5 0h2.2m-8.9-1.1h2.2m-26.7-1.1h4.5m11.1 0h2.2m6.7 0h2.2m-28.9-1h2.2m2.3 0h2.2m4.4 0h2.3m6.6 0h2.3m-22.3-1.1h2.2m8.9 0h2.3m6.6 0h2.3m6.6 0h11.2m2.2 0h2.2m-42.3-1.1h2.3m6.6 0h6.7m2.2 0h2.3m8.9 0h2.2m-8.9-2.1h2.2m6.7 0h2.2m2.3 0h2.2m2.2 0h4.5m-33.4-1h4.4m4.5 0h2.2m2.2 0h2.2m2.3 0h6.7m6.6 0h2.3m-40.1-1.1h2.2m31.2 0h6.7m2.2 0h2.2m-46.7-1.1h2.2m15.6 0h4.4m6.7-1h2.2m-31.1-1.1h2.2m64.5-3.2h2.3m-17.8-2.1h2.2m15.6 0h2.2m-20-5.3h2.2m2.2 0h2.2m-4.4-3.2h4.4m0-3.2h2.3m-11.2-1.1h2.3m4.4 0h2.2m8.9 0h2.3m-17.8-1h2.2m2.2 0h2.2m2.3 0h2.2m4.4 0h2.3m-11.2-1.1h4.5m4.4 0h4.5m-4.5-1.1h2.3m0-1h2.2m-4.5-1.1h2.3m-4.5-1.1h2.2m-11.1-1h2.2m2.3 0h2.2m-4.5-1.1h2.3m2.2 0h4.4m-6.6-1.1h4.4m2.2 0h2.3m-8.9-1h2.2m2.2 0h2.2m-8.9-1.1h4.5m6.7 0h2.2m-4.5-1.1h4.5m-15.6-1h4.5m2.2 0h2.2m4.5 0h2.2m-17.8-1.1h2.2m8.9 0h2.2m-4.4-1h2.2m-2.2-1.1h2.2m-4.4-1.1h4.4m2.2 0h2.3" stroke="#482979" stroke-width="1.18"/>
<path d="M180.6 795.8h2.2m24.5 0h4.4m2.3-1.1h2.2m-33.4-1h2.2m4.5 0h6.6m2.3 0h2.2m4.4 0h2.3m6.7 0h4.4m-31.2-1.1h2.3m28.9 0h4.5m-13.4-1.1h6.7m6.7 0h2.2m-49-1h2.2m4.5 0h2.2m2.2 0h4.5m15.6 0h2.2m8.9 0h2.2m-13.3-1.1h4.4m2.3 0h8.9m-17.9-1.1h4.5m-17.8-1h2.2m4.5 0h4.4m-20-1.1h4.4m2.3 0h2.2m2.2 0h2.2m24.5 0h2.3m-46.8-1.1h2.2m6.7 0h2.2m11.2 0h2.2m-24.5-1h4.5m22.2-1.1h2.2m2.3 0h2.2m2.2 0h2.3m8.9-1h2.2m2.2-1.1h6.7m-31.2-1.1h2.2m11.2 0h2.2m-22.3-1h4.5m11.1 0h2.3m4.4 0h2.2m-42.3-1.1h2.3m-2.3-2.1h2.3m4.4 0h2.2m6.7-1.1h2.2m31.2 0h2.2m15.6 0h2.2m-17.8-1.1h2.3m2.2 0h2.2m2.2 0h2.3m4.4 0h2.2m2.3 0h2.2m-11.1-1h2.2m4.4 0h2.3m-31.2-1.1h2.2m6.7 0h2.2m4.5 0h6.7m-13.4-4.2h4.5m2.2 0h2.2m4.5 0h6.6m-24.4-3.2h2.2m4.4 0h2.3m6.6 0h2.3m4.4-2.2h4.5m-20.1-1h4.5m-2.2-1.1h2.2m15.6 0h2.2m-26.7-1h2.2m2.2 0h2.3m6.6 0h2.3m2.2 0h4.4m-20-1.1h2.2m4.5 0h4.4m6.7 0h2.2m-22.2-1.1h2.2m4.5 0h2.2m15.6 0h2.2m-11.1-1h2.2m2.2 0h2.2m-15.5-1.1h2.2m4.4 0h6.7m-2.2-1.1h2.2m4.5 0h2.2m-24.5-1h8.9m0-1.1h2.2m2.3 0h2.2m4.4 0h2.3m-13.4-1.1h2.2m-13.3-2.1h6.7m13.3 0h2.2m-4.4-1.1h2.2m-17.8-1h2.2m2.3 0h4.4m4.5 0h2.2m2.2 0h2.2m-17.8-1.1h2.3m17.8 0h2.2m-17.8-1h2.2m2.2 0h2.3m4.4 0h4.5m-11.2-1.1h4.5m-11.1-1.1h2.2m4.4 0h2.3" stroke="#453781" stroke-width="1.18"/>
<path d="M185 803.2h2.2m-8.9-6.4h2.3m4.4 0h2.2m29-1h4.4m-33.4-2.1h2.3m6.6 0h2.3m11.1 0h4.5m4.4-2.2h2.2m-35.6-1h2.2m8.9 0h2.3m6.6 0h2.3m8.9 0h2.2m4.5-1.1h2.2m-49-1.1h2.2m33.4 0h4.5m6.7 0h2.2m-22.3-1h8.9m2.3 0h2.2m8.9-1.1h2.2m-46.7-1.1h4.4m24.5 0h4.5m-33.4-1h6.6m4.5 0h2.2m15.6 0h2.2m11.2-1.1h2.2m2.2 0h2.2m-2.2-1h2.2m-24.5-2.2h11.2m-15.6-1h6.7m13.3 0h2.3m2.2 0h2.2m-51.2-1.1h2.2m4.5 0h4.4m2.3 0h2.2m-13.4-1.1h8.9m2.3 0h2.2m22.3 0h2.2m-35.6-1h4.4m2.2 0h4.5m-11.1-1.1h2.2m6.7 0h2.2m8.9 0h2.2m35.6 0h6.7m-24.5-1.1h2.3m4.4 0h2.2m13.4 0h2.2m2.2 0h2.3m-22.3-1h2.2m4.5 0h6.7m-35.7-1.1h2.3m4.4 0h2.3m6.6 0h2.3m22.2 0h6.7m-13.4-1.1h2.3m6.6 0h2.3m-24.5-3.1h2.2m22.3 0h2.2m-13.4-1.1h2.3m-4.5-1.1h2.2m6.7 0h4.5m-24.5-1h4.4m2.3 0h2.2m8.9-1.1h8.9m-22.3-1.1h4.5m6.7 0h4.4m4.5 0h2.2m-31.2-1h2.3m2.2 0h4.4m4.5 0h4.4m6.7-4.3h2.2m-15.5-1h4.4m2.2 0h2.3m-6.7-1.1h4.4m2.3-1.1h2.2m-17.8-1h2.2m6.7-1.1h2.2m13.4 0h2.2m-24.5-1.1h2.2m4.5 0h2.2m-8.9-1h2.2m4.5 0h4.4m-8.9-2.2h2.3m4.4 0h2.2m2.3 0h2.2m2.2 0h2.2m-17.8-1h2.3m-4.5-2.1h6.7m2.2 0h2.2m2.3 0h2.2m6.7 0h2.2m-22.3-1.1h2.3m13.3 0h6.7m-22.3-1.1h2.3m2.2 0h4.4" stroke="#404588" stroke-width="1.18"/>
<path d="M176.1 796.8h2.2m2.3 0h2.2m4.4 0h4.5m20-1h4.5m4.4 0h2.3m-2.3-1.1h6.7m-51.2-1h6.7m2.2 0h2.2m13.4 0h2.2m15.6 0h2.2m2.3-1.1h2.2m6.7 0h2.2m-8.9-1.1h4.4m-35.6-1h2.2m15.6 0h4.5m8.9-1.1h4.4m-20-1.1h2.2m4.5 0h4.4m-8.9-1h2.3m2.2 0h2.2m2.2 0h4.5m-2.2-1.1h2.2m-11.1-1.1h2.2m-29-1h4.5m13.3 0h4.5m2.2 0h4.5m8.9-1.1h2.2m2.2 0h2.3m2.2-2.1h2.2m-17.8-1.1h4.5m2.2 0h2.2m-4.4-1h2.2m2.2 0h2.2m-42.3-1.1h2.3m2.2 0h8.9m2.2 0h2.2m-13.3-1.1h6.7m22.2 0h2.3m-31.2-1h4.4m8.9 0h4.5m22.3 0h2.2m2.2 0h2.2m6.7 0h2.2m-69-1.1h2.3m2.2 0h6.7m6.6 0h2.3m15.6 0h2.2m8.9 0h2.2m2.2 0h4.5m2.2 0h2.2m-57.8-1.1h2.2m8.9 0h2.2m42.3 0h2.2m-55.6-1h2.2m57.9 0h4.4m-44.5-1.1h2.2m4.5 0h2.2m11.2 0h4.4m13.4 0h4.4m-20-1.1h11.1m0-1h2.2m-11.1-1.1h2.2m-11.1-1h6.7m4.4-1.1h4.5m2.2 0h2.2m2.3 0h11.1m-28.9-1.1h2.2m2.2 0h6.7m4.4 0h6.7m4.5 0h2.2m-13.4-2.1h2.3m-15.6-1.1h2.2m8.9 0h4.5m-22.3-1h2.2m2.3 0h2.2m-6.7-2.1h6.7m2.2 0h2.2m0-1.1h4.5m-6.7-1.1h4.5m4.4 0h8.9m-15.6-1h2.3m11.1 0h2.2m-11.1-2.2h2.2m-13.3-1h2.2m6.7-2.2h2.2m-8.9-1h2.2m4.5 0h2.2m-11.1-1.1h2.2m6.7-1.1h4.4m-11.1-2.1h4.4m-4.4-1h2.2m4.5-1.1h6.6" stroke="#3b528b" stroke-width="1.18"/>
<path d="M196.1 809.6h2.3m-11.2-2.1h2.3m8.9-4.3h2.2m-11.1-4.2h2.2m-8.9-2.2h2.2m37.9-1h4.4m2.2 0h2.3m-4.5-1.1h6.7m2.2 0h2.2m-17.8-1h2.3m4.4-1.1h4.5m-11.2-4.3h2.3m2.2 0h2.2m-8.9-1h2.2m4.5 0h2.2m-11.1-2.2h6.7m2.2 0h2.2m-33.4-1h4.5m2.2 0h4.4m11.2 0h4.4m11.2-1.1h2.2m-11.1-3.2h2.2m2.2 0h4.5m-24.5-2.1h2.2m2.2 0h2.3m4.4 0h4.5m4.4 0h2.2m-42.3-1.1h2.3m8.9 0h4.4m2.2 0h4.5m2.2 0h2.3m2.2 0h4.4m2.3 0h4.4m2.2 0h4.5m-37.9-1h6.7m6.7 0h2.2m2.3 0h4.4m4.5 0h4.4m2.2 0h2.3m2.2 0h2.2m2.2 0h4.5m4.4 0h2.3m-57.9-1.1h2.2m4.5 0h2.2m2.2 0h2.2m4.5 0h4.5m2.2 0h8.9m8.9 0h2.2m-53.4-1.1h2.2m2.2 0h4.5m2.2 0h2.2m6.7 0h2.2m2.3 0h6.7m11.1 0h2.2m4.5 0h2.2m-53.4-1h2.2m15.6 0h2.2m22.3 0h4.4m2.2 0h2.3m-37.9-1.1h2.2m4.5 0h2.2m4.5 0h2.2m6.7 0h2.2m11.1 0h4.5m-13.4-1.1h2.3m17.8 0h4.4m-22.2-1h2.2m4.4 0h2.3m6.6 0h2.3m-4.5-1.1h2.2m4.5 0h2.2m4.5 0h2.2m-35.6-1h2.2m15.6-1.1h2.2m-11.1-1.1h2.2m6.7 0h2.2m-8.9-2.1h4.5m4.4 0h2.2m2.3 0h2.2m-20-1.1h2.2m8.9 0h2.2m-20-1h2.2m6.7-1.1h2.2m0-4.2h2.2m6.7 0h2.2m-13.3-1.1h2.2m2.2 0h2.3m4.4-1.1h2.2m8.9 0h2.3m-35.6-1h4.4m2.2 0h2.3m8.9-1.1h2.2m-13.4-1.1h6.7m2.2 0h2.3m-2.3-1h2.3m-8.9-2.2h2.2m2.2 0h2.2m8.9 0h2.3m-15.6-1h2.2m0-4.3h2.2" stroke="#355e8d" stroke-width="1.18"/>
<path d="M191.7 810.7h2.2m6.7 0h2.2m-20-1.1h2.2m2.2 0h2.3m2.2 0h4.4m2.3 0h2.2m2.2 0h2.2m-20-2.1h2.2m2.3-3.2h2.2m-15.6-1.1h8.9m2.2 0h11.2m6.6 0h2.3m-31.2-3.2h2.2m2.3-1h4.4m6.7 0h2.2m-2.2-2.2h8.9m33.4-2.1h2.2m-2.2-2.1h6.7m-11.2-1.1h6.7m-15.6-1h4.5m4.4-1.1h2.3m2.2 0h2.2m-8.9-3.2h4.5m-4.5-1.1h2.2m-31.1-1h2.2m20 0h2.3m11.1-1.1h2.2m-6.7-1h2.3m4.4-1.1h2.2m-8.9-2.1h2.3m-31.2-1.1h2.2m2.2 0h2.3m2.2 0h2.2m2.3 0h2.2m6.7 0h2.2m-15.6-1.1h2.2m15.6 0h2.2m-26.7-1h2.2m6.7 0h2.3m4.4 0h2.2m6.7 0h2.2m13.4 0h2.2m4.5 0h2.2m-46.8-1.1h4.5m-24.5-1.1h2.2m8.9 0h6.7m13.4 0h4.4m2.3 0h2.2m-37.9-1h2.3m2.2 0h4.4m22.3 0h2.2m-28.9-1.1h2.2m2.2 0h2.3m15.6 0h2.2m2.2-1.1h2.2m2.3 0h2.2m11.1 0h2.2m6.7 0h2.2m2.3 0h2.2m-33.4-1h2.2m4.5 0h2.2m15.6 0h2.2m4.5 0h2.2m-26.7-1.1h2.2m6.7 0h2.2m2.2 0h2.3m4.4 0h4.5m-42.3-1h2.2m2.2 0h4.5m2.2-2.2h2.2m-17.8-1h4.5m4.4 0h2.3m2.2 0h6.7m0-1.1h4.4m-6.7-1.1h2.3m-15.6-1h6.7m8.9-1.1h2.2m-11.1-1h4.4m4.5-1.1h4.4m-4.4-1.1h2.2m8.9 0h2.2m-17.8-2.1h6.7m2.2 0h2.2m8.9-1.1h2.3m-29-1h2.3m4.4 0h2.2m8.9-1.1h2.3m-15.6-3.2h2.2m2.2 0h2.3m2.2-1.1h2.2m-4.4-1h2.2m-8.9-1.1h2.2m2.2 0h4.5m-2.2-1h2.2m0-1.1h4.4m-6.6-1.1h4.4" stroke="#306a8e" stroke-width="1.18"/>
<path d="M189.5 810.7h2.2m4.4 0h2.3m-22.3-1.1h2.2m2.3 0h2.2m17.8 0h2.2m2.2 0h2.3m2.2 0h4.5m-24.5-2.1h2.2m-11.1-1.1h2.2m4.4 0h2.3m-8.9-1h2.2m8.9-1.1h2.2m6.7-1.1h4.4m-24.4-2.1h2.2m-4.5-1.1h8.9m-11.1-1h2.2m8.9 0h2.3m6.6 0h4.5m-17.8-1.1h6.7m11.1-1.1h2.2m24.5-1h2.2m8.9-1.1h2.3m-15.6-2.1h2.2m4.5-3.2h2.2m2.2 0h2.2m-11.1-1.1h4.5m-4.5-1h4.5m-8.9-2.2h2.2m4.4 0h2.3m4.4-2.1h4.5m-8.9-1h4.4m-4.4-2.2h4.4m-4.4-1h2.2m-17.8-1.1h2.2m6.7 0h2.2m6.7 0h2.2m-33.4-1.1h2.2m29 0h2.2m-15.6-1h2.3m-44.6-2.2h2.3m24.4 0h2.3m6.7 0h2.2m-37.9-1h2.3m4.4 0h2.2m2.3 0h2.2m4.4 0h2.3m4.4 0h4.5m2.2 0h2.2m2.3 0h4.4m2.2 0h2.3m-44.6-1.1h6.7m2.2 0h4.5m24.5-1.1h2.2m-2.2-1h2.2m2.2 0h2.3m4.4 0h2.2m2.3 0h4.4m4.5 0h2.2m2.2 0h4.5m-31.2-1.1h2.2m2.3 0h2.2m6.7 0h2.2m-24.5-1h2.2m-2.2-1.1h2.2m13.4 0h2.2m-6.7-1.1h2.3m-22.3-1h2.2m4.5 0h2.2m4.5 0h2.2m2.2-1.1h4.5m8.9 0h4.4m-8.9-1.1h2.2m-24.5-1h2.3m6.7 0h2.2m2.2-1.1h4.5m-11.2-1h2.3m6.6-2.2h2.3m0-1h4.4m4.5-2.2h2.2m-29-1h2.3m2.2 0h2.2m15.6-1.1h2.2m-11.1-1.1h2.2m-2.2-2.1h2.2m-2.2-1.1h2.2m-2.2-1h2.2m-2.2-1.1h2.2m-2.2-1h4.5m0-1.1h2.2m-6.7-1.1h4.5" stroke="#2b748e" stroke-width="1.18"/>
<path d="M176.1 810.7h4.5m2.2 0h2.2m8.9 0h2.2m2.3 0h2.2m4.4 0h6.7m-33.4-1.1h2.3m4.4 0h2.2m2.3 0h2.2m22.3 0h4.4m-42.3-1.1h2.2m-2.2-1h2.2m2.3 0h4.4m6.7 0h2.2m-17.8-1.1h4.5m4.4 0h2.2m-11.1-1h2.2m-2.2-1.1h4.5m2.2 0h6.7m6.6 0h8.9m2.3 0h2.2m-2.2-1.1h2.2m2.2 0h4.5m-40.1-2.1h4.5m2.2 0h4.4m0-1.1h2.3m-11.2-1h2.3m13.3 0h2.2m4.5 0h8.9m-33.4-1.1h6.7m6.7 0h2.2m2.2 0h2.2m13.4-1.1h2.2m20.1-1h2.2m6.7-1.1h2.2m-20-1h6.6m6.7-2.2h2.2m-13.3-1h4.4m2.3-2.2h2.2m0-2.1h2.2m-4.4-1.1h2.2m-8.9-1h2.2m11.1-3.2h2.3m-6.7-2.1h2.2m-6.7-1.1h2.3m4.4-1.1h2.2m-37.8-4.2h2.2m8.9 0h2.3m-29-1.1h2.2m11.2 0h2.2m-22.3-1.1h4.5m13.3 0h2.3m13.3 0h4.5m-2.2-1h2.2m-2.2-1.1h4.4m2.2 0h2.3m6.6 0h2.3m8.9 0h2.2m-37.9-1h2.3m4.4-1.1h8.9m2.3 0h2.2m-11.1-1.1h2.2m-22.3-1h6.7m8.9 0h2.2m2.3-1.1h4.4m-4.4-1.1h2.2m2.2 0h2.2m-31.1-1h2.2m8.9 0h4.4m9-1.1h2.2m4.4-2.1h2.3m-4.5-1.1h2.2m-6.6-1h8.9m-11.2-1.1h2.3m2.2 0h2.2m8.9-1.1h4.5m-24.5-1h2.2m13.4-1.1h4.4m-13.3-1.1h4.4m-2.2-1h4.4m2.3 0h2.2m-4.5-2.2h2.3m-2.3-1h2.3m-13.4-1.1h6.7m0-1h2.2m2.2-1.1h2.3m-6.7-1.1h2.2" stroke="#27808e" stroke-width="1.18"/>
<path d="M180.6 810.7h2.2m2.2 0h4.5m13.3 0h2.2m6.7 0h4.5m-8.9-1.1h2.2m-31.2-1.1h4.5m2.2 0h2.2m2.3 0h2.2m15.6 0h2.2m-31.2-1h2.3m13.3 0h11.1m-22.2-1.1h2.2m-6.7-1h2.3m2.2 0h2.2m2.2 0h2.3m4.4-1.1h2.2m8.9 0h2.3m4.4 0h2.3m2.2-1.1h2.2m-26.7-1h4.4m-8.9-1.1h2.3m0-1.1h4.4m4.5 0h2.2m-8.9-2.1h2.2m2.2 0h2.3m4.4-1.1h6.7m33.4-2.1h2.2m-15.6-1h2.3m6.6-2.2h2.3m-2.3-2.1h4.5m-11.1-2.1h4.4m-4.4-1.1h2.2m0-1.1h2.2m-13.3-1h2.2m15.6-1.1h4.4m-8.9-1h2.2m2.3-1.1h4.4m-8.9-1.1h2.2m-2.2-1h2.2m2.3 0h6.6m2.3 0h2.2m-20-1.1h2.2m4.4-1.1h6.7m-37.8-4.2h2.2m-26.7-2.2h2.2m2.2 0h6.7m11.1 0h2.3m2.2 0h2.2m0-2.1h2.3m-22.3-1h2.2m4.5 0h2.2m2.2 0h2.2m-4.4-1.1h8.9m11.1 0h2.3m4.4 0h2.2m-17.8-1.1h2.3m-33.4-1h2.2m8.9 0h2.2m22.3-2.2h2.2m-35.6-1h2.2m11.1 0h4.5m11.1-1.1h2.3m2.2 0h2.2m-13.4-1h2.3m2.2 0h2.2m2.3-4.3h2.2m6.7-1.1h2.2m-22.3-1h2.2m11.2-1.1h2.2m2.2 0h2.3m-2.3-2.1h2.3m-6.7-2.2h2.2m-2.2-1h2.2m-13.4-1.1h4.5m4.5-1h2.2m2.2-1.1h2.2m-11.1-1.1h2.2" stroke="#228b8d" stroke-width="1.18"/>
<path d="M216.2 810.7h4.4m-2.2-1.1h6.7m2.2 0h2.2m-46.7-1.1h2.2m6.7 0h2.2m2.2 0h2.3m11.1 0h2.2m2.3 0h2.2m-26.7-2.1h6.6m-11.1-1h2.2m2.3 0h4.4m-13.3-1.1h2.2m26.7 0h2.2m-2.2-1.1h2.2m-31.1-1h4.4m4.5-1.1h4.4m2.2 0h2.3m-13.4-2.1h2.2m13.4-1.1h2.2m31.2-2.1h2.2m4.5-3.2h4.4m-11.1-4.3h2.2m0-2.1h2.2m-2.2-1.1h2.2m6.7-2.1h2.2m-8.9-1h2.3m6.6-1.1h2.3m-11.2-1.1h2.3m-2.3-1h2.3m-4.5-1.1h2.2m2.3 0h2.2m2.2-1.1h4.5m-64.6-6.4h2.2m11.2 0h6.6m2.3 0h2.2m-24.5-1h4.5m4.4 0h4.5m13.3 0h2.3m-35.7-2.1h2.3m2.2 0h2.2m4.5 0h2.2m-13.4-1.1h2.3m17.8 0h2.2m6.7-1.1h4.4m4.5 0h2.2m-35.6-1h4.4m2.3 0h2.2m17.8-1.1h4.5m-6.7-1.1h6.7m-20.1-1h2.2m11.2-1.1h2.2m-8.9-1h2.2m4.5 0h2.2m4.5-2.2h4.4m-6.7-1h2.3m-9-1.1h2.3m2.2 0h2.2m2.3-1.1h2.2m2.2 0h4.5m2.2 0h2.2m-35.6-1h2.2m24.5-1.1h2.2m-8.9-1.1h2.3m0-1h2.2m-4.5-1.1h4.5m-2.2-1.1h2.2m-15.6-2.1h4.4m0-3.2h4.5m2.2 0h2.3" stroke="#1f958b" stroke-width="1.18"/>
<path d="M229.5 809.6h2.3m15.5 0h2.3m-62.4-1.1h2.3m8.9 0h8.9m4.4 0h2.3m2.2 0h6.7m-15.6-1h2.2m-13.4-1.1h6.7m-8.9-1h6.7m6.7 0h4.4m2.3-1.1h2.2m4.4-1.1h2.3m-35.7-1h4.5m2.2-2.2h2.2m6.7 0h4.5m2.2-1h4.5m15.5 0h2.3m-33.4-1.1h2.2m2.2 0h2.2m6.7-1.1h4.5m20-1h2.2m6.7-1.1h2.2m2.3 0h2.2m-20-1h2.2m6.7-2.2h2.2m-13.4-1h2.3m11.1-1.1h2.2m-8.9-1.1h2.2m-2.2-1h2.2m0-1.1h2.3m-2.3-1.1h2.3m-13.4-1h4.5m15.5-1.1h2.3m-8.9-1h2.2m2.2-1.1h2.2m2.3 0h2.2m-11.1-1.1h2.2m4.4-1h2.3m-11.2-1.1h2.3m-46.8-7.5h2.2m-17.8-1h6.7m4.5 0h4.4m11.1 0h6.7m-6.7-1.1h6.7m-31.1-1h2.2m11.1 0h4.5m2.2 0h2.2m-22.2-1.1h4.4m6.7 0h2.2m11.1-1.1h2.3m-29-1h2.3m6.6 0h2.3m-8.9-3.2h2.2m2.2 0h4.5m2.2 0h2.2m8.9-1.1h4.5m2.2 0h2.2m-8.9-1h2.2m6.7-1.1h2.3m2.2 0h4.4m-17.8-3.2h2.2m2.3 0h2.2m-15.6-2.1h8.9m11.2-1.1h2.2m-6.7-1.1h2.2m0-3.2h2.3m0-1h2.2m-17.8-1.1h2.2m11.1-1h2.3m0-2.2h2.2" stroke="#1fa188" stroke-width="1.18"/>
<path d="M220.6 810.7h4.5m4.4 0h2.3m-6.7-1.1h2.2m17.8 0h2.2m2.3 0h2.2m-57.9-1.1h2.2m8.9-1h2.3m2.2 0h6.7m2.2 0h6.7m-22.3-2.1h2.2m15.6 0h2.3m-6.7-1.1h4.4m2.3-1.1h8.9m-55.7-1h4.5m4.4 0h2.2m8.9 0h6.7m2.2 0h2.3m-13.4-1.1h2.2m4.5 0h2.2m2.2 0h2.3m-11.2-1.1h2.3m2.2 0h2.2m13.4 0h2.2m-4.4-1h2.2m6.7 0h2.2m6.7 0h2.2m8.9 0h2.2m-40.1-1.1h2.3m2.2 0h4.5m2.2 0h6.7m-6.7-1.1h2.2m20-1h2.3m-6.7-2.1h2.2m8.9-1.1h2.2m-15.5-2.1h6.6m4.5 0h2.2m0-1.1h2.2m-8.9-2.1h2.3m0-1.1h2.2m6.7-3.2h2.2m-8.9-3.2h2.2m-2.2-2.1h4.4m2.3-1.1h2.2m-49-7.4h2.2m-4.4-1.1h4.4m-17.8-1h2.3m-4.5-1.1h2.2m2.3 0h2.2m2.2 0h2.2m4.5-1.1h2.2m-11.1-3.2h2.2m8.9 0h4.5m-29-1h2.3m13.3-1.1h8.9m-6.7-1h2.3m15.6-1.1h2.2m-24.5-1.1h2.2m17.8 0h2.3m-6.7-1h4.4m-22.2-1.1h2.2m24.5-1.1h2.2m-33.4-1h2.2m2.3 0h2.2m20-1.1h2.3m-9-3.2h6.7m-8.9-1.1h2.2m2.3 0h4.4m-15.6-2.1h2.3m11.1-1h2.2m2.3-1.1h4.4" stroke="#25ac82" stroke-width="1.18"/>
<path d="M225.1 810.7h4.4m17.8 0h4.5m-15.6-1.1h4.5m2.2 0h2.2m-22.2-1.1h8.9m-15.6-1h2.2m6.7 0h2.2m-24.5-1.1h4.5m-6.7-1h2.2m2.2 0h2.3m4.4 0h6.7m6.7 0h2.2m-6.7-1.1h2.3m6.6 0h2.3m-13.4-1.1h2.2m15.6 0h4.5m-37.9-1h2.2m-6.6-1.1h2.2m2.2 0h2.2m4.5-1.1h6.7m2.2-1h4.5m2.2 0h4.4m6.7 0h6.7m-35.6-1.1h2.2m4.5 0h2.2m6.7-1.1h2.2m24.5-4.2h2.2m-8.9-1.1h6.7m-11.2-1h2.3m6.6-1.1h2.3m-8.9-4.3h2.2m-11.1-1h2.2m8.9-2.1h2.2m2.2 0h4.5m-53.4-12.8h4.4m-11.1-1.1h8.9m-15.6-1h2.2m0-1.1h2.3m6.6 0h2.3m-20.1-1.1h2.3m11.1 0h2.2m4.5 0h2.2m2.2 0h2.2m-20-2.1h2.2m20.1 0h2.2m-13.4-1.1h2.3m2.2 0h2.2m-20-2.1h2.2m6.7 0h2.2m-4.4-1h6.6m2.3 0h2.2m-2.2-2.2h2.2m4.4 0h6.7m-6.7-1h2.3m-11.2-1.1h4.5m0-1.1h2.2m2.2 0h2.3m2.2 0h4.5m-35.7-1h2.3m6.6 0h2.3m17.8-1.1h2.2m-2.2-1.1h2.2m-11.1-2.1h2.2m2.2 0h2.2m-2.2-4.2h4.5m4.4-1.1h2.3m-17.9-1.1h2.3m2.2 0h4.4" stroke="#32b67a" stroke-width="1.18"/>
<path d="M231.8 810.7h6.6m2.3 0h2.2m2.2 0h2.2m-13.3-1.1h2.2m4.5 0h2.2m-11.1-1.1h2.2m-4.5-1h2.3m-24.5-1.1h8.9m2.2-1h2.2m2.3 0h2.2m4.4 0h4.5m-11.1-1.1h4.4m4.5 0h2.2m-2.2-1.1h4.4m4.5 0h4.4m-35.6-2.1h2.2m-4.4-1.1h2.2m11.1 0h2.3m-6.7-1h2.2m15.6 0h2.2m8.9 0h2.2m2.3 0h2.2m-26.7-1.1h2.2m-8.9-1.1h4.5m2.2 0h2.2m13.4-1h4.4m2.2-1.1h2.3m-13.4-1h2.2m11.2-2.2h2.2m-11.1-1h2.2m6.7-1.1h2.2m-13.4-1.1h4.5m-2.2-1h2.2m2.2-1.1h4.5m-4.5-4.2h2.2m-2.2-2.2h6.7m-4.5-2.1h2.3m-73.5-3.2h2.2m-2.2-3.2h2.2m4.5-3.2h6.7m-6.7-3.2h2.2m2.2 0h2.3m-13.4-1h2.2m11.2-1.1h4.4m6.7 0h6.7m-22.3-1.1h4.5m4.4 0h2.2m2.3 0h2.2m-24.5-1h2.2m0-1.1h2.3m4.4 0h4.5m-4.5-1h2.2m22.3-1.1h2.2m-22.2-1.1h2.2m2.2 0h2.2m4.5 0h4.4m-24.4-2.1h6.6m6.7 0h2.2m4.5 0h2.2m4.5-1.1h2.2m-28.9-1h2.2m26.7-1.1h2.2m-8.9-1.1h2.2m4.5-1h4.5m-29-1.1h2.2m2.3 0h2.2m4.4 0h2.3m6.6-1.1h2.3m2.2-1h2.2m-31.1-1.1h2.2m8.9 0h4.4m4.5-1h2.2m4.5 0h2.2m-17.8-2.2h4.4m2.3 0h2.2" stroke="#46c06f" stroke-width="1.18"/>
<path d="M238.4 810.7h2.3m2.2 0h2.2m-13.3-1.1h2.2m0-1.1h4.4m-11.1-1h2.2m17.8 0h2.3m-29-1.1h4.5m6.7 0h2.2m-6.7-1h2.2m4.5 0h2.2m2.2 0h2.3m-13.4-1.1h2.2m15.6 0h2.2m-2.2-1.1h6.7m-44.5-1h2.2m-2.2-1.1h2.2m2.2 0h2.3m2.2 0h2.2m0-1.1h2.2m29 0h2.2m-28.9-2.1h2.2m20-2.1h2.2m-8.9-2.1h2.3m6.6-1.1h2.3m-2.3-2.1h2.3m-6.7-4.3h2.2m-2.2-1.1h2.2m-11.1-1h2.2m13.4-6.4h2.2m-75.7-5.3h2.2m2.3-4.3h2.2m6.7 0h2.2m-11.1-3.2h2.2m2.2 0h2.2m2.3 0h2.2m2.2 0h4.5m-20.1-2.1h6.7m8.9 0h2.2m2.3 0h2.2m-20-1.1h4.4m4.5 0h2.2m-11.1-2.1h2.2m6.7 0h2.2m-13.4-1h2.3m2.2 0h2.2m22.3-1.1h2.2m-24.5-1.1h2.2m8.9 0h2.3m4.4-1h2.2m-13.3-1.1h2.2m-17.8-2.1h2.2m4.5 0h2.2m20-1.1h2.3m-24.5-1.1h2.2m20 0h2.3m-4.5-1h4.5m-24.5-1.1h2.2m6.7 0h4.4m4.5 0h2.2m0-2.1h2.2m2.3 0h2.2m2.2 0h2.3m-35.7-1.1h2.3m2.2 0h6.7m-2.3-1h2.3m2.2 0h2.2m2.2 0h4.5m8.9-1.1h2.2m-26.7-1.1h6.7" stroke="#5ec962" stroke-width="1.18"/>
<path d="M238.4 808.5h4.5m6.7 0h2.2m-20-1h2.2m6.7 0h2.2m6.7 0h2.2m-35.6-1.1h4.4m6.7 0h2.2m4.5 0h4.4m2.3 0h2.2m-2.2-1h2.2m-8.9-1.1h2.2m-26.7-2.1h2.2m2.3-1.1h2.2m2.2 0h2.2m2.3-1.1h4.4m15.6 0h2.2m2.2 0h2.3m-2.3-1h2.3m-2.3-1.1h2.3m-8.9-4.2h6.6m-2.2-3.2h2.2m2.3 0h2.2m-8.9-2.2h2.2m2.2 0h2.3m-6.7-1h4.4m2.3-1.1h2.2m-6.7-1.1h2.2m-11.1-1h6.7m-66.8-7.5h2.2m-2.2-1h2.2m-2.2-2.2h2.2m-2.2-4.2h2.2m0-1.1h2.3m-4.5-2.1h2.2m8.9-3.2h2.3m6.6 0h2.3m-20.1-1.1h2.3m-4.5-3.1h2.2m2.3 0h2.2m4.4 0h2.3m13.3-1.1h4.5m-29-1.1h4.5m4.4 0h2.3m-6.7-1h2.2m2.2-1.1h2.3m6.6-1.1h2.3m4.4 0h2.2m-2.2-2.1h2.2m-20-1.1h2.2m13.4 0h2.2m-4.4-1h4.4m4.5 0h2.2m-22.3-1.1h2.3m4.4-1.1h8.9m-6.7-1h2.3m2.2 0h2.2m2.2 0h2.3m-17.8-1.1h2.2m-8.9-1h2.2m4.5 0h2.2m2.2 0h2.2m11.2-1.1h2.2m-26.7-1.1h2.2" stroke="#77d153" stroke-width="1.18"/>
<path d="M242.9 808.5h6.7m-15.6-1h4.4m4.5 0h2.2m-20-1.1h2.2m2.2 0h2.3m6.6 0h2.3m-4.5-1h2.2m6.7 0h2.2m-11.1-1.1h2.2m2.3 0h4.4m2.2 0h4.5m-37.8-2.1h2.2m28.9 0h2.2m-26.7-1.1h2.3m4.4 0h2.2m-2.2-3.2h2.2m13.4 0h2.2m-17.8-1.1h4.5m15.5-1h2.3m0-2.1h2.2m-6.7-5.4h2.2m0-1h4.5m-4.5-2.2h4.5m-75.7-25.5h2.2m2.3-2.1h2.2m13.3 0h2.3m-15.6-1.1h2.2m-6.7-1h4.5m2.2 0h2.2m2.3 0h2.2m2.2 0h2.2m2.3 0h4.4m-26.7-1.1h4.5m13.3-1.1h2.2m2.3 0h2.2m-2.2-2.1h4.4m-24.5-1.1h4.5m6.7 0h2.2m0-1h2.2m-13.3-1.1h2.2m6.7-1.1h4.4m-8.9-1h2.2m6.7 0h2.2m2.3 0h2.2m-24.5-1.1h2.2m2.3-3.2h2.2" stroke="#95d840" stroke-width="1.18"/>
<path d="M238.4 807.5h2.3m4.4 0h2.2m2.3-1.1h2.2m-8.9-1h2.2m4.5 0h2.2m-13.4-1.1h2.3m-29-2.1h2.3m2.2 0h4.4m13.4 0h2.2m-13.3-1.1h4.4m4.5 0h2.2m-6.7-1.1h2.2m2.3 0h2.2m2.2 0h6.7m2.2 0h2.2m-17.8-2.1h8.9m2.3 0h2.2m6.7 0h2.2m-20-1.1h6.6m11.2-1h2.2m-4.5-2.1h2.3m0-5.4h2.2m-6.7-4.2h2.2m-71.2-17h2.2m0-9.6h2.3m4.4 0h6.7m6.7 0h2.2m-13.4-2.1h2.3m2.2 0h2.2m2.2 0h2.3m-17.8-2.2h6.6m2.3 0h4.4m-2.2-3.2h8.9m-13.4-1h2.3m4.4 0h2.2m-17.8-1.1h2.3m6.6-1.1h2.3m2.2-1h2.2m-13.3-2.1h2.2m2.2 0h2.2m15.6-1.1h4.5m-29-1.1h2.3" stroke="#b2dd2d" stroke-width="1.18"/>
<path d="M242.9 806.4h6.7m-2.3-1h2.3m-8.9-3.2h4.4m-15.6-1.1h2.3m2.2 0h4.4m2.3 0h2.2m-13.4-1.1h2.3m2.2 0h2.2m2.2-2.1h2.3m4.4 0h2.2m-4.4-13.8h2.2m2.2 0h2.3m-73.5-13.9h2.2m-2.2-5.3h2.2m-2.2-2.1h2.2m4.5-5.3h2.2m6.7 0h2.2m6.7 0h2.2m-26.7-1.1h2.2m-2.2-1h2.2m0-2.2h2.3m2.2-2.1h4.4m6.7 0h2.2m-20-1.1h2.2m8.9 0h2.3m-4.5-1h2.2m8.9 0h2.3m-20.1-2.2h4.5m2.2 0h2.2m-11.1-1h2.2m8.9 0h4.5m-13.4-2.1h2.3m-2.3-1.1h2.3m17.8 0h2.2m-24.5-1.1h2.2" stroke="#d2e21b" stroke-width="1.18"/>
<path d="M220.6 802.2h13.4m2.2 0h4.5m6.6 0h4.5m-13.4-1.1h2.3m2.2 0h8.9m-13.4-4.3h13.4m-2.2-12.7h2.2m-75.7-16h2.2m-2.2-6.4h2.2m-2.2-4.2h2.2m15.6 0h2.2m-20-4.3h2.2m8.9 0h2.3m-13.4-2.1h6.7m4.4 0h6.7m2.2 0h2.3m-22.3-2.1h8.9m4.5 0h2.2m-15.6-1.1h2.2m-2.2-1.1h2.2m4.5 0h2.2m-6.7-1h6.7m-8.9-2.1h2.2m-2.2-1.1h2.2m2.3 0h17.8m2.2 0h2.2" stroke="#f1e51d" stroke-width="1.18"/>
<line x1="173.9" y1="811.2" x2="176.1" y2="811.2" stroke="#444" stroke-width="0.6"/>
<text x="172.7" y="813.6" font-size="7" text-anchor="end" fill="#222" stroke="#222" stroke-width="0.15">0</text>
<line x1="173.9" y1="796.9" x2="176.1" y2="796.9" stroke="#444" stroke-width="0.6"/>
<text x="172.7" y="799.3" font-size="7" text-anchor="end" fill="#222" stroke="#222" stroke-width="0.15">25</text>
<line x1="173.9" y1="782.6" x2="176.1" y2="782.6" stroke="#444" stroke-width="0.6"/>
<text x="172.7" y="785" font-size="7" text-anchor="end" fill="#222" stroke="#222" stroke-width="0.15">50</text>
<line x1="173.9" y1="768.3" x2="176.1" y2="768.3" stroke="#444" stroke-width="0.6"/>
<text x="172.7" y="770.7" font-size="7" text-anchor="end" fill="#222" stroke="#222" stroke-width="0.15">75</text>
<line x1="173.9" y1="753.4" x2="176.1" y2="753.4" stroke="#444" stroke-width="0.6"/>
<text x="172.7" y="755.8" font-size="7" text-anchor="end" fill="#222" stroke="#222" stroke-width="0.15">100</text>
<line x1="176.86" y1="811.2" x2="176.86" y2="813.4" stroke="#444" stroke-width="0.6"/>
<line x1="199.57" y1="811.2" x2="199.57" y2="813.4" stroke="#444" stroke-width="0.6"/>
<line x1="221.52" y1="811.2" x2="221.52" y2="813.4" stroke="#444" stroke-width="0.6"/>
<line x1="244.99" y1="811.2" x2="244.99" y2="813.4" stroke="#444" stroke-width="0.6"/>
<text x="214" y="730" font-size="8.7" text-anchor="middle" font-weight="bold" fill="#222" stroke="#222" stroke-width="0.07">Attend-to-vision</text>
<text x="212.1" y="824" font-size="8.6" text-anchor="middle" fill="#222" stroke="#222" stroke-width="0.15">Delay period</text>
<rect x="257.5" y="741" width="5.5" height="70.2" fill="url(#vir)"/>
<line x1="263" y1="741" x2="265" y2="741" stroke="#444" stroke-width="0.6"/>
<line x1="263" y1="811.2" x2="265" y2="811.2" stroke="#444" stroke-width="0.6"/>
<text x="266.5" y="744.2" font-size="8.6" fill="#222" stroke="#222" stroke-width="0.15">1</text>
<text x="266.5" y="814.4" font-size="8.6" fill="#222" stroke="#222" stroke-width="0.15">0</text>
<rect x="309.5" y="740.8" width="76.2" height="70.8" fill="#1f958b"/>
<path d="M347.6 811.1h4.5m2.2 0h2.3m6.7 0h2.2m2.3 0h17.9m-4.5-2.2h2.3m-15.7-1.1h2.2m4.5 0h2.2m4.5 0h4.5m-15.7-1h15.7m-15.7-1.1h2.3m6.7 0h2.2m-13.4-1.1h8.9m2.3 0h2.2m-20.2-2.1h9m11.2 0h2.3m-22.5-2.2h2.3m2.2 0h15.7m2.3 0h2.2m-20.2-1h9m9 0h2.2m-26.9-1.1h2.2m2.3 0h6.7m-11.2-2.2h2.2m15.7 0h9m-15.7-1h4.5m4.5 0h2.2m2.3 0h2.2m-11.2-2.2h9m-26.9-1h15.7m4.4 0h4.5m-20.2-2.2h4.5m2.3 0h2.2m2.3 0h4.4m2.3 0h4.5m-20.2-1.1h2.2m18-2.1h2.2m-20.2-3.2h6.8m4.4 0h2.3m-15.7-2.2h2.2m4.5 0h2.3m6.7 0h2.2m-13.4-1h2.2m2.3 0h2.2m4.5 0h2.2m2.3 0h2.2m-2.2-1.1h2.2m-4.5-8.6h4.5m-74-7.5h2.3m-4.5-15h2.2m-2.2-1.1h9m-2.3-4.3h2.3" stroke="#46085c" stroke-width="1.19"/>
<path d="M352.1 811.1h2.2m4.5 0h4.5m2.2 0h2.3m2.2-1.1h2.3m-22.5-1.1h11.2m4.5 0h2.3m2.2 0h6.7m6.8 0h2.2m-29.1-1.1h4.4m15.7 0h4.5m-31.4-1h2.3m15.7 0h2.2m-6.7-1.1h2.2m6.8 0h2.2m-13.5-1.1h2.3m2.2 0h2.3m8.9 0h2.3m2.2 0h2.3m-26.9-2.1h4.4m9 0h2.3m2.2 0h6.7m2.3 0h2.2m-17.9-1.1h2.2m-15.7-1.1h6.7m2.3 0h2.2m15.7 0h2.3m-22.5-1h2.3m11.2 0h4.5m-18-1.1h2.3m13.4 0h2.3m2.2 0h2.3m-31.4-2.2h2.2m9 0h6.7m4.5 0h2.2m-11.2-1h4.5m4.5 0h4.5m2.2 0h2.3m-11.2-2.2h2.2m9 0h2.2m-33.6-1h4.5m15.7 0h4.4m4.5 0h4.5m-20.2-2.2h2.3m2.2 0h2.3m0-1.1h4.4m-20.1-1h2.2m2.2 0h4.5m9 0h2.2m6.8 0h2.2m-4.5-1.1h2.3m-11.2-1.1h13.4m-13.4-1.1h2.2m-13.5-1h2.3m9 0h4.4m4.5 0h4.5m-24.7-2.2h2.3m9 0h4.4m4.5 0h4.5m-22.4-1h4.5m13.4 0h2.3m-4.5-1.1h4.5m-2.3-5.4h4.5m-9-4.3h6.8m0-1h2.2m-2.2-2.2h2.2m-76.2-3.2h2.2m-2.2-6.4h2.2m0-8.6h4.5m4.5 0h2.2m6.8 0h2.2m-22.4-4.3h2.2m6.8-1.1h2.2" stroke="#481a6c" stroke-width="1.19"/>
<path d="M340.9 811.1h2.2m2.3 0h2.2m9 0h2.2m0-1.1h2.2m4.5 0h4.5m9 0h2.2m2.3 0h2.2m-24.7-1.1h4.5m2.3 0h2.2m9 0h2.2m-33.6-1.1h9m13.4 0h2.3m-26.9-1h4.4m4.5 0h4.5m4.5 0h4.5m-13.5-1.1h4.5m6.7 0h2.3m6.7 0h4.5m4.5-1.1h2.2m-31.4-1h2.3m11.2 0h2.2m4.5 0h4.5m2.2 0h4.5m-13.4-1.1h2.2m-15.7-1.1h2.2m2.3 0h4.5m2.2 0h2.3m-24.7-2.1h2.2m13.5 0h2.2m13.5 0h4.5m-13.5-1.1h6.7m6.8 0h2.2m-13.4-1.1h2.2m6.7 0h2.3m-38.1-1.1h6.7m2.2 0h4.5m2.2 0h2.3m6.7 0h4.5m-15.7-2.1h2.2m22.5 0h2.2m-31.4-1.1h2.3m8.9 0h4.5m-20.2-1h2.3m29.1-1.1h2.3m-26.9-1.1h4.4m15.7 0h2.3m4.5 0h2.2m-17.9-1.1h2.2m6.7 0h2.3m2.2 0h2.3m-35.9-1h2.2m4.5 0h2.3m2.2 0h2.2m4.5 0h4.5m6.7 0h6.8m-20.2-1.1h2.2m9 0h2.2m2.3 0h2.2m-13.4-1.1h2.2m-4.5-1.1h6.8m2.2 0h6.7m-17.9-1h2.2m13.5 0h2.2m-22.4-2.2h2.2m4.5 0h4.5m-11.2-1h4.5m13.4 0h2.3m-20.2-1.1h2.2m2.3 0h2.2m9 0h4.5m-4.5-1.1h2.2m-2.2-1.1h2.2m2.3 0h2.2m-2.2-1h2.2m-4.5-2.2h2.3m0-1.1h2.2m-4.5-2.1h4.5m-2.2-2.1h2.2m-71.7-2.2h6.7m65 0h2.3m-69.5-7.5h2.2m-4.5-2.1h2.3m4.5 0h2.2m-9-2.2h6.8m-4.5-1.1h2.2m6.7 0h2.3m-11.2-1h2.2m13.5 0h2.2m-15.7-4.3h2.3m4.4 0h6.8m4.5 0h2.2m-17.9-1.1h6.7m2.2 0h2.3m-20.2-2.1h4.5m-2.3-2.2h4.5" stroke="#482979" stroke-width="1.19"/>
<path d="M343.1 811.1h2.3m11.2-1.1h2.2m2.2 0h2.3m9 0h6.7m2.2 0h2.3m-6.8-1.1h2.3m-35.9-1.1h2.3m15.6 0h2.3m2.2 0h2.3m4.5 0h2.2m-31.4-1h2.3m6.7 0h2.2m4.5 0h4.5m-11.2-1.1h2.2m4.5 0h4.5m4.5 0h2.2m11.2 0h4.5m-31.4-1.1h4.5m4.5 0h2.2m-13.4-1h2.2m2.3 0h2.2m2.2 0h6.8m4.5 0h2.2m4.5 0h2.2m-31.4-1.1h6.8m-4.5-1.1h6.7m2.2 0h2.3m11.2 0h2.2m4.5 0h4.5m-33.6-1.1h2.2m-4.5-1h2.3m2.2 0h2.3m0-1.1h2.2m20.2 0h2.2m-20.2-1.1h2.3m2.2 0h2.3m6.7 0h4.5m-40.4-1.1h2.3m15.7-1h2.2m4.5 0h2.2m-4.5-1.1h2.3m4.5 0h2.2m2.3 0h4.4m4.5 0h2.3m-31.4-1.1h2.2m2.3 0h2.2m4.5 0h2.2m4.5 0h2.3m-15.7-2.1h2.2m2.2 0h2.3m2.2 0h4.5m6.7 0h4.5m2.3 0h2.2m-33.6-1.1h2.2m4.5-1.1h2.2m4.5 0h2.3m2.2 0h2.3m6.7 0h2.2m2.3 0h2.2m-13.4-1h2.2m-20.2-1.1h2.3m11.2 0h2.2m2.3 0h2.2m2.2 0h2.3m-31.4-1.1h2.2m6.8 0h2.2m4.5 0h4.5m-4.5-1.1h2.2m15.7 0h2.3m-24.7-1h2.2m6.8-1.1h2.2m11.2 0h2.3m-6.8-1.1h2.3m-9-1h2.3m2.2 0h2.2m-15.7-1.1h2.3m2.2 0h9m-11.2-1.1h2.2m15.7 0h4.5m-4.5-1.1h2.3m-11.2-1h2.2m2.2 0h2.3m4.5 0h2.2m-2.2-1.1h2.2m-4.5-2.2h4.5m-76.2-2.1h2.2m60.6 0h4.4m6.8-1.1h2.2m-4.5-1h2.3m0-1.1h2.2m-62.8-1.1h2.3m53.8 0h2.2m-69.5-7.5h2.3m2.2 0h6.7m-8.9-2.1h4.5m2.2 0h2.2m-13.4-2.2h2.2m6.8 0h4.4m-13.4-1.1h4.5m4.5 0h4.4m-13.4-1h2.2m6.8 0h2.2m2.2 0h2.3m-11.2-1.1h2.2m2.3-3.2h2.2m11.2 0h2.3m-4.5-1.1h4.5m-24.7-1.1h4.5m0-1h2.2m2.3 0h4.4m6.8 0h2.2m-20.2-1.1h2.3m-4.5-1.1h2.2m13.5 0h2.2m2.3 0h2.2m-17.9-1.1h2.2" stroke="#453781" stroke-width="1.19"/>
<path d="M338.6 811.1h2.3m11.2-1.1h4.5m6.7 0h2.2m-20.1-1.1h4.4m-11.2-1.1h2.3m4.5 0h2.2m15.7 0h2.2m-17.9-3.2h2.2m2.3 0h2.2m4.5 0h2.2m-11.2-1h2.3m20.2-2.2h2.2m2.2 0h4.5m-33.6-1.1h4.5m-11.2-1h2.2m9 0h2.2m2.3 0h4.4m-13.4-1.1h9m6.7-1.1h2.2m2.3 0h4.5m11.2 0h2.2m-44.8-1.1h4.5m13.4-1h4.5m-6.7-1.1h2.2m4.5 0h2.2m4.5 0h2.3m6.7 0h2.2m-22.4-1.1h4.5m-15.7-1h2.2m9-1.1h2.2m2.3 0h2.2m-17.9-1.1h2.2m4.5 0h2.3m4.4-1.1h2.3m-20.2-1h2.3m4.4 0h4.5m15.7 0h2.3m-20.2-1.1h2.2m2.3 0h2.2m2.2 0h2.3m2.2 0h2.3m2.2 0h2.3m-22.5-1.1h4.5m4.5 0h2.2m9 0h2.3m-18-1.1h2.3m2.2 0h4.5m20.2 0h2.2m-31.4-1h4.5m0-1.1h9m2.2 0h2.3m2.2 0h2.2m6.8 0h2.2m-31.4-2.1h4.5m-2.2-1.1h2.2m9-1.1h2.2m2.3 0h2.2m2.2 0h2.3m-11.2-1.1h2.2m6.7 0h2.3m4.5 0h2.2m-15.7-1h2.3m8.9 0h2.3m-11.2-1.1h2.2m4.5-1.1h2.2m-6.7-4.3h2.2m-2.2-1h4.5m-62.8-2.2h4.5m4.5 0h4.5m44.8 0h4.5m-65-3.2h4.5m65 0h2.2m-76.2-4.3h2.2m11.2-2.1h4.5m-15.7-1.1h2.3m11.2 0h2.2m-11.2-2.2h2.3m6.7 0h2.2m-15.7-1h2.3m11.2 0h4.5m2.2 0h4.5m-24.7-1.1h2.3m4.5 0h2.2m4.5-4.3h2.2m9 0h2.2m-11.2-2.1h2.3m2.2 0h2.3m2.2 0h2.2m-22.4-1.1h2.3m2.2-1.1h4.5m2.2 0h2.3m-18-1.1h2.3m2.2 0h4.5m4.5 0h4.5" stroke="#404588" stroke-width="1.19"/>
<path d="M336.4 811.1h2.2m11.2-1.1h2.3m-9-1.1h2.3m-4.5-1.1h2.2m-2.2-1h2.2m6.7-1.1h2.3m-6.7-1.1h2.2m2.2 0h2.3m-4.5-1h2.2m9 0h2.2m9 0h2.3m-26.9-1.1h4.4m0-1.1h2.3m-9-1.1h2.3m-2.3-1h4.5m-2.2-1.1h2.2m9-1.1h4.4m18 0h2.2m-44.8-1.1h2.2m6.8-1h4.4m2.3 0h2.2m11.2-1.1h2.3m8.9 0h2.3m-31.4-1.1h4.5m-2.3-2.1h6.8m13.4 0h4.5m-29.1-1.1h2.2m2.2 0h2.3m2.2-1.1h4.5m-17.9-1h2.2m2.3-1.1h2.2m11.2 0h2.2m-6.7-1.1h2.3m4.4 0h2.3m-6.7-1.1h2.2m-6.7-1h2.2m18-1.1h2.2m-20.2-1.1h4.5m-4.5-2.1h2.3m2.2-1.1h4.5m6.7 0h2.3m6.7 0h2.2m-15.7-1.1h2.3m2.2 0h4.5m-9-1h4.5m4.5 0h2.2m2.3-1.1h4.5m-13.5-1.1h6.7m-4.4-1.1h6.7m0-1h6.7m-15.7-1.1h2.3m-2.3-1.1h2.3m8.9-2.1h2.3m-62.8-1.1h2.2m6.8 0h2.2m38.1 0h4.5m9-1.1h2.2m-2.2-1h2.2m-65-1.1h2.2m-11.2-1.1h2.3m8.9-3.2h9m-15.7-1.1h2.3m4.4 0h2.3m4.5 0h2.2m-4.5-1h2.3m-9-1.1h4.5m4.5 0h2.2m-9-1.1h2.3m2.2-1.1h4.5m2.3 0h4.4m-22.4-1h2.3m2.2 0h2.2m13.5 0h9m-35.9-1.1h2.2m4.5 0h2.3m2.2 0h2.2m-13.4-1.1h2.2m2.3 0h8.9m2.3 0h2.2m-15.7-1.1h2.3m6.7 0h2.2m13.5-1h6.7m2.3 0h2.2m2.2 0h2.3m-33.6-2.2h4.4m18 0h2.2m-26.9-1h2.3m4.4 0h4.5m-13.4-1.1h2.2m15.7-1.1h4.5m-26.9-1.1h2.2m11.2 0h2.3" stroke="#3b528b" stroke-width="1.19"/>
<path d="M334.2 808.9h2.2m2.2 0h4.5m-6.7-1.1h2.2m9-2.1h2.2m-4.4-2.1h2.2m-4.5-1.1h2.3m0-1.1h4.4m-8.9-1.1h2.2m2.3 0h2.2m-11.2-1h4.5m-2.3-1.1h6.8m6.7-1.1h2.2m-4.5-2.1h2.3m2.2 0h2.3m-2.3-1.1h2.3m-11.2-1.1h2.2m-2.2-1h2.2m26.9-1.1h2.2m-24.6-2.2h2.2m-8.9-1h2.2m-4.5-1.1h2.3m2.2 0h4.5m-9-1.1h4.5m4.5-1.1h2.2m-4.5-2.1h2.3m2.2 0h2.3m20.1 0h4.5m-29.1-1.1h2.2m-4.5-1h2.3m0-1.1h2.2m11.2-1.1h2.3m-9-1.1h6.7m-8.9-1h8.9m11.2-1.1h2.3m-13.5-1.1h4.5m0-2.1h2.3m2.2 0h4.5m-67.3-1.1h6.8m49.3 0h2.2m-53.8-1.1h2.3m53.8 0h2.2m-62.8-1h4.5m56.1 0h2.2m2.2-1.1h4.5m-49.3-1.1h4.5m31.4 0h2.2m-60.5-1.1h4.5m15.7 0h2.2m44.8 0h2.3m2.2 0h2.3m-74-1h2.2m11.2-1.1h2.3m53.8 0h4.5m-74-1.1h2.2m2.3 0h2.2m6.7-2.1h4.5m4.5-1.1h2.3m47 0h2.3m-74-1.1h2.2m9 0h2.2m2.3 0h2.2m-17.9-2.1h2.2m2.3 0h6.7m6.7 0h2.3m2.2 0h4.5m-11.2-1.1h4.5m2.2-1.1h2.3m6.7 0h2.2m-20.2-2.1h4.5m-4.5-1.1h2.3m2.2 0h2.3m-20.2-1.1h2.2m2.3 0h2.2m6.7 0h2.3m22.4-1h2.2m-15.6-1.1h2.2m4.5 0h6.7m-33.6-1.1h2.2m11.2 0h9m2.2 0h2.3m-6.7-1h2.2m2.2 0h2.3m-22.4-1.1h6.7m6.7 0h2.3m8.9-1.1h2.3m-24.7-1.1h2.2m6.8 0h4.5m2.2 0h2.2" stroke="#355e8d" stroke-width="1.19"/>
<path d="M345.4 810h4.4m-13.4-1.1h2.2m0-2.1h2.3m2.2-1.1h4.5m-9-1.1h6.8m-2.3-1h2.3m-4.5-1.1h2.2m-4.5-2.2h2.3m-4.5-2.1h2.2m15.7-1.1h2.3m-24.7-1.1h4.5m4.5-3.2h4.5m-6.8-1h6.8m0-1.1h4.4m-8.9-1.1h4.5m0-1.1h6.7m-15.7-1h4.5m8.9-3.3h2.3m-4.5-1h4.5m4.5-1.1h2.2m-6.7-2.1h2.2m-4.5-1.1h2.3m0-1.1h2.2m2.3 0h2.2m-4.5-1.1h2.3m8.9-2.1h6.8m-62.8-2.2h2.2m51.6 0h6.7m-51.5-2.1h2.2m40.3 0h2.3m2.2 0h2.3m-58.3-1.1h2.2m15.7 0h2.3m38.1 0h2.2m-60.5-1h2.2m4.5 0h2.3m51.5 0h2.3m2.2-1.1h2.2m-11.2-1.1h2.3m-53.8-1.1h8.9m4.5 0h2.3m44.8 0h2.2m2.3 0h2.2m-69.5-1h2.3m17.9 0h2.3m47 0h2.3m-65-1.1h2.2m4.5 0h4.5m47 0h2.3m4.5-1.1h2.2m-76.2-2.1h2.2m4.5 0h2.3m8.9 0h2.3m49.3-1.1h2.2m2.3 0h2.2m-74-1.1h4.5m11.2 0h2.3m0-1h2.2m2.3-2.2h2.2m4.5 0h2.2m9 0h2.2m-15.7-1.1h2.3m2.2 0h2.3m0-1h2.2m-20.2-1.1h2.3m2.2 0h2.3m-22.5-1.1h2.3m15.7 0h2.2m-13.4-1.1h2.2m4.5 0h4.5m4.5 0h2.2m6.7-1h2.3m-6.8-1.1h2.3m8.9 0h4.5m-38.1-1.1h2.3m4.4 0h4.5m9 0h2.2m-13.4-2.1h2.2m11.2-1.1h4.5" stroke="#306a8e" stroke-width="1.19"/>
<path d="M334.2 811.1h2.2m6.7-1.1h2.3m-13.5-1.1h2.3m0-2.1h2.2m4.5-1.1h2.2m-2.2-2.1h2.2m-6.7-1.1h4.5m-4.5-2.2h2.2m-4.4-1h2.2m-2.2-1.1h2.2m11.2-1.1h4.5m-15.7-2.1h9m0-1.1h4.4m2.3 0h2.2m-11.2-3.2h2.3m-13.5-3.2h4.5m4.5-1.1h2.2m4.5-2.2h2.2m-4.4-1h2.2m4.5-1.1h2.2m2.3-5.4h2.2m15.7-2.1h2.2m-13.4-1.1h2.2m4.5-1.1h2.3m-4.5-1h2.2m2.3 0h2.2m-62.8-2.2h4.5m2.3 0h2.2m2.2 0h4.5m2.3 0h2.2m33.6 0h2.3m-49.3-1h4.4m44.9 0h2.2m-56-1.1h2.2m6.7 0h2.3m13.4-1.1h2.3m-18-1.1h4.5m6.8 0h2.2m35.9 0h2.2m-60.5-1h2.2m4.5 0h6.7m51.6 0h2.2m-62.7-2.2h2.2m-6.7-1.1h2.2m-4.5-1h4.5m67.3 0h2.2m-51.5-1.1h4.4m2.3 0h2.2m4.5 0h4.5m-33.6-1.1h2.2m11.2 0h4.5m-4.5-1h4.5m2.2 0h2.3m-4.5-1.1h4.5m-11.2-1.1h2.2m4.5 0h4.5m2.2 0h2.3m2.2-2.1h4.5m4.5 0h2.2m-29.1-1.1h2.2m4.5 0h2.2m-22.4-2.2h2.3m17.9 0h2.2m9-2.1h2.2m4.5 0h4.5m-13.4-1.1h2.2m-6.7-1h4.5m-18-1.1h2.3m6.7 0h2.2m-2.2-1.1h2.2m9 0h2.2m2.3 0h4.5m-22.4-1.1h2.2m2.2 0h4.5" stroke="#2b748e" stroke-width="1.19"/>
<path d="M322.9 808.9h2.3m4.5 0h2.2m2.3-1.1h2.2m0-1h2.2m0-1.1h2.3m-6.7-3.2h2.2m4.5-1.1h4.5m-13.5-1.1h4.5m9-3.2h2.2m-17.9-1.1h2.2m17.9-2.1h2.3m-13.5-1.1h2.3m-4.5-1h2.2m0-1.1h4.5m-4.5-1.1h2.3m-2.3-1.1h2.3m2.2 0h2.3m-6.8-2.1h2.3m0-1.1h2.2m0-1.1h4.5m-6.7-1h4.5m2.2-1.1h2.2m0-1.1h2.3m-6.7-1h4.4m-2.2-1.1h2.2m4.5-1.1h2.3m-4.5-1.1h2.2m9-2.1h2.2m-4.5-2.2h2.3m0-2.1h2.2m-44.8-1.1h2.2m11.3 0h4.4m24.7 0h2.2m-42.6-1h2.3m2.2 0h4.5m2.3 0h2.2m29.1 0h2.3m-58.3-1.1h2.2m6.8 0h4.4m2.3 0h2.2m9-1.1h2.2m24.7 0h2.2m-33.6-1.1h2.3m2.2 0h2.2m31.4 0h2.3m-56.1-1h4.5m6.7 0h2.3m4.5 0h2.2m2.2 0h2.3m35.8 0h2.3m-49.3-1.1h11.2m-24.7-1.1h2.3m8.9 0h4.5m49.3 0h2.3m-74-1.1h4.5m4.5 0h6.7m9 0h2.2m-15.7-1h2.2m6.8 0h2.2m6.7-1.1h2.3m2.2 0h4.5m4.5 0h4.5m-20.2-1.1h2.2m-2.2-1h2.2m2.3-1.1h2.2m-11.2-1.1h2.3m11.2 0h2.2m9 0h2.2m-13.4-1.1h2.2m4.5 0h2.2m-22.4-3.2h4.5m-6.7-1.1h4.5m4.4 0h2.3m2.2 0h2.3m2.2 0h2.2m4.5 0h2.3m-4.5-1h8.9m-2.2-1.1h2.2m-17.9-1.1h2.3m2.2 0h4.5m-22.4-2.1h2.2m2.3 0h2.2m2.2 0h6.8m0-1.1h2.2m9 0h6.7m-17.9-1.1h2.2m2.2 0h2.3" stroke="#27808e" stroke-width="1.19"/>
<path d="M338.6 810h4.5m-15.7-1.1h2.3m2.2-1.1h2.3m-2.3-1h2.3m2.2-1.1h2.2m-4.4-1.1h2.2m2.2-1h2.3m-2.3-2.2h2.3m-9-2.1h2.3m-4.5-1.1h4.5m8.9-1.1h2.3m-2.3-3.2h2.3m-11.2-2.1h2.2m0-1.1h2.2m-2.2-1.1h2.2m-2.2-4.3h2.2m-2.2-1.1h2.2m2.3 0h2.2m-4.5-1h2.3m4.5-1.1h2.2m0-1.1h2.2m0-4.3h2.3m-2.3-1h2.3m2.2 0h2.3m0-1.1h6.7m-53.8-1.1h2.2m2.3 0h2.2m4.5 0h2.2m35.9 0h4.5m-38.1-1.1h2.2m26.9 0h6.7m2.3-1h4.5m-47.1-1.1h2.2m33.7 0h2.2m-26.9-1.1h2.3m26.8 0h2.3m-38.1-1h2.2m4.5 0h2.3m-22.5-1.1h2.3m13.4 0h4.5m40.4 0h2.2m-15.7-1.1h4.5m-24.7-1.1h2.3m26.9 0h2.2m-40.3-1h2.2m42.6-1.1h2.2m-51.5-1.1h2.2m9 0h4.5m35.8 0h2.3m-62.8-1.1h2.3m0-1h2.2m11.2 0h2.3m42.5-1.1h2.3m-40.4-1.1h4.5m-2.2-1h2.2m40.4 0h2.2m-40.3-1.1h2.2m2.2 0h2.3m-4.5-1.1h4.5m2.2 0h2.3m-9-1.1h2.2m33.7 0h2.2m-33.6-1h4.5m2.2 0h2.2m18 0h2.2m2.3 0h2.2m-47.1-1.1h6.8m2.2 0h4.5m-11.2-2.2h2.2m17.9-2.1h2.3m-15.7-2.1h9m2.2 0h2.2m-11.2-1.1h2.3m-2.3-1.1h2.3m-9-1.1h2.3m2.2 0h2.2" stroke="#228b8d" stroke-width="1.19"/>
<path d="M331.9 811.1h2.3m-9-2.2h2.2m2.3-1.1h2.2m2.3-2.1h2.2m0-1.1h2.2m-2.2-1h2.2m-8.9-1.1h4.5m-6.8-2.2h2.3m0-1h2.2m9-2.2h2.2m-8.9-4.3h2.2m-4.5-1h2.3m6.7-3.3h2.2m-6.7-2.1h2.2m0-1.1h2.3m-2.3-1.1h2.3m-31.4-5.3h2.2m33.7 0h2.2m-33.6-1.1h2.2m33.6 0h2.3m0-2.1h2.2m-42.6-2.2h2.3m4.5 0h2.2m4.5 0h4.5m26.9 0h2.2m-47.1-1.1h9m-6.7-1h2.2m44.8 0h2.3m-40.4-1.1h4.5m2.3 0h2.2m26.9 0h2.2m-24.6-2.1h2.2m4.5 0h2.3m17.9 0h2.2m-49.3-1.1h2.3m51.5 0h2.3m-31.4-1.1h2.2m2.3 0h2.2m2.2 0h2.3m-9-1.1h2.3m-9-1h2.2m31.4 0h6.7m-35.8-1.1h2.2m2.3 0h4.4m22.5 0h2.2m-53.8-1.1h4.5m6.7 0h4.5m38.1 0h2.2m2.3 0h2.2m-53.8-1.1h4.5m6.7 0h2.3m42.6 0h2.2m-29.1-2.1h2.2m15.7 0h2.2m-33.6-1.1h2.3m2.2 0h2.2m33.7 0h2.2m-40.3-1h6.7m29.1 0h2.3m-40.4-1.1h2.3m2.2 0h2.2m11.2-1.1h2.3m-13.5-1.1h2.3m-17.9-2.1h2.2m9 0h2.2m6.7 0h2.3m-20.2-1.1h2.2m2.3 0h4.5m4.4-1.1h4.5m2.3 0h2.2m4.5-2.1h2.2m-13.4-1.1h2.2m-8.9-1h2.2m15.7 0h2.2m-20.1-1.1h4.4m4.5 0h2.3m6.7-1.1h2.2m2.3 0h2.2m-17.9-1.1h2.2m2.3 0h8.9" stroke="#1f958b" stroke-width="1.19"/>
<path d="M329.7 811.1h2.2m2.3-1.1h4.4m-6.7-5.4h2.3m2.2-3.2h2.2m-8.9-1.1h2.2m0-3.2h2.3m2.2 0h4.5m-13.5-1.1h2.3m2.2-1h2.3m6.7-1.1h2.2m-6.7-1.1h2.2m-8.9-1h2.2m0-2.2h4.5m-2.2-1.1h2.2m-2.2-2.1h2.2m-26.9-1.1h2.2m22.5-2.1h2.2m6.7-1.1h2.3m-2.3-1.1h4.5m-33.6-1h2.2m26.9 0h2.3m-33.7-1.1h6.8m-9-1.1h4.5m33.6 0h2.2m-40.3-2.1h2.2m40.4-1.1h2.2m-38.1-1.1h2.3m4.4 0h2.3m-2.3-1.1h2.3m-15.7-1h4.5m2.2 0h2.3m6.7 0h2.2m0-1.1h2.3m2.2 0h2.3m20.1 0h2.3m-18-2.1h4.5m17.9 0h2.3m2.2-1.1h4.5m-26.9-1.1h2.3m-4.5-1.1h2.2m-2.2-1h4.5m-2.3-1.1h2.3m-4.5-1.1h4.5m-20.2-1.1h2.2m4.5 0h2.3m2.2 0h2.2m-4.4-1h6.7m17.9-1.1h2.2m11.3 0h2.2m-29.1-1.1h2.2m33.6 0h2.3m-40.4-1h2.3m6.7-1.1h2.2m29.2-1.1h2.2m-31.4-1.1h4.5m22.4 0h2.3m-22.5-1h2.3m2.2 0h4.5m2.3 0h2.2m-15.7-1.1h2.2m-22.4-1.1h2.3m6.7 0h4.5m6.7 0h2.2m-15.6-1.1h2.2m11.2 0h2.2m0-1h4.5m-11.2-2.2h4.5m-2.2-1h2.2m2.2 0h2.3m2.2 0h2.3m-15.7-1.1h2.2m15.7-1.1h2.3m-18-1.1h2.3" stroke="#1fa188" stroke-width="1.19"/>
<path d="M327.4 811.1h2.3m-2.3-3.3h2.3m-2.3-5.3h2.3m4.5-1.1h2.2m-9-3.2h2.3m-4.5-2.2h2.2m6.8-1h2.2m0-1.1h4.5m-31.4-4.3h2.2m15.7 0h4.5m4.5-1.1h2.2m-26.9-3.2h2.3m17.9 0h4.5m-2.2-1.1h2.2m2.2-4.2h4.5m-24.6-1.1h2.2m22.4 0h2.3m-24.7-1.1h2.2m-13.4-1.1h2.2m2.3 0h2.2m29.2 0h4.4m-35.8-1h2.2m-6.7-1.1h2.2m42.6 0h2.3m-4.5-1.1h2.2m-33.6-1.1h2.2m26.9 0h4.5m-35.8-1h2.2m2.2 0h2.3m2.2 0h2.3m29.1 0h2.2m-26.8-1.1h2.2m13.4 0h2.3m-13.5-1.1h2.3m4.5 0h2.2m4.5 0h2.2m4.5 0h2.2m-29.1-2.1h4.5m24.6 0h2.3m-11.2-1.1h6.7m6.7-1.1h2.3m-22.4-1h4.4m20.2-1.1h2.3m-24.7-1.1h2.2m-6.7-1.1h2.3m-4.5-1h2.2m38.1 0h2.3m-20.2-1.1h2.2m-13.4-2.1h2.2m22.4 0h2.3m-24.7-1.1h4.5m22.4 0h2.3m-24.7-1.1h2.2m20.2 0h2.3m-24.7-1.1h2.2m2.3-1h2.2m4.5 0h2.3m2.2 0h4.5m2.2 0h2.3m-31.4-1.1h2.2m-8.9-1.1h2.2m9 0h2.2m2.2-1.1h2.3m2.2-1h2.3m-2.3-1.1h2.3m-2.3-4.3h2.3m-2.3-1.1h2.3" stroke="#25ac82" stroke-width="1.19"/>
<path d="M320.7 808.9h2.2m6.8-2.1h2.2m-2.2-2.2h2.2m2.3-1h2.2m-4.5-2.2h2.3m-24.7-2.1h2.2m15.7 0h2.3m-6.8-1.1h4.5m6.8-1.1h2.2m-6.7-2.1h2.2m2.3-4.3h2.2m-6.7-2.2h4.5m-6.8-1h4.5m-22.4-3.3h2.2m2.3 0h2.2m11.2 0h2.3m2.2 0h2.3m-22.5-1h2.3m17.9 0h2.3m2.2 0h2.2m2.3-1.1h2.2m-29.1-1.1h2.2m24.7 0h2.2m-33.6-1h4.5m4.5 0h4.4m13.5 0h2.2m2.3-1.1h2.2m-26.9-1.1h2.3m26.9 0h2.2m-35.9-1.1h2.3m-2.3-1h2.3m2.2 0h2.3m26.9 0h2.2m-35.9-1.1h4.5m13.5-1.1h2.2m-4.5-1.1h4.5m-11.2-1h2.2m6.8 0h2.2m15.7-1.1h2.2m2.3 0h2.2m-13.4-1.1h4.5m0-1h2.2m6.7 0h6.7m2.3-1.1h2.2m-17.9-1.1h2.2m13.5-1.1h2.2m2.3-1h2.2m-2.2-1.1h2.2m-24.6-1.1h2.2m22.4 0h4.5m-33.6-1.1h2.2m38.1 0h2.3m-40.4-1h4.5m2.2 0h2.3m8.9-1.1h2.3m-11.2-1.1h2.2m24.7 0h2.2m-26.9-1h4.5m20.2 0h2.2m2.3-1.1h2.2m-22.4-1.1h2.2m-4.5-1.1h2.3m15.7 0h2.2m-24.6-2.1h2.2m-6.7-1.1h4.5m6.7 0h2.2m-2.2-1.1h2.2m2.3-2.1h2.2m-13.4-3.2h4.4" stroke="#32b67a" stroke-width="1.19"/>
<path d="M314 808.9h2.2m2.3 0h2.2m11.2-3.2h2.3m-9-5.4h2.2m-6.7-4.3h4.5m2.2-4.2h2.3m-18-2.2h2.3m4.5 0h2.2m2.2 0h4.5m-15.7-5.4h2.3m4.5 0h4.4m-13.4-2.1h4.5m24.6 0h2.3m-20.2-1.1h2.2m-6.7-1h2.3m6.7 0h6.7m-11.2-1.1h2.2m2.3 0h2.2m11.2 0h2.3m-22.4-1.1h2.2m22.4 0h2.3m-4.5-2.1h2.2m4.5 0h2.2m-33.6-1.1h6.7m26.9 0h2.3m-13.5-1.1h2.3m13.4 0h2.3m-24.7-1.1h4.5m2.2 0h2.3m2.2 0h4.5m-13.4-1h2.2m0-1.1h4.5m2.2 0h2.3m4.4-1.1h2.3m2.2 0h4.5m-11.2-1h4.5m-15.7-1.1h4.5m4.5-2.2h2.2m13.4 0h2.3m-9-1h2.3m-6.8-1.1h2.3m15.7-1.1h2.2m-24.6-1.1h2.2m29.1 0h4.5m-33.6-1h2.2m26.9 0h4.5m-13.4-1.1h4.5m-22.5-1.1h2.3m6.7-1h2.2m-2.2-1.1h2.2m18 0h2.2m-17.9-2.2h4.5m6.7 0h4.5m-18-2.1h2.3m20.2 0h2.2m-17.9-3.2h2.2m11.2 0h2.3m-24.7-2.2h6.7m15.7 0h2.3m-22.5-2.1h2.3m9-1.1h2.2m9 0h2.2m-17.9-1.1h4.5" stroke="#46c06f" stroke-width="1.19"/>
<path d="M331.9 810h2.3m-18-1.1h2.3m6.7-1.1h2.2m0-1h2.3m0-1.1h2.2m-4.5-1.1h2.3m2.2-1h2.3m-9-1.1h2.2m-4.5-2.2h2.3m0-1h2.2m6.8-5.4h2.2m-4.5-1.1h2.3m-11.3-1h4.5m4.5-1.1h2.3m-22.5-2.2h2.3m0-3.2h4.5m6.7 0h6.7m-15.7-1.1h2.3m-9-1h2.2m15.7 0h4.5m-22.4-2.2h4.5m8.9-1h2.3m-2.3-1.1h2.3m-9-2.2h4.5m22.4 0h2.3m-26.9-1h6.7m17.9 0h2.3m2.2-1.1h2.2m-17.9-1.1h6.7m4.5 0h4.5m2.2 0h2.3m-15.7-1.1h2.2m9 0h2.2m4.5-1h2.3m-15.7-1.1h2.2m4.5-1.1h2.2m-8.9-2.1h2.2m6.7-3.2h2.3m6.7 0h2.2m4.5 0h2.3m-15.7-1.1h2.2m20.2-2.2h2.2m-24.6-1h2.2m11.2-1.1h2.3m-13.5-1.1h2.3m20.1 0h2.3m-18-2.1h6.8m6.7-1.1h2.2m-6.7-1.1h4.5m-11.2-2.1h2.2m15.7 0h2.3m-22.5-1.1h2.3m2.2-1.1h2.3m2.2 0h2.3m-2.3-1h2.3m2.2 0h4.5m4.5 0h2.2m-2.2-1.1h2.2m-20.2-1.1h2.3m8.9 0h2.3m4.5 0h2.2m-17.9-1h2.2m2.3 0h4.4m0-2.2h4.5" stroke="#5ec962" stroke-width="1.19"/>
<path d="M325.2 811.1h2.2m0-1.1h4.5m-20.2-1.1h2.3m15.7-5.3h2.2m-11.2-1.1h4.5m0-1.1h2.2m2.3 0h2.2m-15.7-2.1h2.3m2.2 0h4.5m-11.2-3.3h2.2m11.2-1h2.3m2.2-1.1h2.3m-20.2-2.1h2.2m-2.2-2.2h4.5m2.2 0h2.2m-13.4-1.1h2.2m6.8 0h2.2m4.5 0h4.5m-6.8-1h2.3m4.5-1.1h4.5m-15.7-1.1h6.7m-2.3-1.1h4.5m2.3 0h2.2m-17.9-1h2.2m9 0h2.2m-11.2-1.1h2.3m17.9 0h2.2m-22.4-1.1h2.3m20.1 0h2.3m-6.7-2.1h2.2m-13.5-1.1h2.3m-4.5-1.1h2.2m15.7-1h2.3m4.5-1.1h2.2m-15.7-3.2h2.3m17.9 0h2.2m2.3 0h2.2m-13.4-1.1h2.2m4.5-2.1h2.2m4.5-1.1h2.2m-13.4-2.2h2.2m9 0h2.2m-8.9-1h2.2m6.7 0h4.5m-8.9-1.1h2.2m4.5 0h2.2m-15.7-1.1h2.3m-4.5-1.1h4.5m17.9 0h2.3m-18-1h2.3m17.9 0h2.2m-2.2-2.2h2.2m-15.7-1h2.3m2.2 0h4.5m2.3 0h4.4m-8.9-1.1h6.7m2.2 0h2.3m-13.5-1.1h4.5m2.3 0h2.2m2.2 0h2.3m-11.2-1.1h2.2m-4.5-2.1h6.8m6.7 0h2.2m-15.7-1.1h2.3m0-1.1h2.2m6.7 0h2.3m2.2 0h2.3m-4.5-1h2.2m-11.2-1.1h4.5m-6.7-1.1h4.5m6.7 0h2.2m-11.2-1h2.3m11.2 0h2.2m-11.2-2.2h2.2" stroke="#77d153" stroke-width="1.19"/>
<path d="M322.9 811.1h2.3m-15.7-2.2h2.2m15.7-3.2h2.3m-2.3-4.3h2.3m-9-1.1h2.2m-11.2-1h4.5m13.5-2.2h2.2m-22.4-1.1h4.5m13.4-2.1h4.5m-2.2-1.1h2.2m-20.2-1h2.3m15.7-1.1h2.2m-11.2-2.2h4.5m-15.7-1h2.2m13.5 0h2.2m-17.9-1.1h2.2m15.7 0h2.3m-15.7-4.3h2.2m2.3 0h2.2m11.2 0h4.5m-2.2-1.1h2.2m-4.5-1h2.3m2.2-1.1h2.2m0-1.1h2.3m-13.5-1.1h2.3m-4.5-1h2.2m-4.5-1.1h2.3m2.2 0h2.3m11.2-2.2h2.2m-6.7-1h6.7m11.2-4.3h4.5m-2.2-2.2h2.2m-2.2-1h2.2m0-1.1h2.2m4.5 0h2.3m-15.7-1.1h2.2m2.3 0h2.2m6.7 0h2.3m-15.7-1.1h2.2m2.3-1h2.2m0-2.2h2.2m2.3-1h2.2m9-1.1h2.2m-6.7-1.1h2.3m6.7 0h2.2m2.3-5.4h2.2m-13.4-1h2.2m6.7-1.1h2.3m-11.2-1.1h2.2m-11.2-2.1h4.5m13.4-1.1h2.3m-9-1.1h2.2m6.8 0h2.2" stroke="#95d840" stroke-width="1.19"/>
<path d="M322.9 807.8h2.3m-2.3-3.2h4.5m0-1h2.3m-13.5-3.3h2.3m0-1h2.2m-11.2-1.1h2.2m6.8 0h4.4m4.5-1.1h2.3m-13.5-1.1h4.5m-11.2-4.2h2.2m9 0h2.2m-6.7-4.3h2.3m2.2 0h2.2m-6.7-4.3h4.5m2.2-1.1h4.5m2.3 0h2.2m-13.4-1.1h2.2m6.7 0h2.3m2.2 0h2.3m2.2 0h2.2m-4.4-1h2.2m-6.7-1.1h4.5m-9-1.1h2.2m13.5 0h2.2m-20.2-1.1h4.5m13.5 0h2.2m-13.4-1h4.5m-9-1.1h2.2m2.3 0h2.2m9-1.1h2.2m0-2.1h2.3m4.4 0h2.3m-4.5-4.3h2.2m2.3 0h2.2m-2.2-2.2h4.5m-2.3-2.1h2.3m4.4-1.1h2.3m-9-1.1h2.3m2.2-1h4.5m2.2 0h2.3m2.2 0h2.3m-15.7-2.2h2.2m4.5 0h2.2m4.5 0h2.3m-2.3-1h2.3m2.2-5.4h2.2m-2.2-2.2h2.2m2.3 0h2.2m-6.7-2.1h4.5m-2.3-2.1h4.5m-13.4-1.1h2.2m9 0h2.2" stroke="#b2dd2d" stroke-width="1.19"/>
<path d="M320.7 811.1h2.2m-2.2-3.3h2.2m-2.2-1h2.2m-2.2-2.2h2.2m-6.7-2.1h2.3m0-2.2h2.2m-9-2.1h6.8m6.7-1.1h2.2m-4.5-2.1h4.5m-8.9-3.2h2.2m-4.5-3.3h2.3m-6.8-1h2.3m11.2-1.1h2.2m-4.5-3.2h2.3m-2.3-2.2h2.3m2.2-2.1h2.3m-2.3-1.1h2.3m4.5 0h4.4m-8.9-1.1h4.5m2.2 0h4.5m-13.5-1h2.3m11.2-1.1h4.5m2.2-1.1h2.2m-2.2-2.1h2.2m-6.7-4.3h2.3m4.4 0h2.3m-2.3-2.2h2.3m8.9-2.1h2.3m-9-1.1h2.3m2.2 0h2.2m-4.4-1.1h2.2m13.5 0h2.2m-2.2-1h2.2m-6.7-2.2h2.2m2.3 0h2.2m-2.2-6.4h2.2m9-1.1h2.2m-13.4-1.1h2.2m4.5-2.1h2.2m-6.7-1.1h2.2m4.5-1h2.3m-13.5-1.1h4.5m-2.2-2.2h2.2m4.5 0h4.5" stroke="#d2e21b" stroke-width="1.19"/>
<path d="M309.5 811.1h11.2m-11.2-1.1h17.9m-17.9-2.2h11.2m-11.2-1h11.2m2.2 0h4.5m-17.9-1.1h17.9m-17.9-1.1h11.2m-11.2-1h17.9m-17.9-1.1h6.7m2.3 0h2.2m-11.2-1.1h15.7m-15.7-1.1h6.7m-6.7-3.2h15.7m-15.7-2.1h13.4m-13.4-1.1h17.9m-17.9-1.1h20.2m-13.5-1h2.3m-9-1.1h20.2m-15.7-2.2h2.2m-2.2-1h2.2m2.3 0h2.2m-9-1.1h13.5m-4.5-3.2h2.2m-2.2-1.1h2.2m4.5 0h2.3m-4.5-1.1h2.2m2.3 0h2.2m-2.2-3.2h4.5m0-1.1h2.2m-2.2-1h4.4m-6.7-1.1h9m4.5-3.2h2.2m-2.2-4.3h2.2m15.7-5.4h2.2m-6.7-1.1h11.2m-6.7-1h2.2m2.3 0h2.2m-9-2.2h2.3m2.2 0h2.3m8.9-6.4h2.3m-11.2-1.1h15.7m-9-6.4h4.5m2.2 0h4.5m-9-2.2h2.3" stroke="#f1e51d" stroke-width="1.19"/>
<line x1="307.3" y1="811.6" x2="309.5" y2="811.6" stroke="#444" stroke-width="0.6"/>
<text x="306.1" y="814" font-size="7" text-anchor="end" fill="#222" stroke="#222" stroke-width="0.15">0</text>
<line x1="307.3" y1="797.1" x2="309.5" y2="797.1" stroke="#444" stroke-width="0.6"/>
<text x="306.1" y="799.5" font-size="7" text-anchor="end" fill="#222" stroke="#222" stroke-width="0.15">25</text>
<line x1="307.3" y1="782.9" x2="309.5" y2="782.9" stroke="#444" stroke-width="0.6"/>
<text x="306.1" y="785.3" font-size="7" text-anchor="end" fill="#222" stroke="#222" stroke-width="0.15">50</text>
<line x1="307.3" y1="768.4" x2="309.5" y2="768.4" stroke="#444" stroke-width="0.6"/>
<text x="306.1" y="770.8" font-size="7" text-anchor="end" fill="#222" stroke="#222" stroke-width="0.15">75</text>
<line x1="307.3" y1="753.9" x2="309.5" y2="753.9" stroke="#444" stroke-width="0.6"/>
<text x="306.1" y="756.3" font-size="7" text-anchor="end" fill="#222" stroke="#222" stroke-width="0.15">100</text>
<line x1="310.26" y1="811.6" x2="310.26" y2="813.8" stroke="#444" stroke-width="0.6"/>
<line x1="333.12" y1="811.6" x2="333.12" y2="813.8" stroke="#444" stroke-width="0.6"/>
<line x1="355.22" y1="811.6" x2="355.22" y2="813.8" stroke="#444" stroke-width="0.6"/>
<line x1="378.84" y1="811.6" x2="378.84" y2="813.8" stroke="#444" stroke-width="0.6"/>
<text x="356.2" y="729.9" font-size="8.7" text-anchor="middle" font-weight="bold" fill="#222" stroke="#222" stroke-width="0.07">Attend-to-audition</text>
<text x="350.5" y="823.3" font-size="8.6" text-anchor="middle" fill="#222" stroke="#222" stroke-width="0.15">Delay period</text>
<rect x="390.4" y="740.8" width="5.8" height="70.8" fill="url(#vir)"/>
<line x1="396.2" y1="740.8" x2="398.2" y2="740.8" stroke="#444" stroke-width="0.6"/>
<line x1="396.2" y1="811.6" x2="398.2" y2="811.6" stroke="#444" stroke-width="0.6"/>
<text x="399.7" y="744" font-size="8.6" fill="#222" stroke="#222" stroke-width="0.15">1</text>
<text x="399.7" y="814.8" font-size="8.6" fill="#222" stroke="#222" stroke-width="0.15">0</text>
<text transform="translate(21.8 648.9) rotate(-90)" font-size="8.6" text-anchor="middle" fill="#222" stroke="#222" stroke-width="0.15">PFC excitatory units</text>
<text transform="translate(31.8 648.9) rotate(-90)" font-size="8.6" text-anchor="middle" fill="#222" stroke="#222" stroke-width="0.15">(sorted by vision)</text>
<text transform="translate(21.8 775) rotate(-90)" font-size="8.6" text-anchor="middle" fill="#222" stroke="#222" stroke-width="0.15">PFC excitatory units</text>
<text transform="translate(31.8 775) rotate(-90)" font-size="8.6" text-anchor="middle" fill="#222" stroke="#222" stroke-width="0.15">(sorted by audition)</text>
<text x="433.4" y="592" font-size="18.5" font-weight="bold" fill="#000" stroke="#000" stroke-width="0.07">j</text>
<line x1="485" y1="601.6" x2="485" y2="686.5" stroke="#444" stroke-width="0.8"/>
<line x1="485" y1="686.5" x2="608.8" y2="686.5" stroke="#444" stroke-width="0.8"/>
<line x1="482.5" y1="686.5" x2="485" y2="686.5" stroke="#444" stroke-width="0.8"/>
<text x="481.4" y="689.3" font-size="8.1" text-anchor="end" fill="#222" stroke="#222" stroke-width="0.15">0.0</text>
<line x1="482.5" y1="670.46" x2="485" y2="670.46" stroke="#444" stroke-width="0.8"/>
<text x="481.4" y="673.26" font-size="8.1" text-anchor="end" fill="#222" stroke="#222" stroke-width="0.15">0.2</text>
<line x1="482.5" y1="654.42" x2="485" y2="654.42" stroke="#444" stroke-width="0.8"/>
<text x="481.4" y="657.22" font-size="8.1" text-anchor="end" fill="#222" stroke="#222" stroke-width="0.15">0.4</text>
<line x1="482.5" y1="638.38" x2="485" y2="638.38" stroke="#444" stroke-width="0.8"/>
<text x="481.4" y="641.18" font-size="8.1" text-anchor="end" fill="#222" stroke="#222" stroke-width="0.15">0.6</text>
<line x1="482.5" y1="622.34" x2="485" y2="622.34" stroke="#444" stroke-width="0.8"/>
<text x="481.4" y="625.14" font-size="8.1" text-anchor="end" fill="#222" stroke="#222" stroke-width="0.15">0.8</text>
<line x1="482.5" y1="606.3" x2="485" y2="606.3" stroke="#444" stroke-width="0.8"/>
<text x="481.4" y="609.1" font-size="8.1" text-anchor="end" fill="#222" stroke="#222" stroke-width="0.15">1.0</text>
<text transform="translate(462.4 645) rotate(-90)" font-size="8.5" text-anchor="middle" fill="#222" stroke="#222" stroke-width="0.15">Decoding accuracy</text>
<rect x="491" y="607.1" width="10.6" height="79.4" fill="#d62728"/>
<g fill="#555" fill-opacity="0.7"><circle cx="496.42" cy="607.43" r="1.05"/><circle cx="496.42" cy="606.58" r="1.05"/><circle cx="496.62" cy="607.28" r="1.05"/><circle cx="496.11" cy="607.33" r="1.05"/></g>
<line x1="496.3" y1="605.66" x2="496.3" y2="608.54" stroke="#111" stroke-width="1.4"/>
<rect x="501.2" y="607.1" width="10.6" height="79.4" fill="#1f77b4"/>
<g fill="#555" fill-opacity="0.7"><circle cx="506.57" cy="606.89" r="1.05"/><circle cx="506.36" cy="606.13" r="1.05"/><circle cx="507.13" cy="607.56" r="1.05"/><circle cx="506.39" cy="607.41" r="1.05"/></g>
<line x1="506.5" y1="605.66" x2="506.5" y2="608.54" stroke="#111" stroke-width="1.4"/>
<rect x="512" y="652.01" width="10.6" height="34.49" fill="#ff7f0e"/>
<g fill="#555" fill-opacity="0.7"><circle cx="518.01" cy="647.92" r="1.05"/><circle cx="517.45" cy="651.11" r="1.05"/><circle cx="517.14" cy="651.67" r="1.05"/><circle cx="516.59" cy="651.64" r="1.05"/><circle cx="517" cy="657.33" r="1.05"/><circle cx="517.38" cy="651.45" r="1.05"/><circle cx="517.2" cy="650.95" r="1.05"/><circle cx="516.93" cy="651.39" r="1.05"/></g>
<line x1="517.3" y1="648.65" x2="517.3" y2="655.37" stroke="#111" stroke-width="1.4"/>
<rect x="571.6" y="650.41" width="10.6" height="36.09" fill="#d62728"/>
<g fill="#555" fill-opacity="0.7"><circle cx="576.67" cy="649.92" r="1.05"/><circle cx="577.48" cy="652.26" r="1.05"/><circle cx="576.33" cy="650.4" r="1.05"/><circle cx="576.68" cy="650.83" r="1.05"/><circle cx="576.34" cy="651.09" r="1.05"/><circle cx="576.98" cy="654.82" r="1.05"/><circle cx="577.01" cy="651.84" r="1.05"/><circle cx="576.38" cy="656.72" r="1.05"/><circle cx="576.23" cy="653.5" r="1.05"/><circle cx="576.78" cy="647.94" r="1.05"/></g>
<line x1="576.9" y1="645.13" x2="576.9" y2="655.69" stroke="#111" stroke-width="1.4"/>
<rect x="582.2" y="631.16" width="10.6" height="55.34" fill="#1f77b4"/>
<g fill="#555" fill-opacity="0.7"><circle cx="587.22" cy="625.86" r="1.05"/><circle cx="587.41" cy="632.84" r="1.05"/><circle cx="587.9" cy="631.6" r="1.05"/><circle cx="587.31" cy="628.02" r="1.05"/><circle cx="587.76" cy="637.7" r="1.05"/><circle cx="587.6" cy="626.23" r="1.05"/><circle cx="587.16" cy="637.56" r="1.05"/><circle cx="587.57" cy="624.23" r="1.05"/><circle cx="587.47" cy="626.51" r="1.05"/><circle cx="587.28" cy="629.21" r="1.05"/><circle cx="587.25" cy="633.38" r="1.05"/><circle cx="587.48" cy="628.8" r="1.05"/></g>
<line x1="587.5" y1="623.96" x2="587.5" y2="638.36" stroke="#111" stroke-width="1.4"/>
<rect x="592.6" y="606.3" width="10.6" height="80.2" fill="#ff7f0e"/>
<g fill="#555" fill-opacity="0.7"><circle cx="598.27" cy="606.66" r="1.05"/><circle cx="597.01" cy="606.27" r="1.05"/></g>
<line x1="597.9" y1="605.18" x2="597.9" y2="607.42" stroke="#111" stroke-width="1.4"/>
<line x1="506.6" y1="686.5" x2="506.6" y2="689" stroke="#444" stroke-width="0.8"/>
<line x1="587.4" y1="686.5" x2="587.4" y2="689" stroke="#444" stroke-width="0.8"/>
<text x="507" y="697.3" font-size="8.5" text-anchor="middle" fill="#222" stroke="#222" stroke-width="0.15">Rule</text>
<text x="587.4" y="697.3" font-size="8.5" text-anchor="middle" fill="#222" stroke="#222" stroke-width="0.15">Context</text>
<line x1="495.3" y1="585.6" x2="519.8" y2="585.6" stroke="#888" stroke-width="0.8"/>
<text x="507.55" y="587.5" font-size="9.4" text-anchor="middle" fill="#666" stroke="#666" stroke-width="0.15">***</text>
<line x1="507.5" y1="595.5" x2="520.2" y2="595.5" stroke="#888" stroke-width="0.8"/>
<text x="513.85" y="597.4" font-size="9.4" text-anchor="middle" fill="#666" stroke="#666" stroke-width="0.15">***</text>
<line x1="494.6" y1="602.6" x2="506.9" y2="602.6" stroke="#888" stroke-width="0.8"/>
<text x="500.75" y="601.2" font-size="8.7" text-anchor="middle" fill="#555" stroke="#555" stroke-width="0.15">ns</text>
<line x1="575.3" y1="590" x2="599.2" y2="590" stroke="#888" stroke-width="0.8"/>
<text x="587.25" y="591.9" font-size="9.4" text-anchor="middle" fill="#666" stroke="#666" stroke-width="0.15">***</text>
<line x1="586.5" y1="600.6" x2="598.6" y2="600.6" stroke="#888" stroke-width="0.8"/>
<text x="592.55" y="602.5" font-size="9.4" text-anchor="middle" fill="#666" stroke="#666" stroke-width="0.15">***</text>
<line x1="575.3" y1="613.9" x2="588" y2="613.9" stroke="#888" stroke-width="0.8"/>
<text x="581.65" y="615.8" font-size="9.4" text-anchor="middle" fill="#666" stroke="#666" stroke-width="0.15">***</text>
<rect x="615.5" y="605.3" width="37.5" height="33.1" rx="1.5" fill="#fff" stroke="#d0d0d0" stroke-width="0.7"/>
<rect x="618.2" y="608.7" width="13.7" height="5.6" fill="#d62728"/>
<text x="637.8" y="614" font-size="8.4" fill="#222" stroke="#222" stroke-width="0.15">Exc</text>
<rect x="618.2" y="619.3" width="13.7" height="5.6" fill="#1f77b4"/>
<text x="637.8" y="624.6" font-size="8.4" fill="#222" stroke="#222" stroke-width="0.15">Inh</text>
<rect x="618.2" y="629.9" width="13.7" height="5.6" fill="#ff7f0e"/>
<text x="637.8" y="635.2" font-size="8.4" fill="#222" stroke="#222" stroke-width="0.15">MD</text>
<text x="433.2" y="718.3" font-size="18.5" font-weight="bold" fill="#000" stroke="#000" stroke-width="0.07">k</text>
<rect x="484.4" y="708.1" width="83.5" height="9.5" rx="4.75" fill="#dce3e6"/>
<text x="526" y="715.9" font-size="8.8" text-anchor="middle" fill="#2a2a2a" stroke="#2a2a2a" stroke-width="0.15">Rule</text>
<rect x="587.9" y="708" width="38.5" height="9.7" rx="4.85" fill="#dce3e6"/>
<text x="607.2" y="715.9" font-size="8.8" text-anchor="middle" fill="#2a2a2a" stroke="#2a2a2a" stroke-width="0.15">Context</text>
<line x1="483.8" y1="737.3" x2="483.8" y2="827.6" stroke="#444" stroke-width="0.8"/>
<line x1="483.8" y1="827.6" x2="625.2" y2="827.6" stroke="#444" stroke-width="0.8"/>
<line x1="481.3" y1="827.6" x2="483.8" y2="827.6" stroke="#444" stroke-width="0.8"/>
<text x="480.2" y="830.4" font-size="8.1" text-anchor="end" fill="#222" stroke="#222" stroke-width="0.15">0.0</text>
<line x1="481.3" y1="810.53" x2="483.8" y2="810.53" stroke="#444" stroke-width="0.8"/>
<text x="480.2" y="813.33" font-size="8.1" text-anchor="end" fill="#222" stroke="#222" stroke-width="0.15">0.2</text>
<line x1="481.3" y1="793.46" x2="483.8" y2="793.46" stroke="#444" stroke-width="0.8"/>
<text x="480.2" y="796.26" font-size="8.1" text-anchor="end" fill="#222" stroke="#222" stroke-width="0.15">0.4</text>
<line x1="481.3" y1="776.39" x2="483.8" y2="776.39" stroke="#444" stroke-width="0.8"/>
<text x="480.2" y="779.19" font-size="8.1" text-anchor="end" fill="#222" stroke="#222" stroke-width="0.15">0.6</text>
<line x1="481.3" y1="759.32" x2="483.8" y2="759.32" stroke="#444" stroke-width="0.8"/>
<text x="480.2" y="762.12" font-size="8.1" text-anchor="end" fill="#222" stroke="#222" stroke-width="0.15">0.8</text>
<line x1="481.3" y1="742.25" x2="483.8" y2="742.25" stroke="#444" stroke-width="0.8"/>
<text x="480.2" y="745.05" font-size="8.1" text-anchor="end" fill="#222" stroke="#222" stroke-width="0.15">1.0</text>
<text transform="translate(462.4 782.4) rotate(-90)" font-size="8.5" text-anchor="middle" fill="#222" stroke="#222" stroke-width="0.15">Decoding accuracy</text>
<rect x="489.5" y="743.53" width="7.9" height="84.07" fill="#d62728"/>
<g fill="#555" fill-opacity="0.7"><circle cx="493.32" cy="744.13" r="1.05"/><circle cx="493.94" cy="743.69" r="1.05"/><circle cx="493.59" cy="743.29" r="1.05"/><circle cx="493.13" cy="743.08" r="1.05"/></g>
<line x1="493.45" y1="741.93" x2="493.45" y2="745.13" stroke="#111" stroke-width="1.4"/>
<rect x="497.3" y="761.88" width="7.9" height="65.72" fill="#e0725b"/>
<g fill="#555" fill-opacity="0.7"><circle cx="501.38" cy="764.6" r="1.05"/><circle cx="500.62" cy="764.92" r="1.05"/><circle cx="501.23" cy="760.44" r="1.05"/><circle cx="500.97" cy="759.93" r="1.05"/><circle cx="501.17" cy="763.38" r="1.05"/><circle cx="501.45" cy="763.03" r="1.05"/><circle cx="500.66" cy="759.05" r="1.05"/><circle cx="501.79" cy="763.62" r="1.05"/></g>
<line x1="501.25" y1="758.2" x2="501.25" y2="765.56" stroke="#111" stroke-width="1.4"/>
<rect x="505.5" y="769.56" width="7.9" height="58.04" fill="#eea793"/>
<g fill="#555" fill-opacity="0.7"><circle cx="508.96" cy="766.91" r="1.05"/><circle cx="508.99" cy="768.19" r="1.05"/><circle cx="509.96" cy="766.04" r="1.05"/><circle cx="509.78" cy="772.34" r="1.05"/><circle cx="509.33" cy="768.02" r="1.05"/><circle cx="509.62" cy="772.23" r="1.05"/><circle cx="510.2" cy="771.52" r="1.05"/><circle cx="510.01" cy="768.57" r="1.05"/><circle cx="509.14" cy="765.78" r="1.05"/></g>
<line x1="509.45" y1="765.24" x2="509.45" y2="773.88" stroke="#111" stroke-width="1.4"/>
<rect x="542.3" y="743.1" width="7.9" height="84.5" fill="#1f77b4"/>
<g fill="#555" fill-opacity="0.7"><circle cx="546.44" cy="743.21" r="1.05"/><circle cx="546.23" cy="741.94" r="1.05"/><circle cx="546.4" cy="742.04" r="1.05"/><circle cx="546.57" cy="743.41" r="1.05"/></g>
<line x1="546.25" y1="741.5" x2="546.25" y2="744.7" stroke="#111" stroke-width="1.4"/>
<rect x="550.1" y="755.91" width="7.9" height="71.69" fill="#6d96cb"/>
<g fill="#555" fill-opacity="0.7"><circle cx="554.52" cy="756.59" r="1.05"/><circle cx="553.64" cy="755.53" r="1.05"/><circle cx="553.93" cy="755.45" r="1.05"/><circle cx="554.26" cy="753.35" r="1.05"/><circle cx="554.39" cy="753.65" r="1.05"/><circle cx="553.98" cy="757.68" r="1.05"/><circle cx="554.28" cy="754.52" r="1.05"/><circle cx="554.67" cy="756.64" r="1.05"/></g>
<line x1="554.05" y1="751.91" x2="554.05" y2="759.91" stroke="#111" stroke-width="1.4"/>
<rect x="558.3" y="767.86" width="7.9" height="59.75" fill="#a6bde0"/>
<g fill="#555" fill-opacity="0.7"><circle cx="562.37" cy="767.85" r="1.05"/><circle cx="562.06" cy="763.76" r="1.05"/><circle cx="562.26" cy="769.52" r="1.05"/><circle cx="562.62" cy="766.89" r="1.05"/><circle cx="563.03" cy="771.35" r="1.05"/><circle cx="562.17" cy="767.58" r="1.05"/><circle cx="562.59" cy="767.4" r="1.05"/><circle cx="562.33" cy="770.05" r="1.05"/></g>
<line x1="562.25" y1="764.18" x2="562.25" y2="771.53" stroke="#111" stroke-width="1.4"/>
<rect x="595.1" y="742.25" width="7.9" height="85.35" fill="#f5801f"/>
<g fill="#555" fill-opacity="0.7"><circle cx="598.38" cy="741.95" r="1.05"/></g>
<line x1="599.05" y1="741.29" x2="599.05" y2="743.21" stroke="#111" stroke-width="1.4"/>
<rect x="602.9" y="742.25" width="7.9" height="85.35" fill="#f9a35d"/>
<g fill="#555" fill-opacity="0.7"><circle cx="607.29" cy="742.33" r="1.05"/></g>
<line x1="606.85" y1="741.29" x2="606.85" y2="743.21" stroke="#111" stroke-width="1.4"/>
<rect x="610.8" y="742.25" width="7.9" height="85.35" fill="#fbc69b"/>
<g fill="#555" fill-opacity="0.7"><circle cx="614.33" cy="742.26" r="1.05"/></g>
<line x1="614.75" y1="741.29" x2="614.75" y2="743.21" stroke="#111" stroke-width="1.4"/>
<line x1="501.5" y1="827.6" x2="501.5" y2="830.1" stroke="#444" stroke-width="0.8"/>
<line x1="554.2" y1="827.6" x2="554.2" y2="830.1" stroke="#444" stroke-width="0.8"/>
<line x1="606.8" y1="827.6" x2="606.8" y2="830.1" stroke="#444" stroke-width="0.8"/>
<text x="501.3" y="838.6" font-size="8.5" text-anchor="middle" fill="#222" stroke="#222" stroke-width="0.15">PFC-Exh</text>
<text x="554.4" y="838.6" font-size="8.5" text-anchor="middle" fill="#222" stroke="#222" stroke-width="0.15">PFC-Inh</text>
<text x="607" y="838.6" font-size="8.5" text-anchor="middle" fill="#222" stroke="#222" stroke-width="0.15">MD</text>
<line x1="494.6" y1="726.5" x2="510.4" y2="726.5" stroke="#888" stroke-width="0.8"/>
<text x="502.5" y="728.4" font-size="9.4" text-anchor="middle" fill="#666" stroke="#666" stroke-width="0.15">***</text>
<line x1="493.6" y1="734.7" x2="503.4" y2="734.7" stroke="#888" stroke-width="0.8"/>
<text x="498.5" y="736.6" font-size="9.4" text-anchor="middle" fill="#666" stroke="#666" stroke-width="0.15">***</text>
<line x1="500.8" y1="750.4" x2="510" y2="750.4" stroke="#888" stroke-width="0.8"/>
<text x="505.4" y="752.3" font-size="9.4" text-anchor="middle" fill="#666" stroke="#666" stroke-width="0.15">***</text>
<line x1="547.5" y1="727" x2="563.8" y2="727" stroke="#888" stroke-width="0.8"/>
<text x="555.65" y="728.9" font-size="9.4" text-anchor="middle" fill="#666" stroke="#666" stroke-width="0.15">***</text>
<line x1="546" y1="735.3" x2="555.2" y2="735.3" stroke="#888" stroke-width="0.8"/>
<text x="550.6" y="737.2" font-size="9.4" text-anchor="middle" fill="#666" stroke="#666" stroke-width="0.15">***</text>
<line x1="554.2" y1="748.4" x2="563.8" y2="748.4" stroke="#888" stroke-width="0.8"/>
<text x="559" y="750.3" font-size="9.4" text-anchor="middle" fill="#666" stroke="#666" stroke-width="0.15">***</text>
<rect x="624.3" y="726" width="55.3" height="29.7" rx="1.5" fill="#fff" stroke="#d0d0d0" stroke-width="0.7"/>
<rect x="629.2" y="731.2" width="6.4" height="3.5" fill="#f5801f"/>
<text x="640.1" y="735.4" font-size="6.7" fill="#222" stroke="#222" stroke-width="0.15">low uncert.</text>
<rect x="629.2" y="741.1" width="6.4" height="3.5" fill="#f9a35d"/>
<text x="640.1" y="745.3" font-size="6.7" fill="#222" stroke="#222" stroke-width="0.15">med. uncert.</text>
<rect x="629.2" y="751" width="6.4" height="3.5" fill="#fbc69b"/>
<text x="640.1" y="755.2" font-size="6.7" fill="#222" stroke="#222" stroke-width="0.15">high uncert.</text>
</svg></body></html>
